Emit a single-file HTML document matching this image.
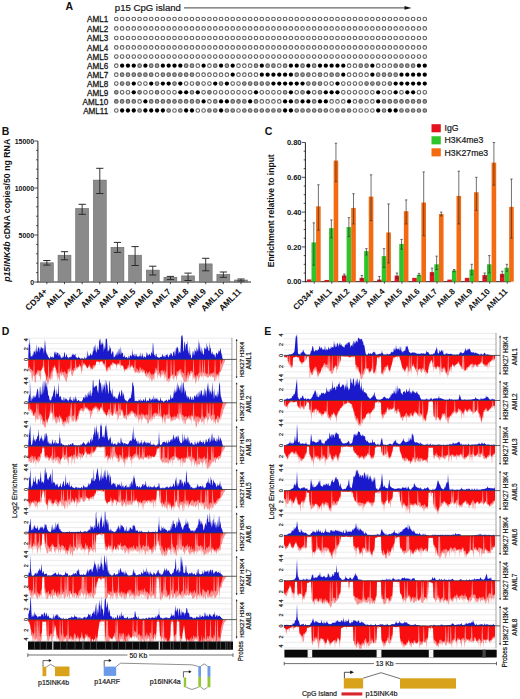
<!DOCTYPE html>
<html><head><meta charset="utf-8"><style>
html,body{margin:0;padding:0;background:#fff;}
svg{display:block;font-family:"Liberation Sans", sans-serif;}
text:not([font-weight=bold]){stroke:#1a1a1a;stroke-width:0.2px;}
</style></head><body>
<svg width="520" height="699" viewBox="0 0 520 699" font-family='"Liberation Sans", sans-serif' fill="#111">
<text x="65.5" y="9.6" font-size="10.5" font-weight="bold">A</text>
<text x="114.8" y="11.2" font-size="9.6">p15 CpG island</text>
<line x1="184" y1="7.9" x2="406" y2="7.9" stroke="#3a3a3a" stroke-width="0.95"/>
<path d="M404.5,6.1 L411.5,7.9 L404.5,9.7 Z" fill="#111"/>
<text transform="translate(108.2,22.20) scale(0.9,1)" font-size="9" text-anchor="end" style="stroke-width:0.3px">AML1</text>
<circle cx="116.30" cy="19.00" r="1.8" fill="#fff" stroke="#606060" stroke-width="1.1"/>
<circle cx="122.12" cy="19.00" r="1.8" fill="#fff" stroke="#606060" stroke-width="1.1"/>
<circle cx="127.94" cy="19.00" r="1.8" fill="#fff" stroke="#606060" stroke-width="1.1"/>
<circle cx="133.76" cy="19.00" r="1.8" fill="#fff" stroke="#606060" stroke-width="1.1"/>
<circle cx="139.58" cy="19.00" r="1.8" fill="#fff" stroke="#606060" stroke-width="1.1"/>
<circle cx="145.40" cy="19.00" r="1.8" fill="#fff" stroke="#606060" stroke-width="1.1"/>
<circle cx="151.22" cy="19.00" r="1.8" fill="#fff" stroke="#606060" stroke-width="1.1"/>
<circle cx="157.04" cy="19.00" r="1.8" fill="#fff" stroke="#606060" stroke-width="1.1"/>
<circle cx="162.86" cy="19.00" r="1.8" fill="#fff" stroke="#606060" stroke-width="1.1"/>
<circle cx="168.68" cy="19.00" r="1.8" fill="#fff" stroke="#606060" stroke-width="1.1"/>
<circle cx="174.50" cy="19.00" r="1.8" fill="#fff" stroke="#606060" stroke-width="1.1"/>
<circle cx="180.32" cy="19.00" r="1.8" fill="#fff" stroke="#606060" stroke-width="1.1"/>
<circle cx="186.14" cy="19.00" r="1.8" fill="#fff" stroke="#606060" stroke-width="1.1"/>
<circle cx="191.96" cy="19.00" r="1.8" fill="#fff" stroke="#606060" stroke-width="1.1"/>
<circle cx="197.78" cy="19.00" r="1.8" fill="#fff" stroke="#606060" stroke-width="1.1"/>
<circle cx="203.60" cy="19.00" r="1.8" fill="#fff" stroke="#606060" stroke-width="1.1"/>
<circle cx="209.42" cy="19.00" r="1.8" fill="#fff" stroke="#606060" stroke-width="1.1"/>
<circle cx="215.24" cy="19.00" r="1.8" fill="#fff" stroke="#606060" stroke-width="1.1"/>
<circle cx="221.06" cy="19.00" r="1.8" fill="#fff" stroke="#606060" stroke-width="1.1"/>
<circle cx="226.88" cy="19.00" r="1.8" fill="#fff" stroke="#606060" stroke-width="1.1"/>
<circle cx="232.70" cy="19.00" r="1.8" fill="#fff" stroke="#606060" stroke-width="1.1"/>
<circle cx="238.52" cy="19.00" r="1.8" fill="#fff" stroke="#606060" stroke-width="1.1"/>
<circle cx="244.34" cy="19.00" r="1.8" fill="#fff" stroke="#606060" stroke-width="1.1"/>
<circle cx="250.16" cy="19.00" r="1.8" fill="#fff" stroke="#606060" stroke-width="1.1"/>
<circle cx="255.98" cy="19.00" r="1.8" fill="#fff" stroke="#606060" stroke-width="1.1"/>
<circle cx="261.80" cy="19.00" r="1.8" fill="#fff" stroke="#606060" stroke-width="1.1"/>
<circle cx="267.62" cy="19.00" r="1.8" fill="#fff" stroke="#606060" stroke-width="1.1"/>
<circle cx="273.44" cy="19.00" r="1.8" fill="#fff" stroke="#606060" stroke-width="1.1"/>
<circle cx="279.26" cy="19.00" r="1.8" fill="#fff" stroke="#606060" stroke-width="1.1"/>
<circle cx="285.08" cy="19.00" r="1.8" fill="#fff" stroke="#606060" stroke-width="1.1"/>
<circle cx="290.90" cy="19.00" r="1.8" fill="#fff" stroke="#606060" stroke-width="1.1"/>
<circle cx="296.72" cy="19.00" r="1.8" fill="#fff" stroke="#606060" stroke-width="1.1"/>
<circle cx="302.54" cy="19.00" r="1.8" fill="#fff" stroke="#606060" stroke-width="1.1"/>
<circle cx="308.36" cy="19.00" r="1.8" fill="#fff" stroke="#606060" stroke-width="1.1"/>
<circle cx="314.18" cy="19.00" r="1.8" fill="#fff" stroke="#606060" stroke-width="1.1"/>
<circle cx="320.00" cy="19.00" r="1.8" fill="#fff" stroke="#606060" stroke-width="1.1"/>
<circle cx="325.82" cy="19.00" r="1.8" fill="#fff" stroke="#606060" stroke-width="1.1"/>
<circle cx="331.64" cy="19.00" r="1.8" fill="#fff" stroke="#606060" stroke-width="1.1"/>
<circle cx="337.46" cy="19.00" r="1.8" fill="#fff" stroke="#606060" stroke-width="1.1"/>
<circle cx="343.28" cy="19.00" r="1.8" fill="#fff" stroke="#606060" stroke-width="1.1"/>
<circle cx="349.10" cy="19.00" r="1.8" fill="#fff" stroke="#606060" stroke-width="1.1"/>
<circle cx="354.92" cy="19.00" r="1.8" fill="#fff" stroke="#606060" stroke-width="1.1"/>
<circle cx="360.74" cy="19.00" r="1.8" fill="#fff" stroke="#606060" stroke-width="1.1"/>
<circle cx="366.56" cy="19.00" r="1.8" fill="#fff" stroke="#606060" stroke-width="1.1"/>
<circle cx="372.38" cy="19.00" r="1.8" fill="#fff" stroke="#606060" stroke-width="1.1"/>
<circle cx="378.20" cy="19.00" r="1.8" fill="#fff" stroke="#606060" stroke-width="1.1"/>
<circle cx="384.02" cy="19.00" r="1.8" fill="#fff" stroke="#606060" stroke-width="1.1"/>
<circle cx="389.84" cy="19.00" r="1.8" fill="#fff" stroke="#606060" stroke-width="1.1"/>
<circle cx="395.66" cy="19.00" r="1.8" fill="#fff" stroke="#606060" stroke-width="1.1"/>
<circle cx="401.48" cy="19.00" r="1.8" fill="#fff" stroke="#606060" stroke-width="1.1"/>
<circle cx="407.30" cy="19.00" r="1.8" fill="#fff" stroke="#606060" stroke-width="1.1"/>
<circle cx="413.12" cy="19.00" r="1.8" fill="#fff" stroke="#606060" stroke-width="1.1"/>
<circle cx="418.94" cy="19.00" r="1.8" fill="#fff" stroke="#606060" stroke-width="1.1"/>
<circle cx="424.76" cy="19.00" r="1.8" fill="#fff" stroke="#606060" stroke-width="1.1"/>
<text transform="translate(108.2,31.60) scale(0.9,1)" font-size="9" text-anchor="end" style="stroke-width:0.3px">AML2</text>
<circle cx="116.30" cy="28.40" r="1.8" fill="#fff" stroke="#606060" stroke-width="1.1"/>
<circle cx="122.12" cy="28.40" r="1.8" fill="#fff" stroke="#606060" stroke-width="1.1"/>
<circle cx="127.94" cy="28.40" r="1.8" fill="#fff" stroke="#606060" stroke-width="1.1"/>
<circle cx="133.76" cy="28.40" r="1.8" fill="#fff" stroke="#606060" stroke-width="1.1"/>
<circle cx="139.58" cy="28.40" r="1.8" fill="#fff" stroke="#606060" stroke-width="1.1"/>
<circle cx="145.40" cy="28.40" r="1.8" fill="#fff" stroke="#606060" stroke-width="1.1"/>
<circle cx="151.22" cy="28.40" r="1.8" fill="#fff" stroke="#606060" stroke-width="1.1"/>
<circle cx="157.04" cy="28.40" r="1.8" fill="#fff" stroke="#606060" stroke-width="1.1"/>
<circle cx="162.86" cy="28.40" r="1.8" fill="#fff" stroke="#606060" stroke-width="1.1"/>
<circle cx="168.68" cy="28.40" r="1.8" fill="#fff" stroke="#606060" stroke-width="1.1"/>
<circle cx="174.50" cy="28.40" r="1.8" fill="#fff" stroke="#606060" stroke-width="1.1"/>
<circle cx="180.32" cy="28.40" r="1.8" fill="#fff" stroke="#606060" stroke-width="1.1"/>
<circle cx="186.14" cy="28.40" r="1.8" fill="#fff" stroke="#606060" stroke-width="1.1"/>
<circle cx="191.96" cy="28.40" r="1.8" fill="#fff" stroke="#606060" stroke-width="1.1"/>
<circle cx="197.78" cy="28.40" r="1.8" fill="#fff" stroke="#606060" stroke-width="1.1"/>
<circle cx="203.60" cy="28.40" r="1.8" fill="#fff" stroke="#606060" stroke-width="1.1"/>
<circle cx="209.42" cy="28.40" r="1.8" fill="#fff" stroke="#606060" stroke-width="1.1"/>
<circle cx="215.24" cy="28.40" r="1.8" fill="#fff" stroke="#606060" stroke-width="1.1"/>
<circle cx="221.06" cy="28.40" r="1.8" fill="#fff" stroke="#606060" stroke-width="1.1"/>
<circle cx="226.88" cy="28.40" r="1.8" fill="#fff" stroke="#606060" stroke-width="1.1"/>
<circle cx="232.70" cy="28.40" r="1.8" fill="#fff" stroke="#606060" stroke-width="1.1"/>
<circle cx="238.52" cy="28.40" r="1.8" fill="#fff" stroke="#606060" stroke-width="1.1"/>
<circle cx="244.34" cy="28.40" r="1.8" fill="#fff" stroke="#606060" stroke-width="1.1"/>
<circle cx="250.16" cy="28.40" r="1.8" fill="#fff" stroke="#606060" stroke-width="1.1"/>
<circle cx="255.98" cy="28.40" r="1.8" fill="#fff" stroke="#606060" stroke-width="1.1"/>
<circle cx="261.80" cy="28.40" r="1.8" fill="#fff" stroke="#606060" stroke-width="1.1"/>
<circle cx="267.62" cy="28.40" r="1.8" fill="#fff" stroke="#606060" stroke-width="1.1"/>
<circle cx="273.44" cy="28.40" r="1.8" fill="#fff" stroke="#606060" stroke-width="1.1"/>
<circle cx="279.26" cy="28.40" r="1.8" fill="#fff" stroke="#606060" stroke-width="1.1"/>
<circle cx="285.08" cy="28.40" r="1.8" fill="#fff" stroke="#606060" stroke-width="1.1"/>
<circle cx="290.90" cy="28.40" r="1.8" fill="#fff" stroke="#606060" stroke-width="1.1"/>
<circle cx="296.72" cy="28.40" r="1.8" fill="#fff" stroke="#606060" stroke-width="1.1"/>
<circle cx="302.54" cy="28.40" r="1.8" fill="#fff" stroke="#606060" stroke-width="1.1"/>
<circle cx="308.36" cy="28.40" r="1.8" fill="#fff" stroke="#606060" stroke-width="1.1"/>
<circle cx="314.18" cy="28.40" r="1.8" fill="#fff" stroke="#606060" stroke-width="1.1"/>
<circle cx="320.00" cy="28.40" r="1.8" fill="#fff" stroke="#606060" stroke-width="1.1"/>
<circle cx="325.82" cy="28.40" r="1.8" fill="#fff" stroke="#606060" stroke-width="1.1"/>
<circle cx="331.64" cy="28.40" r="1.8" fill="#fff" stroke="#606060" stroke-width="1.1"/>
<circle cx="337.46" cy="28.40" r="1.8" fill="#fff" stroke="#606060" stroke-width="1.1"/>
<circle cx="343.28" cy="28.40" r="1.8" fill="#fff" stroke="#606060" stroke-width="1.1"/>
<circle cx="349.10" cy="28.40" r="1.8" fill="#fff" stroke="#606060" stroke-width="1.1"/>
<circle cx="354.92" cy="28.40" r="1.8" fill="#fff" stroke="#606060" stroke-width="1.1"/>
<circle cx="360.74" cy="28.40" r="1.8" fill="#fff" stroke="#606060" stroke-width="1.1"/>
<circle cx="366.56" cy="28.40" r="1.8" fill="#fff" stroke="#606060" stroke-width="1.1"/>
<circle cx="372.38" cy="28.40" r="1.8" fill="#fff" stroke="#606060" stroke-width="1.1"/>
<circle cx="378.20" cy="28.40" r="1.8" fill="#fff" stroke="#606060" stroke-width="1.1"/>
<circle cx="384.02" cy="28.40" r="1.8" fill="#fff" stroke="#606060" stroke-width="1.1"/>
<circle cx="389.84" cy="28.40" r="1.8" fill="#fff" stroke="#606060" stroke-width="1.1"/>
<circle cx="395.66" cy="28.40" r="1.8" fill="#fff" stroke="#606060" stroke-width="1.1"/>
<circle cx="401.48" cy="28.40" r="1.8" fill="#fff" stroke="#606060" stroke-width="1.1"/>
<circle cx="407.30" cy="28.40" r="1.8" fill="#fff" stroke="#606060" stroke-width="1.1"/>
<circle cx="413.12" cy="28.40" r="1.8" fill="#fff" stroke="#606060" stroke-width="1.1"/>
<circle cx="418.94" cy="28.40" r="1.8" fill="#fff" stroke="#606060" stroke-width="1.1"/>
<circle cx="424.76" cy="28.40" r="1.8" fill="#fff" stroke="#606060" stroke-width="1.1"/>
<text transform="translate(108.2,41.20) scale(0.9,1)" font-size="9" text-anchor="end" style="stroke-width:0.3px">AML3</text>
<circle cx="116.30" cy="38.00" r="1.8" fill="#fff" stroke="#606060" stroke-width="1.1"/>
<circle cx="122.12" cy="38.00" r="1.8" fill="#fff" stroke="#606060" stroke-width="1.1"/>
<circle cx="127.94" cy="38.00" r="1.8" fill="#fff" stroke="#606060" stroke-width="1.1"/>
<circle cx="133.76" cy="38.00" r="1.8" fill="#fff" stroke="#606060" stroke-width="1.1"/>
<circle cx="139.58" cy="38.00" r="1.8" fill="#fff" stroke="#606060" stroke-width="1.1"/>
<circle cx="145.40" cy="38.00" r="1.8" fill="#fff" stroke="#606060" stroke-width="1.1"/>
<circle cx="151.22" cy="38.00" r="1.8" fill="#fff" stroke="#606060" stroke-width="1.1"/>
<circle cx="157.04" cy="38.00" r="1.8" fill="#fff" stroke="#606060" stroke-width="1.1"/>
<circle cx="162.86" cy="38.00" r="1.8" fill="#fff" stroke="#606060" stroke-width="1.1"/>
<circle cx="168.68" cy="38.00" r="1.8" fill="#fff" stroke="#606060" stroke-width="1.1"/>
<circle cx="174.50" cy="38.00" r="1.8" fill="#fff" stroke="#606060" stroke-width="1.1"/>
<circle cx="180.32" cy="38.00" r="1.8" fill="#fff" stroke="#606060" stroke-width="1.1"/>
<circle cx="186.14" cy="38.00" r="1.8" fill="#fff" stroke="#606060" stroke-width="1.1"/>
<circle cx="191.96" cy="38.00" r="1.8" fill="#fff" stroke="#606060" stroke-width="1.1"/>
<circle cx="197.78" cy="38.00" r="1.8" fill="#fff" stroke="#606060" stroke-width="1.1"/>
<circle cx="203.60" cy="38.00" r="1.8" fill="#fff" stroke="#606060" stroke-width="1.1"/>
<circle cx="209.42" cy="38.00" r="1.8" fill="#fff" stroke="#606060" stroke-width="1.1"/>
<circle cx="215.24" cy="38.00" r="1.8" fill="#fff" stroke="#606060" stroke-width="1.1"/>
<circle cx="221.06" cy="38.00" r="1.8" fill="#fff" stroke="#606060" stroke-width="1.1"/>
<circle cx="226.88" cy="38.00" r="1.8" fill="#fff" stroke="#606060" stroke-width="1.1"/>
<circle cx="232.70" cy="38.00" r="1.8" fill="#fff" stroke="#606060" stroke-width="1.1"/>
<circle cx="238.52" cy="38.00" r="1.8" fill="#fff" stroke="#606060" stroke-width="1.1"/>
<circle cx="244.34" cy="38.00" r="1.8" fill="#fff" stroke="#606060" stroke-width="1.1"/>
<circle cx="250.16" cy="38.00" r="1.8" fill="#fff" stroke="#606060" stroke-width="1.1"/>
<circle cx="255.98" cy="38.00" r="1.8" fill="#fff" stroke="#606060" stroke-width="1.1"/>
<circle cx="261.80" cy="38.00" r="1.8" fill="#fff" stroke="#606060" stroke-width="1.1"/>
<circle cx="267.62" cy="38.00" r="1.8" fill="#fff" stroke="#606060" stroke-width="1.1"/>
<circle cx="273.44" cy="38.00" r="1.8" fill="#fff" stroke="#606060" stroke-width="1.1"/>
<circle cx="279.26" cy="38.00" r="1.8" fill="#fff" stroke="#606060" stroke-width="1.1"/>
<circle cx="285.08" cy="38.00" r="1.8" fill="#fff" stroke="#606060" stroke-width="1.1"/>
<circle cx="290.90" cy="38.00" r="1.8" fill="#fff" stroke="#606060" stroke-width="1.1"/>
<circle cx="296.72" cy="38.00" r="1.8" fill="#fff" stroke="#606060" stroke-width="1.1"/>
<circle cx="302.54" cy="38.00" r="1.8" fill="#fff" stroke="#606060" stroke-width="1.1"/>
<circle cx="308.36" cy="38.00" r="1.8" fill="#fff" stroke="#606060" stroke-width="1.1"/>
<circle cx="314.18" cy="38.00" r="1.8" fill="#fff" stroke="#606060" stroke-width="1.1"/>
<circle cx="320.00" cy="38.00" r="1.8" fill="#fff" stroke="#606060" stroke-width="1.1"/>
<circle cx="325.82" cy="38.00" r="1.8" fill="#fff" stroke="#606060" stroke-width="1.1"/>
<circle cx="331.64" cy="38.00" r="1.8" fill="#fff" stroke="#606060" stroke-width="1.1"/>
<circle cx="337.46" cy="38.00" r="1.8" fill="#fff" stroke="#606060" stroke-width="1.1"/>
<circle cx="343.28" cy="38.00" r="1.8" fill="#fff" stroke="#606060" stroke-width="1.1"/>
<circle cx="349.10" cy="38.00" r="1.8" fill="#fff" stroke="#606060" stroke-width="1.1"/>
<circle cx="354.92" cy="38.00" r="1.8" fill="#fff" stroke="#606060" stroke-width="1.1"/>
<circle cx="360.74" cy="38.00" r="1.8" fill="#fff" stroke="#606060" stroke-width="1.1"/>
<circle cx="366.56" cy="38.00" r="1.8" fill="#fff" stroke="#606060" stroke-width="1.1"/>
<circle cx="372.38" cy="38.00" r="1.8" fill="#fff" stroke="#606060" stroke-width="1.1"/>
<circle cx="378.20" cy="38.00" r="1.8" fill="#fff" stroke="#606060" stroke-width="1.1"/>
<circle cx="384.02" cy="38.00" r="1.8" fill="#fff" stroke="#606060" stroke-width="1.1"/>
<circle cx="389.84" cy="38.00" r="1.8" fill="#fff" stroke="#606060" stroke-width="1.1"/>
<circle cx="395.66" cy="38.00" r="1.8" fill="#fff" stroke="#606060" stroke-width="1.1"/>
<circle cx="401.48" cy="38.00" r="1.8" fill="#fff" stroke="#606060" stroke-width="1.1"/>
<circle cx="407.30" cy="38.00" r="1.8" fill="#fff" stroke="#606060" stroke-width="1.1"/>
<circle cx="413.12" cy="38.00" r="1.8" fill="#fff" stroke="#606060" stroke-width="1.1"/>
<circle cx="418.94" cy="38.00" r="1.8" fill="#fff" stroke="#606060" stroke-width="1.1"/>
<circle cx="424.76" cy="38.00" r="1.8" fill="#fff" stroke="#606060" stroke-width="1.1"/>
<text transform="translate(108.2,50.60) scale(0.9,1)" font-size="9" text-anchor="end" style="stroke-width:0.3px">AML4</text>
<circle cx="116.30" cy="47.40" r="1.8" fill="#fff" stroke="#606060" stroke-width="1.1"/>
<circle cx="122.12" cy="47.40" r="1.8" fill="#fff" stroke="#606060" stroke-width="1.1"/>
<circle cx="127.94" cy="47.40" r="1.8" fill="#fff" stroke="#606060" stroke-width="1.1"/>
<circle cx="133.76" cy="47.40" r="1.8" fill="#fff" stroke="#606060" stroke-width="1.1"/>
<circle cx="139.58" cy="47.40" r="1.8" fill="#fff" stroke="#606060" stroke-width="1.1"/>
<circle cx="145.40" cy="47.40" r="1.8" fill="#fff" stroke="#606060" stroke-width="1.1"/>
<circle cx="151.22" cy="47.40" r="1.8" fill="#fff" stroke="#606060" stroke-width="1.1"/>
<circle cx="157.04" cy="47.40" r="1.8" fill="#fff" stroke="#606060" stroke-width="1.1"/>
<circle cx="162.86" cy="47.40" r="1.8" fill="#fff" stroke="#606060" stroke-width="1.1"/>
<circle cx="168.68" cy="47.40" r="1.8" fill="#fff" stroke="#606060" stroke-width="1.1"/>
<circle cx="174.50" cy="47.40" r="1.8" fill="#fff" stroke="#606060" stroke-width="1.1"/>
<circle cx="180.32" cy="47.40" r="1.8" fill="#fff" stroke="#606060" stroke-width="1.1"/>
<circle cx="186.14" cy="47.40" r="1.8" fill="#fff" stroke="#606060" stroke-width="1.1"/>
<circle cx="191.96" cy="47.40" r="1.8" fill="#fff" stroke="#606060" stroke-width="1.1"/>
<circle cx="197.78" cy="47.40" r="1.8" fill="#fff" stroke="#606060" stroke-width="1.1"/>
<circle cx="203.60" cy="47.40" r="1.8" fill="#fff" stroke="#606060" stroke-width="1.1"/>
<circle cx="209.42" cy="47.40" r="1.8" fill="#fff" stroke="#606060" stroke-width="1.1"/>
<circle cx="215.24" cy="47.40" r="1.8" fill="#fff" stroke="#606060" stroke-width="1.1"/>
<circle cx="221.06" cy="47.40" r="1.8" fill="#fff" stroke="#606060" stroke-width="1.1"/>
<circle cx="226.88" cy="47.40" r="1.8" fill="#fff" stroke="#606060" stroke-width="1.1"/>
<circle cx="232.70" cy="47.40" r="1.8" fill="#fff" stroke="#606060" stroke-width="1.1"/>
<circle cx="238.52" cy="47.40" r="1.8" fill="#fff" stroke="#606060" stroke-width="1.1"/>
<circle cx="244.34" cy="47.40" r="1.8" fill="#fff" stroke="#606060" stroke-width="1.1"/>
<circle cx="250.16" cy="47.40" r="1.8" fill="#fff" stroke="#606060" stroke-width="1.1"/>
<circle cx="255.98" cy="47.40" r="1.8" fill="#fff" stroke="#606060" stroke-width="1.1"/>
<circle cx="261.80" cy="47.40" r="1.8" fill="#fff" stroke="#606060" stroke-width="1.1"/>
<circle cx="267.62" cy="47.40" r="1.8" fill="#fff" stroke="#606060" stroke-width="1.1"/>
<circle cx="273.44" cy="47.40" r="1.8" fill="#fff" stroke="#606060" stroke-width="1.1"/>
<circle cx="279.26" cy="47.40" r="1.8" fill="#fff" stroke="#606060" stroke-width="1.1"/>
<circle cx="285.08" cy="47.40" r="1.8" fill="#fff" stroke="#606060" stroke-width="1.1"/>
<circle cx="290.90" cy="47.40" r="1.8" fill="#fff" stroke="#606060" stroke-width="1.1"/>
<circle cx="296.72" cy="47.40" r="1.8" fill="#fff" stroke="#606060" stroke-width="1.1"/>
<circle cx="302.54" cy="47.40" r="1.8" fill="#fff" stroke="#606060" stroke-width="1.1"/>
<circle cx="308.36" cy="47.40" r="1.8" fill="#fff" stroke="#606060" stroke-width="1.1"/>
<circle cx="314.18" cy="47.40" r="1.8" fill="#fff" stroke="#606060" stroke-width="1.1"/>
<circle cx="320.00" cy="47.40" r="1.8" fill="#fff" stroke="#606060" stroke-width="1.1"/>
<circle cx="325.82" cy="47.40" r="1.8" fill="#fff" stroke="#606060" stroke-width="1.1"/>
<circle cx="331.64" cy="47.40" r="1.8" fill="#fff" stroke="#606060" stroke-width="1.1"/>
<circle cx="337.46" cy="47.40" r="1.8" fill="#fff" stroke="#606060" stroke-width="1.1"/>
<circle cx="343.28" cy="47.40" r="1.8" fill="#fff" stroke="#606060" stroke-width="1.1"/>
<circle cx="349.10" cy="47.40" r="1.8" fill="#fff" stroke="#606060" stroke-width="1.1"/>
<circle cx="354.92" cy="47.40" r="1.8" fill="#fff" stroke="#606060" stroke-width="1.1"/>
<circle cx="360.74" cy="47.40" r="1.8" fill="#fff" stroke="#606060" stroke-width="1.1"/>
<circle cx="366.56" cy="47.40" r="1.8" fill="#fff" stroke="#606060" stroke-width="1.1"/>
<circle cx="372.38" cy="47.40" r="1.8" fill="#fff" stroke="#606060" stroke-width="1.1"/>
<circle cx="378.20" cy="47.40" r="1.8" fill="#fff" stroke="#606060" stroke-width="1.1"/>
<circle cx="384.02" cy="47.40" r="1.8" fill="#fff" stroke="#606060" stroke-width="1.1"/>
<circle cx="389.84" cy="47.40" r="1.8" fill="#fff" stroke="#606060" stroke-width="1.1"/>
<circle cx="395.66" cy="47.40" r="1.8" fill="#fff" stroke="#606060" stroke-width="1.1"/>
<circle cx="401.48" cy="47.40" r="1.8" fill="#fff" stroke="#606060" stroke-width="1.1"/>
<circle cx="407.30" cy="47.40" r="1.8" fill="#fff" stroke="#606060" stroke-width="1.1"/>
<circle cx="413.12" cy="47.40" r="1.8" fill="#fff" stroke="#606060" stroke-width="1.1"/>
<circle cx="418.94" cy="47.40" r="1.8" fill="#fff" stroke="#606060" stroke-width="1.1"/>
<circle cx="424.76" cy="47.40" r="1.8" fill="#fff" stroke="#606060" stroke-width="1.1"/>
<text transform="translate(108.2,59.80) scale(0.9,1)" font-size="9" text-anchor="end" style="stroke-width:0.3px">AML5</text>
<circle cx="116.30" cy="56.60" r="1.8" fill="#fff" stroke="#606060" stroke-width="1.1"/>
<circle cx="122.12" cy="56.60" r="1.8" fill="#fff" stroke="#606060" stroke-width="1.1"/>
<circle cx="127.94" cy="56.60" r="1.8" fill="#fff" stroke="#606060" stroke-width="1.1"/>
<circle cx="133.76" cy="56.60" r="1.8" fill="#fff" stroke="#606060" stroke-width="1.1"/>
<circle cx="139.58" cy="56.60" r="1.8" fill="#fff" stroke="#606060" stroke-width="1.1"/>
<circle cx="145.40" cy="56.60" r="1.8" fill="#fff" stroke="#606060" stroke-width="1.1"/>
<circle cx="151.22" cy="56.60" r="1.8" fill="#fff" stroke="#606060" stroke-width="1.1"/>
<circle cx="157.04" cy="56.60" r="1.8" fill="#fff" stroke="#606060" stroke-width="1.1"/>
<circle cx="162.86" cy="56.60" r="1.8" fill="#fff" stroke="#606060" stroke-width="1.1"/>
<circle cx="168.68" cy="56.60" r="1.8" fill="#fff" stroke="#606060" stroke-width="1.1"/>
<circle cx="174.50" cy="56.60" r="1.8" fill="#fff" stroke="#606060" stroke-width="1.1"/>
<circle cx="180.32" cy="56.60" r="1.8" fill="#fff" stroke="#606060" stroke-width="1.1"/>
<circle cx="186.14" cy="56.60" r="1.8" fill="#fff" stroke="#606060" stroke-width="1.1"/>
<circle cx="191.96" cy="56.60" r="1.8" fill="#fff" stroke="#606060" stroke-width="1.1"/>
<circle cx="197.78" cy="56.60" r="1.8" fill="#fff" stroke="#606060" stroke-width="1.1"/>
<circle cx="203.60" cy="56.60" r="1.8" fill="#fff" stroke="#606060" stroke-width="1.1"/>
<circle cx="209.42" cy="56.60" r="1.8" fill="#fff" stroke="#606060" stroke-width="1.1"/>
<circle cx="215.24" cy="56.60" r="1.8" fill="#fff" stroke="#606060" stroke-width="1.1"/>
<circle cx="221.06" cy="56.60" r="1.8" fill="#fff" stroke="#606060" stroke-width="1.1"/>
<circle cx="226.88" cy="56.60" r="1.8" fill="#fff" stroke="#606060" stroke-width="1.1"/>
<circle cx="232.70" cy="56.60" r="1.8" fill="#fff" stroke="#606060" stroke-width="1.1"/>
<circle cx="238.52" cy="56.60" r="1.8" fill="#fff" stroke="#606060" stroke-width="1.1"/>
<circle cx="244.34" cy="56.60" r="1.8" fill="#fff" stroke="#606060" stroke-width="1.1"/>
<circle cx="250.16" cy="56.60" r="1.8" fill="#fff" stroke="#606060" stroke-width="1.1"/>
<circle cx="255.98" cy="56.60" r="1.8" fill="#fff" stroke="#606060" stroke-width="1.1"/>
<circle cx="261.80" cy="56.60" r="1.8" fill="#fff" stroke="#606060" stroke-width="1.1"/>
<circle cx="267.62" cy="56.60" r="1.8" fill="#fff" stroke="#606060" stroke-width="1.1"/>
<circle cx="273.44" cy="56.60" r="1.8" fill="#fff" stroke="#606060" stroke-width="1.1"/>
<circle cx="279.26" cy="56.60" r="1.8" fill="#fff" stroke="#606060" stroke-width="1.1"/>
<circle cx="285.08" cy="56.60" r="1.8" fill="#fff" stroke="#606060" stroke-width="1.1"/>
<circle cx="290.90" cy="56.60" r="1.8" fill="#fff" stroke="#606060" stroke-width="1.1"/>
<circle cx="296.72" cy="56.60" r="1.8" fill="#fff" stroke="#606060" stroke-width="1.1"/>
<circle cx="302.54" cy="56.60" r="1.8" fill="#fff" stroke="#606060" stroke-width="1.1"/>
<circle cx="308.36" cy="56.60" r="1.8" fill="#fff" stroke="#606060" stroke-width="1.1"/>
<circle cx="314.18" cy="56.60" r="1.8" fill="#fff" stroke="#606060" stroke-width="1.1"/>
<circle cx="320.00" cy="56.60" r="1.8" fill="#fff" stroke="#606060" stroke-width="1.1"/>
<circle cx="325.82" cy="56.60" r="1.8" fill="#fff" stroke="#606060" stroke-width="1.1"/>
<circle cx="331.64" cy="56.60" r="1.8" fill="#fff" stroke="#606060" stroke-width="1.1"/>
<circle cx="337.46" cy="56.60" r="1.8" fill="#fff" stroke="#606060" stroke-width="1.1"/>
<circle cx="343.28" cy="56.60" r="1.8" fill="#fff" stroke="#606060" stroke-width="1.1"/>
<circle cx="349.10" cy="56.60" r="1.8" fill="#fff" stroke="#606060" stroke-width="1.1"/>
<circle cx="354.92" cy="56.60" r="1.8" fill="#fff" stroke="#606060" stroke-width="1.1"/>
<circle cx="360.74" cy="56.60" r="1.8" fill="#fff" stroke="#606060" stroke-width="1.1"/>
<circle cx="366.56" cy="56.60" r="1.8" fill="#fff" stroke="#606060" stroke-width="1.1"/>
<circle cx="372.38" cy="56.60" r="1.8" fill="#fff" stroke="#606060" stroke-width="1.1"/>
<circle cx="378.20" cy="56.60" r="1.8" fill="#fff" stroke="#606060" stroke-width="1.1"/>
<circle cx="384.02" cy="56.60" r="1.8" fill="#fff" stroke="#606060" stroke-width="1.1"/>
<circle cx="389.84" cy="56.60" r="1.8" fill="#fff" stroke="#606060" stroke-width="1.1"/>
<circle cx="395.66" cy="56.60" r="1.8" fill="#fff" stroke="#606060" stroke-width="1.1"/>
<circle cx="401.48" cy="56.60" r="1.8" fill="#fff" stroke="#606060" stroke-width="1.1"/>
<circle cx="407.30" cy="56.60" r="1.8" fill="#fff" stroke="#606060" stroke-width="1.1"/>
<circle cx="413.12" cy="56.60" r="1.8" fill="#fff" stroke="#606060" stroke-width="1.1"/>
<circle cx="418.94" cy="56.60" r="1.8" fill="#fff" stroke="#606060" stroke-width="1.1"/>
<circle cx="424.76" cy="56.60" r="1.8" fill="#fff" stroke="#606060" stroke-width="1.1"/>
<text transform="translate(108.2,68.90) scale(0.9,1)" font-size="9" text-anchor="end" style="stroke-width:0.3px">AML6</text>
<circle cx="116.30" cy="65.70" r="1.8" fill="#fff" stroke="#606060" stroke-width="1.1"/>
<circle cx="122.12" cy="65.70" r="2.15" fill="#000"/>
<circle cx="127.94" cy="65.70" r="2.15" fill="#000"/>
<circle cx="133.76" cy="65.70" r="2.15" fill="#000"/>
<circle cx="139.58" cy="65.70" r="1.8" fill="#a0a0a0" stroke="#5a5a5a" stroke-width="1.1"/>
<circle cx="145.40" cy="65.70" r="2.15" fill="#000"/>
<circle cx="151.22" cy="65.70" r="1.8" fill="#a0a0a0" stroke="#5a5a5a" stroke-width="1.1"/>
<circle cx="157.04" cy="65.70" r="1.8" fill="#a0a0a0" stroke="#5a5a5a" stroke-width="1.1"/>
<circle cx="162.86" cy="65.70" r="2.15" fill="#000"/>
<circle cx="168.68" cy="65.70" r="2.15" fill="#000"/>
<circle cx="174.50" cy="65.70" r="2.15" fill="#000"/>
<circle cx="180.32" cy="65.70" r="2.15" fill="#000"/>
<circle cx="186.14" cy="65.70" r="1.8" fill="#a0a0a0" stroke="#5a5a5a" stroke-width="1.1"/>
<circle cx="191.96" cy="65.70" r="1.8" fill="#a0a0a0" stroke="#5a5a5a" stroke-width="1.1"/>
<circle cx="197.78" cy="65.70" r="1.8" fill="#fff" stroke="#606060" stroke-width="1.1"/>
<circle cx="203.60" cy="65.70" r="2.15" fill="#000"/>
<circle cx="209.42" cy="65.70" r="1.8" fill="#fff" stroke="#606060" stroke-width="1.1"/>
<circle cx="215.24" cy="65.70" r="1.8" fill="#a0a0a0" stroke="#5a5a5a" stroke-width="1.1"/>
<circle cx="221.06" cy="65.70" r="2.15" fill="#000"/>
<circle cx="226.88" cy="65.70" r="1.8" fill="#a0a0a0" stroke="#5a5a5a" stroke-width="1.1"/>
<circle cx="232.70" cy="65.70" r="2.15" fill="#000"/>
<circle cx="238.52" cy="65.70" r="1.8" fill="#fff" stroke="#606060" stroke-width="1.1"/>
<circle cx="244.34" cy="65.70" r="1.8" fill="#fff" stroke="#606060" stroke-width="1.1"/>
<circle cx="250.16" cy="65.70" r="1.8" fill="#fff" stroke="#606060" stroke-width="1.1"/>
<circle cx="255.98" cy="65.70" r="1.8" fill="#a0a0a0" stroke="#5a5a5a" stroke-width="1.1"/>
<circle cx="261.80" cy="65.70" r="2.15" fill="#000"/>
<circle cx="267.62" cy="65.70" r="1.8" fill="#a0a0a0" stroke="#5a5a5a" stroke-width="1.1"/>
<circle cx="273.44" cy="65.70" r="1.8" fill="#a0a0a0" stroke="#5a5a5a" stroke-width="1.1"/>
<circle cx="279.26" cy="65.70" r="1.8" fill="#fff" stroke="#606060" stroke-width="1.1"/>
<circle cx="285.08" cy="65.70" r="1.8" fill="#a0a0a0" stroke="#5a5a5a" stroke-width="1.1"/>
<circle cx="290.90" cy="65.70" r="2.15" fill="#000"/>
<circle cx="296.72" cy="65.70" r="2.15" fill="#000"/>
<circle cx="302.54" cy="65.70" r="1.8" fill="#a0a0a0" stroke="#5a5a5a" stroke-width="1.1"/>
<circle cx="308.36" cy="65.70" r="2.15" fill="#000"/>
<circle cx="314.18" cy="65.70" r="1.8" fill="#a0a0a0" stroke="#5a5a5a" stroke-width="1.1"/>
<circle cx="320.00" cy="65.70" r="2.15" fill="#000"/>
<circle cx="325.82" cy="65.70" r="2.15" fill="#000"/>
<circle cx="331.64" cy="65.70" r="2.15" fill="#000"/>
<circle cx="337.46" cy="65.70" r="2.15" fill="#000"/>
<circle cx="343.28" cy="65.70" r="2.15" fill="#000"/>
<circle cx="349.10" cy="65.70" r="1.8" fill="#fff" stroke="#606060" stroke-width="1.1"/>
<circle cx="354.92" cy="65.70" r="1.8" fill="#fff" stroke="#606060" stroke-width="1.1"/>
<circle cx="360.74" cy="65.70" r="1.8" fill="#a0a0a0" stroke="#5a5a5a" stroke-width="1.1"/>
<circle cx="366.56" cy="65.70" r="1.8" fill="#a0a0a0" stroke="#5a5a5a" stroke-width="1.1"/>
<circle cx="372.38" cy="65.70" r="2.15" fill="#000"/>
<circle cx="378.20" cy="65.70" r="1.8" fill="#fff" stroke="#606060" stroke-width="1.1"/>
<circle cx="384.02" cy="65.70" r="1.8" fill="#fff" stroke="#606060" stroke-width="1.1"/>
<circle cx="389.84" cy="65.70" r="1.8" fill="#fff" stroke="#606060" stroke-width="1.1"/>
<circle cx="395.66" cy="65.70" r="1.8" fill="#a0a0a0" stroke="#5a5a5a" stroke-width="1.1"/>
<circle cx="401.48" cy="65.70" r="1.8" fill="#a0a0a0" stroke="#5a5a5a" stroke-width="1.1"/>
<circle cx="407.30" cy="65.70" r="1.8" fill="#a0a0a0" stroke="#5a5a5a" stroke-width="1.1"/>
<circle cx="413.12" cy="65.70" r="1.8" fill="#a0a0a0" stroke="#5a5a5a" stroke-width="1.1"/>
<circle cx="418.94" cy="65.70" r="2.15" fill="#000"/>
<circle cx="424.76" cy="65.70" r="2.15" fill="#000"/>
<text transform="translate(108.2,77.90) scale(0.9,1)" font-size="9" text-anchor="end" style="stroke-width:0.3px">AML7</text>
<circle cx="116.30" cy="74.70" r="1.8" fill="#fff" stroke="#606060" stroke-width="1.1"/>
<circle cx="122.12" cy="74.70" r="1.8" fill="#a0a0a0" stroke="#5a5a5a" stroke-width="1.1"/>
<circle cx="127.94" cy="74.70" r="1.8" fill="#a0a0a0" stroke="#5a5a5a" stroke-width="1.1"/>
<circle cx="133.76" cy="74.70" r="1.8" fill="#a0a0a0" stroke="#5a5a5a" stroke-width="1.1"/>
<circle cx="139.58" cy="74.70" r="1.8" fill="#a0a0a0" stroke="#5a5a5a" stroke-width="1.1"/>
<circle cx="145.40" cy="74.70" r="1.8" fill="#a0a0a0" stroke="#5a5a5a" stroke-width="1.1"/>
<circle cx="151.22" cy="74.70" r="1.8" fill="#a0a0a0" stroke="#5a5a5a" stroke-width="1.1"/>
<circle cx="157.04" cy="74.70" r="1.8" fill="#fff" stroke="#606060" stroke-width="1.1"/>
<circle cx="162.86" cy="74.70" r="1.8" fill="#a0a0a0" stroke="#5a5a5a" stroke-width="1.1"/>
<circle cx="168.68" cy="74.70" r="1.8" fill="#a0a0a0" stroke="#5a5a5a" stroke-width="1.1"/>
<circle cx="174.50" cy="74.70" r="1.8" fill="#a0a0a0" stroke="#5a5a5a" stroke-width="1.1"/>
<circle cx="180.32" cy="74.70" r="1.8" fill="#a0a0a0" stroke="#5a5a5a" stroke-width="1.1"/>
<circle cx="186.14" cy="74.70" r="1.8" fill="#a0a0a0" stroke="#5a5a5a" stroke-width="1.1"/>
<circle cx="191.96" cy="74.70" r="1.8" fill="#a0a0a0" stroke="#5a5a5a" stroke-width="1.1"/>
<circle cx="197.78" cy="74.70" r="1.8" fill="#fff" stroke="#606060" stroke-width="1.1"/>
<circle cx="203.60" cy="74.70" r="1.8" fill="#fff" stroke="#606060" stroke-width="1.1"/>
<circle cx="209.42" cy="74.70" r="1.8" fill="#fff" stroke="#606060" stroke-width="1.1"/>
<circle cx="215.24" cy="74.70" r="1.8" fill="#fff" stroke="#606060" stroke-width="1.1"/>
<circle cx="221.06" cy="74.70" r="1.8" fill="#fff" stroke="#606060" stroke-width="1.1"/>
<circle cx="226.88" cy="74.70" r="1.8" fill="#fff" stroke="#606060" stroke-width="1.1"/>
<circle cx="232.70" cy="74.70" r="2.15" fill="#000"/>
<circle cx="238.52" cy="74.70" r="1.8" fill="#fff" stroke="#606060" stroke-width="1.1"/>
<circle cx="244.34" cy="74.70" r="1.8" fill="#fff" stroke="#606060" stroke-width="1.1"/>
<circle cx="250.16" cy="74.70" r="1.8" fill="#fff" stroke="#606060" stroke-width="1.1"/>
<circle cx="255.98" cy="74.70" r="1.8" fill="#fff" stroke="#606060" stroke-width="1.1"/>
<circle cx="261.80" cy="74.70" r="2.15" fill="#000"/>
<circle cx="267.62" cy="74.70" r="2.15" fill="#000"/>
<circle cx="273.44" cy="74.70" r="2.15" fill="#000"/>
<circle cx="279.26" cy="74.70" r="2.15" fill="#000"/>
<circle cx="285.08" cy="74.70" r="2.15" fill="#000"/>
<circle cx="290.90" cy="74.70" r="2.15" fill="#000"/>
<circle cx="296.72" cy="74.70" r="1.8" fill="#a0a0a0" stroke="#5a5a5a" stroke-width="1.1"/>
<circle cx="302.54" cy="74.70" r="1.8" fill="#a0a0a0" stroke="#5a5a5a" stroke-width="1.1"/>
<circle cx="308.36" cy="74.70" r="1.8" fill="#a0a0a0" stroke="#5a5a5a" stroke-width="1.1"/>
<circle cx="314.18" cy="74.70" r="1.8" fill="#fff" stroke="#606060" stroke-width="1.1"/>
<circle cx="320.00" cy="74.70" r="1.8" fill="#a0a0a0" stroke="#5a5a5a" stroke-width="1.1"/>
<circle cx="325.82" cy="74.70" r="1.8" fill="#fff" stroke="#606060" stroke-width="1.1"/>
<circle cx="331.64" cy="74.70" r="1.8" fill="#a0a0a0" stroke="#5a5a5a" stroke-width="1.1"/>
<circle cx="337.46" cy="74.70" r="1.8" fill="#a0a0a0" stroke="#5a5a5a" stroke-width="1.1"/>
<circle cx="343.28" cy="74.70" r="2.15" fill="#000"/>
<circle cx="349.10" cy="74.70" r="1.8" fill="#fff" stroke="#606060" stroke-width="1.1"/>
<circle cx="354.92" cy="74.70" r="1.8" fill="#fff" stroke="#606060" stroke-width="1.1"/>
<circle cx="360.74" cy="74.70" r="1.8" fill="#fff" stroke="#606060" stroke-width="1.1"/>
<circle cx="366.56" cy="74.70" r="1.8" fill="#fff" stroke="#606060" stroke-width="1.1"/>
<circle cx="372.38" cy="74.70" r="2.15" fill="#000"/>
<circle cx="378.20" cy="74.70" r="1.8" fill="#a0a0a0" stroke="#5a5a5a" stroke-width="1.1"/>
<circle cx="384.02" cy="74.70" r="1.8" fill="#a0a0a0" stroke="#5a5a5a" stroke-width="1.1"/>
<circle cx="389.84" cy="74.70" r="1.8" fill="#a0a0a0" stroke="#5a5a5a" stroke-width="1.1"/>
<circle cx="395.66" cy="74.70" r="1.8" fill="#a0a0a0" stroke="#5a5a5a" stroke-width="1.1"/>
<circle cx="401.48" cy="74.70" r="2.15" fill="#000"/>
<circle cx="407.30" cy="74.70" r="2.15" fill="#000"/>
<circle cx="413.12" cy="74.70" r="2.15" fill="#000"/>
<circle cx="418.94" cy="74.70" r="2.15" fill="#000"/>
<circle cx="424.76" cy="74.70" r="2.15" fill="#000"/>
<text transform="translate(108.2,86.80) scale(0.9,1)" font-size="9" text-anchor="end" style="stroke-width:0.3px">AML8</text>
<circle cx="116.30" cy="83.60" r="1.8" fill="#fff" stroke="#606060" stroke-width="1.1"/>
<circle cx="122.12" cy="83.60" r="1.8" fill="#a0a0a0" stroke="#5a5a5a" stroke-width="1.1"/>
<circle cx="127.94" cy="83.60" r="1.8" fill="#a0a0a0" stroke="#5a5a5a" stroke-width="1.1"/>
<circle cx="133.76" cy="83.60" r="2.15" fill="#000"/>
<circle cx="139.58" cy="83.60" r="1.8" fill="#fff" stroke="#606060" stroke-width="1.1"/>
<circle cx="145.40" cy="83.60" r="1.8" fill="#fff" stroke="#606060" stroke-width="1.1"/>
<circle cx="151.22" cy="83.60" r="2.15" fill="#000"/>
<circle cx="157.04" cy="83.60" r="1.8" fill="#a0a0a0" stroke="#5a5a5a" stroke-width="1.1"/>
<circle cx="162.86" cy="83.60" r="2.15" fill="#000"/>
<circle cx="168.68" cy="83.60" r="2.15" fill="#000"/>
<circle cx="174.50" cy="83.60" r="1.8" fill="#a0a0a0" stroke="#5a5a5a" stroke-width="1.1"/>
<circle cx="180.32" cy="83.60" r="2.15" fill="#000"/>
<circle cx="186.14" cy="83.60" r="1.8" fill="#fff" stroke="#606060" stroke-width="1.1"/>
<circle cx="191.96" cy="83.60" r="1.8" fill="#fff" stroke="#606060" stroke-width="1.1"/>
<circle cx="197.78" cy="83.60" r="1.8" fill="#a0a0a0" stroke="#5a5a5a" stroke-width="1.1"/>
<circle cx="203.60" cy="83.60" r="1.8" fill="#fff" stroke="#606060" stroke-width="1.1"/>
<circle cx="209.42" cy="83.60" r="1.8" fill="#fff" stroke="#606060" stroke-width="1.1"/>
<circle cx="215.24" cy="83.60" r="2.15" fill="#000"/>
<circle cx="221.06" cy="83.60" r="1.8" fill="#a0a0a0" stroke="#5a5a5a" stroke-width="1.1"/>
<circle cx="226.88" cy="83.60" r="2.15" fill="#000"/>
<circle cx="232.70" cy="83.60" r="1.8" fill="#fff" stroke="#606060" stroke-width="1.1"/>
<circle cx="238.52" cy="83.60" r="1.8" fill="#fff" stroke="#606060" stroke-width="1.1"/>
<circle cx="244.34" cy="83.60" r="1.8" fill="#a0a0a0" stroke="#5a5a5a" stroke-width="1.1"/>
<circle cx="250.16" cy="83.60" r="1.8" fill="#a0a0a0" stroke="#5a5a5a" stroke-width="1.1"/>
<circle cx="255.98" cy="83.60" r="1.8" fill="#a0a0a0" stroke="#5a5a5a" stroke-width="1.1"/>
<circle cx="261.80" cy="83.60" r="1.8" fill="#a0a0a0" stroke="#5a5a5a" stroke-width="1.1"/>
<circle cx="267.62" cy="83.60" r="1.8" fill="#a0a0a0" stroke="#5a5a5a" stroke-width="1.1"/>
<circle cx="273.44" cy="83.60" r="2.15" fill="#000"/>
<circle cx="279.26" cy="83.60" r="2.15" fill="#000"/>
<circle cx="285.08" cy="83.60" r="2.15" fill="#000"/>
<circle cx="290.90" cy="83.60" r="2.15" fill="#000"/>
<circle cx="296.72" cy="83.60" r="2.15" fill="#000"/>
<circle cx="302.54" cy="83.60" r="2.15" fill="#000"/>
<circle cx="308.36" cy="83.60" r="1.8" fill="#a0a0a0" stroke="#5a5a5a" stroke-width="1.1"/>
<circle cx="314.18" cy="83.60" r="1.8" fill="#a0a0a0" stroke="#5a5a5a" stroke-width="1.1"/>
<circle cx="320.00" cy="83.60" r="1.8" fill="#a0a0a0" stroke="#5a5a5a" stroke-width="1.1"/>
<circle cx="325.82" cy="83.60" r="1.8" fill="#fff" stroke="#606060" stroke-width="1.1"/>
<circle cx="331.64" cy="83.60" r="1.8" fill="#fff" stroke="#606060" stroke-width="1.1"/>
<circle cx="337.46" cy="83.60" r="2.15" fill="#000"/>
<circle cx="343.28" cy="83.60" r="1.8" fill="#fff" stroke="#606060" stroke-width="1.1"/>
<circle cx="349.10" cy="83.60" r="1.8" fill="#fff" stroke="#606060" stroke-width="1.1"/>
<circle cx="354.92" cy="83.60" r="1.8" fill="#fff" stroke="#606060" stroke-width="1.1"/>
<circle cx="360.74" cy="83.60" r="1.8" fill="#fff" stroke="#606060" stroke-width="1.1"/>
<circle cx="366.56" cy="83.60" r="1.8" fill="#a0a0a0" stroke="#5a5a5a" stroke-width="1.1"/>
<circle cx="372.38" cy="83.60" r="1.8" fill="#a0a0a0" stroke="#5a5a5a" stroke-width="1.1"/>
<circle cx="378.20" cy="83.60" r="1.8" fill="#a0a0a0" stroke="#5a5a5a" stroke-width="1.1"/>
<circle cx="384.02" cy="83.60" r="1.8" fill="#fff" stroke="#606060" stroke-width="1.1"/>
<circle cx="389.84" cy="83.60" r="1.8" fill="#a0a0a0" stroke="#5a5a5a" stroke-width="1.1"/>
<circle cx="395.66" cy="83.60" r="2.15" fill="#000"/>
<circle cx="401.48" cy="83.60" r="2.15" fill="#000"/>
<circle cx="407.30" cy="83.60" r="2.15" fill="#000"/>
<circle cx="413.12" cy="83.60" r="2.15" fill="#000"/>
<circle cx="418.94" cy="83.60" r="2.15" fill="#000"/>
<circle cx="424.76" cy="83.60" r="2.15" fill="#000"/>
<text transform="translate(108.2,95.50) scale(0.9,1)" font-size="9" text-anchor="end" style="stroke-width:0.3px">AML9</text>
<circle cx="116.30" cy="92.30" r="1.8" fill="#a0a0a0" stroke="#5a5a5a" stroke-width="1.1"/>
<circle cx="122.12" cy="92.30" r="1.8" fill="#fff" stroke="#606060" stroke-width="1.1"/>
<circle cx="127.94" cy="92.30" r="1.8" fill="#fff" stroke="#606060" stroke-width="1.1"/>
<circle cx="133.76" cy="92.30" r="2.15" fill="#000"/>
<circle cx="139.58" cy="92.30" r="1.8" fill="#a0a0a0" stroke="#5a5a5a" stroke-width="1.1"/>
<circle cx="145.40" cy="92.30" r="1.8" fill="#fff" stroke="#606060" stroke-width="1.1"/>
<circle cx="151.22" cy="92.30" r="1.8" fill="#fff" stroke="#606060" stroke-width="1.1"/>
<circle cx="157.04" cy="92.30" r="1.8" fill="#a0a0a0" stroke="#5a5a5a" stroke-width="1.1"/>
<circle cx="162.86" cy="92.30" r="1.8" fill="#fff" stroke="#606060" stroke-width="1.1"/>
<circle cx="168.68" cy="92.30" r="1.8" fill="#fff" stroke="#606060" stroke-width="1.1"/>
<circle cx="174.50" cy="92.30" r="1.8" fill="#fff" stroke="#606060" stroke-width="1.1"/>
<circle cx="180.32" cy="92.30" r="2.15" fill="#000"/>
<circle cx="186.14" cy="92.30" r="2.15" fill="#000"/>
<circle cx="191.96" cy="92.30" r="1.8" fill="#a0a0a0" stroke="#5a5a5a" stroke-width="1.1"/>
<circle cx="197.78" cy="92.30" r="2.15" fill="#000"/>
<circle cx="203.60" cy="92.30" r="1.8" fill="#fff" stroke="#606060" stroke-width="1.1"/>
<circle cx="209.42" cy="92.30" r="1.8" fill="#a0a0a0" stroke="#5a5a5a" stroke-width="1.1"/>
<circle cx="215.24" cy="92.30" r="1.8" fill="#fff" stroke="#606060" stroke-width="1.1"/>
<circle cx="221.06" cy="92.30" r="1.8" fill="#fff" stroke="#606060" stroke-width="1.1"/>
<circle cx="226.88" cy="92.30" r="1.8" fill="#fff" stroke="#606060" stroke-width="1.1"/>
<circle cx="232.70" cy="92.30" r="1.8" fill="#fff" stroke="#606060" stroke-width="1.1"/>
<circle cx="238.52" cy="92.30" r="1.8" fill="#fff" stroke="#606060" stroke-width="1.1"/>
<circle cx="244.34" cy="92.30" r="1.8" fill="#fff" stroke="#606060" stroke-width="1.1"/>
<circle cx="250.16" cy="92.30" r="1.8" fill="#fff" stroke="#606060" stroke-width="1.1"/>
<circle cx="255.98" cy="92.30" r="2.15" fill="#000"/>
<circle cx="261.80" cy="92.30" r="1.8" fill="#fff" stroke="#606060" stroke-width="1.1"/>
<circle cx="267.62" cy="92.30" r="1.8" fill="#fff" stroke="#606060" stroke-width="1.1"/>
<circle cx="273.44" cy="92.30" r="1.8" fill="#fff" stroke="#606060" stroke-width="1.1"/>
<circle cx="279.26" cy="92.30" r="1.8" fill="#fff" stroke="#606060" stroke-width="1.1"/>
<circle cx="285.08" cy="92.30" r="1.8" fill="#a0a0a0" stroke="#5a5a5a" stroke-width="1.1"/>
<circle cx="290.90" cy="92.30" r="2.15" fill="#000"/>
<circle cx="296.72" cy="92.30" r="1.8" fill="#fff" stroke="#606060" stroke-width="1.1"/>
<circle cx="302.54" cy="92.30" r="1.8" fill="#a0a0a0" stroke="#5a5a5a" stroke-width="1.1"/>
<circle cx="308.36" cy="92.30" r="2.15" fill="#000"/>
<circle cx="314.18" cy="92.30" r="1.8" fill="#fff" stroke="#606060" stroke-width="1.1"/>
<circle cx="320.00" cy="92.30" r="1.8" fill="#a0a0a0" stroke="#5a5a5a" stroke-width="1.1"/>
<circle cx="325.82" cy="92.30" r="2.15" fill="#000"/>
<circle cx="331.64" cy="92.30" r="2.15" fill="#000"/>
<circle cx="337.46" cy="92.30" r="2.15" fill="#000"/>
<circle cx="343.28" cy="92.30" r="1.8" fill="#fff" stroke="#606060" stroke-width="1.1"/>
<circle cx="349.10" cy="92.30" r="1.8" fill="#fff" stroke="#606060" stroke-width="1.1"/>
<circle cx="354.92" cy="92.30" r="1.8" fill="#fff" stroke="#606060" stroke-width="1.1"/>
<circle cx="360.74" cy="92.30" r="1.8" fill="#fff" stroke="#606060" stroke-width="1.1"/>
<circle cx="366.56" cy="92.30" r="1.8" fill="#fff" stroke="#606060" stroke-width="1.1"/>
<circle cx="372.38" cy="92.30" r="1.8" fill="#fff" stroke="#606060" stroke-width="1.1"/>
<circle cx="378.20" cy="92.30" r="2.15" fill="#000"/>
<circle cx="384.02" cy="92.30" r="1.8" fill="#fff" stroke="#606060" stroke-width="1.1"/>
<circle cx="389.84" cy="92.30" r="1.8" fill="#fff" stroke="#606060" stroke-width="1.1"/>
<circle cx="395.66" cy="92.30" r="2.15" fill="#000"/>
<circle cx="401.48" cy="92.30" r="1.8" fill="#fff" stroke="#606060" stroke-width="1.1"/>
<circle cx="407.30" cy="92.30" r="2.15" fill="#000"/>
<circle cx="413.12" cy="92.30" r="2.15" fill="#000"/>
<circle cx="418.94" cy="92.30" r="1.8" fill="#fff" stroke="#606060" stroke-width="1.1"/>
<circle cx="424.76" cy="92.30" r="1.8" fill="#fff" stroke="#606060" stroke-width="1.1"/>
<text transform="translate(108.2,104.60) scale(0.9,1)" font-size="9" text-anchor="end" style="stroke-width:0.3px">AML10</text>
<circle cx="116.30" cy="101.40" r="1.8" fill="#a0a0a0" stroke="#5a5a5a" stroke-width="1.1"/>
<circle cx="122.12" cy="101.40" r="1.8" fill="#a0a0a0" stroke="#5a5a5a" stroke-width="1.1"/>
<circle cx="127.94" cy="101.40" r="1.8" fill="#a0a0a0" stroke="#5a5a5a" stroke-width="1.1"/>
<circle cx="133.76" cy="101.40" r="1.8" fill="#a0a0a0" stroke="#5a5a5a" stroke-width="1.1"/>
<circle cx="139.58" cy="101.40" r="1.8" fill="#fff" stroke="#606060" stroke-width="1.1"/>
<circle cx="145.40" cy="101.40" r="2.15" fill="#000"/>
<circle cx="151.22" cy="101.40" r="1.8" fill="#a0a0a0" stroke="#5a5a5a" stroke-width="1.1"/>
<circle cx="157.04" cy="101.40" r="1.8" fill="#a0a0a0" stroke="#5a5a5a" stroke-width="1.1"/>
<circle cx="162.86" cy="101.40" r="1.8" fill="#a0a0a0" stroke="#5a5a5a" stroke-width="1.1"/>
<circle cx="168.68" cy="101.40" r="1.8" fill="#a0a0a0" stroke="#5a5a5a" stroke-width="1.1"/>
<circle cx="174.50" cy="101.40" r="1.8" fill="#a0a0a0" stroke="#5a5a5a" stroke-width="1.1"/>
<circle cx="180.32" cy="101.40" r="1.8" fill="#a0a0a0" stroke="#5a5a5a" stroke-width="1.1"/>
<circle cx="186.14" cy="101.40" r="1.8" fill="#a0a0a0" stroke="#5a5a5a" stroke-width="1.1"/>
<circle cx="191.96" cy="101.40" r="1.8" fill="#a0a0a0" stroke="#5a5a5a" stroke-width="1.1"/>
<circle cx="197.78" cy="101.40" r="1.8" fill="#a0a0a0" stroke="#5a5a5a" stroke-width="1.1"/>
<circle cx="203.60" cy="101.40" r="2.15" fill="#000"/>
<circle cx="209.42" cy="101.40" r="1.8" fill="#fff" stroke="#606060" stroke-width="1.1"/>
<circle cx="215.24" cy="101.40" r="1.8" fill="#a0a0a0" stroke="#5a5a5a" stroke-width="1.1"/>
<circle cx="221.06" cy="101.40" r="2.15" fill="#000"/>
<circle cx="226.88" cy="101.40" r="2.15" fill="#000"/>
<circle cx="232.70" cy="101.40" r="1.8" fill="#a0a0a0" stroke="#5a5a5a" stroke-width="1.1"/>
<circle cx="238.52" cy="101.40" r="1.8" fill="#a0a0a0" stroke="#5a5a5a" stroke-width="1.1"/>
<circle cx="244.34" cy="101.40" r="1.8" fill="#a0a0a0" stroke="#5a5a5a" stroke-width="1.1"/>
<circle cx="250.16" cy="101.40" r="2.15" fill="#000"/>
<circle cx="255.98" cy="101.40" r="1.8" fill="#a0a0a0" stroke="#5a5a5a" stroke-width="1.1"/>
<circle cx="261.80" cy="101.40" r="1.8" fill="#fff" stroke="#606060" stroke-width="1.1"/>
<circle cx="267.62" cy="101.40" r="1.8" fill="#fff" stroke="#606060" stroke-width="1.1"/>
<circle cx="273.44" cy="101.40" r="1.8" fill="#fff" stroke="#606060" stroke-width="1.1"/>
<circle cx="279.26" cy="101.40" r="1.8" fill="#fff" stroke="#606060" stroke-width="1.1"/>
<circle cx="285.08" cy="101.40" r="2.15" fill="#000"/>
<circle cx="290.90" cy="101.40" r="2.15" fill="#000"/>
<circle cx="296.72" cy="101.40" r="1.8" fill="#a0a0a0" stroke="#5a5a5a" stroke-width="1.1"/>
<circle cx="302.54" cy="101.40" r="2.15" fill="#000"/>
<circle cx="308.36" cy="101.40" r="2.15" fill="#000"/>
<circle cx="314.18" cy="101.40" r="1.8" fill="#a0a0a0" stroke="#5a5a5a" stroke-width="1.1"/>
<circle cx="320.00" cy="101.40" r="2.15" fill="#000"/>
<circle cx="325.82" cy="101.40" r="2.15" fill="#000"/>
<circle cx="331.64" cy="101.40" r="1.8" fill="#fff" stroke="#606060" stroke-width="1.1"/>
<circle cx="337.46" cy="101.40" r="1.8" fill="#fff" stroke="#606060" stroke-width="1.1"/>
<circle cx="343.28" cy="101.40" r="1.8" fill="#fff" stroke="#606060" stroke-width="1.1"/>
<circle cx="349.10" cy="101.40" r="2.15" fill="#000"/>
<circle cx="354.92" cy="101.40" r="1.8" fill="#fff" stroke="#606060" stroke-width="1.1"/>
<circle cx="360.74" cy="101.40" r="1.8" fill="#a0a0a0" stroke="#5a5a5a" stroke-width="1.1"/>
<circle cx="366.56" cy="101.40" r="1.8" fill="#fff" stroke="#606060" stroke-width="1.1"/>
<circle cx="372.38" cy="101.40" r="1.8" fill="#fff" stroke="#606060" stroke-width="1.1"/>
<circle cx="378.20" cy="101.40" r="2.15" fill="#000"/>
<circle cx="384.02" cy="101.40" r="1.8" fill="#a0a0a0" stroke="#5a5a5a" stroke-width="1.1"/>
<circle cx="389.84" cy="101.40" r="1.8" fill="#a0a0a0" stroke="#5a5a5a" stroke-width="1.1"/>
<circle cx="395.66" cy="101.40" r="1.8" fill="#a0a0a0" stroke="#5a5a5a" stroke-width="1.1"/>
<circle cx="401.48" cy="101.40" r="1.8" fill="#a0a0a0" stroke="#5a5a5a" stroke-width="1.1"/>
<circle cx="407.30" cy="101.40" r="1.8" fill="#a0a0a0" stroke="#5a5a5a" stroke-width="1.1"/>
<circle cx="413.12" cy="101.40" r="1.8" fill="#a0a0a0" stroke="#5a5a5a" stroke-width="1.1"/>
<circle cx="418.94" cy="101.40" r="1.8" fill="#a0a0a0" stroke="#5a5a5a" stroke-width="1.1"/>
<circle cx="424.76" cy="101.40" r="1.8" fill="#a0a0a0" stroke="#5a5a5a" stroke-width="1.1"/>
<text transform="translate(108.2,113.70) scale(0.9,1)" font-size="9" text-anchor="end" style="stroke-width:0.3px">AML11</text>
<circle cx="116.30" cy="110.50" r="1.8" fill="#fff" stroke="#606060" stroke-width="1.1"/>
<circle cx="122.12" cy="110.50" r="2.15" fill="#000"/>
<circle cx="127.94" cy="110.50" r="2.15" fill="#000"/>
<circle cx="133.76" cy="110.50" r="2.15" fill="#000"/>
<circle cx="139.58" cy="110.50" r="1.8" fill="#a0a0a0" stroke="#5a5a5a" stroke-width="1.1"/>
<circle cx="145.40" cy="110.50" r="2.15" fill="#000"/>
<circle cx="151.22" cy="110.50" r="2.15" fill="#000"/>
<circle cx="157.04" cy="110.50" r="2.15" fill="#000"/>
<circle cx="162.86" cy="110.50" r="2.15" fill="#000"/>
<circle cx="168.68" cy="110.50" r="1.8" fill="#a0a0a0" stroke="#5a5a5a" stroke-width="1.1"/>
<circle cx="174.50" cy="110.50" r="1.8" fill="#fff" stroke="#606060" stroke-width="1.1"/>
<circle cx="180.32" cy="110.50" r="1.8" fill="#a0a0a0" stroke="#5a5a5a" stroke-width="1.1"/>
<circle cx="186.14" cy="110.50" r="2.15" fill="#000"/>
<circle cx="191.96" cy="110.50" r="2.15" fill="#000"/>
<circle cx="197.78" cy="110.50" r="1.8" fill="#fff" stroke="#606060" stroke-width="1.1"/>
<circle cx="203.60" cy="110.50" r="1.8" fill="#fff" stroke="#606060" stroke-width="1.1"/>
<circle cx="209.42" cy="110.50" r="1.8" fill="#a0a0a0" stroke="#5a5a5a" stroke-width="1.1"/>
<circle cx="215.24" cy="110.50" r="1.8" fill="#a0a0a0" stroke="#5a5a5a" stroke-width="1.1"/>
<circle cx="221.06" cy="110.50" r="2.15" fill="#000"/>
<circle cx="226.88" cy="110.50" r="1.8" fill="#a0a0a0" stroke="#5a5a5a" stroke-width="1.1"/>
<circle cx="232.70" cy="110.50" r="1.8" fill="#a0a0a0" stroke="#5a5a5a" stroke-width="1.1"/>
<circle cx="238.52" cy="110.50" r="1.8" fill="#fff" stroke="#606060" stroke-width="1.1"/>
<circle cx="244.34" cy="110.50" r="1.8" fill="#a0a0a0" stroke="#5a5a5a" stroke-width="1.1"/>
<circle cx="250.16" cy="110.50" r="1.8" fill="#a0a0a0" stroke="#5a5a5a" stroke-width="1.1"/>
<circle cx="255.98" cy="110.50" r="1.8" fill="#a0a0a0" stroke="#5a5a5a" stroke-width="1.1"/>
<circle cx="261.80" cy="110.50" r="1.8" fill="#a0a0a0" stroke="#5a5a5a" stroke-width="1.1"/>
<circle cx="267.62" cy="110.50" r="1.8" fill="#a0a0a0" stroke="#5a5a5a" stroke-width="1.1"/>
<circle cx="273.44" cy="110.50" r="1.8" fill="#a0a0a0" stroke="#5a5a5a" stroke-width="1.1"/>
<circle cx="279.26" cy="110.50" r="1.8" fill="#a0a0a0" stroke="#5a5a5a" stroke-width="1.1"/>
<circle cx="285.08" cy="110.50" r="2.15" fill="#000"/>
<circle cx="290.90" cy="110.50" r="2.15" fill="#000"/>
<circle cx="296.72" cy="110.50" r="1.8" fill="#a0a0a0" stroke="#5a5a5a" stroke-width="1.1"/>
<circle cx="302.54" cy="110.50" r="1.8" fill="#a0a0a0" stroke="#5a5a5a" stroke-width="1.1"/>
<circle cx="308.36" cy="110.50" r="1.8" fill="#a0a0a0" stroke="#5a5a5a" stroke-width="1.1"/>
<circle cx="314.18" cy="110.50" r="1.8" fill="#a0a0a0" stroke="#5a5a5a" stroke-width="1.1"/>
<circle cx="320.00" cy="110.50" r="1.8" fill="#a0a0a0" stroke="#5a5a5a" stroke-width="1.1"/>
<circle cx="325.82" cy="110.50" r="1.8" fill="#a0a0a0" stroke="#5a5a5a" stroke-width="1.1"/>
<circle cx="331.64" cy="110.50" r="1.8" fill="#fff" stroke="#606060" stroke-width="1.1"/>
<circle cx="337.46" cy="110.50" r="1.8" fill="#a0a0a0" stroke="#5a5a5a" stroke-width="1.1"/>
<circle cx="343.28" cy="110.50" r="1.8" fill="#a0a0a0" stroke="#5a5a5a" stroke-width="1.1"/>
<circle cx="349.10" cy="110.50" r="1.8" fill="#a0a0a0" stroke="#5a5a5a" stroke-width="1.1"/>
<circle cx="354.92" cy="110.50" r="1.8" fill="#fff" stroke="#606060" stroke-width="1.1"/>
<circle cx="360.74" cy="110.50" r="1.8" fill="#fff" stroke="#606060" stroke-width="1.1"/>
<circle cx="366.56" cy="110.50" r="1.8" fill="#fff" stroke="#606060" stroke-width="1.1"/>
<circle cx="372.38" cy="110.50" r="1.8" fill="#fff" stroke="#606060" stroke-width="1.1"/>
<circle cx="378.20" cy="110.50" r="2.15" fill="#000"/>
<circle cx="384.02" cy="110.50" r="1.8" fill="#a0a0a0" stroke="#5a5a5a" stroke-width="1.1"/>
<circle cx="389.84" cy="110.50" r="2.15" fill="#000"/>
<circle cx="395.66" cy="110.50" r="2.15" fill="#000"/>
<circle cx="401.48" cy="110.50" r="1.8" fill="#a0a0a0" stroke="#5a5a5a" stroke-width="1.1"/>
<circle cx="407.30" cy="110.50" r="1.8" fill="#a0a0a0" stroke="#5a5a5a" stroke-width="1.1"/>
<circle cx="413.12" cy="110.50" r="1.8" fill="#a0a0a0" stroke="#5a5a5a" stroke-width="1.1"/>
<circle cx="418.94" cy="110.50" r="1.8" fill="#a0a0a0" stroke="#5a5a5a" stroke-width="1.1"/>
<circle cx="424.76" cy="110.50" r="1.8" fill="#a0a0a0" stroke="#5a5a5a" stroke-width="1.1"/>
<text x="1.8" y="135.2" font-size="10.5" font-weight="bold">B</text>
<line x1="37.9" y1="141" x2="37.9" y2="282.5" stroke="#222" stroke-width="1"/>
<line x1="37.4" y1="282.0" x2="251" y2="282.0" stroke="#222" stroke-width="1"/>
<line x1="34.30" y1="282.00" x2="37.9" y2="282.00" stroke="#222" stroke-width="0.8"/>
<text x="34.10" y="284.50" font-size="7" font-weight="bold" text-anchor="end">0</text>
<line x1="36.10" y1="272.60" x2="37.9" y2="272.60" stroke="#222" stroke-width="0.8"/>
<line x1="36.10" y1="263.20" x2="37.9" y2="263.20" stroke="#222" stroke-width="0.8"/>
<line x1="36.10" y1="253.80" x2="37.9" y2="253.80" stroke="#222" stroke-width="0.8"/>
<line x1="36.10" y1="244.40" x2="37.9" y2="244.40" stroke="#222" stroke-width="0.8"/>
<line x1="34.30" y1="235.00" x2="37.9" y2="235.00" stroke="#222" stroke-width="0.8"/>
<text x="34.10" y="237.50" font-size="7" font-weight="bold" text-anchor="end">5000</text>
<line x1="36.10" y1="225.60" x2="37.9" y2="225.60" stroke="#222" stroke-width="0.8"/>
<line x1="36.10" y1="216.20" x2="37.9" y2="216.20" stroke="#222" stroke-width="0.8"/>
<line x1="36.10" y1="206.80" x2="37.9" y2="206.80" stroke="#222" stroke-width="0.8"/>
<line x1="36.10" y1="197.40" x2="37.9" y2="197.40" stroke="#222" stroke-width="0.8"/>
<line x1="34.30" y1="188.00" x2="37.9" y2="188.00" stroke="#222" stroke-width="0.8"/>
<text x="34.10" y="190.50" font-size="7" font-weight="bold" text-anchor="end">10000</text>
<line x1="36.10" y1="178.60" x2="37.9" y2="178.60" stroke="#222" stroke-width="0.8"/>
<line x1="36.10" y1="169.20" x2="37.9" y2="169.20" stroke="#222" stroke-width="0.8"/>
<line x1="36.10" y1="159.80" x2="37.9" y2="159.80" stroke="#222" stroke-width="0.8"/>
<line x1="36.10" y1="150.40" x2="37.9" y2="150.40" stroke="#222" stroke-width="0.8"/>
<line x1="34.30" y1="141.00" x2="37.9" y2="141.00" stroke="#222" stroke-width="0.8"/>
<text x="34.10" y="143.50" font-size="7" font-weight="bold" text-anchor="end">15000</text>
<rect x="40.40" y="262.80" width="12.9" height="19.20" fill="#8a8a8a" stroke="#6a6a6a" stroke-width="0.6"/>
<line x1="46.85" y1="260.50" x2="46.85" y2="265.10" stroke="#222" stroke-width="0.9"/>
<line x1="43.25" y1="260.50" x2="50.45" y2="260.50" stroke="#2a2a2a" stroke-width="1.0"/>
<line x1="43.25" y1="265.10" x2="50.45" y2="265.10" stroke="#2a2a2a" stroke-width="1.0"/>
<line x1="46.85" y1="282.0" x2="46.85" y2="284.2" stroke="#222" stroke-width="0.8"/>
<text transform="translate(47.85,292.0) rotate(-45)" font-size="8.6" font-weight="bold" text-anchor="end">CD34+</text>
<rect x="58.05" y="255.20" width="12.9" height="26.80" fill="#8a8a8a" stroke="#6a6a6a" stroke-width="0.6"/>
<line x1="64.50" y1="251.70" x2="64.50" y2="259.80" stroke="#222" stroke-width="0.9"/>
<line x1="60.90" y1="251.70" x2="68.10" y2="251.70" stroke="#2a2a2a" stroke-width="1.0"/>
<line x1="60.90" y1="259.80" x2="68.10" y2="259.80" stroke="#2a2a2a" stroke-width="1.0"/>
<line x1="64.50" y1="282.0" x2="64.50" y2="284.2" stroke="#222" stroke-width="0.8"/>
<text transform="translate(65.50,292.0) rotate(-45)" font-size="8.6" font-weight="bold" text-anchor="end">AML1</text>
<rect x="75.70" y="208.50" width="12.9" height="73.50" fill="#8a8a8a" stroke="#6a6a6a" stroke-width="0.6"/>
<line x1="82.15" y1="204.30" x2="82.15" y2="214.30" stroke="#222" stroke-width="0.9"/>
<line x1="78.55" y1="204.30" x2="85.75" y2="204.30" stroke="#2a2a2a" stroke-width="1.0"/>
<line x1="78.55" y1="214.30" x2="85.75" y2="214.30" stroke="#2a2a2a" stroke-width="1.0"/>
<line x1="82.15" y1="282.0" x2="82.15" y2="284.2" stroke="#222" stroke-width="0.8"/>
<text transform="translate(83.15,292.0) rotate(-45)" font-size="8.6" font-weight="bold" text-anchor="end">AML2</text>
<rect x="93.35" y="180.10" width="12.9" height="101.90" fill="#8a8a8a" stroke="#6a6a6a" stroke-width="0.6"/>
<line x1="99.80" y1="168.30" x2="99.80" y2="193.50" stroke="#222" stroke-width="0.9"/>
<line x1="96.20" y1="168.30" x2="103.40" y2="168.30" stroke="#2a2a2a" stroke-width="1.0"/>
<line x1="96.20" y1="193.50" x2="103.40" y2="193.50" stroke="#2a2a2a" stroke-width="1.0"/>
<line x1="99.80" y1="282.0" x2="99.80" y2="284.2" stroke="#222" stroke-width="0.8"/>
<text transform="translate(100.80,292.0) rotate(-45)" font-size="8.6" font-weight="bold" text-anchor="end">AML3</text>
<rect x="111.00" y="247.30" width="12.9" height="34.70" fill="#8a8a8a" stroke="#6a6a6a" stroke-width="0.6"/>
<line x1="117.45" y1="242.40" x2="117.45" y2="252.40" stroke="#222" stroke-width="0.9"/>
<line x1="113.85" y1="242.40" x2="121.05" y2="242.40" stroke="#2a2a2a" stroke-width="1.0"/>
<line x1="113.85" y1="252.40" x2="121.05" y2="252.40" stroke="#2a2a2a" stroke-width="1.0"/>
<line x1="117.45" y1="282.0" x2="117.45" y2="284.2" stroke="#222" stroke-width="0.8"/>
<text transform="translate(118.45,292.0) rotate(-45)" font-size="8.6" font-weight="bold" text-anchor="end">AML4</text>
<rect x="128.65" y="255.20" width="12.9" height="26.80" fill="#8a8a8a" stroke="#6a6a6a" stroke-width="0.6"/>
<line x1="135.10" y1="246.60" x2="135.10" y2="265.50" stroke="#222" stroke-width="0.9"/>
<line x1="131.50" y1="246.60" x2="138.70" y2="246.60" stroke="#2a2a2a" stroke-width="1.0"/>
<line x1="131.50" y1="265.50" x2="138.70" y2="265.50" stroke="#2a2a2a" stroke-width="1.0"/>
<line x1="135.10" y1="282.0" x2="135.10" y2="284.2" stroke="#222" stroke-width="0.8"/>
<text transform="translate(136.10,292.0) rotate(-45)" font-size="8.6" font-weight="bold" text-anchor="end">AML5</text>
<rect x="146.30" y="270.10" width="12.9" height="11.90" fill="#8a8a8a" stroke="#6a6a6a" stroke-width="0.6"/>
<line x1="152.75" y1="266.20" x2="152.75" y2="275.00" stroke="#222" stroke-width="0.9"/>
<line x1="149.15" y1="266.20" x2="156.35" y2="266.20" stroke="#2a2a2a" stroke-width="1.0"/>
<line x1="149.15" y1="275.00" x2="156.35" y2="275.00" stroke="#2a2a2a" stroke-width="1.0"/>
<line x1="152.75" y1="282.0" x2="152.75" y2="284.2" stroke="#222" stroke-width="0.8"/>
<text transform="translate(153.75,292.0) rotate(-45)" font-size="8.6" font-weight="bold" text-anchor="end">AML6</text>
<rect x="163.95" y="277.30" width="12.9" height="4.70" fill="#8a8a8a" stroke="#6a6a6a" stroke-width="0.6"/>
<line x1="170.40" y1="276.40" x2="170.40" y2="279.60" stroke="#222" stroke-width="0.9"/>
<line x1="166.80" y1="276.40" x2="174.00" y2="276.40" stroke="#2a2a2a" stroke-width="1.0"/>
<line x1="166.80" y1="279.60" x2="174.00" y2="279.60" stroke="#2a2a2a" stroke-width="1.0"/>
<line x1="170.40" y1="282.0" x2="170.40" y2="284.2" stroke="#222" stroke-width="0.8"/>
<text transform="translate(171.40,292.0) rotate(-45)" font-size="8.6" font-weight="bold" text-anchor="end">AML7</text>
<rect x="181.60" y="275.90" width="12.9" height="6.10" fill="#8a8a8a" stroke="#6a6a6a" stroke-width="0.6"/>
<line x1="188.05" y1="273.10" x2="188.05" y2="280.50" stroke="#222" stroke-width="0.9"/>
<line x1="184.45" y1="273.10" x2="191.65" y2="273.10" stroke="#2a2a2a" stroke-width="1.0"/>
<line x1="184.45" y1="280.50" x2="191.65" y2="280.50" stroke="#2a2a2a" stroke-width="1.0"/>
<line x1="188.05" y1="282.0" x2="188.05" y2="284.2" stroke="#222" stroke-width="0.8"/>
<text transform="translate(189.05,292.0) rotate(-45)" font-size="8.6" font-weight="bold" text-anchor="end">AML8</text>
<rect x="199.25" y="263.90" width="12.9" height="18.10" fill="#8a8a8a" stroke="#6a6a6a" stroke-width="0.6"/>
<line x1="205.70" y1="258.30" x2="205.70" y2="270.80" stroke="#222" stroke-width="0.9"/>
<line x1="202.10" y1="258.30" x2="209.30" y2="258.30" stroke="#2a2a2a" stroke-width="1.0"/>
<line x1="202.10" y1="270.80" x2="209.30" y2="270.80" stroke="#2a2a2a" stroke-width="1.0"/>
<line x1="205.70" y1="282.0" x2="205.70" y2="284.2" stroke="#222" stroke-width="0.8"/>
<text transform="translate(206.70,292.0) rotate(-45)" font-size="8.6" font-weight="bold" text-anchor="end">AML9</text>
<rect x="216.90" y="274.30" width="12.9" height="7.70" fill="#8a8a8a" stroke="#6a6a6a" stroke-width="0.6"/>
<line x1="223.35" y1="272.00" x2="223.35" y2="277.30" stroke="#222" stroke-width="0.9"/>
<line x1="219.75" y1="272.00" x2="226.95" y2="272.00" stroke="#2a2a2a" stroke-width="1.0"/>
<line x1="219.75" y1="277.30" x2="226.95" y2="277.30" stroke="#2a2a2a" stroke-width="1.0"/>
<line x1="223.35" y1="282.0" x2="223.35" y2="284.2" stroke="#222" stroke-width="0.8"/>
<text transform="translate(224.35,292.0) rotate(-45)" font-size="8.6" font-weight="bold" text-anchor="end">AML10</text>
<rect x="234.55" y="280.00" width="12.9" height="2.00" fill="#8a8a8a" stroke="#6a6a6a" stroke-width="0.6"/>
<line x1="241.00" y1="279.00" x2="241.00" y2="281.00" stroke="#222" stroke-width="0.9"/>
<line x1="237.40" y1="279.00" x2="244.60" y2="279.00" stroke="#2a2a2a" stroke-width="1.0"/>
<line x1="237.40" y1="281.00" x2="244.60" y2="281.00" stroke="#2a2a2a" stroke-width="1.0"/>
<line x1="241.00" y1="282.0" x2="241.00" y2="284.2" stroke="#222" stroke-width="0.8"/>
<text transform="translate(242.00,292.0) rotate(-45)" font-size="8.6" font-weight="bold" text-anchor="end">AML11</text>
<text transform="translate(10.2,210.3) rotate(-90)" font-size="8.75" font-weight="bold" text-anchor="middle"><tspan font-style="italic">p15INK4b</tspan> cDNA copies/50 ng RNA</text>
<text x="264.8" y="134.6" font-size="10.5" font-weight="bold">C</text>
<line x1="305.4" y1="142.5" x2="305.4" y2="282.2" stroke="#222" stroke-width="1"/>
<line x1="304.9" y1="281.7" x2="511" y2="281.7" stroke="#222" stroke-width="1"/>
<line x1="302.00" y1="281.70" x2="305.4" y2="281.70" stroke="#222" stroke-width="0.8"/>
<text x="301.50" y="284.30" font-size="7.5" font-weight="bold" text-anchor="end">0.00</text>
<line x1="303.70" y1="273.00" x2="305.4" y2="273.00" stroke="#222" stroke-width="0.8"/>
<line x1="303.70" y1="264.30" x2="305.4" y2="264.30" stroke="#222" stroke-width="0.8"/>
<line x1="303.70" y1="255.60" x2="305.4" y2="255.60" stroke="#222" stroke-width="0.8"/>
<line x1="302.00" y1="246.90" x2="305.4" y2="246.90" stroke="#222" stroke-width="0.8"/>
<text x="301.50" y="249.50" font-size="7.5" font-weight="bold" text-anchor="end">0.20</text>
<line x1="303.70" y1="238.20" x2="305.4" y2="238.20" stroke="#222" stroke-width="0.8"/>
<line x1="303.70" y1="229.50" x2="305.4" y2="229.50" stroke="#222" stroke-width="0.8"/>
<line x1="303.70" y1="220.80" x2="305.4" y2="220.80" stroke="#222" stroke-width="0.8"/>
<line x1="302.00" y1="212.10" x2="305.4" y2="212.10" stroke="#222" stroke-width="0.8"/>
<text x="301.50" y="214.70" font-size="7.5" font-weight="bold" text-anchor="end">0.40</text>
<line x1="303.70" y1="203.40" x2="305.4" y2="203.40" stroke="#222" stroke-width="0.8"/>
<line x1="303.70" y1="194.70" x2="305.4" y2="194.70" stroke="#222" stroke-width="0.8"/>
<line x1="303.70" y1="186.00" x2="305.4" y2="186.00" stroke="#222" stroke-width="0.8"/>
<line x1="302.00" y1="177.30" x2="305.4" y2="177.30" stroke="#222" stroke-width="0.8"/>
<text x="301.50" y="179.90" font-size="7.5" font-weight="bold" text-anchor="end">0.60</text>
<line x1="303.70" y1="168.60" x2="305.4" y2="168.60" stroke="#222" stroke-width="0.8"/>
<line x1="303.70" y1="159.90" x2="305.4" y2="159.90" stroke="#222" stroke-width="0.8"/>
<line x1="303.70" y1="151.20" x2="305.4" y2="151.20" stroke="#222" stroke-width="0.8"/>
<line x1="302.00" y1="142.50" x2="305.4" y2="142.50" stroke="#222" stroke-width="0.8"/>
<text x="301.50" y="145.10" font-size="7.5" font-weight="bold" text-anchor="end">0.80</text>
<rect x="306.90" y="279.44" width="4.6" height="2.26" fill="#e4141e"/>
<rect x="311.50" y="242.38" width="4.6" height="39.32" fill="#2ec42a"/>
<line x1="313.80" y1="222.89" x2="313.80" y2="265.17" stroke="#333" stroke-width="0.7"/>
<line x1="312.60" y1="265.17" x2="315.00" y2="265.17" stroke="#333" stroke-width="0.7"/>
<line x1="312.60" y1="222.89" x2="315.00" y2="222.89" stroke="#333" stroke-width="0.7"/>
<rect x="316.10" y="206.36" width="4.6" height="75.34" fill="#f46a10"/>
<line x1="318.40" y1="184.78" x2="318.40" y2="230.20" stroke="#333" stroke-width="0.7"/>
<line x1="317.20" y1="230.20" x2="319.60" y2="230.20" stroke="#333" stroke-width="0.7"/>
<line x1="317.20" y1="184.78" x2="319.60" y2="184.78" stroke="#333" stroke-width="0.7"/>
<line x1="314.20" y1="281.7" x2="314.20" y2="283.7" stroke="#222" stroke-width="0.8"/>
<text transform="translate(315.00,292.0) rotate(-45)" font-size="8.3" font-weight="bold" text-anchor="end">CD34+</text>
<rect x="324.45" y="279.96" width="4.6" height="1.74" fill="#e4141e"/>
<rect x="329.05" y="228.11" width="4.6" height="53.59" fill="#2ec42a"/>
<line x1="331.35" y1="219.93" x2="331.35" y2="237.85" stroke="#333" stroke-width="0.7"/>
<line x1="330.15" y1="237.85" x2="332.55" y2="237.85" stroke="#333" stroke-width="0.7"/>
<line x1="330.15" y1="219.93" x2="332.55" y2="219.93" stroke="#333" stroke-width="0.7"/>
<rect x="333.65" y="160.60" width="4.6" height="121.10" fill="#f46a10"/>
<line x1="335.95" y1="143.20" x2="335.95" y2="181.65" stroke="#333" stroke-width="0.7"/>
<line x1="334.75" y1="181.65" x2="337.15" y2="181.65" stroke="#333" stroke-width="0.7"/>
<line x1="334.75" y1="143.20" x2="337.15" y2="143.20" stroke="#333" stroke-width="0.7"/>
<line x1="331.75" y1="281.7" x2="331.75" y2="283.7" stroke="#222" stroke-width="0.8"/>
<text transform="translate(332.55,292.0) rotate(-45)" font-size="8.3" font-weight="bold" text-anchor="end">AML1</text>
<rect x="342.00" y="275.44" width="4.6" height="6.26" fill="#e4141e"/>
<line x1="344.30" y1="274.04" x2="344.30" y2="276.83" stroke="#333" stroke-width="0.7"/>
<line x1="343.10" y1="276.83" x2="345.50" y2="276.83" stroke="#333" stroke-width="0.7"/>
<line x1="343.10" y1="274.04" x2="345.50" y2="274.04" stroke="#333" stroke-width="0.7"/>
<rect x="346.60" y="227.06" width="4.6" height="54.64" fill="#2ec42a"/>
<line x1="348.90" y1="217.67" x2="348.90" y2="236.63" stroke="#333" stroke-width="0.7"/>
<line x1="347.70" y1="236.63" x2="350.10" y2="236.63" stroke="#333" stroke-width="0.7"/>
<line x1="347.70" y1="217.67" x2="350.10" y2="217.67" stroke="#333" stroke-width="0.7"/>
<rect x="351.20" y="207.92" width="4.6" height="73.78" fill="#f46a10"/>
<line x1="353.50" y1="193.66" x2="353.50" y2="223.93" stroke="#333" stroke-width="0.7"/>
<line x1="352.30" y1="223.93" x2="354.70" y2="223.93" stroke="#333" stroke-width="0.7"/>
<line x1="352.30" y1="193.66" x2="354.70" y2="193.66" stroke="#333" stroke-width="0.7"/>
<line x1="349.30" y1="281.7" x2="349.30" y2="283.7" stroke="#222" stroke-width="0.8"/>
<text transform="translate(350.10,292.0) rotate(-45)" font-size="8.3" font-weight="bold" text-anchor="end">AML2</text>
<rect x="359.55" y="277.87" width="4.6" height="3.83" fill="#e4141e"/>
<line x1="361.85" y1="275.44" x2="361.85" y2="279.61" stroke="#333" stroke-width="0.7"/>
<line x1="360.65" y1="279.61" x2="363.05" y2="279.61" stroke="#333" stroke-width="0.7"/>
<line x1="360.65" y1="275.44" x2="363.05" y2="275.44" stroke="#333" stroke-width="0.7"/>
<rect x="364.15" y="251.08" width="4.6" height="30.62" fill="#2ec42a"/>
<line x1="366.45" y1="248.64" x2="366.45" y2="254.90" stroke="#333" stroke-width="0.7"/>
<line x1="365.25" y1="254.90" x2="367.65" y2="254.90" stroke="#333" stroke-width="0.7"/>
<line x1="365.25" y1="248.64" x2="367.65" y2="248.64" stroke="#333" stroke-width="0.7"/>
<rect x="368.75" y="196.61" width="4.6" height="85.09" fill="#f46a10"/>
<line x1="371.05" y1="174.86" x2="371.05" y2="220.63" stroke="#333" stroke-width="0.7"/>
<line x1="369.85" y1="220.63" x2="372.25" y2="220.63" stroke="#333" stroke-width="0.7"/>
<line x1="369.85" y1="174.86" x2="372.25" y2="174.86" stroke="#333" stroke-width="0.7"/>
<line x1="366.85" y1="281.7" x2="366.85" y2="283.7" stroke="#222" stroke-width="0.8"/>
<text transform="translate(367.65,292.0) rotate(-45)" font-size="8.3" font-weight="bold" text-anchor="end">AML3</text>
<rect x="377.10" y="279.61" width="4.6" height="2.09" fill="#e4141e"/>
<line x1="379.40" y1="276.48" x2="379.40" y2="281.00" stroke="#333" stroke-width="0.7"/>
<line x1="378.20" y1="281.00" x2="380.60" y2="281.00" stroke="#333" stroke-width="0.7"/>
<line x1="378.20" y1="276.48" x2="380.60" y2="276.48" stroke="#333" stroke-width="0.7"/>
<rect x="381.70" y="256.12" width="4.6" height="25.58" fill="#2ec42a"/>
<line x1="384.00" y1="248.64" x2="384.00" y2="267.43" stroke="#333" stroke-width="0.7"/>
<line x1="382.80" y1="267.43" x2="385.20" y2="267.43" stroke="#333" stroke-width="0.7"/>
<line x1="382.80" y1="248.64" x2="385.20" y2="248.64" stroke="#333" stroke-width="0.7"/>
<rect x="386.30" y="232.46" width="4.6" height="49.24" fill="#f46a10"/>
<line x1="388.60" y1="203.92" x2="388.60" y2="262.91" stroke="#333" stroke-width="0.7"/>
<line x1="387.40" y1="262.91" x2="389.80" y2="262.91" stroke="#333" stroke-width="0.7"/>
<line x1="387.40" y1="203.92" x2="389.80" y2="203.92" stroke="#333" stroke-width="0.7"/>
<line x1="384.40" y1="281.7" x2="384.40" y2="283.7" stroke="#222" stroke-width="0.8"/>
<text transform="translate(385.20,292.0) rotate(-45)" font-size="8.3" font-weight="bold" text-anchor="end">AML4</text>
<rect x="394.65" y="275.61" width="4.6" height="6.09" fill="#e4141e"/>
<line x1="396.95" y1="273.00" x2="396.95" y2="278.22" stroke="#333" stroke-width="0.7"/>
<line x1="395.75" y1="278.22" x2="398.15" y2="278.22" stroke="#333" stroke-width="0.7"/>
<line x1="395.75" y1="273.00" x2="398.15" y2="273.00" stroke="#333" stroke-width="0.7"/>
<rect x="399.25" y="243.94" width="4.6" height="37.76" fill="#2ec42a"/>
<line x1="401.55" y1="239.42" x2="401.55" y2="249.16" stroke="#333" stroke-width="0.7"/>
<line x1="400.35" y1="249.16" x2="402.75" y2="249.16" stroke="#333" stroke-width="0.7"/>
<line x1="400.35" y1="239.42" x2="402.75" y2="239.42" stroke="#333" stroke-width="0.7"/>
<rect x="403.85" y="211.23" width="4.6" height="70.47" fill="#f46a10"/>
<line x1="406.15" y1="199.92" x2="406.15" y2="223.93" stroke="#333" stroke-width="0.7"/>
<line x1="404.95" y1="223.93" x2="407.35" y2="223.93" stroke="#333" stroke-width="0.7"/>
<line x1="404.95" y1="199.92" x2="407.35" y2="199.92" stroke="#333" stroke-width="0.7"/>
<line x1="401.95" y1="281.7" x2="401.95" y2="283.7" stroke="#222" stroke-width="0.8"/>
<text transform="translate(402.75,292.0) rotate(-45)" font-size="8.3" font-weight="bold" text-anchor="end">AML5</text>
<rect x="412.20" y="277.87" width="4.6" height="3.83" fill="#e4141e"/>
<rect x="416.80" y="274.74" width="4.6" height="6.96" fill="#2ec42a"/>
<line x1="419.10" y1="273.35" x2="419.10" y2="275.61" stroke="#333" stroke-width="0.7"/>
<line x1="417.90" y1="275.61" x2="420.30" y2="275.61" stroke="#333" stroke-width="0.7"/>
<line x1="417.90" y1="273.35" x2="420.30" y2="273.35" stroke="#333" stroke-width="0.7"/>
<rect x="421.40" y="202.53" width="4.6" height="79.17" fill="#f46a10"/>
<line x1="423.70" y1="171.91" x2="423.70" y2="235.76" stroke="#333" stroke-width="0.7"/>
<line x1="422.50" y1="235.76" x2="424.90" y2="235.76" stroke="#333" stroke-width="0.7"/>
<line x1="422.50" y1="171.91" x2="424.90" y2="171.91" stroke="#333" stroke-width="0.7"/>
<line x1="419.50" y1="281.7" x2="419.50" y2="283.7" stroke="#222" stroke-width="0.8"/>
<text transform="translate(420.30,292.0) rotate(-45)" font-size="8.3" font-weight="bold" text-anchor="end">AML6</text>
<rect x="429.75" y="272.13" width="4.6" height="9.57" fill="#e4141e"/>
<line x1="432.05" y1="268.13" x2="432.05" y2="274.74" stroke="#333" stroke-width="0.7"/>
<line x1="430.85" y1="274.74" x2="433.25" y2="274.74" stroke="#333" stroke-width="0.7"/>
<line x1="430.85" y1="268.13" x2="433.25" y2="268.13" stroke="#333" stroke-width="0.7"/>
<rect x="434.35" y="264.30" width="4.6" height="17.40" fill="#2ec42a"/>
<line x1="436.65" y1="256.12" x2="436.65" y2="269.52" stroke="#333" stroke-width="0.7"/>
<line x1="435.45" y1="269.52" x2="437.85" y2="269.52" stroke="#333" stroke-width="0.7"/>
<line x1="435.45" y1="256.12" x2="437.85" y2="256.12" stroke="#333" stroke-width="0.7"/>
<rect x="438.95" y="214.01" width="4.6" height="67.69" fill="#f46a10"/>
<line x1="441.25" y1="212.10" x2="441.25" y2="215.93" stroke="#333" stroke-width="0.7"/>
<line x1="440.05" y1="215.93" x2="442.45" y2="215.93" stroke="#333" stroke-width="0.7"/>
<line x1="440.05" y1="212.10" x2="442.45" y2="212.10" stroke="#333" stroke-width="0.7"/>
<line x1="437.05" y1="281.7" x2="437.05" y2="283.7" stroke="#222" stroke-width="0.8"/>
<text transform="translate(437.85,292.0) rotate(-45)" font-size="8.3" font-weight="bold" text-anchor="end">AML7</text>
<rect x="447.30" y="279.61" width="4.6" height="2.09" fill="#e4141e"/>
<rect x="451.90" y="270.39" width="4.6" height="11.31" fill="#2ec42a"/>
<line x1="454.20" y1="269.52" x2="454.20" y2="271.61" stroke="#333" stroke-width="0.7"/>
<line x1="453.00" y1="271.61" x2="455.40" y2="271.61" stroke="#333" stroke-width="0.7"/>
<line x1="453.00" y1="269.52" x2="455.40" y2="269.52" stroke="#333" stroke-width="0.7"/>
<rect x="456.50" y="195.92" width="4.6" height="85.78" fill="#f46a10"/>
<line x1="458.80" y1="171.21" x2="458.80" y2="223.93" stroke="#333" stroke-width="0.7"/>
<line x1="457.60" y1="223.93" x2="460.00" y2="223.93" stroke="#333" stroke-width="0.7"/>
<line x1="457.60" y1="171.21" x2="460.00" y2="171.21" stroke="#333" stroke-width="0.7"/>
<line x1="454.60" y1="281.7" x2="454.60" y2="283.7" stroke="#222" stroke-width="0.8"/>
<text transform="translate(455.40,292.0) rotate(-45)" font-size="8.3" font-weight="bold" text-anchor="end">AML8</text>
<rect x="464.85" y="277.87" width="4.6" height="3.83" fill="#e4141e"/>
<rect x="469.45" y="269.52" width="4.6" height="12.18" fill="#2ec42a"/>
<line x1="471.75" y1="264.30" x2="471.75" y2="274.74" stroke="#333" stroke-width="0.7"/>
<line x1="470.55" y1="274.74" x2="472.95" y2="274.74" stroke="#333" stroke-width="0.7"/>
<line x1="470.55" y1="264.30" x2="472.95" y2="264.30" stroke="#333" stroke-width="0.7"/>
<rect x="474.05" y="192.26" width="4.6" height="89.44" fill="#f46a10"/>
<line x1="476.35" y1="177.30" x2="476.35" y2="210.36" stroke="#333" stroke-width="0.7"/>
<line x1="475.15" y1="210.36" x2="477.55" y2="210.36" stroke="#333" stroke-width="0.7"/>
<line x1="475.15" y1="177.30" x2="477.55" y2="177.30" stroke="#333" stroke-width="0.7"/>
<line x1="472.15" y1="281.7" x2="472.15" y2="283.7" stroke="#222" stroke-width="0.8"/>
<text transform="translate(472.95,292.0) rotate(-45)" font-size="8.3" font-weight="bold" text-anchor="end">AML9</text>
<rect x="482.40" y="275.09" width="4.6" height="6.61" fill="#e4141e"/>
<line x1="484.70" y1="273.00" x2="484.70" y2="278.22" stroke="#333" stroke-width="0.7"/>
<line x1="483.50" y1="278.22" x2="485.90" y2="278.22" stroke="#333" stroke-width="0.7"/>
<line x1="483.50" y1="273.00" x2="485.90" y2="273.00" stroke="#333" stroke-width="0.7"/>
<rect x="487.00" y="264.30" width="4.6" height="17.40" fill="#2ec42a"/>
<line x1="489.30" y1="255.60" x2="489.30" y2="273.00" stroke="#333" stroke-width="0.7"/>
<line x1="488.10" y1="273.00" x2="490.50" y2="273.00" stroke="#333" stroke-width="0.7"/>
<line x1="488.10" y1="255.60" x2="490.50" y2="255.60" stroke="#333" stroke-width="0.7"/>
<rect x="491.60" y="162.68" width="4.6" height="119.02" fill="#f46a10"/>
<line x1="493.90" y1="142.50" x2="493.90" y2="185.13" stroke="#333" stroke-width="0.7"/>
<line x1="492.70" y1="185.13" x2="495.10" y2="185.13" stroke="#333" stroke-width="0.7"/>
<line x1="492.70" y1="142.50" x2="495.10" y2="142.50" stroke="#333" stroke-width="0.7"/>
<line x1="489.70" y1="281.7" x2="489.70" y2="283.7" stroke="#222" stroke-width="0.8"/>
<text transform="translate(490.50,292.0) rotate(-45)" font-size="8.3" font-weight="bold" text-anchor="end">AML10</text>
<rect x="499.95" y="273.87" width="4.6" height="7.83" fill="#e4141e"/>
<line x1="502.25" y1="271.26" x2="502.25" y2="276.48" stroke="#333" stroke-width="0.7"/>
<line x1="501.05" y1="276.48" x2="503.45" y2="276.48" stroke="#333" stroke-width="0.7"/>
<line x1="501.05" y1="271.26" x2="503.45" y2="271.26" stroke="#333" stroke-width="0.7"/>
<rect x="504.55" y="267.78" width="4.6" height="13.92" fill="#2ec42a"/>
<line x1="506.85" y1="264.30" x2="506.85" y2="271.26" stroke="#333" stroke-width="0.7"/>
<line x1="505.65" y1="271.26" x2="508.05" y2="271.26" stroke="#333" stroke-width="0.7"/>
<line x1="505.65" y1="264.30" x2="508.05" y2="264.30" stroke="#333" stroke-width="0.7"/>
<rect x="509.15" y="206.88" width="4.6" height="74.82" fill="#f46a10"/>
<line x1="511.45" y1="179.04" x2="511.45" y2="238.20" stroke="#333" stroke-width="0.7"/>
<line x1="510.25" y1="238.20" x2="512.65" y2="238.20" stroke="#333" stroke-width="0.7"/>
<line x1="510.25" y1="179.04" x2="512.65" y2="179.04" stroke="#333" stroke-width="0.7"/>
<line x1="507.25" y1="281.7" x2="507.25" y2="283.7" stroke="#222" stroke-width="0.8"/>
<text transform="translate(508.05,292.0) rotate(-45)" font-size="8.3" font-weight="bold" text-anchor="end">AML11</text>
<text transform="translate(273.9,210.8) rotate(-90)" font-size="8.55" font-weight="bold" text-anchor="middle">Enrichment relative to input</text>
<rect x="431.5" y="124.20" width="9.3" height="8.1" fill="#e4141e"/>
<text x="444.6" y="131.40" font-size="8.7">IgG</text>
<rect x="431.5" y="136.25" width="9.3" height="8.1" fill="#2ec42a"/>
<text x="444.6" y="143.45" font-size="8.7">H3K4me3</text>
<rect x="431.5" y="148.30" width="9.3" height="8.1" fill="#f46a10"/>
<text x="444.6" y="155.50" font-size="8.7">H3K27me3</text>
<text x="1.8" y="335.2" font-size="10.5" font-weight="bold">D</text>
<line x1="28.30" y1="380.60" x2="231.90" y2="380.60" stroke="#dedede" stroke-width="0.6"/>
<line x1="28.30" y1="375.30" x2="231.90" y2="375.30" stroke="#dedede" stroke-width="0.6"/>
<line x1="28.30" y1="370.00" x2="231.90" y2="370.00" stroke="#dedede" stroke-width="0.6"/>
<line x1="28.30" y1="364.70" x2="231.90" y2="364.70" stroke="#dedede" stroke-width="0.6"/>
<line x1="28.30" y1="354.10" x2="231.90" y2="354.10" stroke="#dedede" stroke-width="0.6"/>
<line x1="28.30" y1="348.80" x2="231.90" y2="348.80" stroke="#dedede" stroke-width="0.6"/>
<line x1="28.30" y1="343.50" x2="231.90" y2="343.50" stroke="#dedede" stroke-width="0.6"/>
<line x1="28.30" y1="338.20" x2="231.90" y2="338.20" stroke="#dedede" stroke-width="0.6"/>
<line x1="28.30" y1="423.97" x2="231.90" y2="423.97" stroke="#dedede" stroke-width="0.6"/>
<line x1="28.30" y1="418.67" x2="231.90" y2="418.67" stroke="#dedede" stroke-width="0.6"/>
<line x1="28.30" y1="413.37" x2="231.90" y2="413.37" stroke="#dedede" stroke-width="0.6"/>
<line x1="28.30" y1="408.07" x2="231.90" y2="408.07" stroke="#dedede" stroke-width="0.6"/>
<line x1="28.30" y1="397.47" x2="231.90" y2="397.47" stroke="#dedede" stroke-width="0.6"/>
<line x1="28.30" y1="392.17" x2="231.90" y2="392.17" stroke="#dedede" stroke-width="0.6"/>
<line x1="28.30" y1="386.87" x2="231.90" y2="386.87" stroke="#dedede" stroke-width="0.6"/>
<line x1="28.30" y1="381.57" x2="231.90" y2="381.57" stroke="#dedede" stroke-width="0.6"/>
<line x1="28.30" y1="467.34" x2="231.90" y2="467.34" stroke="#dedede" stroke-width="0.6"/>
<line x1="28.30" y1="462.04" x2="231.90" y2="462.04" stroke="#dedede" stroke-width="0.6"/>
<line x1="28.30" y1="456.74" x2="231.90" y2="456.74" stroke="#dedede" stroke-width="0.6"/>
<line x1="28.30" y1="451.44" x2="231.90" y2="451.44" stroke="#dedede" stroke-width="0.6"/>
<line x1="28.30" y1="440.84" x2="231.90" y2="440.84" stroke="#dedede" stroke-width="0.6"/>
<line x1="28.30" y1="435.54" x2="231.90" y2="435.54" stroke="#dedede" stroke-width="0.6"/>
<line x1="28.30" y1="430.24" x2="231.90" y2="430.24" stroke="#dedede" stroke-width="0.6"/>
<line x1="28.30" y1="424.94" x2="231.90" y2="424.94" stroke="#dedede" stroke-width="0.6"/>
<line x1="28.30" y1="510.71" x2="231.90" y2="510.71" stroke="#dedede" stroke-width="0.6"/>
<line x1="28.30" y1="505.41" x2="231.90" y2="505.41" stroke="#dedede" stroke-width="0.6"/>
<line x1="28.30" y1="500.11" x2="231.90" y2="500.11" stroke="#dedede" stroke-width="0.6"/>
<line x1="28.30" y1="494.81" x2="231.90" y2="494.81" stroke="#dedede" stroke-width="0.6"/>
<line x1="28.30" y1="484.21" x2="231.90" y2="484.21" stroke="#dedede" stroke-width="0.6"/>
<line x1="28.30" y1="478.91" x2="231.90" y2="478.91" stroke="#dedede" stroke-width="0.6"/>
<line x1="28.30" y1="473.61" x2="231.90" y2="473.61" stroke="#dedede" stroke-width="0.6"/>
<line x1="28.30" y1="468.31" x2="231.90" y2="468.31" stroke="#dedede" stroke-width="0.6"/>
<line x1="28.30" y1="554.08" x2="231.90" y2="554.08" stroke="#dedede" stroke-width="0.6"/>
<line x1="28.30" y1="548.78" x2="231.90" y2="548.78" stroke="#dedede" stroke-width="0.6"/>
<line x1="28.30" y1="543.48" x2="231.90" y2="543.48" stroke="#dedede" stroke-width="0.6"/>
<line x1="28.30" y1="538.18" x2="231.90" y2="538.18" stroke="#dedede" stroke-width="0.6"/>
<line x1="28.30" y1="527.58" x2="231.90" y2="527.58" stroke="#dedede" stroke-width="0.6"/>
<line x1="28.30" y1="522.28" x2="231.90" y2="522.28" stroke="#dedede" stroke-width="0.6"/>
<line x1="28.30" y1="516.98" x2="231.90" y2="516.98" stroke="#dedede" stroke-width="0.6"/>
<line x1="28.30" y1="511.68" x2="231.90" y2="511.68" stroke="#dedede" stroke-width="0.6"/>
<line x1="28.30" y1="597.45" x2="231.90" y2="597.45" stroke="#dedede" stroke-width="0.6"/>
<line x1="28.30" y1="592.15" x2="231.90" y2="592.15" stroke="#dedede" stroke-width="0.6"/>
<line x1="28.30" y1="586.85" x2="231.90" y2="586.85" stroke="#dedede" stroke-width="0.6"/>
<line x1="28.30" y1="581.55" x2="231.90" y2="581.55" stroke="#dedede" stroke-width="0.6"/>
<line x1="28.30" y1="570.95" x2="231.90" y2="570.95" stroke="#dedede" stroke-width="0.6"/>
<line x1="28.30" y1="565.65" x2="231.90" y2="565.65" stroke="#dedede" stroke-width="0.6"/>
<line x1="28.30" y1="560.35" x2="231.90" y2="560.35" stroke="#dedede" stroke-width="0.6"/>
<line x1="28.30" y1="555.05" x2="231.90" y2="555.05" stroke="#dedede" stroke-width="0.6"/>
<line x1="28.30" y1="640.82" x2="231.90" y2="640.82" stroke="#dedede" stroke-width="0.6"/>
<line x1="28.30" y1="635.52" x2="231.90" y2="635.52" stroke="#dedede" stroke-width="0.6"/>
<line x1="28.30" y1="630.22" x2="231.90" y2="630.22" stroke="#dedede" stroke-width="0.6"/>
<line x1="28.30" y1="624.92" x2="231.90" y2="624.92" stroke="#dedede" stroke-width="0.6"/>
<line x1="28.30" y1="614.32" x2="231.90" y2="614.32" stroke="#dedede" stroke-width="0.6"/>
<line x1="28.30" y1="609.02" x2="231.90" y2="609.02" stroke="#dedede" stroke-width="0.6"/>
<line x1="28.30" y1="603.72" x2="231.90" y2="603.72" stroke="#dedede" stroke-width="0.6"/>
<line x1="28.30" y1="598.42" x2="231.90" y2="598.42" stroke="#dedede" stroke-width="0.6"/>
<line x1="231.90" y1="337.70" x2="231.90" y2="641.32" stroke="#9a9a9a" stroke-width="0.9"/>
<path d="M28.30,359.40L28.30,368.78L28.80,370.50L29.30,370.39L29.80,371.83L29.92,371.47L30.30,371.42L30.80,373.31L31.30,372.65L31.80,379.79L32.30,381.13L32.80,377.88L33.30,374.78L33.80,375.57L34.30,376.55L34.80,382.26L35.30,382.65L35.80,382.18L36.30,375.03L36.80,374.36L37.30,375.05L37.80,373.27L38.30,372.09L38.80,375.87L39.30,376.77L39.80,375.17L40.30,380.50L40.80,378.90L41.30,372.11L41.80,368.63L42.30,367.85L42.80,367.52L43.30,365.96L43.80,367.93L44.30,372.56L44.80,372.31L45.30,373.36L45.31,374.04L45.80,378.50L46.30,382.04L46.80,379.33L47.30,383.57L47.80,385.29L48.30,384.58L48.80,381.56L49.30,376.73L49.80,381.15L50.30,379.94L50.80,379.26L51.30,379.75L51.80,375.98L52.30,380.14L52.80,372.50L53.30,371.37L53.80,369.26L54.30,367.66L54.80,366.91L55.30,368.36L55.80,371.40L56.30,372.60L56.80,375.60L57.30,377.09L57.80,381.13L58.30,376.41L58.80,377.90L59.30,380.59L59.80,381.13L60.30,373.65L60.80,373.07L61.30,376.76L61.80,375.10L62.30,373.86L62.80,374.98L63.30,375.26L63.80,377.30L64.30,376.96L64.80,378.43L65.30,381.29L65.80,379.25L66.30,382.79L66.80,381.02L67.30,377.78L67.80,376.98L68.30,373.60L68.80,370.97L69.30,372.21L69.80,372.06L70.30,369.75L70.80,370.82L71.30,375.30L71.80,374.59L72.23,376.48L72.30,375.91L72.80,375.72L73.30,373.46L73.80,371.62L74.30,370.11L74.80,371.13L75.30,370.74L75.80,369.30L76.30,367.71L76.80,369.44L77.30,368.40L77.80,369.13L78.30,367.40L78.80,366.42L79.30,367.44L79.80,365.63L80.30,366.98L80.80,368.43L81.30,375.04L81.80,371.21L82.30,370.84L82.80,366.99L83.30,365.98L83.80,363.37L84.30,364.41L84.80,365.46L85.30,365.38L85.80,366.33L86.30,367.24L86.80,368.46L87.30,367.90L87.62,367.61L87.80,368.94L88.30,367.22L88.80,366.34L89.30,367.78L89.80,365.83L90.30,368.52L90.80,370.69L91.30,368.72L91.80,369.42L92.30,368.21L92.80,370.50L93.30,367.30L93.80,368.99L94.30,368.00L94.80,367.02L95.30,366.78L95.80,365.32L96.30,361.49L96.80,361.62L97.30,361.42L97.80,361.68L98.30,361.50L98.80,362.45L99.30,362.95L99.80,364.48L100.30,361.93L100.80,361.87L101.30,361.70L101.80,361.91L102.30,361.42L102.80,363.97L103.30,364.11L103.80,365.70L104.30,365.33L104.80,366.94L105.30,367.17L105.80,368.93L106.30,371.88L106.80,371.64L107.30,371.32L107.80,370.54L108.30,370.56L108.80,367.32L109.30,368.93L109.80,368.17L110.30,371.26L110.80,366.77L111.30,365.78L111.80,364.85L112.30,366.77L112.80,363.21L113.30,363.86L113.80,363.98L114.30,363.36L114.80,363.54L115.30,364.17L115.80,364.62L116.30,366.47L116.46,367.36L116.80,370.09L117.30,365.01L117.80,364.27L118.30,364.26L118.80,364.91L119.30,364.31L119.80,365.21L120.30,369.09L120.80,364.66L121.30,366.01L121.80,365.50L122.30,366.36L122.80,366.33L123.30,369.15L123.80,368.73L124.30,372.55L124.80,371.46L125.30,369.67L125.80,370.31L126.30,370.60L126.80,368.31L127.30,370.23L127.80,367.52L128.30,369.37L128.80,367.16L129.30,367.56L129.80,369.10L130.30,368.99L130.80,367.23L131.30,366.93L131.80,366.20L132.30,367.79L132.80,366.61L133.30,368.64L133.80,370.75L134.30,370.99L134.80,372.64L135.30,373.31L135.80,371.63L136.30,371.98L136.80,372.67L137.30,372.76L137.80,372.80L138.30,371.67L138.80,374.20L139.30,372.64L139.80,372.90L140.30,372.45L140.80,370.26L141.30,372.68L141.80,370.79L142.30,373.69L142.80,372.06L143.30,372.23L143.80,371.56L144.30,372.81L144.80,372.97L145.30,376.60L145.80,375.14L146.30,377.27L146.80,376.57L147.30,373.79L147.80,378.52L148.30,378.13L148.80,374.29L149.30,375.60L149.80,381.14L150.30,377.50L150.80,378.85L151.30,379.71L151.80,381.90L152.30,378.97L152.80,381.69L153.00,376.78L153.30,380.43L153.80,378.00L154.30,381.13L154.80,372.84L155.30,373.09L155.80,373.51L156.30,370.08L156.80,373.82L157.30,374.72L157.80,380.28L158.30,374.13L158.80,374.46L159.30,376.80L159.80,373.50L160.30,378.74L160.80,377.28L161.30,376.44L161.80,373.84L162.30,375.34L162.80,374.14L163.30,372.79L163.80,375.65L164.30,381.13L164.80,373.68L165.30,376.08L165.80,377.45L166.30,378.13L166.80,381.94L167.30,379.91L167.80,381.24L168.30,383.16L168.80,377.94L169.30,381.52L169.80,381.26L170.30,378.69L170.80,377.54L171.30,375.46L171.80,376.61L172.30,374.28L172.80,379.26L173.30,377.88L173.80,381.13L174.30,378.87L174.80,376.14L175.30,375.95L175.80,376.33L176.30,381.03L176.80,378.75L177.30,375.40L177.80,376.05L178.30,372.25L178.80,375.43L179.30,373.78L179.80,371.09L180.30,373.49L180.80,374.60L181.30,374.99L181.80,377.25L182.30,377.81L182.80,377.54L183.30,380.34L183.80,380.85L184.30,382.91L184.80,381.13L185.30,380.93L185.80,382.66L186.30,380.18L186.80,382.38L187.30,382.04L187.80,375.70L188.30,378.31L188.80,381.13L189.30,376.55L189.80,374.15L190.30,376.79L190.80,373.04L191.30,374.30L191.80,372.89L192.30,372.80L192.80,381.13L193.30,378.41L193.80,377.03L194.30,379.43L194.80,377.29L195.30,382.78L195.80,383.93L196.30,378.21L196.80,382.73L197.30,376.61L197.80,376.05L198.30,381.13L198.80,380.36L199.30,376.47L199.80,379.01L200.30,373.96L200.80,375.92L201.30,376.27L201.80,377.19L202.30,376.40L202.80,374.32L203.30,371.90L203.80,380.76L204.30,373.97L204.80,376.59L205.30,376.71L205.80,375.20L206.30,378.28L206.80,375.35L207.30,378.80L207.80,376.86L208.30,377.49L208.80,377.43L209.30,375.01L209.80,376.10L210.30,376.97L210.80,376.93L211.30,376.37L211.80,374.63L212.30,377.37L212.80,376.71L213.30,377.48L213.80,376.87L214.30,381.13L214.80,381.13L215.30,380.96L215.80,376.22L216.30,380.79L216.80,375.96L217.30,374.89L217.80,377.82L218.30,374.85L218.80,381.13L219.30,375.90L219.80,372.34L220.30,372.32L220.80,372.33L221.30,370.18L221.80,369.49L222.30,367.69L222.80,366.80L223.30,364.33L223.80,363.88L224.30,362.43L224.80,361.94L225.30,359.40L225.80,359.40L226.30,359.40L226.80,359.40L227.30,359.40L227.80,359.40L228.30,359.40L228.80,359.40L229.30,359.40L229.80,359.40L230.30,359.40L230.80,359.40L230.80,359.40Z" fill="#f80e0e" fill-opacity="0.45"/>
<path d="M28.30,359.40L28.30,367.53L28.80,368.26L29.30,366.78L29.80,366.60L29.92,367.36L30.30,369.13L30.80,368.87L31.30,370.09L31.80,368.67L32.30,371.27L32.80,370.42L33.30,372.71L33.80,360.17L34.30,360.20L34.80,376.44L35.30,373.57L35.80,375.53L36.30,371.96L36.80,372.94L37.30,369.85L37.80,370.57L38.30,370.00L38.80,370.68L39.30,370.90L39.80,369.96L40.30,370.92L40.80,370.68L41.30,369.23L41.80,369.96L42.30,368.40L42.80,365.69L43.30,359.70L43.80,359.77L44.30,367.36L44.80,370.79L45.30,372.70L45.31,373.60L45.80,374.52L46.30,376.50L46.80,381.11L47.30,375.81L47.80,377.21L48.30,360.31L48.80,360.28L49.30,376.49L49.80,379.00L50.30,375.63L50.80,372.15L51.30,373.03L51.80,369.79L52.30,371.06L52.80,367.12L53.30,368.10L53.80,367.01L54.30,365.27L54.80,365.07L55.30,366.72L55.80,367.96L56.30,369.78L56.80,370.76L57.30,374.22L57.80,372.58L58.30,373.62L58.80,360.26L59.30,360.21L59.80,374.80L60.30,372.53L60.80,371.25L61.30,372.93L61.80,368.11L62.30,372.00L62.80,371.95L63.30,371.84L63.80,372.98L64.30,370.87L64.80,371.59L65.30,371.98L65.80,373.85L66.30,374.59L66.80,372.95L67.30,373.70L67.80,368.80L68.30,369.03L68.80,369.31L69.30,369.68L69.80,367.61L70.30,368.08L70.80,359.93L71.30,359.98L71.80,370.66L72.23,369.25L72.30,370.03L72.80,369.73L73.30,371.56L73.80,368.14L74.30,368.13L74.80,368.11L75.30,359.82L75.80,359.80L76.30,366.77L76.80,367.44L77.30,367.38L77.80,366.27L78.30,367.33L78.80,365.93L79.30,364.28L79.80,364.09L80.30,365.88L80.80,366.05L81.30,369.53L81.80,359.88L82.30,359.81L82.80,366.07L83.30,363.50L83.80,363.12L84.30,363.68L84.80,363.18L85.30,364.77L85.80,365.10L86.30,366.07L86.80,367.06L87.30,367.75L87.62,367.80L87.80,368.44L88.30,366.50L88.80,365.51L89.30,363.84L89.80,365.38L90.30,366.32L90.80,368.08L91.30,367.13L91.80,368.39L92.30,369.47L92.80,365.62L93.30,365.87L93.80,364.64L94.30,365.72L94.80,364.69L95.30,364.63L95.80,364.29L96.30,360.95L96.80,361.66L97.30,361.40L97.80,360.99L98.30,361.21L98.80,361.95L99.30,361.83L99.80,361.51L100.30,361.26L100.80,361.15L101.30,361.23L101.80,360.94L102.30,361.02L102.80,362.61L103.30,363.31L103.80,363.77L104.30,364.01L104.80,363.74L105.30,359.75L105.80,359.82L106.30,369.75L106.80,369.71L107.30,368.32L107.80,367.19L108.30,366.40L108.80,367.72L109.30,366.52L109.80,366.59L110.30,364.87L110.80,364.86L111.30,364.73L111.80,363.42L112.30,362.54L112.80,362.11L113.30,362.87L113.80,362.92L114.30,363.30L114.80,363.87L115.30,363.43L115.80,364.21L116.30,365.23L116.46,363.99L116.80,364.44L117.30,363.70L117.80,362.99L118.30,363.14L118.80,363.72L119.30,363.05L119.80,359.63L120.30,359.64L120.80,364.12L121.30,364.95L121.80,365.54L122.30,365.09L122.80,365.60L123.30,365.97L123.80,367.32L124.30,369.22L124.80,369.58L125.30,368.39L125.80,369.29L126.30,369.32L126.80,368.32L127.30,368.13L127.80,365.59L128.30,364.85L128.80,366.40L129.30,359.77L129.80,359.75L130.30,366.67L130.80,366.45L131.30,365.94L131.80,364.51L132.30,364.86L132.80,365.82L133.30,368.30L133.80,367.33L134.30,367.42L134.80,359.91L135.30,359.95L135.80,372.66L136.30,369.38L136.80,367.79L137.30,368.86L137.80,369.72L138.30,371.67L138.80,369.43L139.30,369.95L139.80,366.94L140.30,367.79L140.80,367.27L141.30,370.14L141.80,368.45L142.30,370.44L142.80,367.98L143.30,369.73L143.80,370.30L144.30,370.15L144.80,370.43L145.30,373.60L145.80,374.22L146.30,371.26L146.80,371.35L147.30,373.76L147.80,373.50L148.30,372.57L148.80,372.53L149.30,370.91L149.80,371.67L150.30,372.68L150.80,373.51L151.30,375.53L151.80,373.81L152.30,375.70L152.80,372.91L153.00,374.07L153.30,375.21L153.80,373.34L154.30,373.99L154.80,371.05L155.30,368.88L155.80,367.50L156.30,368.31L156.80,370.57L157.30,370.53L157.80,359.99L158.30,360.01L158.80,369.07L159.30,372.69L159.80,372.75L160.30,375.63L160.80,370.90L161.30,369.63L161.80,371.03L162.30,369.48L162.80,371.41L163.30,371.57L163.80,371.03L164.30,368.42L164.80,374.48L165.30,373.65L165.80,370.50L166.30,371.86L166.80,360.21L167.30,360.25L167.80,376.16L168.30,379.27L168.80,378.47L169.30,378.31L169.80,376.55L170.30,375.76L170.80,360.16L171.30,360.13L171.80,371.85L172.30,374.59L172.80,375.00L173.30,373.92L173.80,360.14L174.30,360.16L174.80,373.60L175.30,376.52L175.80,375.04L176.30,375.62L176.80,370.48L177.30,371.05L177.80,372.42L178.30,370.84L178.80,370.79L179.30,369.99L179.80,369.32L180.30,368.84L180.80,369.88L181.30,369.51L181.80,373.37L182.30,371.74L182.80,372.27L183.30,373.98L183.80,372.41L184.30,376.53L184.80,360.28L185.30,360.27L185.80,378.16L186.30,378.15L186.80,374.86L187.30,375.23L187.80,371.67L188.30,371.20L188.80,372.77L189.30,373.26L189.80,376.13L190.30,370.94L190.80,370.80L191.30,371.22L191.80,370.78L192.30,371.91L192.80,372.42L193.30,360.10L193.80,360.13L194.30,375.98L194.80,374.86L195.30,376.10L195.80,377.80L196.30,375.13L196.80,374.35L197.30,374.86L197.80,377.05L198.30,373.23L198.80,373.08L199.30,373.12L199.80,360.11L200.30,360.09L200.80,372.33L201.30,373.18L201.80,370.78L202.30,360.04L202.80,360.03L203.30,372.88L203.80,372.47L204.30,360.01L204.80,360.04L205.30,373.53L205.80,372.68L206.30,374.78L206.80,372.42L207.30,374.60L207.80,373.24L208.30,360.19L208.80,360.18L209.30,374.10L209.80,375.53L210.30,373.64L210.80,373.01L211.30,374.06L211.80,372.49L212.30,373.89L212.80,372.72L213.30,371.48L213.80,373.13L214.30,373.76L214.80,360.17L215.30,360.18L215.80,374.41L216.30,372.84L216.80,375.71L217.30,374.20L217.80,373.86L218.30,375.13L218.80,372.16L219.30,372.19L219.80,370.66L220.30,359.93L220.80,359.81L221.30,364.18L221.80,363.41L222.30,361.37L222.80,359.94L223.30,359.40L223.80,359.40L224.30,359.40L224.80,359.40L225.30,359.40L225.80,359.40L226.30,359.40L226.80,359.40L227.30,359.40L227.80,359.40L228.30,359.40L228.80,359.40L229.30,359.40L229.80,359.40L230.30,359.40L230.80,359.40L230.80,359.40Z" fill="#f80e0e"/>
<path d="M28.30,359.40L28.30,355.14L28.80,343.79L29.30,345.28L29.80,339.84L29.92,337.86L30.30,350.66L30.80,356.70L31.30,356.19L31.80,356.34L32.30,356.43L32.80,353.95L33.30,355.28L33.80,351.06L34.30,352.15L34.80,350.35L35.30,354.77L35.80,348.57L36.30,352.30L36.80,343.74L37.30,350.61L37.80,352.38L38.30,345.73L38.80,348.25L39.30,347.41L39.80,352.77L40.30,346.29L40.80,350.26L41.30,347.14L41.80,346.95L42.30,349.04L42.80,347.71L43.30,348.29L43.80,354.30L44.30,338.20L44.80,353.29L45.30,340.05L45.31,340.02L45.80,350.04L46.30,352.25L46.80,353.73L47.30,356.17L47.80,353.86L48.30,357.32L48.80,356.93L49.30,358.58L49.80,358.14L50.30,357.30L50.80,355.55L51.30,357.13L51.80,357.18L52.30,357.48L52.80,356.24L53.30,357.51L53.80,357.81L54.30,353.24L54.80,351.59L55.30,351.78L55.80,354.17L56.30,355.04L56.80,351.70L57.30,353.13L57.80,352.49L58.30,353.05L58.80,356.38L59.30,353.39L59.80,355.59L60.30,354.89L60.80,357.59L61.30,357.46L61.80,358.36L62.30,358.00L62.80,356.10L63.30,357.56L63.80,356.06L64.30,352.22L64.80,352.62L65.30,356.79L65.80,357.43L66.30,354.46L66.80,354.35L67.30,357.61L67.80,356.68L68.30,358.38L68.80,357.58L69.30,357.20L69.80,357.35L70.30,357.19L70.80,356.48L71.30,357.35L71.80,355.48L72.23,352.94L72.30,355.12L72.80,354.79L73.30,353.52L73.80,355.78L74.30,354.76L74.80,355.24L75.30,353.27L75.80,357.33L76.30,357.60L76.80,357.10L77.30,358.13L77.80,358.02L78.30,357.37L78.80,356.23L79.30,358.09L79.80,358.11L80.30,358.33L80.80,358.90L81.30,358.91L81.80,357.47L82.30,358.66L82.80,358.01L83.30,358.73L83.80,358.99L84.30,356.33L84.80,358.87L85.30,358.34L85.80,358.40L86.30,358.28L86.80,356.52L87.30,349.92L87.62,352.94L87.80,357.38L88.30,354.21L88.80,356.53L89.30,355.83L89.80,355.42L90.30,353.04L90.80,354.36L91.30,355.70L91.80,354.61L92.30,355.12L92.80,351.27L93.30,351.42L93.80,346.94L94.30,345.50L94.80,349.18L95.30,351.23L95.80,343.16L96.30,352.30L96.80,352.60L97.30,345.23L97.80,350.25L98.30,349.96L98.80,348.21L99.30,338.20L99.80,341.47L100.30,338.20L100.80,345.14L101.30,344.71L101.80,342.28L102.30,344.54L102.80,340.85L103.30,352.33L103.80,342.60L104.30,347.10L104.80,349.83L105.30,347.05L105.80,338.43L106.30,339.10L106.80,338.20L107.30,343.97L107.80,351.45L108.30,351.14L108.80,349.65L109.30,349.89L109.80,344.41L110.30,349.09L110.80,347.27L111.30,354.77L111.80,353.43L112.30,352.25L112.80,350.72L113.30,352.11L113.80,357.39L114.30,356.25L114.80,357.58L115.30,355.78L115.80,354.25L116.30,356.33L116.46,351.86L116.80,354.42L117.30,350.48L117.80,355.46L118.30,354.37L118.80,349.10L119.30,348.69L119.80,354.03L120.30,354.75L120.80,346.01L121.30,352.34L121.80,353.72L122.30,352.72L122.80,352.67L123.30,356.92L123.80,356.88L124.30,354.60L124.80,356.97L125.30,357.92L125.80,356.73L126.30,357.22L126.80,356.72L127.30,358.75L127.80,357.77L128.30,355.20L128.80,358.16L129.30,358.16L129.80,355.76L130.30,355.35L130.80,355.24L131.30,356.86L131.80,355.83L132.30,348.87L132.80,355.17L133.30,354.45L133.80,355.25L134.30,356.75L134.80,353.61L135.30,354.41L135.80,356.91L136.30,353.41L136.80,356.13L137.30,356.14L137.80,356.65L138.30,357.16L138.80,355.87L139.30,356.79L139.80,354.85L140.30,357.33L140.80,352.14L141.30,355.96L141.80,357.44L142.30,352.72L142.80,355.88L143.30,356.54L143.80,358.30L144.30,355.69L144.80,357.05L145.30,357.37L145.80,357.39L146.30,355.19L146.80,351.69L147.30,353.82L147.80,355.58L148.30,355.50L148.80,354.89L149.30,353.50L149.80,354.53L150.30,356.37L150.80,355.28L151.30,351.17L151.80,353.35L152.30,354.61L152.80,343.44L153.00,342.60L153.30,344.77L153.80,352.79L154.30,354.98L154.80,355.14L155.30,357.08L155.80,354.37L156.30,353.47L156.80,356.40L157.30,357.07L157.80,356.99L158.30,358.20L158.80,356.79L159.30,357.96L159.80,357.42L160.30,356.87L160.80,357.07L161.30,356.78L161.80,356.92L162.30,353.58L162.80,355.51L163.30,355.72L163.80,356.92L164.30,355.17L164.80,357.48L165.30,356.97L165.80,354.97L166.30,354.81L166.80,355.22L167.30,353.46L167.80,356.00L168.30,356.71L168.80,357.52L169.30,354.31L169.80,355.50L170.30,355.09L170.80,352.57L171.30,353.51L171.80,353.91L172.30,355.91L172.80,356.60L173.30,351.23L173.80,352.37L174.30,350.54L174.80,356.48L175.30,347.53L175.80,356.52L176.30,346.52L176.80,349.09L177.30,346.57L177.80,347.85L178.30,349.13L178.80,353.91L179.30,352.14L179.80,351.37L180.30,353.42L180.80,345.13L181.30,335.89L181.80,335.42L182.30,334.91L182.80,338.20L183.30,351.07L183.80,351.40L184.30,342.19L184.80,341.52L185.30,350.54L185.80,344.82L186.30,343.81L186.80,344.59L187.30,340.23L187.80,349.53L188.30,354.61L188.80,349.18L189.30,356.23L189.80,346.10L190.30,354.30L190.80,354.90L191.30,357.89L191.80,358.32L192.30,354.89L192.80,350.64L193.30,351.47L193.80,354.67L194.30,355.33L194.80,348.56L195.30,351.52L195.80,350.96L196.30,346.38L196.80,353.35L197.30,348.13L197.80,352.09L198.30,338.20L198.80,351.75L199.30,347.06L199.80,341.34L200.30,349.61L200.80,352.18L201.30,346.28L201.80,354.03L202.30,349.03L202.80,353.86L203.30,353.97L203.80,355.23L204.30,348.01L204.80,347.58L205.30,349.63L205.80,347.95L206.30,349.40L206.80,342.28L207.30,348.59L207.80,345.51L208.30,350.33L208.80,350.76L209.30,350.92L209.80,341.82L210.30,348.47L210.80,348.04L211.30,353.96L211.80,353.20L212.30,351.06L212.80,354.52L213.30,353.95L213.80,354.77L214.30,354.25L214.80,356.02L215.30,357.67L215.80,354.70L216.30,352.71L216.80,352.87L217.30,354.63L217.80,353.71L218.30,352.68L218.80,349.89L219.30,351.39L219.80,351.29L220.30,349.18L220.80,347.96L221.30,355.98L221.80,352.32L222.30,357.49L222.80,359.14L223.30,359.40L223.80,359.40L224.30,359.40L224.80,359.40L225.30,359.40L225.80,359.40L226.30,359.40L226.80,359.40L227.30,359.40L227.80,359.40L228.30,359.40L228.80,359.40L229.30,359.40L229.80,359.40L230.30,359.40L230.80,359.40L230.80,359.40Z" fill="#1a1acc"/>
<line x1="28.30" y1="359.40" x2="236.60" y2="359.40" stroke="#333" stroke-width="0.8"/>
<line x1="236.60" y1="339.40" x2="236.60" y2="378.00" stroke="#333" stroke-width="0.6"/>
<path d="M235.70,341.00 L236.60,339.10 L237.50,341.00 Z" fill="#222"/>
<path d="M235.70,376.40 L236.60,378.30 L237.50,376.40 Z" fill="#222"/>
<text transform="translate(241.00,359.70) rotate(-90)" font-size="6.15" font-weight="normal" text-anchor="middle" dominant-baseline="central" fill="#111" >H3K27 H3K4</text>
<text transform="translate(248.40,360.70) rotate(-90)" font-size="6.5" font-weight="normal" text-anchor="middle" dominant-baseline="central" fill="#111" >AML1</text>
<text transform="translate(26.20,339.70) rotate(-90)" font-size="5.4" text-anchor="middle" dominant-baseline="central" fill="#222">4</text>
<text transform="translate(26.20,348.80) rotate(-90)" font-size="5.4" text-anchor="middle" dominant-baseline="central" fill="#222">2</text>
<text transform="translate(26.20,359.40) rotate(-90)" font-size="5.4" text-anchor="middle" dominant-baseline="central" fill="#222">0</text>
<text transform="translate(26.20,370.00) rotate(-90)" font-size="5.4" text-anchor="middle" dominant-baseline="central" fill="#222">2</text>
<text transform="translate(26.20,378.80) rotate(-90)" font-size="5.4" text-anchor="middle" dominant-baseline="central" fill="#222">4</text>
<path d="M28.30,402.77L28.30,410.80L28.80,410.67L29.30,411.27L29.80,410.24L29.92,414.00L30.30,410.52L30.80,409.50L31.30,412.23L31.80,413.14L32.30,411.57L32.80,415.83L33.30,415.78L33.80,415.64L34.30,416.37L34.80,415.78L35.30,418.89L35.80,423.40L36.30,419.08L36.80,417.13L37.30,420.10L37.80,418.43L38.30,420.32L38.80,415.25L39.30,415.90L39.80,419.27L40.30,416.69L40.80,424.50L41.30,420.06L41.80,419.07L42.30,424.41L42.80,424.36L43.30,424.50L43.80,424.91L44.30,427.45L44.80,426.84L45.30,426.49L45.31,428.76L45.80,427.70L46.30,422.26L46.80,421.64L47.30,422.27L47.80,424.46L48.30,418.28L48.80,415.43L49.30,417.11L49.80,415.95L50.30,412.65L50.80,413.33L51.30,411.10L51.80,413.80L52.30,414.59L52.80,422.59L53.30,419.16L53.80,416.34L54.30,420.16L54.80,418.88L55.30,423.96L55.80,420.84L56.30,423.97L56.80,422.66L57.30,423.24L57.80,419.93L58.30,418.66L58.80,421.55L59.30,422.29L59.80,422.70L60.30,416.96L60.80,418.25L61.30,419.94L61.80,421.93L62.30,425.66L62.80,423.71L63.30,423.81L63.80,427.23L64.30,427.23L64.80,421.98L65.30,424.46L65.80,421.11L66.30,424.41L66.80,422.22L67.30,421.71L67.80,423.62L68.30,424.50L68.80,422.13L69.30,422.73L69.80,416.13L70.30,418.58L70.31,418.18L70.80,415.87L71.30,417.56L71.80,422.40L72.30,419.68L72.80,422.31L73.30,421.69L73.80,421.57L74.30,416.77L74.80,419.96L75.30,421.81L75.80,422.51L76.30,420.34L76.80,423.35L77.30,418.33L77.80,421.34L78.30,418.51L78.80,416.87L79.30,412.39L79.80,413.84L80.30,410.27L80.80,410.54L81.30,410.67L81.80,410.78L82.30,411.20L82.80,411.83L83.30,412.51L83.80,410.60L84.30,411.28L84.80,408.67L85.30,408.38L85.80,407.98L86.30,408.80L86.80,409.11L87.30,408.38L87.80,410.42L88.30,411.52L88.80,410.30L89.30,411.76L89.80,413.27L90.30,418.30L90.80,419.10L91.30,415.86L91.80,413.75L92.30,413.42L92.80,409.97L93.30,410.92L93.80,409.12L94.30,409.46L94.80,408.43L95.30,408.16L95.80,407.66L96.30,408.77L96.80,408.75L97.30,414.11L97.80,409.58L98.30,410.10L98.80,412.28L99.30,412.29L99.80,410.28L100.30,408.58L100.80,407.61L101.30,407.81L101.80,409.03L102.30,409.50L102.80,410.45L103.30,412.06L103.80,413.03L104.30,414.08L104.80,413.61L105.30,414.51L105.80,413.86L106.30,415.72L106.80,417.57L107.30,414.07L107.80,415.24L108.30,412.52L108.80,417.13L109.30,417.93L109.80,412.02L110.30,413.47L110.80,415.15L111.30,414.75L111.80,415.64L112.30,416.48L112.80,415.65L113.30,415.37L113.80,412.86L114.30,411.00L114.80,412.48L115.30,414.12L115.80,414.81L116.30,412.72L116.80,415.76L117.30,415.00L117.80,422.30L118.30,418.54L118.80,417.47L119.30,413.88L119.80,416.03L120.30,415.91L120.80,415.23L121.30,412.31L121.80,411.03L122.30,410.86L122.80,415.42L123.30,416.74L123.80,418.32L124.30,418.10L124.80,418.29L125.30,418.27L125.80,417.75L126.30,419.99L126.80,420.06L127.30,415.59L127.80,415.64L128.30,417.70L128.80,414.85L129.30,416.07L129.80,415.01L130.30,415.88L130.80,412.81L131.30,414.73L131.80,411.82L132.30,412.56L132.80,414.69L133.00,412.58L133.30,414.83L133.80,412.63L134.30,416.36L134.80,416.26L135.30,417.18L135.80,417.67L136.30,415.01L136.80,419.61L137.30,416.73L137.80,417.98L138.30,419.56L138.80,424.50L139.30,416.97L139.80,421.00L140.30,418.85L140.80,417.91L141.30,424.50L141.80,417.71L142.30,420.40L142.80,417.68L143.30,415.55L143.80,418.05L144.30,418.10L144.80,417.49L145.30,419.53L145.80,419.28L146.30,418.78L146.80,420.74L147.30,421.92L147.80,424.35L148.30,423.40L148.80,422.87L149.30,419.67L149.80,419.96L150.30,421.89L150.80,418.18L151.30,418.10L151.80,421.85L152.30,417.55L152.80,421.16L153.30,416.33L153.80,417.92L154.30,418.98L154.80,416.61L155.30,416.90L155.80,414.30L156.30,416.61L156.80,415.54L157.30,416.81L157.80,413.86L158.30,418.27L158.80,414.81L159.30,417.33L159.80,415.33L160.30,417.70L160.80,415.99L161.30,416.25L161.80,417.37L162.30,424.50L162.80,420.77L163.30,417.08L163.80,418.70L164.30,424.50L164.80,420.52L165.30,424.50L165.80,418.56L166.30,419.52L166.80,415.47L167.30,419.58L167.80,417.22L168.30,419.19L168.80,418.56L169.30,417.09L169.80,418.75L170.30,417.94L170.80,421.98L171.30,422.24L171.80,419.97L172.30,420.88L172.80,420.72L173.30,419.28L173.80,420.49L174.30,420.38L174.80,417.74L175.30,420.95L175.80,418.44L176.30,418.86L176.80,418.03L177.30,417.17L177.80,418.67L178.30,419.08L178.80,418.09L179.30,421.89L179.80,413.78L180.30,413.58L180.80,417.46L181.30,416.64L181.80,419.32L182.30,419.80L182.80,422.37L183.30,419.21L183.80,424.50L184.30,423.88L184.80,419.92L185.30,424.50L185.80,423.84L186.30,419.58L186.80,420.14L187.30,419.32L187.80,418.74L188.30,418.20L188.80,418.74L189.30,417.62L189.80,420.41L190.30,419.55L190.80,419.78L191.30,424.50L191.80,415.83L192.30,416.87L192.80,417.88L193.30,422.21L193.80,418.37L194.30,420.58L194.80,421.86L195.30,420.84L195.80,427.50L196.30,427.23L196.80,426.09L197.30,422.72L197.80,420.58L198.30,424.89L198.80,422.03L199.30,422.07L199.80,420.71L200.30,419.80L200.80,419.19L201.30,421.60L201.80,423.72L202.30,421.13L202.80,421.90L203.30,420.01L203.80,424.50L204.30,424.50L204.80,417.41L205.30,419.10L205.80,418.49L206.30,417.40L206.80,417.47L207.30,419.95L207.80,424.13L208.30,418.90L208.80,419.87L209.30,416.17L209.80,416.81L210.30,419.27L210.80,417.74L211.30,421.37L211.80,420.89L212.30,419.38L212.80,418.09L213.30,424.50L213.80,418.63L214.30,422.80L214.80,421.27L215.30,423.45L215.80,424.15L216.30,420.00L216.80,418.73L217.30,422.71L217.80,422.75L218.30,420.76L218.80,424.50L219.30,419.42L219.80,418.59L220.00,419.55L220.30,421.06L220.80,414.47L221.30,415.93L221.80,418.76L222.30,411.99L222.80,414.72L223.30,409.91L223.80,409.03L224.30,407.68L224.80,406.22L225.30,405.68L225.80,404.59L226.30,403.60L226.80,402.98L227.30,402.77L227.80,402.77L228.30,402.77L228.80,402.77L229.30,402.77L229.80,402.77L230.30,402.77L230.80,402.77L230.80,402.77Z" fill="#f80e0e" fill-opacity="0.45"/>
<path d="M28.30,402.77L28.30,409.76L28.80,409.17L29.30,408.12L29.80,403.06L29.92,403.06L30.30,409.16L30.80,408.80L31.30,409.30L31.80,410.19L32.30,410.59L32.80,412.22L33.30,415.30L33.80,415.16L34.30,412.09L34.80,414.09L35.30,411.79L35.80,413.56L36.30,403.38L36.80,403.40L37.30,413.47L37.80,403.43L38.30,403.41L38.80,413.24L39.30,412.39L39.80,415.56L40.30,414.00L40.80,413.67L41.30,416.51L41.80,414.31L42.30,417.77L42.80,419.59L43.30,421.23L43.80,420.68L44.30,421.80L44.80,422.92L45.30,403.73L45.31,403.73L45.80,418.94L46.30,420.07L46.80,419.55L47.30,422.15L47.80,418.15L48.30,419.24L48.80,417.43L49.30,414.98L49.80,411.20L50.30,410.31L50.80,403.18L51.30,403.18L51.80,413.49L52.30,412.25L52.80,412.56L53.30,403.38L53.80,403.43L54.30,416.90L54.80,415.12L55.30,417.32L55.80,418.53L56.30,415.15L56.80,417.27L57.30,417.56L57.80,417.37L58.30,417.69L58.80,416.83L59.30,414.15L59.80,416.17L60.30,415.42L60.80,418.38L61.30,416.45L61.80,419.00L62.30,419.03L62.80,421.30L63.30,421.87L63.80,422.20L64.30,419.68L64.80,422.56L65.30,420.92L65.80,421.81L66.30,417.42L66.80,416.76L67.30,420.78L67.80,415.92L68.30,418.03L68.80,415.10L69.30,416.50L69.80,414.98L70.30,403.35L70.31,403.35L70.80,413.35L71.30,403.45L71.80,403.50L72.30,416.33L72.80,416.20L73.30,415.90L73.80,415.04L74.30,414.03L74.80,403.51L75.30,403.56L75.80,417.98L76.30,418.63L76.80,420.93L77.30,415.76L77.80,416.12L78.30,414.52L78.80,411.31L79.30,410.10L79.80,410.73L80.30,409.57L80.80,408.35L81.30,408.11L81.80,407.89L82.30,407.93L82.80,409.78L83.30,409.62L83.80,403.15L84.30,403.10L84.80,408.51L85.30,406.89L85.80,406.65L86.30,407.30L86.80,407.84L87.30,407.56L87.80,408.32L88.30,409.69L88.80,408.72L89.30,409.87L89.80,410.30L90.30,409.46L90.80,410.88L91.30,411.22L91.80,410.97L92.30,409.38L92.80,408.36L93.30,407.38L93.80,407.88L94.30,406.75L94.80,407.15L95.30,406.13L95.80,406.08L96.30,406.42L96.80,406.77L97.30,407.77L97.80,407.52L98.30,408.75L98.80,408.79L99.30,410.47L99.80,409.72L100.30,408.01L100.80,406.75L101.30,406.41L101.80,407.95L102.30,403.08L102.80,403.13L103.30,411.52L103.80,410.07L104.30,412.07L104.80,412.03L105.30,412.54L105.80,414.85L106.30,415.62L106.80,415.00L107.30,412.23L107.80,412.25L108.30,409.31L108.80,409.16L109.30,408.98L109.80,411.51L110.30,403.23L110.80,403.26L111.30,412.51L111.80,412.17L112.30,413.73L112.80,415.63L113.30,412.42L113.80,403.23L114.30,403.18L114.80,409.12L115.30,403.19L115.80,403.22L116.30,411.40L116.80,411.13L117.30,410.60L117.80,413.34L118.30,403.34L118.80,403.33L119.30,410.57L119.80,403.28L120.30,403.25L120.80,410.29L121.30,409.43L121.80,409.76L122.30,409.18L122.80,411.66L123.30,412.69L123.80,415.59L124.30,415.63L124.80,415.76L125.30,414.58L125.80,414.90L126.30,403.40L126.80,403.39L127.30,415.14L127.80,414.85L128.30,413.91L128.80,413.89L129.30,411.75L129.80,413.99L130.30,412.40L130.80,410.74L131.30,410.49L131.80,411.22L132.30,410.83L132.80,411.26L133.00,411.93L133.30,412.01L133.80,412.20L134.30,414.27L134.80,412.38L135.30,412.67L135.80,414.36L136.30,416.17L136.80,413.71L137.30,414.87L137.80,403.41L138.30,403.43L138.80,415.44L139.30,415.14L139.80,414.46L140.30,416.37L140.80,413.53L141.30,412.38L141.80,415.11L142.30,415.00L142.80,413.55L143.30,414.61L143.80,414.05L144.30,415.20L144.80,415.77L145.30,415.15L145.80,414.75L146.30,414.25L146.80,414.04L147.30,416.03L147.80,414.58L148.30,414.16L148.80,403.55L149.30,403.54L149.80,418.79L150.30,417.06L150.80,403.50L151.30,403.49L151.80,415.58L152.30,416.79L152.80,414.82L153.30,413.40L153.80,414.55L154.30,412.48L154.80,413.34L155.30,411.90L155.80,413.60L156.30,412.93L156.80,413.16L157.30,413.74L157.80,414.07L158.30,403.33L158.80,403.34L159.30,413.89L159.80,412.14L160.30,403.38L160.80,403.39L161.30,414.85L161.80,417.05L162.30,418.43L162.80,417.03L163.30,416.08L163.80,413.63L164.30,414.36L164.80,414.63L165.30,415.39L165.80,415.45L166.30,413.64L166.80,414.92L167.30,415.33L167.80,413.41L168.30,413.75L168.80,403.41L169.30,403.44L169.80,413.88L170.30,417.47L170.80,414.83L171.30,419.44L171.80,416.99L172.30,416.36L172.80,417.82L173.30,416.40L173.80,416.78L174.30,416.87L174.80,414.43L175.30,416.67L175.80,416.68L176.30,417.12L176.80,415.73L177.30,413.39L177.80,413.57L178.30,416.14L178.80,403.33L179.30,403.31L179.80,412.42L180.30,413.42L180.80,403.33L181.30,403.37L181.80,414.97L182.30,415.28L182.80,414.30L183.30,417.59L183.80,414.67L184.30,416.83L184.80,417.60L185.30,415.79L185.80,416.54L186.30,415.97L186.80,417.24L187.30,417.63L187.80,416.93L188.30,415.63L188.80,416.38L189.30,414.46L189.80,418.13L190.30,416.83L190.80,416.17L191.30,414.22L191.80,415.96L192.30,415.98L192.80,414.92L193.30,403.47L193.80,403.50L194.30,415.87L194.80,419.13L195.30,414.76L195.80,417.57L196.30,417.82L196.80,415.74L197.30,416.72L197.80,416.17L198.30,419.10L198.80,415.30L199.30,417.63L199.80,417.65L200.30,417.13L200.80,418.89L201.30,415.85L201.80,403.52L202.30,403.51L202.80,415.36L203.30,416.47L203.80,417.57L204.30,419.08L204.80,417.58L205.30,416.17L205.80,416.09L206.30,418.10L206.80,403.40L207.30,403.39L207.80,411.76L208.30,413.95L208.80,412.46L209.30,413.59L209.80,403.41L210.30,403.43L210.80,416.84L211.30,415.04L211.80,415.70L212.30,414.05L212.80,403.49L213.30,403.50L213.80,415.87L214.30,414.09L214.80,415.61L215.30,419.48L215.80,419.65L216.30,418.90L216.80,417.92L217.30,415.38L217.80,416.00L218.30,416.24L218.80,417.63L219.30,417.42L219.80,418.51L220.00,417.12L220.30,414.78L220.80,410.86L221.30,408.78L221.80,406.84L222.30,404.94L222.80,402.81L223.30,402.77L223.80,402.77L224.30,402.77L224.80,402.77L225.30,402.77L225.80,402.77L226.30,402.77L226.80,402.77L227.30,402.77L227.80,402.77L228.30,402.77L228.80,402.77L229.30,402.77L229.80,402.77L230.30,402.77L230.80,402.77L230.80,402.77Z" fill="#f80e0e"/>
<path d="M28.30,402.77L28.30,399.60L28.80,397.44L29.30,393.97L29.80,395.79L29.92,379.08L30.30,387.57L30.80,400.90L31.30,400.74L31.80,396.93L32.30,399.74L32.80,396.84L33.30,394.99L33.80,398.46L34.30,395.12L34.80,398.52L35.30,395.18L35.80,397.77L36.30,394.62L36.80,391.96L37.30,389.29L37.80,388.62L38.30,392.04L38.80,397.47L39.30,398.24L39.80,387.87L40.30,386.47L40.80,394.23L41.30,395.33L41.80,391.17L42.30,381.57L42.80,394.76L43.30,391.64L43.80,381.57L44.30,381.57L44.80,390.94L45.30,379.11L45.31,379.08L45.80,386.04L46.30,387.24L46.80,381.57L47.30,388.13L47.80,390.99L48.30,396.16L48.80,394.97L49.30,398.51L49.80,400.17L50.30,400.40L50.80,400.24L51.30,399.38L51.80,397.34L52.30,396.74L52.80,395.44L53.30,393.01L53.80,390.64L54.30,389.65L54.80,384.57L55.30,394.58L55.80,398.39L56.30,387.90L56.80,394.51L57.30,393.57L57.80,394.55L58.30,381.57L58.80,391.95L59.30,397.68L59.80,396.19L60.30,396.26L60.80,396.55L61.30,398.90L61.80,400.09L62.30,400.45L62.80,400.36L63.30,396.72L63.80,400.76L64.30,400.53L64.80,397.41L65.30,399.65L65.80,398.07L66.30,398.71L66.80,399.36L67.30,400.80L67.80,399.41L68.30,401.87L68.80,399.74L69.30,399.63L69.80,397.32L70.30,396.32L70.31,396.31L70.80,399.92L71.30,399.59L71.80,400.13L72.30,401.53L72.80,399.93L73.30,397.02L73.80,400.95L74.30,400.19L74.80,398.15L75.30,395.52L75.80,399.54L76.30,397.86L76.80,400.68L77.30,401.00L77.80,400.98L78.30,399.49L78.80,400.30L79.30,400.67L79.80,401.52L80.30,401.07L80.80,401.58L81.30,401.69L81.80,400.89L82.30,400.40L82.80,399.60L83.30,397.40L83.80,396.85L84.30,398.64L84.80,396.74L85.30,393.83L85.80,397.99L86.30,397.07L86.80,394.53L87.30,398.17L87.80,392.38L88.30,395.94L88.80,390.99L89.30,396.41L89.80,391.75L90.30,389.57L90.80,395.47L91.30,396.55L91.80,392.94L92.30,392.47L92.80,380.65L93.30,380.06L93.80,387.51L94.30,387.62L94.80,386.55L95.30,385.55L95.80,386.81L96.30,386.10L96.80,384.85L97.30,390.02L97.80,391.56L98.30,393.27L98.80,384.50L99.30,379.11L99.80,379.17L100.30,383.74L100.80,382.27L101.30,393.28L101.80,382.78L102.30,393.67L102.80,383.87L103.30,390.55L103.80,384.12L104.30,387.26L104.80,382.17L105.30,394.02L105.80,379.58L106.30,381.57L106.80,384.72L107.30,384.79L107.80,388.90L108.30,392.94L108.80,393.78L109.30,381.98L109.80,380.61L110.30,391.74L110.80,389.34L111.30,394.85L111.80,392.70L112.30,388.01L112.80,395.88L113.30,397.90L113.80,394.69L114.30,397.48L114.80,396.07L115.30,396.83L115.80,399.59L116.30,398.28L116.80,397.75L117.30,399.51L117.80,397.61L118.30,393.32L118.80,396.89L119.30,390.98L119.80,392.16L120.30,396.82L120.80,395.46L121.30,389.86L121.80,390.37L122.30,397.19L122.80,390.68L123.30,395.88L123.80,392.27L124.30,398.45L124.80,399.09L125.30,400.65L125.80,399.76L126.30,401.35L126.80,400.47L127.30,401.08L127.80,402.05L128.30,399.81L128.80,399.53L129.30,398.31L129.80,398.61L130.30,398.08L130.80,398.23L131.30,390.26L131.80,396.94L132.30,381.57L132.80,383.83L133.00,381.49L133.30,386.83L133.80,384.80L134.30,393.55L134.80,401.40L135.30,400.95L135.80,400.83L136.30,401.17L136.80,400.56L137.30,401.40L137.80,400.77L138.30,401.47L138.80,398.94L139.30,400.58L139.80,400.47L140.30,398.34L140.80,401.97L141.30,400.00L141.80,400.42L142.30,400.90L142.80,400.95L143.30,399.48L143.80,399.04L144.30,401.01L144.80,400.79L145.30,396.65L145.80,399.31L146.30,401.17L146.80,401.69L147.30,399.70L147.80,401.00L148.30,400.92L148.80,400.66L149.30,398.05L149.80,398.72L150.30,398.62L150.80,401.26L151.30,398.79L151.80,400.62L152.30,398.00L152.80,399.14L153.30,400.72L153.80,394.68L154.30,399.70L154.80,398.43L155.30,397.82L155.80,400.01L156.30,398.14L156.80,398.85L157.30,400.39L157.80,398.05L158.30,400.05L158.80,400.90L159.30,400.47L159.80,401.34L160.30,396.73L160.80,399.42L161.30,400.50L161.80,400.75L162.30,400.87L162.80,400.67L163.30,401.90L163.80,401.77L164.30,401.49L164.80,400.50L165.30,400.89L165.80,400.25L166.30,400.25L166.80,399.14L167.30,401.37L167.80,401.44L168.30,399.49L168.80,399.30L169.30,399.64L169.80,400.18L170.30,397.49L170.80,393.99L171.30,398.15L171.80,399.14L172.30,397.73L172.80,398.30L173.30,390.18L173.80,399.18L174.30,386.95L174.80,393.96L175.30,389.61L175.80,393.04L176.30,391.60L176.80,386.93L177.30,381.57L177.80,391.01L178.30,386.89L178.80,384.59L179.30,391.02L179.80,387.94L180.30,384.48L180.80,391.99L181.30,380.56L181.80,393.39L182.30,391.13L182.80,383.15L183.30,381.57L183.80,385.41L184.30,394.96L184.80,386.65L185.30,392.44L185.80,389.81L186.30,397.56L186.80,394.76L187.30,396.31L187.80,398.86L188.30,397.35L188.80,395.92L189.30,398.91L189.80,399.79L190.30,397.15L190.80,395.66L191.30,400.37L191.80,399.38L192.30,396.22L192.80,400.04L193.30,400.27L193.80,398.59L194.30,395.24L194.80,395.97L195.30,397.70L195.80,395.75L196.30,393.77L196.80,396.37L197.30,397.40L197.80,392.80L198.30,392.23L198.80,397.83L199.30,394.89L199.80,390.42L200.30,395.72L200.80,390.60L201.30,390.42L201.80,390.41L202.30,396.97L202.80,394.07L203.30,396.03L203.80,392.82L204.30,387.10L204.80,396.71L205.30,392.35L205.80,389.28L206.30,391.31L206.80,398.10L207.30,382.42L207.80,387.07L208.30,391.88L208.80,381.57L209.30,395.49L209.80,387.83L210.30,393.18L210.80,390.19L211.30,395.44L211.80,390.89L212.30,381.81L212.80,391.87L213.30,390.93L213.80,398.95L214.30,387.34L214.80,398.94L215.30,394.41L215.80,395.60L216.30,397.15L216.80,393.40L217.30,397.96L217.80,390.46L218.30,396.36L218.80,390.46L219.30,381.57L219.80,384.45L220.00,384.85L220.30,391.25L220.80,396.61L221.30,397.36L221.80,399.81L222.30,401.06L222.80,402.23L223.30,402.77L223.80,402.77L224.30,402.77L224.80,402.77L225.30,402.77L225.80,402.77L226.30,402.77L226.80,402.77L227.30,402.77L227.80,402.77L228.30,402.77L228.80,402.77L229.30,402.77L229.80,402.77L230.30,402.77L230.80,402.77L230.80,402.77Z" fill="#1a1acc"/>
<line x1="28.30" y1="402.77" x2="236.60" y2="402.77" stroke="#333" stroke-width="0.8"/>
<line x1="236.60" y1="382.77" x2="236.60" y2="421.37" stroke="#333" stroke-width="0.6"/>
<path d="M235.70,384.37 L236.60,382.47 L237.50,384.37 Z" fill="#222"/>
<path d="M235.70,419.77 L236.60,421.67 L237.50,419.77 Z" fill="#222"/>
<text transform="translate(241.00,403.07) rotate(-90)" font-size="6.15" font-weight="normal" text-anchor="middle" dominant-baseline="central" fill="#111" >H3K27 H3K4</text>
<text transform="translate(248.40,404.07) rotate(-90)" font-size="6.5" font-weight="normal" text-anchor="middle" dominant-baseline="central" fill="#111" >AML2</text>
<text transform="translate(26.20,383.07) rotate(-90)" font-size="5.4" text-anchor="middle" dominant-baseline="central" fill="#222">4</text>
<text transform="translate(26.20,392.17) rotate(-90)" font-size="5.4" text-anchor="middle" dominant-baseline="central" fill="#222">2</text>
<text transform="translate(26.20,402.77) rotate(-90)" font-size="5.4" text-anchor="middle" dominant-baseline="central" fill="#222">0</text>
<text transform="translate(26.20,413.37) rotate(-90)" font-size="5.4" text-anchor="middle" dominant-baseline="central" fill="#222">2</text>
<text transform="translate(26.20,422.17) rotate(-90)" font-size="5.4" text-anchor="middle" dominant-baseline="central" fill="#222">4</text>
<path d="M28.30,446.14L28.30,459.80L28.80,462.11L29.30,461.55L29.80,461.26L30.30,460.10L30.31,462.71L30.80,463.10L31.30,462.93L31.80,461.82L32.30,459.19L32.80,460.72L33.30,463.32L33.77,463.86L33.80,463.06L34.30,460.49L34.80,461.56L35.30,458.11L35.80,466.77L36.30,462.55L36.80,459.83L37.30,461.77L37.80,461.22L38.30,464.00L38.80,460.58L39.30,461.42L39.80,460.94L40.30,458.88L40.80,457.75L41.30,455.55L41.80,453.29L42.30,448.46L42.80,448.18L43.30,448.35L43.80,448.48L44.30,448.36L44.80,457.23L45.30,458.84L45.80,458.06L46.30,459.22L46.80,456.86L47.30,457.12L47.80,457.91L48.30,459.64L48.80,461.19L49.30,459.30L49.80,461.13L50.30,458.09L50.80,457.11L51.30,459.20L51.80,461.14L52.30,459.22L52.80,462.41L53.30,463.86L53.80,459.87L54.30,459.20L54.80,460.81L54.92,458.22L55.30,460.90L55.80,462.26L56.30,459.61L56.80,460.58L57.30,459.18L57.80,463.59L58.30,460.83L58.80,464.32L59.30,464.98L59.73,461.41L59.80,463.60L60.30,464.57L60.80,459.45L61.30,458.43L61.80,458.60L62.30,456.96L62.80,456.48L63.30,457.04L63.80,458.80L64.30,460.23L64.80,460.11L65.30,458.95L65.80,457.50L66.30,459.28L66.80,459.05L67.30,460.55L67.80,461.37L68.30,466.47L68.80,460.67L69.30,457.31L69.80,458.07L70.30,456.04L70.80,458.45L71.30,457.16L71.80,465.91L72.30,460.08L72.80,459.37L73.30,457.53L73.80,460.07L74.30,464.95L74.80,457.15L75.30,459.03L75.80,456.09L76.30,457.48L76.80,458.83L77.30,459.16L77.80,459.33L78.30,457.37L78.80,455.47L79.30,457.65L79.80,456.03L80.30,461.05L80.80,457.04L81.30,457.51L81.80,456.21L82.30,458.24L82.80,457.91L83.30,454.64L83.80,455.85L84.30,454.45L84.80,453.54L85.30,452.60L85.80,452.32L86.30,453.73L86.80,459.14L87.30,454.10L87.80,454.89L88.30,454.37L88.80,455.08L89.30,455.65L89.80,453.60L90.30,453.49L90.80,458.43L91.30,453.46L91.80,457.37L92.30,452.57L92.80,453.78L93.30,452.83L93.80,453.52L94.30,452.63L94.80,451.41L95.30,451.13L95.80,449.72L96.30,449.68L96.80,447.33L97.30,447.45L97.80,447.19L98.30,447.47L98.80,447.46L99.30,447.30L99.80,447.38L100.30,447.15L100.80,447.46L101.08,447.43L101.30,447.36L101.80,447.12L102.30,447.16L102.80,447.29L103.30,447.29L103.80,447.45L104.30,447.24L104.80,459.22L105.30,457.31L105.80,457.86L106.30,456.52L106.80,455.80L107.30,464.25L107.80,457.93L108.30,461.58L108.80,458.56L109.30,458.72L109.80,457.27L110.30,460.01L110.80,459.14L111.30,456.75L111.80,456.99L112.30,458.23L112.80,461.70L113.30,456.94L113.80,455.96L114.30,455.12L114.80,456.89L115.30,456.05L115.80,457.68L116.30,458.61L116.80,458.21L117.30,457.69L117.80,461.14L118.30,462.62L118.80,461.56L119.30,461.45L119.80,460.80L120.30,459.13L120.80,456.39L121.30,459.86L121.80,459.35L122.30,458.73L122.80,460.67L123.30,461.61L123.80,462.41L124.30,462.94L124.80,467.87L125.30,462.44L125.80,458.22L126.30,461.69L126.80,458.62L127.30,460.84L127.80,457.86L128.30,457.01L128.80,456.59L129.30,456.80L129.80,457.81L130.30,461.20L130.80,459.51L131.30,459.68L131.80,467.18L132.30,459.44L132.80,459.03L133.30,457.83L133.80,459.03L134.30,458.26L134.80,456.33L135.30,455.76L135.80,457.56L136.30,454.68L136.80,458.31L137.30,455.94L137.80,458.21L138.30,460.05L138.80,457.47L139.30,460.95L139.80,459.56L140.30,459.05L140.80,457.79L141.30,458.99L141.80,458.72L142.30,458.51L142.80,459.56L143.30,460.39L143.80,459.04L144.30,457.93L144.80,456.89L145.30,458.08L145.80,457.14L146.30,456.44L146.80,459.33L147.30,458.80L147.80,457.49L148.30,459.21L148.80,459.55L149.30,457.15L149.80,459.52L150.30,458.41L150.80,457.17L151.30,459.66L151.80,456.83L152.30,457.07L152.80,456.96L153.30,456.68L153.80,455.60L154.30,457.58L154.80,454.95L155.30,456.41L155.80,455.41L156.30,454.69L156.80,448.72L157.30,448.87L157.80,451.34L158.30,448.18L158.80,448.88L159.00,448.94L159.30,448.18L159.80,457.47L160.30,459.84L160.80,459.70L161.30,461.85L161.80,460.71L162.30,463.73L162.80,461.98L163.30,462.45L163.80,461.62L164.30,464.21L164.80,460.32L165.30,463.33L165.80,462.59L166.30,462.08L166.80,462.74L167.30,464.01L167.80,460.99L168.30,463.04L168.80,464.98L169.30,460.41L169.80,461.84L170.30,463.45L170.80,459.65L171.30,460.60L171.80,458.95L172.30,467.10L172.80,459.64L173.30,460.23L173.80,460.00L174.30,460.36L174.80,458.41L175.30,457.10L175.80,456.24L176.30,457.32L176.80,458.14L177.30,459.44L177.80,461.32L178.30,460.76L178.80,460.43L179.30,459.33L179.80,459.06L180.30,467.58L180.80,458.72L181.30,458.83L181.80,463.28L182.30,460.51L182.80,467.87L183.30,461.70L183.80,462.81L184.30,462.16L184.80,463.47L185.30,461.83L185.80,462.04L186.30,458.30L186.80,458.23L187.30,459.41L187.80,458.38L188.30,456.70L188.80,459.57L189.30,460.64L189.80,457.40L190.30,460.69L190.80,461.54L191.30,461.15L191.80,467.18L192.30,461.42L192.80,458.97L193.30,459.85L193.80,461.26L194.30,463.96L194.80,466.59L195.30,463.56L195.80,462.19L196.30,463.89L196.80,467.15L197.30,462.60L197.80,467.87L198.30,463.39L198.80,464.26L199.30,464.53L199.80,464.77L200.30,461.51L200.80,461.53L201.30,462.68L201.80,462.18L202.30,467.87L202.80,462.62L203.30,463.14L203.80,460.54L204.30,461.07L204.80,459.65L205.30,462.75L205.80,465.66L206.30,461.84L206.80,467.66L207.30,467.87L207.80,470.02L208.30,465.59L208.80,469.40L209.30,465.60L209.80,467.69L210.30,463.57L210.80,467.02L211.30,461.49L211.80,464.49L212.30,462.24L212.80,460.73L213.30,462.97L213.80,461.00L214.30,459.30L214.80,460.89L215.30,463.26L215.80,462.24L216.30,458.18L216.80,459.13L217.30,457.64L217.80,459.14L218.30,460.08L218.80,460.32L219.30,457.74L219.80,458.47L220.30,458.64L220.80,456.76L221.30,455.33L221.80,452.36L222.30,452.30L222.80,450.56L223.30,450.97L223.80,449.34L224.00,449.70L224.30,448.68L224.80,448.28L225.30,446.14L225.80,446.14L226.30,446.14L226.80,446.14L227.30,446.14L227.80,446.14L228.30,446.14L228.80,446.14L229.30,446.14L229.80,446.14L230.30,446.14L230.80,446.14L230.80,446.14Z" fill="#f80e0e" fill-opacity="0.45"/>
<path d="M28.30,446.14L28.30,458.21L28.80,458.00L29.30,458.83L29.80,458.22L30.30,456.91L30.31,457.54L30.80,456.69L31.30,456.91L31.80,454.54L32.30,456.19L32.80,455.67L33.30,459.39L33.77,456.78L33.80,456.03L34.30,457.49L34.80,455.80L35.30,456.30L35.80,459.60L36.30,458.84L36.80,460.44L37.30,459.70L37.80,456.72L38.30,455.97L38.80,458.67L39.30,456.28L39.80,456.92L40.30,453.56L40.80,453.96L41.30,452.05L41.80,453.62L42.30,448.01L42.80,446.24L43.30,446.24L43.80,448.04L44.30,447.83L44.80,456.45L45.30,455.16L45.80,457.17L46.30,456.57L46.80,454.98L47.30,455.29L47.80,457.81L48.30,457.10L48.80,457.20L49.30,457.66L49.80,458.39L50.30,457.89L50.80,456.30L51.30,455.32L51.80,456.31L52.30,446.74L52.80,446.79L53.30,459.85L53.80,458.18L54.30,457.67L54.80,446.72L54.92,446.72L55.30,457.12L55.80,457.79L56.30,456.91L56.80,457.64L57.30,457.00L57.80,456.08L58.30,456.40L58.80,458.72L59.30,457.28L59.73,458.06L59.80,459.16L60.30,459.34L60.80,460.93L61.30,457.17L61.80,459.39L62.30,456.18L62.80,446.63L63.30,446.65L63.80,454.06L64.30,456.11L64.80,454.63L65.30,455.54L65.80,453.55L66.30,446.63L66.80,446.64L67.30,457.86L67.80,457.28L68.30,456.69L68.80,457.19L69.30,456.79L69.80,456.31L70.30,456.00L70.80,456.99L71.30,455.36L71.80,455.33L72.30,456.00L72.80,457.51L73.30,454.72L73.80,454.54L74.30,454.64L74.80,454.96L75.30,446.64L75.80,446.63L76.30,456.26L76.80,456.40L77.30,455.71L77.80,453.97L78.30,446.61L78.80,446.58L79.30,452.90L79.80,453.28L80.30,454.12L80.80,453.47L81.30,453.50L81.80,455.15L82.30,453.43L82.80,452.87L83.30,456.08L83.80,455.04L84.30,453.49L84.80,446.47L85.30,446.45L85.80,451.13L86.30,451.66L86.80,452.10L87.30,453.99L87.80,453.65L88.30,452.99L88.80,453.83L89.30,453.81L89.80,454.25L90.30,453.38L90.80,451.83L91.30,452.61L91.80,446.43L92.30,446.43L92.80,452.47L93.30,451.21L93.80,451.60L94.30,451.03L94.80,450.41L95.30,449.61L95.80,448.77L96.30,447.00L96.80,446.92L97.30,447.28L97.80,446.19L98.30,446.19L98.80,446.19L99.30,446.19L99.80,447.22L100.30,447.23L100.80,447.26L101.08,447.05L101.30,447.13L101.80,447.02L102.30,446.19L102.80,446.19L103.30,446.19L103.80,446.19L104.30,446.96L104.80,446.49L105.30,446.54L105.80,455.39L106.30,456.85L106.80,455.72L107.30,454.77L107.80,455.53L108.30,456.03L108.80,458.56L109.30,457.69L109.80,455.45L110.30,455.66L110.80,446.63L111.30,446.65L111.80,455.08L112.30,446.70L112.80,446.70L113.30,446.65L113.80,446.60L114.30,446.55L114.80,446.54L115.30,452.79L115.80,452.94L116.30,454.23L116.80,455.69L117.30,455.01L117.80,457.87L118.30,458.82L118.80,457.34L119.30,454.96L119.80,454.25L120.30,455.51L120.80,455.10L121.30,457.44L121.80,456.08L122.30,446.72L122.80,446.75L123.30,456.92L123.80,458.84L124.30,459.75L124.80,457.93L125.30,459.39L125.80,456.13L126.30,456.84L126.80,457.53L127.30,458.58L127.80,455.97L128.30,455.00L128.80,446.66L129.30,446.67L129.80,457.69L130.30,455.64L130.80,455.90L131.30,457.86L131.80,457.54L132.30,455.71L132.80,456.76L133.30,454.34L133.80,455.90L134.30,454.25L134.80,454.05L135.30,453.73L135.80,453.70L136.30,446.56L136.80,446.58L137.30,455.44L137.80,454.61L138.30,454.56L138.80,458.06L139.30,446.70L139.80,446.73L140.30,456.54L140.80,458.11L141.30,457.12L141.80,454.79L142.30,446.68L142.80,446.67L143.30,455.53L143.80,446.64L144.30,446.64L144.80,456.79L145.30,457.90L145.80,455.90L146.30,456.61L146.80,457.59L147.30,454.85L147.80,455.18L148.30,456.50L148.80,456.69L149.30,454.91L149.80,454.99L150.30,456.34L150.80,456.04L151.30,456.14L151.80,457.07L152.30,455.81L152.80,455.55L153.30,457.42L153.80,456.94L154.30,456.86L154.80,456.29L155.30,453.67L155.80,454.90L156.30,452.46L156.80,448.26L157.30,448.39L157.80,448.22L158.30,448.34L158.80,447.93L159.00,448.08L159.30,446.24L159.80,446.68L160.30,446.75L160.80,446.76L161.30,460.37L161.80,458.07L162.30,458.00L162.80,446.81L163.30,446.82L163.80,446.83L164.30,446.84L164.80,458.90L165.30,456.48L165.80,458.72L166.30,458.24L166.80,457.46L167.30,458.44L167.80,446.84L168.30,446.83L168.80,459.51L169.30,459.66L169.80,459.45L170.30,457.16L170.80,458.55L171.30,458.76L171.80,456.56L172.30,456.38L172.80,456.99L173.30,456.04L173.80,456.34L174.30,455.86L174.80,446.67L175.30,446.66L175.80,455.59L176.30,456.28L176.80,458.11L177.30,457.51L177.80,457.48L178.30,457.22L178.80,458.95L179.30,459.77L179.80,458.08L180.30,460.54L180.80,458.23L181.30,457.42L181.80,457.86L182.30,458.30L182.80,459.27L183.30,456.98L183.80,461.30L184.30,457.92L184.80,457.82L185.30,457.04L185.80,459.22L186.30,456.78L186.80,457.84L187.30,446.68L187.80,446.65L188.30,456.04L188.80,457.03L189.30,455.59L189.80,457.48L190.30,456.34L190.80,456.73L191.30,446.72L191.80,446.74L192.30,459.16L192.80,456.29L193.30,459.62L193.80,456.87L194.30,458.50L194.80,458.80L195.30,460.45L195.80,461.33L196.30,460.94L196.80,459.43L197.30,446.91L197.80,446.89L198.30,459.19L198.80,458.42L199.30,458.82L199.80,456.41L200.30,458.70L200.80,458.80L201.30,460.08L201.80,457.62L202.30,458.62L202.80,458.90L203.30,457.57L203.80,457.25L204.30,455.45L204.80,457.45L205.30,459.03L205.80,459.02L206.30,457.48L206.80,459.38L207.30,446.99L207.80,447.02L208.30,460.74L208.80,463.97L209.30,460.01L209.80,459.50L210.30,459.33L210.80,460.66L211.30,446.88L211.80,446.85L212.30,457.16L212.80,446.82L213.30,446.81L213.80,457.65L214.30,457.99L214.80,457.77L215.30,456.66L215.80,457.11L216.30,459.38L216.80,456.69L217.30,457.33L217.80,457.35L218.30,456.23L218.80,455.62L219.30,456.23L219.80,455.93L220.30,455.44L220.80,454.04L221.30,452.08L221.80,446.30L222.30,446.23L222.80,446.60L223.30,446.14L223.80,446.14L224.00,446.14L224.30,446.14L224.80,446.14L225.30,446.14L225.80,446.14L226.30,446.14L226.80,446.14L227.30,446.14L227.80,446.14L228.30,446.14L228.80,446.14L229.30,446.14L229.80,446.14L230.30,446.14L230.80,446.14L230.80,446.14Z" fill="#f80e0e"/>
<path d="M28.30,446.14L28.30,442.41L28.80,437.44L29.30,433.41L29.80,429.12L30.30,424.67L30.31,424.60L30.80,440.44L31.30,444.98L31.80,445.35L32.30,443.39L32.80,439.89L33.30,437.26L33.77,433.22L33.80,440.86L34.30,438.71L34.80,440.86L35.30,442.03L35.80,439.46L36.30,438.68L36.80,439.69L37.30,436.31L37.80,436.28L38.30,434.54L38.80,428.95L39.30,440.62L39.80,441.35L40.30,438.39L40.80,438.29L41.30,435.06L41.80,438.16L42.30,441.47L42.80,438.10L43.30,439.67L43.80,441.68L44.30,438.77L44.80,434.22L45.30,432.94L45.80,438.70L46.30,432.29L46.80,435.31L47.30,436.32L47.80,442.68L48.30,440.93L48.80,443.62L49.30,444.29L49.80,442.15L50.30,442.97L50.80,444.55L51.30,444.57L51.80,442.94L52.30,438.81L52.80,441.69L53.30,443.56L53.80,443.74L54.30,442.69L54.80,442.33L54.92,439.68L55.30,439.92L55.80,444.39L56.30,442.91L56.80,442.26L57.30,443.80L57.80,443.66L58.30,442.81L58.80,444.36L59.30,438.48L59.73,431.06L59.80,437.46L60.30,438.10L60.80,444.74L61.30,443.23L61.80,442.90L62.30,445.12L62.80,444.32L63.30,444.75L63.80,445.02L64.30,445.58L64.80,445.48L65.30,445.25L65.80,445.40L66.30,445.01L66.80,445.44L67.30,445.58L67.80,445.66L68.30,445.07L68.80,443.85L69.30,445.05L69.80,445.17L70.30,443.61L70.80,444.44L71.30,444.96L71.80,443.87L72.30,443.18L72.80,443.14L73.30,443.58L73.80,445.32L74.30,445.09L74.80,445.21L75.30,445.17L75.80,445.47L76.30,445.45L76.80,445.06L77.30,445.79L77.80,445.46L78.30,445.45L78.80,444.80L79.30,445.53L79.80,445.59L80.30,445.40L80.80,444.11L81.30,445.06L81.80,444.46L82.30,443.36L82.80,443.73L83.30,442.23L83.80,441.91L84.30,444.14L84.80,442.69L85.30,445.08L85.80,444.76L86.30,444.36L86.80,443.54L87.30,443.41L87.80,441.67L88.30,442.65L88.80,440.56L89.30,443.48L89.80,443.17L90.30,438.70L90.80,439.70L91.30,442.47L91.80,436.85L92.30,439.84L92.80,440.66L93.30,435.27L93.80,434.14L94.30,431.96L94.80,426.39L95.30,428.89L95.80,436.69L96.30,424.16L96.80,429.36L97.30,435.74L97.80,431.50L98.30,432.03L98.80,440.79L99.30,437.26L99.80,439.31L100.30,426.18L100.80,424.94L101.08,422.45L101.30,425.24L101.80,426.61L102.30,437.05L102.80,436.98L103.30,434.47L103.80,437.43L104.30,438.03L104.80,432.63L105.30,427.12L105.80,424.94L106.30,433.82L106.80,422.68L107.30,434.47L107.80,437.48L108.30,440.44L108.80,440.25L109.30,437.34L109.80,440.51L110.30,436.07L110.80,438.66L111.30,443.59L111.80,443.84L112.30,441.26L112.80,444.16L113.30,444.34L113.80,444.51L114.30,442.89L114.80,443.90L115.30,443.10L115.80,444.89L116.30,444.21L116.80,444.88L117.30,444.20L117.80,442.12L118.30,441.51L118.80,443.46L119.30,442.81L119.80,443.61L120.30,444.12L120.80,437.27L121.30,438.64L121.80,442.35L122.30,442.92L122.80,441.64L123.30,444.77L123.80,442.39L124.30,443.15L124.80,443.28L125.30,442.83L125.80,444.72L126.30,443.83L126.80,444.01L127.30,444.08L127.80,444.84L128.30,443.66L128.80,443.14L129.30,440.44L129.80,442.20L130.30,439.80L130.80,440.94L131.30,440.40L131.80,441.22L132.30,430.43L132.80,439.50L133.30,438.27L133.80,425.13L134.30,440.10L134.80,439.67L135.30,437.27L135.80,439.29L136.30,441.70L136.80,440.73L137.30,441.27L137.80,444.54L138.30,440.13L138.80,444.07L139.30,442.59L139.80,444.25L140.30,443.27L140.80,441.76L141.30,443.31L141.80,439.32L142.30,443.42L142.80,444.82L143.30,442.48L143.80,442.39L144.30,440.50L144.80,442.37L145.30,442.99L145.80,442.34L146.30,441.96L146.80,444.43L147.30,442.23L147.80,442.70L148.30,443.40L148.80,442.00L149.30,443.53L149.80,443.20L150.30,440.50L150.80,444.99L151.30,444.27L151.80,445.03L152.30,444.21L152.80,445.08L153.30,444.93L153.80,442.88L154.30,444.56L154.80,445.33L155.30,445.70L155.80,445.57L156.30,445.23L156.80,445.52L157.30,445.04L157.80,443.62L158.30,444.67L158.80,435.45L159.00,430.46L159.30,437.31L159.80,443.81L160.30,445.20L160.80,444.89L161.30,443.74L161.80,444.95L162.30,442.68L162.80,442.26L163.30,442.17L163.80,441.79L164.30,441.39L164.80,442.05L165.30,442.33L165.80,443.35L166.30,442.52L166.80,440.13L167.30,443.07L167.80,443.89L168.30,439.36L168.80,442.69L169.30,442.02L169.80,442.05L170.30,440.63L170.80,439.54L171.30,438.69L171.80,440.91L172.30,437.40L172.80,441.39L173.30,434.52L173.80,435.45L174.30,440.24L174.80,436.93L175.30,439.45L175.80,436.58L176.30,436.31L176.80,437.41L177.30,435.14L177.80,439.75L178.30,437.46L178.80,435.05L179.30,440.85L179.80,441.14L180.30,442.42L180.80,442.91L181.30,443.10L181.80,443.21L182.30,441.77L182.80,432.12L183.30,440.62L183.80,441.74L184.30,433.45L184.80,440.74L185.30,439.26L185.80,438.29L186.30,438.17L186.80,441.87L187.30,435.22L187.80,440.95L188.30,436.46L188.80,442.83L189.30,439.68L189.80,442.97L190.30,443.12L190.80,444.21L191.30,442.37L191.80,442.48L192.30,443.08L192.80,444.79L193.30,444.43L193.80,444.61L194.30,445.14L194.80,441.22L195.30,441.93L195.80,444.23L196.30,444.42L196.80,443.19L197.30,442.63L197.80,440.88L198.30,443.99L198.80,442.41L199.30,440.40L199.80,442.72L200.30,439.78L200.80,442.24L201.30,442.07L201.80,441.89L202.30,443.75L202.80,441.52L203.30,442.24L203.80,440.55L204.30,444.20L204.80,443.92L205.30,442.59L205.80,439.82L206.30,439.03L206.80,441.78L207.30,442.23L207.80,441.57L208.30,438.73L208.80,438.72L209.30,436.73L209.80,442.71L210.30,441.67L210.80,440.12L211.30,433.13L211.80,439.88L212.30,441.15L212.80,432.33L213.30,440.89L213.80,437.26L214.30,437.49L214.80,439.66L215.30,441.15L215.80,440.78L216.30,442.18L216.80,437.41L217.30,442.06L217.80,438.28L218.30,439.96L218.80,434.47L219.30,439.23L219.80,441.43L220.30,437.03L220.80,438.63L221.30,440.40L221.80,441.19L222.30,444.33L222.80,445.21L223.30,446.14L223.80,446.14L224.00,446.14L224.30,446.14L224.80,446.14L225.30,446.14L225.80,446.14L226.30,446.14L226.80,446.14L227.30,446.14L227.80,446.14L228.30,446.14L228.80,446.14L229.30,446.14L229.80,446.14L230.30,446.14L230.80,446.14L230.80,446.14Z" fill="#1a1acc"/>
<line x1="28.30" y1="446.14" x2="236.60" y2="446.14" stroke="#333" stroke-width="0.8"/>
<line x1="236.60" y1="426.14" x2="236.60" y2="464.74" stroke="#333" stroke-width="0.6"/>
<path d="M235.70,427.74 L236.60,425.84 L237.50,427.74 Z" fill="#222"/>
<path d="M235.70,463.14 L236.60,465.04 L237.50,463.14 Z" fill="#222"/>
<text transform="translate(241.00,446.44) rotate(-90)" font-size="6.15" font-weight="normal" text-anchor="middle" dominant-baseline="central" fill="#111" >H3K27 H3K4</text>
<text transform="translate(248.40,447.44) rotate(-90)" font-size="6.5" font-weight="normal" text-anchor="middle" dominant-baseline="central" fill="#111" >AML3</text>
<text transform="translate(26.20,426.44) rotate(-90)" font-size="5.4" text-anchor="middle" dominant-baseline="central" fill="#222">4</text>
<text transform="translate(26.20,435.54) rotate(-90)" font-size="5.4" text-anchor="middle" dominant-baseline="central" fill="#222">2</text>
<text transform="translate(26.20,446.14) rotate(-90)" font-size="5.4" text-anchor="middle" dominant-baseline="central" fill="#222">0</text>
<text transform="translate(26.20,456.74) rotate(-90)" font-size="5.4" text-anchor="middle" dominant-baseline="central" fill="#222">2</text>
<text transform="translate(26.20,465.54) rotate(-90)" font-size="5.4" text-anchor="middle" dominant-baseline="central" fill="#222">4</text>
<path d="M28.30,489.51L28.30,506.22L28.80,503.10L29.30,506.86L29.80,508.06L30.30,507.28L30.31,503.91L30.80,507.11L31.30,503.50L31.80,503.71L32.30,502.58L32.80,502.48L33.30,504.20L33.80,502.42L34.30,503.51L34.80,505.50L35.30,506.12L35.80,507.85L36.30,506.31L36.80,504.41L37.30,510.48L37.80,502.55L38.30,502.31L38.80,502.42L39.30,501.20L39.80,505.13L40.30,500.47L40.80,503.15L41.30,502.68L41.80,500.02L42.30,492.19L42.80,494.59L43.30,492.15L43.80,491.59L44.30,492.15L44.80,503.22L45.30,502.35L45.80,503.35L46.30,505.62L46.80,502.74L47.30,507.81L47.80,511.23L48.30,503.73L48.80,500.10L49.30,501.25L49.80,502.94L50.30,500.52L50.80,504.28L51.30,504.47L51.80,502.21L52.04,506.84L52.30,506.43L52.80,503.53L53.30,505.70L53.80,503.72L54.30,501.83L54.80,501.22L55.30,502.89L55.80,503.69L56.30,504.08L56.80,504.55L57.30,506.17L57.80,506.57L58.30,506.80L58.80,503.79L59.30,502.84L59.80,505.30L60.30,501.54L60.80,501.46L61.30,504.09L61.80,506.16L62.30,506.78L62.80,503.19L63.30,506.54L63.80,505.01L64.30,507.92L64.80,509.46L65.30,508.47L65.80,502.72L66.30,501.45L66.80,504.94L67.30,509.97L67.80,501.94L68.30,501.51L68.80,505.44L69.30,503.71L69.80,505.48L70.30,504.19L70.80,501.12L71.30,503.57L71.80,502.64L72.30,499.66L72.80,503.37L73.30,501.48L73.80,501.15L74.30,505.01L74.80,501.90L75.30,500.59L75.80,501.06L76.30,501.64L76.80,508.05L77.30,503.69L77.80,502.59L78.30,504.14L78.80,500.90L79.30,503.00L79.80,501.75L80.30,502.00L80.80,499.27L81.30,498.72L81.80,499.21L82.30,500.03L82.80,501.34L83.30,501.80L83.80,502.13L84.30,502.07L84.80,500.80L85.30,500.25L85.80,499.65L86.30,497.90L86.80,498.74L87.30,497.64L87.80,498.48L88.30,500.17L88.80,500.29L89.30,501.50L89.80,499.01L90.30,498.85L90.80,498.55L91.30,498.57L91.80,499.41L92.30,499.36L92.80,497.22L93.30,500.12L93.80,498.17L94.30,495.88L94.80,495.48L95.30,494.02L95.80,493.12L96.30,490.71L96.80,490.55L97.30,493.05L97.80,490.79L98.30,490.65L98.80,490.61L99.30,490.69L99.80,490.66L100.30,490.67L100.80,490.78L101.08,490.64L101.30,493.23L101.80,490.90L102.30,491.44L102.80,492.05L103.30,491.85L103.80,491.52L104.30,491.80L104.80,500.94L105.30,501.52L105.80,501.03L106.30,503.23L106.80,502.57L107.30,505.42L107.80,502.28L108.30,501.30L108.80,502.50L109.30,500.88L109.80,501.23L110.30,499.85L110.80,502.51L111.30,500.48L111.80,505.78L112.30,506.83L112.80,502.56L113.30,503.48L113.80,502.98L114.30,500.57L114.80,499.40L115.30,498.89L115.80,502.14L116.30,505.16L116.80,505.63L117.30,502.92L117.80,501.08L118.30,501.46L118.80,502.82L119.30,502.32L119.80,503.18L120.30,502.29L120.80,501.87L121.30,504.73L121.80,505.81L122.30,507.02L122.80,505.97L123.30,504.41L123.80,504.51L124.30,503.06L124.80,503.09L125.30,504.28L125.80,506.78L126.30,506.25L126.80,504.03L127.30,505.17L127.80,502.41L128.30,505.67L128.80,504.49L129.30,502.49L129.80,505.83L130.30,503.37L130.80,505.02L131.30,505.64L131.80,503.88L132.30,504.98L132.80,502.56L133.30,501.31L133.80,501.82L134.00,502.85L134.30,503.14L134.80,500.57L135.30,500.97L135.80,500.40L136.30,500.48L136.80,499.92L137.30,501.48L137.80,503.78L138.30,504.65L138.80,509.75L139.30,502.12L139.80,502.43L140.30,504.81L140.80,502.06L141.30,505.50L141.80,502.60L142.30,510.71L142.80,502.18L143.30,510.71L143.80,502.71L144.30,503.34L144.80,505.04L145.30,503.76L145.80,502.44L146.30,502.31L146.80,501.73L147.30,503.80L147.80,503.09L148.30,500.48L148.80,500.55L149.30,504.03L149.80,500.45L150.30,504.66L150.80,501.60L151.30,504.16L151.80,501.80L152.30,501.58L152.80,503.02L153.30,509.67L153.80,503.63L154.30,502.59L154.80,501.05L155.30,501.23L155.80,507.67L156.30,500.27L156.80,490.51L157.30,490.69L157.80,490.62L158.30,490.55L158.80,490.60L159.00,490.80L159.30,490.76L159.80,502.70L160.30,503.40L160.80,501.93L161.30,503.67L161.80,506.99L162.30,506.16L162.80,507.78L163.30,505.18L163.80,505.04L164.30,506.61L164.80,508.62L165.30,504.71L165.80,507.75L166.30,508.07L166.80,508.17L167.30,511.24L167.80,505.29L168.30,504.78L168.80,504.55L169.30,509.13L169.80,504.83L170.30,506.28L170.80,504.95L171.30,511.08L171.80,509.75L172.30,507.38L172.80,505.89L173.30,511.24L173.80,504.07L174.30,507.76L174.80,507.82L175.30,505.88L175.80,501.75L176.00,502.10L176.30,501.82L176.80,502.22L177.30,504.85L177.80,506.72L178.30,507.85L178.80,507.15L179.30,511.24L179.80,506.23L180.30,504.71L180.80,505.05L181.30,504.98L181.80,504.03L182.30,507.38L182.80,511.24L183.30,511.24L183.80,505.05L184.30,503.11L184.80,511.24L185.30,502.41L185.80,506.09L186.00,502.87L186.30,507.00L186.80,504.50L187.30,503.63L187.80,505.17L188.30,508.70L188.80,506.52L189.30,502.96L189.80,507.34L190.30,502.41L190.80,506.05L191.30,504.97L191.80,506.24L192.30,504.57L192.80,506.52L193.30,506.84L193.80,505.64L194.30,502.90L194.80,506.05L195.30,507.87L195.80,506.91L196.30,504.59L196.80,506.45L197.30,503.43L197.80,504.32L198.30,511.24L198.80,505.68L199.30,502.89L199.80,502.75L200.30,503.01L200.80,505.69L201.30,502.58L201.80,507.47L202.30,503.57L202.80,505.49L203.30,503.27L203.80,508.81L204.30,509.15L204.80,509.64L205.30,504.87L205.80,508.41L206.30,506.06L206.80,508.07L207.30,509.48L207.80,508.90L208.30,510.18L208.80,507.31L209.30,510.27L209.80,510.37L210.30,507.21L210.80,508.23L211.30,504.56L211.80,511.24L212.30,506.93L212.80,508.15L213.30,508.03L213.80,504.08L214.30,505.38L214.80,502.14L215.30,504.95L215.80,505.16L216.30,503.77L216.80,503.43L217.30,503.67L217.80,501.10L218.30,500.90L218.80,501.47L219.30,499.24L219.80,498.76L220.00,504.31L220.30,497.29L220.80,497.63L221.30,497.03L221.80,496.84L222.30,495.93L222.80,494.87L223.30,493.86L223.80,492.78L224.00,492.27L224.30,492.33L224.80,491.60L225.30,490.19L225.80,489.97L226.30,489.78L226.80,489.58L227.30,489.51L227.80,489.51L228.30,489.51L228.80,489.51L229.30,489.51L229.80,489.51L230.30,489.51L230.80,489.51L230.80,489.51Z" fill="#f80e0e" fill-opacity="0.45"/>
<path d="M28.30,489.51L28.30,501.92L28.80,501.76L29.30,503.09L29.80,502.93L30.30,504.99L30.31,501.66L30.80,500.99L31.30,502.21L31.80,502.82L32.30,501.05L32.80,501.59L33.30,502.76L33.80,500.80L34.30,499.92L34.80,502.34L35.30,500.74L35.80,500.99L36.30,500.62L36.80,501.73L37.30,502.77L37.80,503.34L38.30,501.60L38.80,500.66L39.30,501.72L39.80,501.86L40.30,490.05L40.80,490.02L41.30,497.32L41.80,497.93L42.30,491.08L42.80,489.61L43.30,489.61L43.80,491.61L44.30,491.08L44.80,499.55L45.30,490.03L45.80,490.11L46.30,504.28L46.80,504.41L47.30,504.91L47.80,502.36L48.30,499.34L48.80,499.77L49.30,498.28L49.80,500.68L50.30,498.60L50.80,501.05L51.30,498.91L51.80,502.45L52.04,503.34L52.30,503.32L52.80,502.13L53.30,503.76L53.80,503.31L54.30,502.91L54.80,499.58L55.30,500.56L55.80,499.19L56.30,499.11L56.80,501.64L57.30,500.89L57.80,502.45L58.30,502.27L58.80,503.45L59.30,500.10L59.80,501.06L60.30,501.85L60.80,499.59L61.30,490.12L61.80,490.14L62.30,499.98L62.80,499.65L63.30,490.22L63.80,490.24L64.30,502.19L64.80,500.85L65.30,500.19L65.80,500.37L66.30,500.84L66.80,500.68L67.30,490.09L67.80,490.09L68.30,500.09L68.80,499.69L69.30,497.82L69.80,500.80L70.30,490.09L70.80,490.06L71.30,501.35L71.80,501.12L72.30,497.77L72.80,499.16L73.30,500.14L73.80,499.49L74.30,502.83L74.80,500.72L75.30,498.35L75.80,496.88L76.30,497.90L76.80,499.28L77.30,498.85L77.80,501.61L78.30,501.12L78.80,490.05L79.30,490.02L79.80,499.26L80.30,497.67L80.80,496.90L81.30,496.99L81.80,497.99L82.30,497.77L82.80,489.94L83.30,489.97L83.80,500.29L84.30,498.36L84.80,489.94L85.30,489.91L85.80,497.99L86.30,496.02L86.80,496.71L87.30,497.90L87.80,497.63L88.30,497.94L88.80,498.45L89.30,498.85L89.80,497.70L90.30,497.29L90.80,496.71L91.30,497.15L91.80,497.05L92.30,496.10L92.80,496.33L93.30,496.42L93.80,495.88L94.30,494.85L94.80,493.21L95.30,493.66L95.80,492.64L96.30,490.55L96.80,489.56L97.30,489.56L97.80,490.35L98.30,490.41L98.80,490.28L99.30,490.50L99.80,490.44L100.30,490.31L100.80,490.39L101.08,490.47L101.30,490.36L101.80,489.58L102.30,489.59L102.80,491.00L103.30,491.21L103.80,491.28L104.30,489.61L104.80,489.94L105.30,500.20L105.80,499.50L106.30,501.46L106.80,503.21L107.30,503.54L107.80,502.26L108.30,501.67L108.80,501.72L109.30,502.54L109.80,500.76L110.30,500.27L110.80,496.32L111.30,498.48L111.80,500.39L112.30,501.46L112.80,501.55L113.30,498.77L113.80,500.71L114.30,499.38L114.80,498.59L115.30,500.18L115.80,500.61L116.30,500.18L116.80,499.39L117.30,502.20L117.80,501.27L118.30,501.56L118.80,490.07L119.30,490.04L119.80,498.33L120.30,489.99L120.80,490.04L121.30,501.00L121.80,499.85L122.30,502.21L122.80,500.58L123.30,499.85L123.80,498.88L124.30,501.98L124.80,502.30L125.30,498.66L125.80,499.52L126.30,490.17L126.80,490.16L127.30,501.31L127.80,500.83L128.30,501.95L128.80,499.62L129.30,500.33L129.80,501.66L130.30,500.76L130.80,500.71L131.30,490.11L131.80,490.11L132.30,503.35L132.80,499.95L133.30,499.93L133.80,490.06L134.00,490.06L134.30,500.69L134.80,500.56L135.30,500.57L135.80,499.20L136.30,497.52L136.80,500.69L137.30,501.42L137.80,501.32L138.30,500.51L138.80,501.77L139.30,502.58L139.80,502.17L140.30,499.38L140.80,502.13L141.30,502.63L141.80,503.02L142.30,501.52L142.80,501.04L143.30,500.08L143.80,500.53L144.30,500.88L144.80,499.26L145.30,500.36L145.80,500.73L146.30,500.63L146.80,501.10L147.30,499.90L147.80,499.94L148.30,500.20L148.80,500.78L149.30,501.09L149.80,499.30L150.30,502.01L150.80,499.85L151.30,499.87L151.80,501.43L152.30,500.20L152.80,499.29L153.30,499.31L153.80,499.67L154.30,499.67L154.80,501.10L155.30,499.53L155.80,500.06L156.30,498.48L156.80,490.57L157.30,490.42L157.80,490.54L158.30,490.63L158.80,490.26L159.00,490.25L159.30,490.40L159.80,501.12L160.30,490.12L160.80,490.13L161.30,502.94L161.80,503.69L162.30,501.83L162.80,501.62L163.30,504.14L163.80,503.28L164.30,504.80L164.80,500.39L165.30,502.92L165.80,500.86L166.30,490.21L166.80,490.21L167.30,505.66L167.80,501.85L168.30,501.07L168.80,504.69L169.30,502.79L169.80,503.22L170.30,505.93L170.80,501.63L171.30,507.96L171.80,507.40L172.30,504.39L172.80,506.75L173.30,506.18L173.80,504.69L174.30,490.19L174.80,490.17L175.30,501.42L175.80,502.69L176.00,499.96L176.30,499.65L176.80,501.08L177.30,490.14L177.80,490.15L178.30,490.17L178.80,490.18L179.30,502.60L179.80,504.10L180.30,500.28L180.80,502.90L181.30,500.81L181.80,502.17L182.30,501.80L182.80,502.19L183.30,499.49L183.80,503.40L184.30,503.16L184.80,490.13L185.30,490.14L185.80,501.31L186.00,500.29L186.30,502.00L186.80,499.38L187.30,501.88L187.80,500.32L188.30,499.64L188.80,502.56L189.30,504.37L189.80,504.74L190.30,500.65L190.80,502.63L191.30,500.83L191.80,500.19L192.30,499.42L192.80,500.84L193.30,499.91L193.80,502.62L194.30,502.22L194.80,501.70L195.30,500.70L195.80,501.19L196.30,502.00L196.80,501.20L197.30,500.30L197.80,499.66L198.30,500.77L198.80,499.36L199.30,502.06L199.80,503.18L200.30,501.71L200.80,490.13L201.30,490.14L201.80,501.96L202.30,502.11L202.80,503.10L203.30,503.63L203.80,501.94L204.30,502.61L204.80,502.10L205.30,490.24L205.80,490.25L206.30,503.06L206.80,490.28L207.30,490.29L207.80,490.31L208.30,490.30L208.80,504.11L209.30,505.15L209.80,502.43L210.30,502.92L210.80,502.34L211.30,504.08L211.80,502.40L212.30,490.20L212.80,490.19L213.30,503.36L213.80,499.96L214.30,503.53L214.80,503.55L215.30,502.26L215.80,502.26L216.30,501.79L216.80,499.50L217.30,500.13L217.80,498.15L218.30,498.59L218.80,498.99L219.30,497.65L219.80,498.04L220.00,499.02L220.30,497.35L220.80,489.79L221.30,489.72L221.80,491.95L222.30,490.93L222.80,489.83L223.30,489.51L223.80,489.51L224.00,489.51L224.30,489.51L224.80,489.51L225.30,489.51L225.80,489.51L226.30,489.51L226.80,489.51L227.30,489.51L227.80,489.51L228.30,489.51L228.80,489.51L229.30,489.51L229.80,489.51L230.30,489.51L230.80,489.51L230.80,489.51Z" fill="#f80e0e"/>
<path d="M28.30,489.51L28.30,488.27L28.80,486.16L29.30,476.77L29.80,477.95L30.30,468.04L30.31,467.97L30.80,479.69L31.30,488.28L31.80,485.48L32.30,486.01L32.80,483.86L33.30,476.41L33.80,481.64L34.30,481.73L34.80,482.04L35.30,475.20L35.80,480.03L36.30,484.82L36.80,482.86L37.30,485.24L37.80,480.17L38.30,478.71L38.80,479.30L39.30,482.25L39.80,479.25L40.30,477.54L40.80,470.52L41.30,479.96L41.80,482.91L42.30,482.11L42.80,480.91L43.30,482.29L43.80,483.71L44.30,479.03L44.80,470.35L45.30,467.13L45.80,475.19L46.30,471.44L46.80,473.78L47.30,480.03L47.80,478.43L48.30,478.01L48.80,480.70L49.30,476.31L49.80,477.16L50.30,473.68L50.80,474.47L51.30,484.53L51.80,476.16L52.04,470.13L52.30,468.31L52.80,484.07L53.30,480.74L53.80,483.16L54.30,482.23L54.80,482.74L55.30,486.57L55.80,484.00L56.30,484.33L56.80,485.35L57.30,483.10L57.80,485.95L58.30,487.01L58.80,487.38L59.30,485.67L59.80,486.41L60.30,482.86L60.80,485.49L61.30,487.17L61.80,487.00L62.30,484.74L62.80,483.73L63.30,480.42L63.80,481.68L64.30,486.06L64.80,486.33L65.30,481.76L65.80,473.74L66.30,484.98L66.80,484.58L67.30,482.27L67.80,482.60L68.30,485.65L68.80,483.92L69.30,480.27L69.80,486.58L70.30,486.41L70.80,487.21L71.30,485.62L71.80,485.60L72.30,487.49L72.80,487.22L73.30,487.71L73.80,487.53L74.30,488.43L74.80,487.81L75.30,487.93L75.80,486.33L76.30,487.48L76.80,487.06L77.30,487.46L77.80,488.80L78.30,487.53L78.80,487.54L79.30,488.46L79.80,487.49L80.30,488.10L80.80,488.29L81.30,486.84L81.80,487.12L82.30,488.77L82.80,487.61L83.30,484.40L83.80,486.40L84.30,487.73L84.80,485.38L85.30,487.75L85.80,486.66L86.30,486.74L86.80,487.70L87.30,487.36L87.80,485.41L88.30,485.28L88.80,482.57L89.30,485.75L89.80,483.78L90.30,483.59L90.80,483.34L91.30,479.63L91.80,478.06L92.30,477.41L92.80,480.98L93.30,480.85L93.80,468.31L94.30,481.13L94.80,480.89L95.30,478.64L95.80,479.49L96.30,470.69L96.80,475.20L97.30,468.31L97.80,468.64L98.30,474.33L98.80,477.22L99.30,479.95L99.80,481.41L100.30,473.88L100.80,480.50L101.08,465.82L101.30,472.46L101.80,481.01L102.30,475.38L102.80,478.39L103.30,478.51L103.80,473.83L104.30,469.51L104.80,476.46L105.30,477.22L105.80,467.99L106.30,480.44L106.80,478.03L107.30,475.67L107.80,469.49L108.30,475.36L108.80,475.13L109.30,483.46L109.80,472.65L110.30,476.44L110.80,477.21L111.30,484.49L111.80,485.21L112.30,484.15L112.80,483.40L113.30,482.62L113.80,483.52L114.30,484.75L114.80,482.92L115.30,483.80L115.80,486.69L116.30,485.93L116.80,487.95L117.30,485.11L117.80,483.65L118.30,484.94L118.80,485.18L119.30,483.22L119.80,485.85L120.30,485.82L120.80,486.22L121.30,481.04L121.80,487.69L122.30,486.79L122.80,485.28L123.30,485.41L123.80,487.76L124.30,487.47L124.80,486.59L125.30,485.14L125.80,486.33L126.30,484.42L126.80,488.11L127.30,486.16L127.80,487.82L128.30,486.45L128.80,487.48L129.30,487.53L129.80,484.87L130.30,482.39L130.80,487.55L131.30,482.45L131.80,480.80L132.30,486.07L132.80,479.95L133.30,475.26L133.80,482.18L134.00,473.83L134.30,477.72L134.80,478.51L135.30,482.49L135.80,484.27L136.30,487.86L136.80,485.53L137.30,486.17L137.80,485.76L138.30,487.38L138.80,487.27L139.30,486.99L139.80,485.49L140.30,488.17L140.80,487.52L141.30,486.19L141.80,486.69L142.30,484.61L142.80,484.25L143.30,483.69L143.80,486.83L144.30,484.42L144.80,485.56L145.30,484.55L145.80,480.33L146.30,485.63L146.80,486.63L147.30,487.13L147.80,487.17L148.30,485.16L148.80,486.99L149.30,488.05L149.80,485.83L150.30,486.22L150.80,487.25L151.30,486.74L151.80,487.42L152.30,487.55L152.80,486.89L153.30,486.09L153.80,487.81L154.30,484.65L154.80,486.81L155.30,487.09L155.80,487.63L156.30,487.58L156.80,487.27L157.30,486.73L157.80,486.24L158.30,486.72L158.80,483.04L159.00,482.79L159.30,483.90L159.80,487.51L160.30,488.72L160.80,487.38L161.30,488.37L161.80,488.32L162.30,487.25L162.80,488.14L163.30,488.57L163.80,487.30L164.30,488.50L164.80,487.71L165.30,487.87L165.80,487.10L166.30,487.60L166.80,486.60L167.30,486.32L167.80,487.47L168.30,487.47L168.80,487.89L169.30,486.13L169.80,487.69L170.30,486.89L170.80,485.34L171.30,487.32L171.80,486.91L172.30,486.20L172.80,486.51L173.30,483.29L173.80,484.24L174.30,486.84L174.80,486.30L175.30,478.42L175.80,481.88L176.00,476.07L176.30,478.00L176.80,484.67L177.30,486.66L177.80,482.76L178.30,483.28L178.80,486.34L179.30,483.05L179.80,479.08L180.30,480.46L180.80,479.31L181.30,479.64L181.80,484.49L182.30,482.64L182.80,480.95L183.30,486.95L183.80,483.94L184.30,482.19L184.80,481.11L185.30,484.78L185.80,480.40L186.00,473.83L186.30,469.88L186.80,475.78L187.30,483.27L187.80,481.65L188.30,481.68L188.80,483.48L189.30,484.02L189.80,485.35L190.30,485.23L190.80,487.89L191.30,486.97L191.80,486.85L192.30,488.51L192.80,487.13L193.30,488.11L193.80,488.42L194.30,488.50L194.80,487.64L195.30,487.27L195.80,488.15L196.30,488.10L196.80,486.56L197.30,483.48L197.80,485.89L198.30,487.45L198.80,485.20L199.30,486.78L199.80,486.80L200.30,485.79L200.80,485.91L201.30,486.18L201.80,487.76L202.30,484.42L202.80,487.30L203.30,486.06L203.80,488.19L204.30,487.99L204.80,487.47L205.30,487.58L205.80,486.79L206.30,482.29L206.80,483.94L207.30,480.66L207.80,482.81L208.30,483.11L208.80,477.27L209.30,483.52L209.80,482.98L210.30,485.22L210.80,476.08L211.30,480.16L211.80,479.24L212.30,483.63L212.80,485.92L213.30,479.18L213.80,481.06L214.30,482.50L214.80,482.74L215.30,483.57L215.80,484.45L216.30,487.49L216.80,486.00L217.30,486.16L217.80,483.25L218.30,486.21L218.80,485.07L219.30,485.22L219.80,482.79L220.00,480.55L220.30,483.02L220.80,487.16L221.30,485.62L221.80,487.60L222.30,488.86L222.80,489.18L223.30,489.51L223.80,489.51L224.00,489.51L224.30,489.51L224.80,489.51L225.30,489.51L225.80,489.51L226.30,489.51L226.80,489.51L227.30,489.51L227.80,489.51L228.30,489.51L228.80,489.51L229.30,489.51L229.80,489.51L230.30,489.51L230.80,489.51L230.80,489.51Z" fill="#1a1acc"/>
<line x1="28.30" y1="489.51" x2="236.60" y2="489.51" stroke="#333" stroke-width="0.8"/>
<line x1="236.60" y1="469.51" x2="236.60" y2="508.11" stroke="#333" stroke-width="0.6"/>
<path d="M235.70,471.11 L236.60,469.21 L237.50,471.11 Z" fill="#222"/>
<path d="M235.70,506.51 L236.60,508.41 L237.50,506.51 Z" fill="#222"/>
<text transform="translate(241.00,489.81) rotate(-90)" font-size="6.15" font-weight="normal" text-anchor="middle" dominant-baseline="central" fill="#111" >H3K27 H3K4</text>
<text transform="translate(248.40,490.81) rotate(-90)" font-size="6.5" font-weight="normal" text-anchor="middle" dominant-baseline="central" fill="#111" >AML5</text>
<text transform="translate(26.20,469.81) rotate(-90)" font-size="5.4" text-anchor="middle" dominant-baseline="central" fill="#222">4</text>
<text transform="translate(26.20,478.91) rotate(-90)" font-size="5.4" text-anchor="middle" dominant-baseline="central" fill="#222">2</text>
<text transform="translate(26.20,489.51) rotate(-90)" font-size="5.4" text-anchor="middle" dominant-baseline="central" fill="#222">0</text>
<text transform="translate(26.20,500.11) rotate(-90)" font-size="5.4" text-anchor="middle" dominant-baseline="central" fill="#222">2</text>
<text transform="translate(26.20,508.91) rotate(-90)" font-size="5.4" text-anchor="middle" dominant-baseline="central" fill="#222">4</text>
<path d="M28.30,532.88L28.30,550.29L28.80,548.49L29.30,547.65L29.80,548.85L30.30,548.63L30.31,544.99L30.80,546.51L31.30,547.40L31.80,549.10L32.30,546.37L32.80,554.61L33.30,545.99L33.77,545.52L33.80,548.79L34.30,545.03L34.80,548.49L35.30,544.47L35.80,548.21L36.30,548.86L36.80,545.82L37.30,553.34L37.80,553.34L38.30,547.23L38.80,548.95L39.30,546.59L39.80,548.15L40.30,553.34L40.80,547.90L41.30,545.13L41.80,543.29L42.30,534.07L42.80,533.91L43.30,534.21L43.80,534.19L44.30,533.93L44.80,546.29L45.30,547.25L45.80,547.89L46.30,550.86L46.80,552.95L47.30,553.81L47.80,552.86L48.30,552.82L48.80,547.02L49.30,551.69L49.80,551.41L50.30,550.40L50.80,551.84L51.30,552.88L51.80,550.30L52.04,548.74L52.30,545.83L52.80,547.44L53.30,546.41L53.80,548.59L54.30,552.25L54.80,551.36L55.30,553.89L55.80,549.32L56.30,551.26L56.80,547.49L57.30,549.58L57.80,548.54L58.30,554.61L58.80,550.43L59.30,549.55L59.80,549.60L60.30,552.29L60.80,552.70L61.30,549.41L61.80,549.57L62.30,547.21L62.80,551.04L63.30,551.56L63.80,548.67L64.30,550.87L64.80,550.34L65.30,552.00L65.80,554.41L66.30,553.03L66.80,552.02L67.30,555.73L67.80,553.61L68.30,552.59L68.80,548.86L69.30,548.63L69.80,552.31L70.30,554.61L70.80,554.61L71.30,551.75L71.80,551.37L72.30,556.93L72.80,554.61L73.30,551.42L73.80,550.91L74.30,549.88L74.80,551.73L75.30,547.33L75.80,547.94L76.30,546.97L76.80,551.33L77.30,550.76L77.80,549.07L78.30,548.40L78.80,546.82L79.30,548.34L79.80,547.30L80.30,547.07L80.80,550.14L81.30,549.11L81.80,551.41L82.30,547.25L82.80,551.13L83.30,548.13L83.80,549.88L84.30,554.61L84.80,548.46L85.30,551.36L85.80,549.34L86.30,549.33L86.80,548.10L87.30,548.57L87.80,549.56L88.30,552.93L88.80,555.99L89.30,551.63L89.80,551.98L90.30,550.08L90.80,549.60L91.30,551.18L91.80,547.95L92.30,552.11L92.80,550.50L93.30,553.60L93.80,549.15L94.30,548.66L94.80,550.12L95.30,553.37L95.80,551.50L96.27,535.25L96.30,534.83L96.80,535.22L97.30,535.28L97.80,534.68L98.30,534.58L98.80,534.37L99.30,534.16L99.80,534.40L100.30,534.61L100.80,534.69L101.08,537.96L101.30,535.32L101.80,534.89L102.30,536.98L102.80,534.06L103.30,533.90L103.80,534.06L104.30,533.97L104.80,548.23L105.30,551.42L105.80,547.29L106.30,550.22L106.80,551.34L107.30,549.97L107.80,549.39L108.30,546.54L108.80,546.47L109.30,548.93L109.80,548.49L110.30,550.01L110.80,546.86L111.30,547.90L111.80,551.30L112.30,553.71L112.80,548.89L113.30,548.14L113.80,552.18L114.30,547.07L114.80,547.19L115.30,547.57L115.80,549.26L116.30,548.32L116.80,551.91L117.30,548.59L117.80,549.14L118.30,550.83L118.80,550.13L119.30,545.88L119.80,545.43L120.30,546.49L120.80,550.04L121.30,548.56L121.80,550.02L122.30,551.37L122.80,549.96L123.30,549.48L123.80,547.68L124.30,554.61L124.80,550.01L125.30,553.03L125.80,553.36L126.30,551.09L126.80,550.27L127.30,549.49L127.80,552.88L128.30,554.61L128.80,551.95L129.30,548.93L129.80,552.67L130.30,552.34L130.80,548.57L131.30,551.41L131.80,550.29L132.30,552.32L132.80,547.78L133.30,551.66L133.80,550.06L134.00,553.00L134.30,548.92L134.80,549.40L135.30,549.44L135.80,548.98L136.30,552.22L136.80,549.25L137.30,551.27L137.80,552.53L138.30,549.32L138.80,553.00L139.30,549.50L139.80,554.61L140.30,551.41L140.80,548.71L141.30,548.32L141.80,553.69L142.30,552.84L142.80,548.29L143.30,550.51L143.80,549.92L144.30,550.42L144.80,552.96L145.30,554.61L145.80,554.61L146.30,550.20L146.80,551.00L147.30,551.41L147.80,552.07L148.30,547.92L148.80,554.61L149.30,550.06L149.80,548.38L150.30,550.51L150.80,549.01L151.30,552.53L151.80,554.00L152.30,554.07L152.80,551.94L153.30,552.46L153.80,551.43L154.30,548.08L154.80,549.16L155.30,552.59L155.80,548.84L156.30,546.64L156.80,545.40L157.30,542.56L157.80,542.06L158.30,541.04L158.80,545.07L159.00,545.83L159.30,545.72L159.80,549.42L160.30,550.92L160.80,551.02L161.30,554.38L161.80,554.34L162.30,556.68L162.80,552.32L163.30,552.76L163.80,555.43L164.30,554.61L164.80,556.92L165.30,555.99L165.80,552.91L166.30,554.89L166.80,555.83L167.30,552.47L167.80,551.50L168.30,550.29L168.80,549.26L169.30,549.88L169.80,549.41L170.30,551.22L170.80,554.61L171.30,554.61L171.80,548.10L172.30,548.04L172.80,551.61L173.30,554.61L173.80,548.72L174.30,554.43L174.80,552.46L175.30,552.31L175.80,555.31L176.30,556.31L176.80,554.61L177.30,550.46L177.80,548.88L178.30,552.83L178.80,547.08L179.30,549.88L179.80,546.93L180.30,549.10L180.80,550.70L181.30,550.55L181.80,549.22L182.30,547.19L182.80,550.34L183.30,551.98L183.80,551.76L184.30,554.40L184.80,554.05L185.30,548.37L185.80,553.48L186.00,551.82L186.30,550.46L186.80,550.09L187.30,547.94L187.80,549.83L188.30,552.25L188.80,552.29L189.30,553.38L189.80,554.61L190.30,555.16L190.80,552.24L191.30,552.03L191.80,553.74L192.30,552.01L192.80,552.52L193.30,551.63L193.80,554.61L194.30,554.16L194.80,551.66L195.30,550.70L195.80,551.45L196.30,554.46L196.80,549.55L197.30,551.25L197.80,553.58L198.30,548.25L198.80,552.52L199.30,550.97L199.80,550.17L200.30,547.34L200.80,552.86L201.30,548.37L201.80,554.59L202.30,551.14L202.80,551.03L203.30,557.00L203.80,551.12L204.30,556.01L204.80,553.96L205.30,553.41L205.80,554.60L206.30,551.55L206.80,555.05L207.30,550.53L207.80,554.64L208.00,551.59L208.30,552.71L208.80,553.56L209.30,550.10L209.80,552.26L210.30,549.52L210.80,551.57L211.30,554.61L211.80,552.60L212.30,549.55L212.80,549.44L213.30,549.33L213.80,552.55L214.00,551.20L214.30,549.54L214.80,553.67L215.30,552.33L215.80,550.79L216.30,554.69L216.80,552.27L217.30,549.79L217.80,551.29L218.30,553.16L218.80,547.92L219.30,550.09L219.80,551.22L220.30,550.61L220.80,548.50L221.30,543.88L221.80,544.32L222.30,542.77L222.80,539.26L223.30,538.71L223.80,537.24L224.00,537.40L224.30,536.81L224.80,535.57L225.30,534.59L225.80,534.28L226.30,533.55L226.80,533.06L227.30,532.88L227.80,532.88L228.30,532.88L228.80,532.88L229.30,532.88L229.80,532.88L230.30,532.88L230.80,532.88L230.80,532.88Z" fill="#f80e0e" fill-opacity="0.45"/>
<path d="M28.30,532.88L28.30,533.54L28.80,533.51L29.30,544.81L29.80,544.93L30.30,542.35L30.31,542.86L30.80,533.50L31.30,533.53L31.80,548.11L32.30,546.25L32.80,546.04L33.30,542.32L33.77,544.01L33.80,543.62L34.30,545.43L34.80,533.46L35.30,533.46L35.80,533.46L36.30,533.46L36.80,545.42L37.30,545.99L37.80,543.03L38.30,541.05L38.80,544.24L39.30,533.46L39.80,533.46L40.30,546.15L40.80,545.30L41.30,545.73L41.80,543.01L42.30,533.59L42.80,533.61L43.30,533.67L43.80,533.65L44.30,533.84L44.80,541.81L45.30,543.68L45.80,543.12L46.30,533.56L46.80,533.61L47.30,544.04L47.80,546.19L48.30,545.74L48.80,547.52L49.30,548.73L49.80,547.28L50.30,547.03L50.80,546.34L51.30,544.93L51.80,544.17L52.04,545.96L52.30,543.73L52.80,543.52L53.30,545.15L53.80,545.38L54.30,546.99L54.80,547.28L55.30,547.47L55.80,546.47L56.30,548.10L56.80,546.17L57.30,546.99L57.80,533.55L58.30,533.55L58.80,543.43L59.30,543.90L59.80,546.55L60.30,547.12L60.80,546.75L61.30,545.71L61.80,544.58L62.30,545.46L62.80,545.05L63.30,546.16L63.80,545.72L64.30,547.65L64.80,548.53L65.30,546.35L65.80,549.95L66.30,550.20L66.80,549.76L67.30,551.29L67.80,550.09L68.30,551.19L68.80,546.98L69.30,547.84L69.80,544.46L70.30,543.99L70.80,548.50L71.30,545.41L71.80,547.83L72.30,546.56L72.80,549.43L73.30,533.69L73.80,533.67L74.30,547.32L74.80,545.52L75.30,548.47L75.80,545.90L76.30,533.55L76.80,533.55L77.30,546.45L77.80,533.55L78.30,533.54L78.80,545.23L79.30,543.18L79.80,533.46L80.30,533.48L80.80,545.83L81.30,543.04L81.80,545.50L82.30,548.70L82.80,546.12L83.30,548.71L83.80,548.26L84.30,549.33L84.80,546.42L85.30,543.33L85.80,543.10L86.30,546.75L86.80,545.11L87.30,547.06L87.80,544.13L88.30,548.15L88.80,548.98L89.30,549.69L89.80,546.55L90.30,546.86L90.80,546.40L91.30,548.00L91.80,548.82L92.30,533.60L92.80,533.62L93.30,545.87L93.80,544.31L94.30,533.56L94.80,533.51L95.30,541.73L95.80,543.21L96.27,532.98L96.30,532.98L96.80,535.12L97.30,535.16L97.80,534.52L98.30,534.21L98.80,533.97L99.30,533.93L99.80,534.12L100.30,534.40L100.80,532.97L101.08,532.98L101.30,532.97L101.80,532.96L102.30,533.95L102.80,533.77L103.30,533.78L103.80,533.60L104.30,533.61L104.80,542.30L105.30,544.08L105.80,546.93L106.30,546.10L106.80,546.89L107.30,547.68L107.80,547.39L108.30,545.80L108.80,543.18L109.30,546.17L109.80,545.76L110.30,544.89L110.80,546.67L111.30,545.82L111.80,533.61L112.30,533.63L112.80,550.97L113.30,548.43L113.80,549.39L114.30,545.34L114.80,545.96L115.30,549.18L115.80,550.35L116.30,546.08L116.80,548.50L117.30,547.51L117.80,544.07L118.30,545.49L118.80,543.96L119.30,544.74L119.80,545.59L120.30,541.66L120.80,543.41L121.30,546.68L121.80,546.46L122.30,544.89L122.80,547.13L123.30,545.65L123.80,546.20L124.30,544.62L124.80,545.93L125.30,546.33L125.80,544.71L126.30,547.58L126.80,547.20L127.30,548.70L127.80,547.40L128.30,547.87L128.80,549.69L129.30,548.74L129.80,546.21L130.30,547.84L130.80,547.83L131.30,547.59L131.80,546.18L132.30,548.85L132.80,546.73L133.30,545.79L133.80,545.37L134.00,546.20L134.30,547.59L134.80,548.80L135.30,547.18L135.80,551.37L136.30,546.34L136.80,545.14L137.30,548.11L137.80,546.17L138.30,548.67L138.80,533.61L139.30,533.60L139.80,545.11L140.30,544.51L140.80,548.12L141.30,547.36L141.80,550.26L142.30,544.54L142.80,547.43L143.30,545.31L143.80,544.77L144.30,546.80L144.80,546.69L145.30,545.56L145.80,546.31L146.30,533.62L146.80,533.61L147.30,546.87L147.80,546.49L148.30,546.87L148.80,543.77L149.30,550.71L149.80,546.71L150.30,548.09L150.80,549.67L151.30,548.10L151.80,550.48L152.30,549.45L152.80,546.41L153.30,547.17L153.80,545.47L154.30,533.62L154.80,533.61L155.30,546.40L155.80,545.15L156.30,533.52L156.80,533.42L157.30,533.32L157.80,533.22L158.30,540.48L158.80,541.35L159.00,544.99L159.30,546.52L159.80,533.63L160.30,533.69L160.80,545.85L161.30,545.39L161.80,548.71L162.30,545.42L162.80,550.14L163.30,548.74L163.80,550.74L164.30,551.51L164.80,551.98L165.30,546.90L165.80,547.78L166.30,551.09L166.80,550.58L167.30,548.36L167.80,547.57L168.30,547.52L168.80,547.71L169.30,550.60L169.80,545.94L170.30,549.76L170.80,547.92L171.30,533.60L171.80,533.59L172.30,543.70L172.80,544.83L173.30,546.83L173.80,547.54L174.30,547.17L174.80,547.89L175.30,550.04L175.80,550.79L176.30,545.54L176.80,545.08L177.30,544.71L177.80,533.64L178.30,533.61L178.80,547.39L179.30,533.53L179.80,533.50L180.30,544.70L180.80,533.52L181.30,533.54L181.80,544.48L182.30,547.27L182.80,545.63L183.30,545.16L183.80,546.18L184.30,548.27L184.80,547.79L185.30,545.18L185.80,547.95L186.00,545.88L186.30,545.08L186.80,547.47L187.30,543.36L187.80,545.66L188.30,546.94L188.80,547.26L189.30,545.37L189.80,546.25L190.30,550.38L190.80,547.34L191.30,545.62L191.80,549.02L192.30,548.58L192.80,550.75L193.30,547.06L193.80,551.09L194.30,551.15L194.80,548.01L195.30,533.70L195.80,533.68L196.30,547.36L196.80,533.66L197.30,533.65L197.80,545.41L198.30,545.39L198.80,546.01L199.30,546.45L199.80,546.71L200.30,544.44L200.80,546.09L201.30,545.05L201.80,548.14L202.30,545.70L202.80,547.93L203.30,550.59L203.80,547.61L204.30,533.77L204.80,533.76L205.30,550.29L205.80,549.63L206.30,547.64L206.80,546.65L207.30,547.91L207.80,548.45L208.00,546.48L208.30,545.82L208.80,547.38L209.30,547.48L209.80,544.82L210.30,533.62L210.80,533.61L211.30,547.59L211.80,548.55L212.30,549.22L212.80,546.34L213.30,548.43L213.80,549.18L214.00,549.02L214.30,550.69L214.80,550.87L215.30,548.63L215.80,550.36L216.30,551.52L216.80,547.43L217.30,548.33L217.80,549.54L218.30,549.12L218.80,548.07L219.30,546.65L219.80,545.98L220.30,543.36L220.80,533.35L221.30,533.22L221.80,538.13L222.30,535.20L222.80,533.48L223.30,532.88L223.80,532.88L224.00,532.88L224.30,532.88L224.80,532.88L225.30,532.88L225.80,532.88L226.30,532.88L226.80,532.88L227.30,532.88L227.80,532.88L228.30,532.88L228.80,532.88L229.30,532.88L229.80,532.88L230.30,532.88L230.80,532.88L230.80,532.88Z" fill="#f80e0e"/>
<path d="M28.30,532.88L28.30,531.54L28.80,530.42L29.30,524.92L29.80,524.79L30.30,517.85L30.31,517.80L30.80,523.59L31.30,529.74L31.80,530.41L32.30,527.78L32.80,530.43L33.30,529.01L33.77,526.42L33.80,525.73L34.30,526.87L34.80,524.59L35.30,527.86L35.80,528.14L36.30,528.77L36.80,528.21L37.30,528.20L37.80,525.07L38.30,530.06L38.80,530.23L39.30,529.93L39.80,528.06L40.30,528.34L40.80,526.30L41.30,528.19L41.80,526.16L42.30,526.69L42.80,528.08L43.30,530.00L43.80,527.68L44.30,528.28L44.80,523.40L45.30,526.11L45.80,523.94L46.30,524.48L46.80,527.62L47.30,529.22L47.80,530.20L48.30,531.10L48.80,531.39L49.30,531.53L49.80,532.09L50.30,531.63L50.80,532.22L51.30,530.34L51.80,526.84L52.04,524.26L52.30,525.32L52.80,530.35L53.30,530.07L53.80,528.22L54.30,526.70L54.80,530.22L55.30,528.69L55.80,521.40L56.30,528.32L56.80,525.32L57.30,524.08L57.80,523.84L58.30,528.55L58.80,521.46L59.30,529.95L59.80,528.77L60.30,528.96L60.80,531.11L61.30,531.29L61.80,531.17L62.30,532.02L62.80,532.36L63.30,532.05L63.80,532.62L64.30,531.89L64.80,532.60L65.30,532.48L65.80,531.93L66.30,532.28L66.80,531.71L67.30,532.02L67.80,531.73L68.30,532.13L68.80,531.94L69.30,530.63L69.80,532.26L70.30,532.27L70.80,531.88L71.30,532.08L71.80,531.70L72.30,532.35L72.80,531.65L73.30,531.71L73.80,532.60L74.30,532.46L74.80,531.76L75.30,531.73L75.80,532.08L76.30,531.95L76.80,531.95L77.30,531.73L77.80,531.69L78.30,531.69L78.80,531.87L79.30,532.03L79.80,532.12L80.30,530.36L80.80,531.87L81.30,531.93L81.80,531.96L82.30,532.38L82.80,532.37L83.30,531.81L83.80,531.78L84.30,530.96L84.80,531.53L85.30,530.91L85.80,531.67L86.30,531.96L86.80,531.41L87.30,531.62L87.80,530.95L88.30,529.55L88.80,531.03L89.30,529.48L89.80,529.55L90.30,524.35L90.80,531.15L91.30,526.59L91.80,526.94L92.30,526.23L92.80,527.67L93.30,530.07L93.80,527.00L94.30,524.81L94.80,528.33L95.30,527.49L95.80,513.40L96.27,511.34L96.30,520.71L96.80,516.42L97.30,526.75L97.80,526.61L98.30,520.89L98.80,524.60L99.30,529.85L99.80,523.70L100.30,516.68L100.80,522.90L101.08,511.34L101.30,519.92L101.80,515.19L102.30,527.31L102.80,526.84L103.30,524.54L103.80,520.12L104.30,528.75L104.80,511.68L105.30,511.41L105.80,519.88L106.30,523.05L106.80,518.84L107.30,519.94L107.80,525.41L108.30,521.20L108.80,529.30L109.30,531.00L109.80,530.03L110.30,528.23L110.80,531.15L111.30,529.20L111.80,531.63L112.30,530.92L112.80,531.30L113.30,531.17L113.80,532.20L114.30,532.20L114.80,531.69L115.30,531.84L115.80,531.34L116.30,530.88L116.80,528.94L117.30,529.24L117.80,527.49L118.30,524.86L118.80,527.50L119.30,527.57L119.80,530.46L120.30,522.90L120.80,530.13L121.30,525.13L121.80,525.36L122.30,525.73L122.80,526.29L123.30,527.65L123.80,526.86L124.30,529.87L124.80,531.58L125.30,529.87L125.80,530.98L126.30,525.39L126.80,531.66L127.30,530.96L127.80,530.74L128.30,531.55L128.80,529.19L129.30,531.03L129.80,527.42L130.30,528.00L130.80,527.15L131.30,529.05L131.80,529.15L132.30,530.11L132.80,525.23L133.30,526.36L133.80,525.04L134.00,523.92L134.30,525.84L134.80,526.28L135.30,528.03L135.80,531.02L136.30,530.16L136.80,530.94L137.30,530.83L137.80,529.71L138.30,532.36L138.80,532.02L139.30,532.10L139.80,530.23L140.30,531.83L140.80,531.70L141.30,530.21L141.80,531.69L142.30,531.70L142.80,532.30L143.30,532.10L143.80,532.48L144.30,532.17L144.80,532.01L145.30,532.13L145.80,532.18L146.30,532.28L146.80,531.91L147.30,532.19L147.80,532.53L148.30,530.19L148.80,531.95L149.30,531.63L149.80,532.31L150.30,531.79L150.80,532.41L151.30,531.66L151.80,532.26L152.30,531.68L152.80,531.83L153.30,531.70L153.80,532.09L154.30,532.02L154.80,532.16L155.30,530.21L155.80,532.58L156.30,532.39L156.80,531.93L157.30,531.84L157.80,532.02L158.30,527.04L158.80,523.16L159.00,514.96L159.30,524.26L159.80,529.73L160.30,530.45L160.80,531.18L161.30,524.97L161.80,531.06L162.30,528.12L162.80,527.94L163.30,526.40L163.80,530.01L164.30,528.41L164.80,528.56L165.30,528.78L165.80,529.91L166.30,530.17L166.80,529.68L167.30,530.96L167.80,531.92L168.30,530.55L168.80,530.35L169.30,531.37L169.80,529.22L170.30,530.97L170.80,526.55L171.30,529.59L171.80,523.35L172.30,526.92L172.80,520.77L173.30,520.25L173.80,524.26L174.30,524.01L174.80,523.67L175.30,527.51L175.80,528.03L176.30,525.73L176.80,520.42L177.30,527.11L177.80,521.32L178.30,523.12L178.80,516.19L179.30,522.78L179.80,518.55L180.30,524.91L180.80,521.43L181.30,527.80L181.80,526.85L182.30,528.82L182.80,530.37L183.30,528.55L183.80,526.37L184.30,524.94L184.80,525.54L185.30,524.43L185.80,521.29L186.00,517.20L186.30,523.41L186.80,524.05L187.30,520.61L187.80,524.42L188.30,522.30L188.80,527.69L189.30,528.31L189.80,528.62L190.30,529.87L190.80,531.12L191.30,530.39L191.80,530.95L192.30,530.37L192.80,530.78L193.30,531.98L193.80,529.95L194.30,531.95L194.80,529.67L195.30,530.83L195.80,529.50L196.30,527.36L196.80,528.71L197.30,527.54L197.80,524.82L198.30,524.92L198.80,518.35L199.30,522.23L199.80,518.03L200.30,521.14L200.80,524.62L201.30,523.50L201.80,520.87L202.30,524.21L202.80,524.61L203.30,529.46L203.80,530.49L204.30,528.13L204.80,525.77L205.30,522.82L205.80,523.97L206.30,526.11L206.80,519.76L207.30,518.76L207.80,514.05L208.00,514.96L208.30,522.56L208.80,521.80L209.30,522.11L209.80,511.68L210.30,520.34L210.80,523.62L211.30,527.80L211.80,521.87L212.30,526.65L212.80,520.32L213.30,518.75L213.80,523.64L214.00,512.72L214.30,525.74L214.80,523.01L215.30,521.85L215.80,528.14L216.30,522.95L216.80,529.04L217.30,519.39L217.80,526.73L218.30,526.95L218.80,517.21L219.30,515.82L219.80,526.81L220.30,520.82L220.80,524.38L221.30,528.70L221.80,528.19L222.30,529.93L222.80,531.88L223.30,532.88L223.80,532.88L224.00,532.88L224.30,532.88L224.80,532.88L225.30,532.88L225.80,532.88L226.30,532.88L226.80,532.88L227.30,532.88L227.80,532.88L228.30,532.88L228.80,532.88L229.30,532.88L229.80,532.88L230.30,532.88L230.80,532.88L230.80,532.88Z" fill="#1a1acc"/>
<line x1="28.30" y1="532.88" x2="236.60" y2="532.88" stroke="#333" stroke-width="0.8"/>
<line x1="236.60" y1="512.88" x2="236.60" y2="551.48" stroke="#333" stroke-width="0.6"/>
<path d="M235.70,514.48 L236.60,512.58 L237.50,514.48 Z" fill="#222"/>
<path d="M235.70,549.88 L236.60,551.78 L237.50,549.88 Z" fill="#222"/>
<text transform="translate(241.00,533.18) rotate(-90)" font-size="6.15" font-weight="normal" text-anchor="middle" dominant-baseline="central" fill="#111" >H3K27 H3K4</text>
<text transform="translate(248.40,534.18) rotate(-90)" font-size="6.5" font-weight="normal" text-anchor="middle" dominant-baseline="central" fill="#111" >AML6</text>
<text transform="translate(26.20,513.18) rotate(-90)" font-size="5.4" text-anchor="middle" dominant-baseline="central" fill="#222">4</text>
<text transform="translate(26.20,522.28) rotate(-90)" font-size="5.4" text-anchor="middle" dominant-baseline="central" fill="#222">2</text>
<text transform="translate(26.20,532.88) rotate(-90)" font-size="5.4" text-anchor="middle" dominant-baseline="central" fill="#222">0</text>
<text transform="translate(26.20,543.48) rotate(-90)" font-size="5.4" text-anchor="middle" dominant-baseline="central" fill="#222">2</text>
<text transform="translate(26.20,552.28) rotate(-90)" font-size="5.4" text-anchor="middle" dominant-baseline="central" fill="#222">4</text>
<path d="M28.30,576.25L28.30,589.67L28.80,590.50L29.30,591.79L29.80,594.28L30.30,594.79L30.31,595.78L30.80,596.23L31.30,595.39L31.80,599.82L32.30,597.98L32.80,593.99L33.30,595.09L33.80,596.90L34.30,594.32L34.80,592.90L35.30,596.16L35.80,594.05L36.30,598.65L36.80,596.00L37.30,598.39L37.80,600.39L38.30,595.38L38.80,596.39L39.30,596.50L39.80,597.98L40.30,594.03L40.80,595.91L41.30,597.73L41.46,594.92L41.80,594.76L42.30,577.39L42.80,577.28L43.30,577.34L43.80,577.26L44.30,577.39L44.80,592.86L45.30,593.03L45.80,597.98L46.30,593.73L46.80,599.94L47.30,598.62L47.80,599.02L48.30,595.40L48.80,597.01L49.30,595.76L49.80,593.70L50.30,597.98L50.80,596.73L51.30,595.37L51.80,596.16L52.30,599.51L52.80,597.65L53.30,595.52L53.80,594.69L54.30,596.73L54.80,594.87L55.30,592.69L55.80,595.45L56.30,596.12L56.80,596.90L57.30,597.41L57.80,596.13L58.30,597.94L58.80,595.87L59.30,593.79L59.80,600.10L60.30,593.91L60.80,597.22L61.30,598.15L61.80,594.60L62.30,593.52L62.80,594.56L63.30,598.27L63.80,592.83L64.30,599.44L64.80,598.31L65.30,596.44L65.80,596.87L66.30,592.24L66.80,596.34L67.30,597.46L67.80,596.62L68.30,595.06L68.80,594.46L69.30,598.16L69.80,597.98L70.30,592.19L70.80,594.20L71.30,593.73L71.80,595.23L72.30,597.98L72.80,595.64L73.30,597.98L73.80,592.72L74.30,597.70L74.80,597.26L75.30,593.07L75.80,596.11L76.30,597.98L76.80,597.93L77.30,596.99L77.80,595.13L78.30,598.88L78.80,597.03L78.96,594.64L79.30,595.43L79.80,596.49L80.30,596.56L80.80,594.46L81.30,593.11L81.80,591.75L82.30,595.67L82.80,592.70L83.30,595.34L83.80,597.55L84.30,592.87L84.80,594.99L85.30,593.27L85.80,600.01L86.30,597.84L86.80,595.89L87.30,594.38L87.80,594.26L88.30,595.31L88.80,597.90L89.30,597.98L89.80,594.62L90.30,596.95L90.80,596.98L91.30,592.21L91.80,597.98L92.30,597.01L92.80,596.67L93.30,599.06L93.80,598.03L94.30,594.60L94.80,595.60L95.30,594.25L95.80,593.23L96.30,589.06L96.80,586.39L97.30,582.08L97.80,583.36L98.30,578.71L98.80,578.27L99.30,578.62L99.80,578.37L100.30,578.53L100.80,580.60L101.08,580.87L101.30,580.31L101.80,578.70L102.30,578.50L102.80,578.67L103.30,578.71L103.80,578.56L104.30,578.20L104.80,596.98L105.30,598.04L105.80,598.70L106.30,599.39L106.80,598.28L107.30,596.60L107.80,598.29L108.30,592.97L108.80,595.06L109.30,595.27L109.80,594.34L110.30,595.82L110.80,600.15L111.30,596.79L111.80,596.11L112.30,595.53L112.80,600.19L113.30,593.28L113.80,598.12L114.30,592.78L114.80,593.44L115.30,595.08L115.80,597.60L116.30,595.17L116.80,599.72L117.30,597.98L117.80,596.62L118.30,593.02L118.80,593.34L119.30,596.91L119.80,595.29L120.30,596.21L120.31,595.21L120.80,597.07L121.30,597.90L121.80,596.97L122.30,597.35L122.80,594.81L123.30,595.16L123.80,597.80L124.30,598.05L124.80,599.81L125.30,594.18L125.80,600.19L126.30,596.13L126.80,597.98L127.30,593.65L127.80,592.77L128.30,593.10L128.80,594.15L129.30,598.31L129.80,595.67L130.30,596.88L130.80,595.06L131.30,597.98L131.80,592.29L132.30,593.22L132.80,595.38L133.30,599.21L133.80,593.51L134.00,600.00L134.30,599.64L134.80,595.96L135.30,596.09L135.80,597.98L136.30,597.02L136.80,594.06L137.30,596.92L137.80,595.27L138.30,596.13L138.80,596.97L139.30,596.09L139.80,597.31L140.30,593.82L140.80,594.97L141.30,592.96L141.80,597.98L142.30,594.29L142.80,594.15L143.30,594.39L143.80,595.68L144.30,597.98L144.80,591.92L145.30,597.63L145.80,595.43L146.30,593.72L146.80,598.40L147.30,598.46L147.80,600.54L148.30,598.74L148.80,597.10L149.30,595.69L149.80,595.05L150.30,596.00L150.80,597.98L151.30,597.98L151.80,595.89L152.30,594.93L152.80,596.59L153.30,595.96L153.80,593.33L154.30,599.11L154.80,596.54L155.30,597.63L155.80,599.21L156.30,594.72L156.80,578.66L157.30,578.93L157.80,578.33L158.00,578.41L158.30,581.45L158.80,578.64L159.30,578.79L159.80,598.09L160.30,599.30L160.80,600.53L161.30,600.48L161.80,595.20L162.30,597.93L162.80,597.98L163.30,595.15L163.80,594.63L164.30,597.98L164.80,592.74L165.30,597.51L165.80,596.80L166.00,596.02L166.30,596.14L166.80,597.88L167.30,596.85L167.80,595.24L168.30,595.16L168.80,595.84L169.30,600.40L169.80,599.22L170.30,594.51L170.80,599.06L171.30,593.61L171.80,594.75L172.30,598.34L172.80,598.19L173.30,597.02L173.80,597.50L174.30,594.62L174.80,593.80L175.30,599.84L175.80,594.56L176.00,599.20L176.30,595.91L176.80,597.98L177.30,594.78L177.80,597.98L178.30,596.65L178.80,594.89L179.30,596.55L179.80,592.58L180.30,595.30L180.80,598.24L181.00,595.00L181.30,597.98L181.80,596.33L182.30,599.92L182.80,594.05L183.30,595.89L183.80,597.88L184.30,597.05L184.80,593.80L185.30,595.59L185.80,595.70L186.00,594.24L186.30,596.87L186.80,595.35L187.30,595.13L187.80,593.50L188.30,595.88L188.80,595.68L189.30,594.13L189.80,596.77L190.30,593.86L190.80,594.12L191.30,596.35L191.80,595.49L192.30,598.26L192.80,598.94L193.30,598.77L193.80,597.98L194.30,597.25L194.80,597.56L195.30,595.00L195.80,595.70L196.30,597.17L196.80,600.46L197.30,598.19L197.80,593.84L198.30,595.10L198.80,596.97L199.30,595.32L199.80,597.98L200.30,597.35L200.80,592.78L201.30,594.51L201.80,597.44L202.30,597.89L202.80,594.37L203.30,599.48L203.80,596.54L204.30,597.62L204.80,595.12L205.30,598.70L205.80,599.92L206.30,593.21L206.80,595.16L207.30,596.78L207.80,598.03L208.30,596.07L208.80,598.17L209.30,597.14L209.80,596.22L210.30,597.53L210.80,597.32L211.30,595.74L211.80,598.99L212.30,594.55L212.80,598.97L213.30,594.25L213.80,595.84L214.30,599.78L214.80,595.69L215.30,597.98L215.80,597.88L216.30,596.33L216.80,595.34L217.30,595.02L217.80,594.87L218.30,590.46L218.80,591.38L219.30,597.98L219.80,592.18L220.00,590.55L220.30,588.66L220.80,587.16L221.30,588.17L221.80,586.07L222.30,583.19L222.80,582.36L223.30,581.26L223.80,580.38L224.30,579.77L224.80,579.30L225.30,578.40L225.80,577.50L226.30,577.01L226.80,576.45L227.30,576.25L227.80,576.25L228.30,576.25L228.80,576.25L229.30,576.25L229.80,576.25L230.30,576.25L230.80,576.25L230.80,576.25Z" fill="#f80e0e" fill-opacity="0.45"/>
<path d="M28.30,576.25L28.30,586.88L28.80,586.80L29.30,590.30L29.80,590.29L30.30,589.96L30.31,591.84L30.80,588.99L31.30,590.85L31.80,594.07L32.30,589.57L32.80,591.81L33.30,577.04L33.80,577.02L34.30,591.35L34.80,594.12L35.30,592.05L35.80,577.12L36.30,577.12L36.80,595.11L37.30,590.96L37.80,592.96L38.30,594.07L38.80,592.92L39.30,594.68L39.80,593.37L40.30,594.78L40.80,590.62L41.30,589.67L41.46,590.02L41.80,588.38L42.30,577.01L42.80,577.23L43.30,577.25L43.80,576.30L44.30,576.30L44.80,591.04L45.30,587.54L45.80,593.34L46.30,592.17L46.80,592.51L47.30,591.46L47.80,594.28L48.30,589.98L48.80,591.33L49.30,594.20L49.80,594.17L50.30,593.18L50.80,594.48L51.30,593.06L51.80,589.17L52.30,591.61L52.80,589.04L53.30,589.16L53.80,589.60L54.30,593.35L54.80,592.54L55.30,590.31L55.80,591.66L56.30,595.81L56.80,593.02L57.30,591.67L57.80,593.66L58.30,593.40L58.80,589.66L59.30,594.39L59.80,594.29L60.30,591.12L60.80,577.11L61.30,577.09L61.80,591.10L62.30,594.82L62.80,587.96L63.30,592.23L63.80,591.79L64.30,592.29L64.80,577.10L65.30,577.08L65.80,589.90L66.30,590.25L66.80,577.04L67.30,577.06L67.80,577.09L68.30,577.11L68.80,592.72L69.30,590.60L69.80,591.57L70.30,589.93L70.80,592.92L71.30,592.99L71.80,594.52L72.30,590.92L72.80,577.09L73.30,577.06L73.80,592.85L74.30,593.00L74.80,593.13L75.30,592.66L75.80,591.91L76.30,594.33L76.80,593.45L77.30,595.33L77.80,595.33L78.30,590.60L78.80,593.17L78.96,594.14L79.30,590.80L79.80,590.24L80.30,587.66L80.80,590.49L81.30,589.28L81.80,576.93L82.30,576.95L82.80,576.97L83.30,577.00L83.80,577.02L84.30,577.05L84.80,591.39L85.30,590.19L85.80,577.11L86.30,577.09L86.80,593.35L87.30,590.36L87.80,592.80L88.30,593.45L88.80,592.91L89.30,593.55L89.80,592.42L90.30,591.93L90.80,593.21L91.30,593.13L91.80,590.11L92.30,577.06L92.80,577.09L93.30,594.20L93.80,591.99L94.30,577.07L94.80,577.04L95.30,588.04L95.80,587.10L96.30,584.61L96.80,582.30L97.30,580.85L97.80,580.88L98.30,578.26L98.80,578.26L99.30,577.70L99.80,578.38L100.30,577.93L100.80,579.78L101.08,579.44L101.30,579.69L101.80,576.35L102.30,576.35L102.80,578.41L103.30,577.63L103.80,578.10L104.30,578.39L104.80,577.03L105.30,577.12L105.80,588.78L106.30,577.12L106.80,577.12L107.30,592.05L107.80,593.44L108.30,593.88L108.80,590.24L109.30,591.28L109.80,595.42L110.30,590.84L110.80,592.19L111.30,591.20L111.80,593.35L112.30,577.12L112.80,577.11L113.30,589.99L113.80,591.22L114.30,593.53L114.80,592.30L115.30,593.81L115.80,589.91L116.30,593.77L116.80,591.20L117.30,592.73L117.80,588.17L118.30,577.02L118.80,577.04L119.30,593.65L119.80,592.03L120.30,592.22L120.31,593.12L120.80,593.86L121.30,590.69L121.80,591.13L122.30,593.95L122.80,592.12L123.30,593.86L123.80,591.79L124.30,592.28L124.80,594.54L125.30,594.33L125.80,593.13L126.30,592.77L126.80,595.41L127.30,590.75L127.80,591.96L128.30,592.26L128.80,589.55L129.30,590.16L129.80,590.24L130.30,592.12L130.80,588.59L131.30,590.36L131.80,595.09L132.30,591.23L132.80,595.86L133.30,594.36L133.80,591.83L134.00,590.54L134.30,592.91L134.80,596.27L135.30,577.13L135.80,577.14L136.30,596.32L136.80,577.13L137.30,577.12L137.80,591.36L138.30,589.88L138.80,591.85L139.30,594.86L139.80,589.01L140.30,591.16L140.80,589.71L141.30,591.99L141.80,589.53L142.30,588.55L142.80,592.20L143.30,592.15L143.80,589.92L144.30,587.38L144.80,589.48L145.30,590.38L145.80,592.04L146.30,593.11L146.80,590.97L147.30,592.14L147.80,591.79L148.30,593.66L148.80,593.40L149.30,594.36L149.80,589.29L150.30,577.09L150.80,577.08L151.30,591.37L151.80,591.80L152.30,577.06L152.80,577.07L153.30,592.20L153.80,594.94L154.30,592.84L154.80,577.12L155.30,577.13L155.80,592.13L156.30,577.06L156.80,576.35L157.30,578.12L157.80,576.35L158.00,576.35L158.30,577.85L158.80,576.35L159.30,576.35L159.80,594.41L160.30,577.14L160.80,577.13L161.30,593.12L161.80,591.60L162.30,594.61L162.80,590.53L163.30,590.61L163.80,577.05L164.30,577.06L164.80,589.25L165.30,577.08L165.80,577.10L166.00,593.56L166.30,590.44L166.80,589.75L167.30,593.10L167.80,597.51L168.30,595.09L168.80,594.56L169.30,592.19L169.80,596.74L170.30,577.09L170.80,577.08L171.30,589.83L171.80,591.08L172.30,589.48L172.80,577.07L173.30,577.08L173.80,591.15L174.30,593.21L174.80,593.99L175.30,592.86L175.80,589.63L176.00,591.08L176.30,588.80L176.80,592.96L177.30,589.93L177.80,592.36L178.30,577.09L178.80,577.08L179.30,593.52L179.80,593.87L180.30,594.72L180.80,594.14L181.00,591.20L181.30,591.60L181.80,592.72L182.30,590.59L182.80,591.47L183.30,577.13L183.80,577.14L184.30,592.24L184.80,594.28L185.30,590.88L185.80,577.06L186.00,577.05L186.30,593.00L186.80,587.90L187.30,590.54L187.80,576.96L188.30,576.96L188.80,589.82L189.30,593.27L189.80,593.34L190.30,590.58L190.80,591.75L191.30,593.14L191.80,591.94L192.30,594.63L192.80,590.42L193.30,592.08L193.80,593.34L194.30,590.04L194.80,590.32L195.30,592.62L195.80,593.87L196.30,591.01L196.80,577.13L197.30,577.12L197.80,596.68L198.30,593.39L198.80,593.82L199.30,577.07L199.80,577.05L200.30,591.61L200.80,592.67L201.30,596.71L201.80,593.97L202.30,590.80L202.80,588.48L203.30,589.87L203.80,589.38L204.30,591.65L204.80,590.64L205.30,591.30L205.80,593.09L206.30,591.76L206.80,592.29L207.30,589.25L207.80,590.78L208.30,589.64L208.80,590.83L209.30,594.62L209.80,594.78L210.30,593.22L210.80,590.66L211.30,589.31L211.80,592.19L212.30,591.29L212.80,591.00L213.30,593.54L213.80,577.11L214.30,577.09L214.80,590.44L215.30,592.06L215.80,590.48L216.30,591.29L216.80,577.01L217.30,576.99L217.80,588.43L218.30,576.93L218.80,576.91L219.30,588.88L219.80,586.30L220.00,586.76L220.30,586.49L220.80,582.85L221.30,582.74L221.80,580.22L222.30,578.76L222.80,576.85L223.30,576.25L223.80,576.25L224.30,576.25L224.80,576.25L225.30,576.25L225.80,576.25L226.30,576.25L226.80,576.25L227.30,576.25L227.80,576.25L228.30,576.25L228.80,576.25L229.30,576.25L229.80,576.25L230.30,576.25L230.80,576.25L230.80,576.25Z" fill="#f80e0e"/>
<path d="M28.30,576.25L28.30,574.92L28.80,572.20L29.30,572.79L29.80,572.78L30.30,554.78L30.31,554.71L30.80,568.53L31.30,572.49L31.80,575.59L32.30,575.75L32.80,575.71L33.30,575.69L33.80,575.51L34.30,575.05L34.80,573.57L35.30,572.99L35.80,573.23L36.30,574.63L36.80,572.31L37.30,572.14L37.80,574.28L38.30,570.19L38.80,570.89L39.30,567.80L39.80,570.19L40.30,570.60L40.80,570.38L41.30,563.11L41.46,565.48L41.80,568.74L42.30,573.08L42.80,572.68L43.30,570.70L43.80,572.71L44.30,574.51L44.80,573.95L45.30,574.09L45.80,573.43L46.30,574.34L46.80,572.89L47.30,575.59L47.80,575.88L48.30,575.24L48.80,575.54L49.30,575.24L49.80,575.61L50.30,575.71L50.80,575.62L51.30,575.47L51.80,575.04L52.30,574.88L52.80,574.33L53.30,574.47L53.80,573.22L54.30,574.29L54.80,572.43L55.30,573.19L55.80,572.31L56.30,574.27L56.80,574.78L57.30,574.44L57.80,575.07L58.30,571.87L58.80,574.45L59.30,574.66L59.80,574.55L60.30,574.50L60.80,574.61L61.30,574.66L61.80,575.10L62.30,575.62L62.80,575.59L63.30,575.06L63.80,574.92L64.30,574.42L64.80,575.30L65.30,571.24L65.80,573.08L66.30,574.02L66.80,572.82L67.30,574.36L67.80,572.83L68.30,575.88L68.80,575.75L69.30,575.33L69.80,575.21L70.30,575.77L70.80,575.63L71.30,574.93L71.80,575.11L72.30,574.69L72.80,574.37L73.30,574.39L73.80,572.22L74.30,574.41L74.80,573.49L75.30,573.09L75.80,573.30L76.30,574.99L76.80,571.17L77.30,571.35L77.80,570.36L78.30,569.00L78.80,571.65L78.96,567.63L79.30,573.28L79.80,574.44L80.30,574.85L80.80,575.10L81.30,575.09L81.80,573.93L82.30,575.14L82.80,574.86L83.30,574.66L83.80,573.17L84.30,574.99L84.80,575.01L85.30,574.28L85.80,575.16L86.30,573.79L86.80,571.83L87.30,571.45L87.80,568.59L88.30,573.61L88.80,570.62L89.30,570.54L89.80,569.42L90.30,569.54L90.80,569.35L91.30,568.54L91.80,571.82L92.30,572.25L92.80,569.97L93.30,565.21L93.80,569.52L94.30,559.97L94.80,564.50L95.30,563.55L95.80,565.46L96.30,567.39L96.80,569.41L97.30,572.74L97.80,564.59L98.30,563.33L98.80,569.06L99.30,568.89L99.80,565.86L100.30,567.24L100.80,561.96L101.08,554.71L101.30,561.92L101.80,563.90L102.30,564.85L102.80,570.06L103.30,570.66L103.80,565.89L104.30,555.05L104.80,556.71L105.30,564.91L105.80,561.48L106.30,568.22L106.80,555.05L107.30,564.19L107.80,570.99L108.30,573.42L108.80,569.59L109.30,573.57L109.80,574.64L110.30,573.91L110.80,574.92L111.30,575.19L111.80,575.82L112.30,575.48L112.80,575.34L113.30,573.30L113.80,575.60L114.30,573.22L114.80,572.67L115.30,575.37L115.80,574.72L116.30,574.25L116.80,574.55L117.30,573.80L117.80,575.12L118.30,568.76L118.80,574.09L119.30,572.68L119.80,569.64L120.30,567.65L120.31,567.63L120.80,569.48L121.30,571.01L121.80,572.14L122.30,571.77L122.80,573.02L123.30,571.02L123.80,573.67L124.30,571.79L124.80,575.19L125.30,570.08L125.80,574.70L126.30,572.39L126.80,573.35L127.30,574.48L127.80,575.19L128.30,575.22L128.80,575.66L129.30,575.58L129.80,575.61L130.30,575.72L130.80,575.11L131.30,575.03L131.80,575.23L132.30,574.96L132.80,573.06L133.30,568.31L133.80,573.04L134.00,569.53L134.30,572.23L134.80,573.22L135.30,572.94L135.80,575.23L136.30,575.37L136.80,575.20L137.30,574.90L137.80,574.87L138.30,575.32L138.80,574.12L139.30,574.16L139.80,574.36L140.30,575.19L140.80,574.08L141.30,571.50L141.80,573.22L142.30,572.84L142.80,574.59L143.30,572.77L143.80,568.67L144.30,571.97L144.80,572.15L145.30,571.76L145.80,571.44L146.30,566.86L146.80,574.15L147.30,571.65L147.80,570.91L148.30,574.65L148.80,571.99L149.30,572.36L149.80,575.18L150.30,573.05L150.80,571.12L151.30,574.27L151.80,573.59L152.30,574.66L152.80,575.15L153.30,571.59L153.80,574.65L154.30,573.30L154.80,572.67L155.30,574.68L155.80,574.50L156.30,573.56L156.80,572.71L157.30,570.01L157.80,573.43L158.00,569.53L158.30,569.77L158.80,571.95L159.30,574.07L159.80,572.76L160.30,573.25L160.80,574.99L161.30,575.20L161.80,573.86L162.30,574.40L162.80,573.67L163.30,570.52L163.80,573.67L164.30,567.27L164.80,570.31L165.30,569.70L165.80,572.29L166.00,567.29L166.30,570.79L166.80,568.07L167.30,572.09L167.80,569.82L168.30,570.53L168.80,570.45L169.30,572.96L169.80,571.56L170.30,574.06L170.80,573.88L171.30,574.71L171.80,574.31L172.30,573.17L172.80,572.42L173.30,573.05L173.80,571.04L174.30,567.99L174.80,569.73L175.30,563.51L175.80,558.11L176.00,560.57L176.30,570.22L176.80,572.03L177.30,569.17L177.80,570.35L178.30,567.07L178.80,573.27L179.30,572.20L179.80,570.46L180.30,571.79L180.80,557.14L181.00,556.09L181.30,558.20L181.80,563.33L182.30,567.45L182.80,558.67L183.30,572.11L183.80,573.10L184.30,572.60L184.80,573.44L185.30,571.93L185.80,564.77L186.00,565.05L186.30,566.90L186.80,572.64L187.30,572.22L187.80,573.00L188.30,574.02L188.80,574.73L189.30,573.20L189.80,572.93L190.30,573.71L190.80,573.25L191.30,571.86L191.80,573.76L192.30,572.37L192.80,574.15L193.30,574.44L193.80,573.98L194.30,573.07L194.80,574.12L195.30,574.90L195.80,574.91L196.30,574.86L196.80,571.64L197.30,573.97L197.80,569.47L198.30,568.86L198.80,573.58L199.30,574.43L199.80,572.99L200.30,574.97L200.80,573.81L201.30,574.03L201.80,574.34L202.30,573.60L202.80,570.38L203.30,573.62L203.80,574.10L204.30,569.17L204.80,572.71L205.30,571.56L205.80,571.52L206.30,571.48L206.80,571.83L207.30,571.43L207.80,570.05L208.30,574.16L208.80,569.90L209.30,572.77L209.80,570.46L210.30,569.97L210.80,569.50L211.30,570.37L211.80,573.24L212.30,569.32L212.80,569.92L213.30,572.48L213.80,574.36L214.30,572.67L214.80,572.45L215.30,571.63L215.80,571.14L216.30,571.01L216.80,571.66L217.30,573.18L217.80,572.20L218.30,571.87L218.80,572.35L219.30,573.32L219.80,573.08L220.00,569.53L220.30,574.46L220.80,572.30L221.30,574.83L221.80,574.37L222.30,574.83L222.80,576.04L223.30,576.25L223.80,576.25L224.30,576.25L224.80,576.25L225.30,576.25L225.80,576.25L226.30,576.25L226.80,576.25L227.30,576.25L227.80,576.25L228.30,576.25L228.80,576.25L229.30,576.25L229.80,576.25L230.30,576.25L230.80,576.25L230.80,576.25Z" fill="#1a1acc"/>
<line x1="28.30" y1="576.25" x2="236.60" y2="576.25" stroke="#333" stroke-width="0.8"/>
<line x1="236.60" y1="556.25" x2="236.60" y2="594.85" stroke="#333" stroke-width="0.6"/>
<path d="M235.70,557.85 L236.60,555.95 L237.50,557.85 Z" fill="#222"/>
<path d="M235.70,593.25 L236.60,595.15 L237.50,593.25 Z" fill="#222"/>
<text transform="translate(241.00,576.55) rotate(-90)" font-size="6.15" font-weight="normal" text-anchor="middle" dominant-baseline="central" fill="#111" >H3K27 H3K4</text>
<text transform="translate(248.40,577.55) rotate(-90)" font-size="6.5" font-weight="normal" text-anchor="middle" dominant-baseline="central" fill="#111" >AML7</text>
<text transform="translate(26.20,556.55) rotate(-90)" font-size="5.4" text-anchor="middle" dominant-baseline="central" fill="#222">4</text>
<text transform="translate(26.20,565.65) rotate(-90)" font-size="5.4" text-anchor="middle" dominant-baseline="central" fill="#222">2</text>
<text transform="translate(26.20,576.25) rotate(-90)" font-size="5.4" text-anchor="middle" dominant-baseline="central" fill="#222">0</text>
<text transform="translate(26.20,586.85) rotate(-90)" font-size="5.4" text-anchor="middle" dominant-baseline="central" fill="#222">2</text>
<text transform="translate(26.20,595.65) rotate(-90)" font-size="5.4" text-anchor="middle" dominant-baseline="central" fill="#222">4</text>
<path d="M28.30,619.62L28.30,622.16L28.80,621.76L29.30,624.70L29.80,623.93L30.30,626.25L30.80,630.73L30.88,632.59L31.30,635.20L31.80,635.42L32.30,637.22L32.80,642.41L33.30,641.22L33.80,637.16L34.30,641.54L34.73,639.23L34.80,637.72L35.30,640.58L35.80,640.04L36.30,637.54L36.80,641.35L37.30,643.65L37.80,638.46L38.30,642.58L38.80,641.21L39.30,641.67L39.80,640.01L40.30,642.64L40.80,641.64L41.30,639.26L41.80,641.35L42.30,622.18L42.80,621.67L43.30,622.10L43.80,622.18L44.30,622.20L44.80,622.15L45.30,621.87L45.80,622.23L46.30,622.27L46.80,635.60L47.30,641.85L47.80,639.77L48.30,641.35L48.80,641.35L49.30,638.27L49.80,639.99L50.30,636.28L50.80,635.78L51.30,641.35L51.80,640.64L52.30,636.68L52.80,642.52L53.30,636.13L53.80,635.88L54.30,631.00L54.80,625.50L55.30,627.30L55.80,629.94L56.30,636.18L56.80,640.23L57.30,639.39L57.80,637.07L58.30,639.05L58.80,640.15L59.30,643.34L59.80,639.99L60.30,640.53L60.80,640.71L61.30,643.82L61.80,638.99L62.30,644.59L62.80,642.67L63.30,641.86L63.80,639.20L64.30,640.90L64.80,638.88L65.30,639.43L65.80,637.77L66.30,643.02L66.80,642.82L67.30,643.50L67.80,640.88L68.30,638.81L68.80,643.60L69.30,639.62L69.80,639.04L70.30,639.23L70.80,640.22L71.30,638.06L71.80,645.81L72.30,640.15L72.80,639.69L73.30,642.89L73.80,638.93L74.30,637.22L74.80,641.35L75.30,639.11L75.80,642.61L76.30,639.77L76.80,637.66L77.30,638.74L77.80,640.05L78.30,638.36L78.80,641.13L79.30,645.61L79.80,644.45L80.30,638.33L80.80,639.15L81.30,640.45L81.80,635.34L82.30,636.60L82.80,641.35L83.30,637.64L83.80,641.57L84.30,641.84L84.80,638.61L85.30,637.65L85.80,638.46L86.30,636.34L86.80,636.39L87.30,641.13L87.80,635.69L88.30,637.39L88.80,642.25L89.30,638.85L89.80,638.73L90.30,642.67L90.80,641.29L91.30,646.04L91.80,638.83L92.30,639.14L92.80,638.04L93.30,643.66L93.80,641.35L94.30,639.22L94.80,638.50L95.30,644.48L95.80,644.59L96.27,638.95L96.30,642.67L96.80,639.38L97.30,642.26L97.80,634.16L98.30,630.58L98.80,628.21L99.30,624.04L99.80,621.63L100.30,621.78L100.80,622.07L101.08,624.70L101.30,621.91L101.80,621.80L102.30,621.62L102.80,621.99L103.30,621.95L103.80,622.08L104.30,622.30L104.80,640.72L105.30,639.38L105.80,641.65L106.30,644.57L106.80,641.60L107.30,641.40L107.80,641.66L108.30,646.01L108.80,646.33L109.30,642.43L109.80,638.81L110.30,637.90L110.80,638.30L111.30,640.34L111.80,637.22L112.30,639.75L112.80,639.45L113.30,637.84L113.80,635.88L114.30,636.43L114.80,638.31L115.30,640.65L115.80,637.61L116.30,643.50L116.80,642.57L117.30,644.14L117.80,643.92L118.30,641.98L118.80,641.35L119.30,644.40L119.80,644.13L120.30,638.75L120.80,640.05L121.30,640.64L121.80,637.51L122.30,641.00L122.80,638.36L123.30,641.17L123.80,642.01L124.30,639.26L124.80,641.48L125.30,644.64L125.80,645.28L126.30,639.00L126.80,642.20L127.30,640.38L127.80,641.35L128.30,641.68L128.80,635.72L129.30,638.39L129.80,639.64L130.30,637.58L130.80,637.93L131.30,640.26L131.80,635.80L132.30,638.03L132.80,635.54L133.30,636.70L133.80,636.27L134.30,636.49L134.80,638.81L135.00,637.09L135.30,634.83L135.80,637.31L136.30,638.51L136.80,637.44L137.30,636.15L137.80,640.00L138.30,640.41L138.80,639.74L139.30,641.35L139.80,635.95L140.30,641.57L140.80,640.21L141.30,642.13L141.80,641.79L142.30,639.65L142.80,638.71L143.30,640.26L143.80,640.63L144.30,643.31L144.80,642.22L145.30,640.57L145.80,637.81L146.30,639.20L146.80,641.90L147.30,639.60L147.80,639.20L148.30,639.05L148.80,637.23L149.30,641.35L149.80,642.60L150.30,640.70L150.80,641.90L151.30,643.89L151.80,637.68L152.30,644.45L152.80,637.40L153.30,642.67L153.80,639.13L154.30,636.78L154.80,637.25L155.30,638.39L155.80,641.46L156.30,634.60L156.80,622.23L157.30,622.02L157.80,621.69L158.30,621.68L158.80,621.86L159.00,622.12L159.30,622.08L159.80,635.14L160.30,636.87L160.80,639.87L161.30,641.35L161.80,641.30L162.30,637.70L162.80,637.95L163.30,639.97L163.80,641.37L164.30,643.86L164.80,640.87L165.30,638.81L165.80,638.55L166.30,643.59L166.80,639.92L167.30,644.86L167.80,639.73L168.30,644.40L168.80,646.24L169.30,643.96L169.80,644.20L170.30,638.68L170.80,621.77L171.30,622.35L171.80,624.82L172.30,621.74L172.80,621.88L173.30,621.90L173.80,642.49L174.30,645.99L174.80,643.60L175.30,641.02L175.80,644.09L176.30,641.35L176.80,622.30L177.30,621.67L177.80,621.67L178.30,622.07L178.80,621.94L179.30,622.19L179.80,642.48L180.30,643.10L180.80,645.46L181.30,638.58L181.80,641.44L182.30,640.16L182.80,633.71L183.30,628.59L183.80,626.91L184.30,627.62L184.80,634.07L185.30,637.54L185.80,638.46L186.30,642.98L186.80,645.68L187.30,639.28L187.80,640.56L188.30,638.03L188.80,641.50L189.30,641.76L189.80,645.75L190.30,645.53L190.80,645.82L191.30,642.97L191.80,646.11L192.30,644.54L192.80,640.79L193.30,643.47L193.80,641.67L194.30,640.39L194.80,639.89L195.30,639.79L195.80,637.54L196.30,640.86L196.80,639.53L197.30,638.85L197.80,641.25L198.30,643.94L198.80,644.05L199.30,642.46L199.80,643.45L200.30,643.92L200.80,640.15L201.30,644.36L201.80,645.50L202.30,640.74L202.80,643.77L203.30,643.13L203.80,641.59L204.30,643.37L204.80,642.39L205.30,642.76L205.80,638.70L206.30,643.78L206.80,643.09L207.30,646.18L207.80,645.10L208.30,646.62L208.80,645.44L209.30,641.35L209.80,643.66L210.30,641.43L210.80,645.65L211.30,640.91L211.80,641.74L212.30,639.26L212.80,640.99L213.30,642.52L213.80,644.53L214.30,641.35L214.80,639.26L215.30,646.20L215.80,647.43L216.30,639.52L216.80,640.26L217.30,642.55L217.80,639.50L218.30,644.69L218.80,641.95L219.30,642.15L219.80,644.21L220.30,641.67L220.80,638.90L221.30,633.65L221.80,633.33L222.30,629.73L222.80,629.09L223.30,625.10L223.80,624.22L224.30,622.65L224.80,622.27L225.30,621.51L225.80,620.71L226.30,620.32L226.80,619.81L227.30,619.62L227.80,619.62L228.30,619.62L228.80,619.62L229.30,619.62L229.80,619.62L230.30,619.62L230.80,619.62L230.80,619.62Z" fill="#f80e0e" fill-opacity="0.45"/>
<path d="M28.30,619.62L28.30,621.79L28.80,621.71L29.30,621.51L29.80,623.13L30.30,625.59L30.80,629.74L30.88,629.21L31.30,629.71L31.80,635.71L32.30,633.97L32.80,631.43L33.30,634.65L33.80,634.37L34.30,632.51L34.73,620.49L34.80,620.49L35.30,639.92L35.80,620.49L36.30,620.49L36.80,640.01L37.30,620.49L37.80,620.49L38.30,637.14L38.80,620.49L39.30,620.49L39.80,635.34L40.30,637.67L40.80,633.73L41.30,633.39L41.80,632.77L42.30,621.52L42.80,621.28L43.30,621.54L43.80,621.28L44.30,621.31L44.80,621.43L45.30,621.38L45.80,621.27L46.30,621.53L46.80,635.27L47.30,637.22L47.80,620.49L48.30,620.49L48.80,635.28L49.30,636.17L49.80,635.98L50.30,634.41L50.80,632.68L51.30,634.20L51.80,633.61L52.30,633.80L52.80,620.48L53.30,620.38L53.80,632.23L54.30,628.72L54.80,624.01L55.30,625.93L55.80,626.77L56.30,631.24L56.80,635.42L57.30,634.40L57.80,637.11L58.30,637.56L58.80,638.95L59.30,639.23L59.80,620.53L60.30,620.50L60.80,633.44L61.30,634.44L61.80,636.72L62.30,620.57L62.80,620.57L63.30,637.92L63.80,633.02L64.30,637.66L64.80,636.83L65.30,635.61L65.80,638.44L66.30,633.84L66.80,636.17L67.30,635.08L67.80,620.49L68.30,620.49L68.80,633.89L69.30,637.15L69.80,639.53L70.30,635.96L70.80,635.37L71.30,638.53L71.80,635.77L72.30,637.43L72.80,639.60L73.30,639.79L73.80,635.28L74.30,632.41L74.80,634.27L75.30,634.83L75.80,634.46L76.30,638.80L76.80,637.67L77.30,634.58L77.80,637.29L78.30,638.08L78.80,635.70L79.30,638.18L79.80,640.52L80.30,637.11L80.80,637.95L81.30,634.64L81.80,631.59L82.30,633.99L82.80,637.87L83.30,637.79L83.80,639.00L84.30,639.94L84.80,636.83L85.30,633.83L85.80,633.93L86.30,635.82L86.80,633.77L87.30,637.21L87.80,633.34L88.30,636.82L88.80,637.15L89.30,638.12L89.80,636.49L90.30,636.36L90.80,640.23L91.30,641.96L91.80,639.35L92.30,638.73L92.80,638.91L93.30,640.12L93.80,641.27L94.30,637.97L94.80,639.90L95.30,638.07L95.80,634.32L96.27,640.13L96.30,636.74L96.80,638.43L97.30,637.26L97.80,634.25L98.30,629.28L98.80,626.49L99.30,622.79L99.80,621.30L100.30,621.33L100.80,621.20L101.08,621.31L101.30,619.72L101.80,619.72L102.30,621.41L102.80,619.72L103.30,619.72L103.80,621.05L104.30,619.72L104.80,620.40L105.30,636.61L105.80,637.42L106.30,620.55L106.80,620.58L107.30,620.60L107.80,620.63L108.30,634.53L108.80,636.79L109.30,635.79L109.80,638.01L110.30,636.90L110.80,638.58L111.30,638.68L111.80,638.86L112.30,638.51L112.80,637.59L113.30,635.46L113.80,636.84L114.30,633.84L114.80,632.44L115.30,635.86L115.80,620.45L116.30,620.48L116.80,634.19L117.30,620.53L117.80,620.55L118.30,640.97L118.80,637.69L119.30,634.52L119.80,633.05L120.30,633.58L120.80,637.05L121.30,636.07L121.80,632.73L122.30,634.41L122.80,633.87L123.30,632.67L123.80,633.36L124.30,635.70L124.80,640.94L125.30,641.14L125.80,633.53L126.30,636.51L126.80,637.46L127.30,634.40L127.80,636.84L128.30,634.29L128.80,632.97L129.30,635.23L129.80,635.64L130.30,636.89L130.80,637.28L131.30,638.11L131.80,636.97L132.30,634.97L132.80,620.40L133.30,620.39L133.80,635.36L134.30,631.07L134.80,630.79L135.00,630.73L135.30,631.77L135.80,632.56L136.30,632.73L136.80,620.34L137.30,620.35L137.80,635.46L138.30,634.02L138.80,635.14L139.30,633.51L139.80,634.57L140.30,635.52L140.80,637.20L141.30,634.58L141.80,637.26L142.30,639.06L142.80,620.49L143.30,620.50L143.80,620.51L144.30,620.51L144.80,636.41L145.30,636.92L145.80,634.50L146.30,635.17L146.80,632.11L147.30,633.57L147.80,637.00L148.30,635.27L148.80,635.17L149.30,638.06L149.80,632.31L150.30,633.24L150.80,632.18L151.30,635.14L151.80,620.51L152.30,620.51L152.80,638.09L153.30,639.83L153.80,635.22L154.30,633.64L154.80,633.20L155.30,634.75L155.80,635.01L156.30,632.30L156.80,621.47L157.30,621.23L157.80,619.72L158.30,619.72L158.80,621.75L159.00,621.72L159.30,621.34L159.80,632.36L160.30,636.38L160.80,635.59L161.30,639.08L161.80,620.46L162.30,620.48L162.80,635.91L163.30,620.50L163.80,620.51L164.30,637.41L164.80,637.73L165.30,637.49L165.80,640.74L166.30,639.49L166.80,637.09L167.30,641.14L167.80,641.91L168.30,641.60L168.80,639.91L169.30,639.55L169.80,637.54L170.30,635.56L170.80,621.54L171.30,621.49L171.80,619.72L172.30,619.72L172.80,621.54L173.30,621.51L173.80,635.35L174.30,637.49L174.80,635.04L175.30,634.58L175.80,634.60L176.30,634.03L176.80,621.55L177.30,619.72L177.80,619.72L178.30,621.30L178.80,621.26L179.30,621.11L179.80,635.64L180.30,636.05L180.80,638.58L181.30,639.09L181.80,638.02L182.30,633.54L182.80,632.32L183.30,629.20L183.80,625.15L184.30,625.66L184.80,630.50L185.30,635.59L185.80,639.44L186.30,642.17L186.80,638.35L187.30,640.07L187.80,638.10L188.30,640.50L188.80,640.71L189.30,638.79L189.80,640.99L190.30,637.90L190.80,637.88L191.30,641.11L191.80,635.67L192.30,638.94L192.80,639.09L193.30,635.29L193.80,635.60L194.30,636.47L194.80,638.00L195.30,638.14L195.80,635.67L196.30,637.49L196.80,636.40L197.30,620.48L197.80,620.51L198.30,636.95L198.80,635.16L199.30,641.20L199.80,641.73L200.30,640.48L200.80,641.02L201.30,639.34L201.80,634.66L202.30,640.42L202.80,640.83L203.30,638.81L203.80,636.46L204.30,640.31L204.80,637.32L205.30,620.55L205.80,620.56L206.30,638.91L206.80,639.63L207.30,636.71L207.80,635.66L208.30,639.31L208.80,636.31L209.30,635.66L209.80,636.54L210.30,620.56L210.80,620.55L211.30,638.12L211.80,636.75L212.30,638.07L212.80,638.36L213.30,638.16L213.80,633.93L214.30,637.37L214.80,634.74L215.30,620.60L215.80,620.61L216.30,642.28L216.80,641.18L217.30,620.59L217.80,620.57L218.30,638.26L218.80,636.43L219.30,636.61L219.80,639.27L220.30,638.11L220.80,627.94L221.30,626.65L221.80,624.35L222.30,622.99L222.80,620.39L223.30,619.62L223.80,619.62L224.30,619.62L224.80,619.62L225.30,619.62L225.80,619.62L226.30,619.62L226.80,619.62L227.30,619.62L227.80,619.62L228.30,619.62L228.80,619.62L229.30,619.62L229.80,619.62L230.30,619.62L230.80,619.62L230.80,619.62Z" fill="#f80e0e"/>
<path d="M28.30,619.62L28.30,613.56L28.80,613.68L29.30,609.83L29.80,610.79L30.30,600.61L30.80,596.42L30.88,597.00L31.30,610.58L31.80,617.45L32.30,614.78L32.80,617.16L33.30,614.03L33.80,617.33L34.30,615.02L34.73,611.00L34.80,612.20L35.30,614.15L35.80,615.23L36.30,615.52L36.80,615.85L37.30,616.45L37.80,618.08L38.30,615.93L38.80,616.90L39.30,616.38L39.80,616.04L40.30,616.31L40.80,616.72L41.30,614.89L41.80,613.84L42.30,615.11L42.80,613.65L43.30,617.26L43.80,613.83L44.30,612.34L44.80,612.76L45.30,615.04L45.80,616.56L46.30,612.98L46.80,613.32L47.30,616.26L47.80,616.59L48.30,616.60L48.80,614.70L49.30,618.13L49.80,617.98L50.30,617.56L50.80,618.14L51.30,618.26L51.80,618.82L52.30,618.91L52.80,617.58L53.30,613.87L53.80,618.56L54.30,618.42L54.80,615.90L55.30,616.62L55.80,615.02L56.30,614.02L56.80,615.84L57.30,614.19L57.80,615.86L58.30,615.55L58.80,618.11L59.30,617.39L59.80,616.59L60.30,618.31L60.80,617.63L61.30,618.36L61.80,618.65L62.30,618.86L62.80,618.79L63.30,617.27L63.80,618.88L64.30,619.27L64.80,618.87L65.30,618.74L65.80,618.67L66.30,618.41L66.80,618.72L67.30,618.92L67.80,619.07L68.30,617.89L68.80,618.24L69.30,617.97L69.80,617.68L70.30,618.32L70.80,617.58L71.30,615.75L71.80,617.75L72.30,616.74L72.80,617.80L73.30,617.18L73.80,617.67L74.30,616.41L74.80,614.56L75.30,617.29L75.80,616.26L76.30,617.07L76.80,616.64L77.30,617.41L77.80,618.82L78.30,618.63L78.80,616.77L79.30,616.98L79.80,618.71L80.30,617.10L80.80,619.08L81.30,617.76L81.80,618.64L82.30,618.73L82.80,617.96L83.30,617.39L83.80,617.64L84.30,617.09L84.80,616.78L85.30,616.87L85.80,618.45L86.30,618.00L86.80,617.12L87.30,616.64L87.80,616.59L88.30,614.43L88.80,613.58L89.30,615.32L89.80,615.09L90.30,613.77L90.80,617.42L91.30,616.30L91.80,615.38L92.30,612.71L92.80,614.05L93.30,610.35L93.80,613.40L94.30,610.30L94.80,615.49L95.30,609.30L95.80,605.20L96.27,602.39L96.30,604.40L96.80,616.56L97.30,612.69L97.80,608.10L98.30,613.98L98.80,604.86L99.30,599.65L99.80,605.95L100.30,604.51L100.80,614.40L101.08,595.93L101.30,600.71L101.80,608.07L102.30,610.02L102.80,608.03L103.30,613.43L103.80,616.49L104.30,609.46L104.80,599.42L105.30,598.42L105.80,598.42L106.30,607.76L106.80,607.17L107.30,601.14L107.80,604.90L108.30,609.14L108.80,613.42L109.30,608.77L109.80,611.44L110.30,615.94L110.80,616.19L111.30,616.16L111.80,616.74L112.30,617.47L112.80,618.90L113.30,616.41L113.80,618.55L114.30,618.63L114.80,618.27L115.30,616.83L115.80,618.02L116.30,618.88L116.80,617.42L117.30,614.85L117.80,615.28L118.30,617.95L118.80,618.44L119.30,616.17L119.80,614.64L120.30,617.97L120.80,614.75L121.30,611.25L121.80,616.47L122.30,615.74L122.80,615.81L123.30,614.71L123.80,617.23L124.30,618.19L124.80,617.72L125.30,618.41L125.80,617.57L126.30,617.74L126.80,618.66L127.30,616.62L127.80,616.90L128.30,618.86L128.80,618.42L129.30,618.56L129.80,618.15L130.30,617.78L130.80,618.66L131.30,617.79L131.80,617.61L132.30,618.38L132.80,617.70L133.30,617.46L133.80,617.08L134.30,617.48L134.80,611.65L135.00,610.66L135.30,611.69L135.80,614.59L136.30,617.37L136.80,616.44L137.30,618.61L137.80,617.93L138.30,615.69L138.80,618.78L139.30,618.64L139.80,618.67L140.30,618.86L140.80,619.10L141.30,618.95L141.80,618.51L142.30,618.73L142.80,618.56L143.30,618.58L143.80,618.59L144.30,619.18L144.80,618.44L145.30,618.70L145.80,618.01L146.30,617.80L146.80,618.20L147.30,618.44L147.80,619.01L148.30,617.64L148.80,617.58L149.30,617.37L149.80,618.18L150.30,617.56L150.80,618.68L151.30,617.98L151.80,617.23L152.30,617.33L152.80,617.54L153.30,617.50L153.80,617.99L154.30,618.09L154.80,617.48L155.30,615.56L155.80,617.91L156.30,617.72L156.80,616.61L157.30,614.82L157.80,616.84L158.30,614.15L158.80,614.45L159.00,607.30L159.30,614.93L159.80,615.69L160.30,617.68L160.80,617.86L161.30,617.68L161.80,617.69L162.30,617.99L162.80,619.15L163.30,618.46L163.80,617.82L164.30,617.99L164.80,618.03L165.30,616.93L165.80,618.21L166.30,617.06L166.80,618.01L167.30,617.25L167.80,618.62L168.30,618.29L168.80,617.95L169.30,618.07L169.80,618.34L170.30,617.01L170.80,616.28L171.30,612.76L171.80,616.35L172.30,614.87L172.80,616.48L173.30,614.81L173.80,615.48L174.30,617.36L174.80,612.33L175.30,604.93L175.80,610.81L176.30,612.10L176.80,609.81L177.30,609.58L177.80,607.26L178.30,616.85L178.80,611.76L179.30,608.04L179.80,609.19L180.30,612.61L180.80,616.42L181.30,608.79L181.80,616.22L182.30,612.23L182.80,611.65L183.30,611.79L183.80,613.39L184.30,612.66L184.80,616.01L185.30,612.05L185.80,613.81L186.30,608.36L186.80,608.06L187.30,609.26L187.80,613.07L188.30,613.30L188.80,612.25L189.30,614.84L189.80,617.54L190.30,616.51L190.80,617.21L191.30,616.64L191.80,617.00L192.30,617.41L192.80,617.73L193.30,618.84L193.80,617.67L194.30,617.59L194.80,618.09L195.30,618.42L195.80,617.67L196.30,616.97L196.80,616.40L197.30,616.50L197.80,617.68L198.30,617.26L198.80,617.65L199.30,614.27L199.80,617.89L200.30,617.23L200.80,614.57L201.30,617.11L201.80,616.93L202.30,615.80L202.80,615.45L203.30,617.14L203.80,616.48L204.30,616.45L204.80,611.52L205.30,616.66L205.80,611.92L206.30,616.80L206.80,615.52L207.30,616.55L207.80,614.35L208.30,617.03L208.80,616.22L209.30,613.24L209.80,615.03L210.30,615.99L210.80,613.96L211.30,616.77L211.80,615.83L212.30,617.22L212.80,615.26L213.30,614.78L213.80,613.68L214.30,615.53L214.80,611.05L215.30,617.07L215.80,617.10L216.30,615.26L216.80,615.18L217.30,614.95L217.80,617.19L218.30,615.67L218.80,616.18L219.30,615.54L219.80,615.86L220.30,617.20L220.80,616.61L221.30,618.01L221.80,618.19L222.30,618.33L222.80,619.39L223.30,619.62L223.80,619.62L224.30,619.62L224.80,619.62L225.30,619.62L225.80,619.62L226.30,619.62L226.80,619.62L227.30,619.62L227.80,619.62L228.30,619.62L228.80,619.62L229.30,619.62L229.80,619.62L230.30,619.62L230.80,619.62L230.80,619.62Z" fill="#1a1acc"/>
<line x1="28.30" y1="619.62" x2="236.60" y2="619.62" stroke="#333" stroke-width="0.8"/>
<line x1="236.60" y1="599.62" x2="236.60" y2="638.22" stroke="#333" stroke-width="0.6"/>
<path d="M235.70,601.22 L236.60,599.32 L237.50,601.22 Z" fill="#222"/>
<path d="M235.70,636.62 L236.60,638.52 L237.50,636.62 Z" fill="#222"/>
<text transform="translate(241.00,619.92) rotate(-90)" font-size="6.15" font-weight="normal" text-anchor="middle" dominant-baseline="central" fill="#111" >H3K27 H3K4</text>
<text transform="translate(248.40,620.92) rotate(-90)" font-size="6.5" font-weight="normal" text-anchor="middle" dominant-baseline="central" fill="#111" >AML8</text>
<text transform="translate(26.20,599.92) rotate(-90)" font-size="5.4" text-anchor="middle" dominant-baseline="central" fill="#222">4</text>
<text transform="translate(26.20,609.02) rotate(-90)" font-size="5.4" text-anchor="middle" dominant-baseline="central" fill="#222">2</text>
<text transform="translate(26.20,619.62) rotate(-90)" font-size="5.4" text-anchor="middle" dominant-baseline="central" fill="#222">0</text>
<text transform="translate(26.20,630.22) rotate(-90)" font-size="5.4" text-anchor="middle" dominant-baseline="central" fill="#222">2</text>
<text transform="translate(26.20,639.02) rotate(-90)" font-size="5.4" text-anchor="middle" dominant-baseline="central" fill="#222">4</text>
<text transform="translate(14.40,490.80) rotate(-90)" font-size="7.2" font-weight="normal" text-anchor="middle" dominant-baseline="central" fill="#111" >Log2 Enrichment</text>
<rect x="28" y="641.5" width="205" height="8.2" fill="#0a0a0a"/>
<rect x="34.05" y="641.5" width="0.7" height="8.2" fill="#555"/>
<rect x="39.75" y="641.5" width="0.7" height="8.2" fill="#555"/>
<rect x="46.05" y="641.5" width="0.7" height="8.2" fill="#555"/>
<rect x="60.25" y="641.5" width="0.7" height="8.2" fill="#555"/>
<rect x="66.55" y="641.5" width="0.7" height="8.2" fill="#555"/>
<rect x="74.65" y="641.5" width="0.7" height="8.2" fill="#555"/>
<rect x="82.05" y="641.5" width="0.7" height="8.2" fill="#555"/>
<rect x="83.45" y="641.5" width="0.7" height="8.2" fill="#555"/>
<rect x="89.85" y="641.5" width="0.7" height="8.2" fill="#555"/>
<rect x="96.15" y="641.5" width="0.7" height="8.2" fill="#555"/>
<rect x="105.25" y="641.5" width="0.7" height="8.2" fill="#555"/>
<rect x="111.65" y="641.5" width="0.7" height="8.2" fill="#555"/>
<rect x="117.95" y="641.5" width="0.7" height="8.2" fill="#555"/>
<rect x="125.35" y="641.5" width="0.7" height="8.2" fill="#555"/>
<rect x="132.35" y="641.5" width="0.7" height="8.2" fill="#555"/>
<rect x="139.05" y="641.5" width="0.7" height="8.2" fill="#555"/>
<rect x="146.75" y="641.5" width="0.7" height="8.2" fill="#555"/>
<rect x="162.25" y="641.5" width="0.7" height="8.2" fill="#555"/>
<rect x="170.05" y="641.5" width="0.7" height="8.2" fill="#555"/>
<rect x="172.85" y="641.5" width="0.7" height="8.2" fill="#555"/>
<rect x="179.95" y="641.5" width="0.7" height="8.2" fill="#555"/>
<rect x="187.65" y="641.5" width="0.7" height="8.2" fill="#555"/>
<rect x="195.45" y="641.5" width="0.7" height="8.2" fill="#555"/>
<rect x="203.15" y="641.5" width="0.7" height="8.2" fill="#555"/>
<rect x="207.65" y="641.5" width="0.7" height="8.2" fill="#555"/>
<rect x="216.45" y="641.5" width="0.7" height="8.2" fill="#555"/>
<rect x="220.25" y="641.5" width="0.7" height="8.2" fill="#555"/>
<rect x="225.35" y="641.5" width="0.7" height="8.2" fill="#555"/>
<rect x="226.85" y="641.5" width="0.7" height="8.2" fill="#555"/>
<rect x="229.75" y="641.5" width="0.7" height="8.2" fill="#555"/>
<rect x="52.20" y="641.5" width="1.2" height="8.2" fill="#ddd"/>
<rect x="158.70" y="641.5" width="1.2" height="8.2" fill="#ddd"/>
<text transform="translate(240.60,651.20) rotate(-90)" font-size="6.3" font-weight="normal" text-anchor="middle" dominant-baseline="central" fill="#111" >Probes</text>
<line x1="27.8" y1="655" x2="233" y2="655" stroke="#333" stroke-width="0.7"/>
<line x1="27.8" y1="653.3" x2="27.8" y2="657" stroke="#333" stroke-width="0.7"/>
<line x1="233" y1="653.3" x2="233" y2="657" stroke="#333" stroke-width="0.7"/>
<rect x="127.5" y="651" width="21.5" height="8" fill="#fff"/>
<text x="138.3" y="657.8" font-size="6.8" text-anchor="middle" fill="#222">50 Kb</text>
<rect x="42.5" y="666.7" width="3.8" height="9.5" fill="#d9a21b"/>
<rect x="55" y="666.5" width="14.5" height="9.7" fill="#d9a21b"/>
<path d="M46.3,667 L50.5,664.3 L55,667" fill="none" stroke="#444" stroke-width="0.6"/>
<path d="M43,666.7 V660.6 H49.5" fill="none" stroke="#222" stroke-width="0.7"/>
<path d="M48.8,659.1 L51.6,660.6 L48.8,662.1 Z" fill="#111"/>
<text x="53.6" y="684.6" font-size="7" text-anchor="middle" fill="#222">p15INK4b</text>
<rect x="103.7" y="666.6" width="12.5" height="9.3" fill="#6b9be8"/>
<path d="M104.2,666.6 V660.6 H109.5" fill="none" stroke="#222" stroke-width="0.7"/>
<path d="M108.8,659.1 L111.6,660.6 L108.8,662.1 Z" fill="#111"/>
<path d="M116.2,666.6 L120.5,663.2 L192,664.8 L198.3,666.4" fill="none" stroke="#444" stroke-width="0.6"/>
<text x="107.2" y="684.4" font-size="7" text-anchor="middle" fill="#222">p14ARF</text>
<rect x="183.8" y="677.5" width="2.4" height="9.8" fill="#93c832"/>
<path d="M183.4,677.5 V671.7 H189.5" fill="none" stroke="#222" stroke-width="0.7"/>
<path d="M188.8,670.2 L191.6,671.7 L188.8,673.2 Z" fill="#111"/>
<path d="M186.2,687.3 L191.9,689.5 L198.3,687.3" fill="none" stroke="#444" stroke-width="0.6"/>
<rect x="198.3" y="666" width="2.7" height="10.9" fill="#6b9be8"/>
<rect x="198.3" y="676.9" width="2.7" height="10.4" fill="#93c832"/>
<path d="M201,666 L204.2,663.9 L207.5,666 M201,687.3 L204.2,689.5 L207.5,687.3" fill="none" stroke="#444" stroke-width="0.6"/>
<rect x="207.5" y="666" width="2.9" height="10.9" fill="#6b9be8"/>
<rect x="207.5" y="676.9" width="2.9" height="10.4" fill="#93c832"/>
<text x="165.2" y="683.8" font-size="7" text-anchor="middle" fill="#222">p16INK4a</text>
<text x="264.2" y="335.2" font-size="10.5" font-weight="bold">E</text>
<line x1="284.00" y1="377.40" x2="496.00" y2="377.40" stroke="#dedede" stroke-width="0.6"/>
<line x1="284.00" y1="371.90" x2="496.00" y2="371.90" stroke="#dedede" stroke-width="0.6"/>
<line x1="284.00" y1="366.40" x2="496.00" y2="366.40" stroke="#dedede" stroke-width="0.6"/>
<line x1="284.00" y1="360.90" x2="496.00" y2="360.90" stroke="#dedede" stroke-width="0.6"/>
<line x1="284.00" y1="349.90" x2="496.00" y2="349.90" stroke="#dedede" stroke-width="0.6"/>
<line x1="284.00" y1="344.40" x2="496.00" y2="344.40" stroke="#dedede" stroke-width="0.6"/>
<line x1="284.00" y1="338.90" x2="496.00" y2="338.90" stroke="#dedede" stroke-width="0.6"/>
<line x1="284.00" y1="333.40" x2="496.00" y2="333.40" stroke="#dedede" stroke-width="0.6"/>
<line x1="284.00" y1="422.48" x2="496.00" y2="422.48" stroke="#dedede" stroke-width="0.6"/>
<line x1="284.00" y1="416.98" x2="496.00" y2="416.98" stroke="#dedede" stroke-width="0.6"/>
<line x1="284.00" y1="411.48" x2="496.00" y2="411.48" stroke="#dedede" stroke-width="0.6"/>
<line x1="284.00" y1="405.98" x2="496.00" y2="405.98" stroke="#dedede" stroke-width="0.6"/>
<line x1="284.00" y1="394.98" x2="496.00" y2="394.98" stroke="#dedede" stroke-width="0.6"/>
<line x1="284.00" y1="389.48" x2="496.00" y2="389.48" stroke="#dedede" stroke-width="0.6"/>
<line x1="284.00" y1="383.98" x2="496.00" y2="383.98" stroke="#dedede" stroke-width="0.6"/>
<line x1="284.00" y1="378.48" x2="496.00" y2="378.48" stroke="#dedede" stroke-width="0.6"/>
<line x1="284.00" y1="467.56" x2="496.00" y2="467.56" stroke="#dedede" stroke-width="0.6"/>
<line x1="284.00" y1="462.06" x2="496.00" y2="462.06" stroke="#dedede" stroke-width="0.6"/>
<line x1="284.00" y1="456.56" x2="496.00" y2="456.56" stroke="#dedede" stroke-width="0.6"/>
<line x1="284.00" y1="451.06" x2="496.00" y2="451.06" stroke="#dedede" stroke-width="0.6"/>
<line x1="284.00" y1="440.06" x2="496.00" y2="440.06" stroke="#dedede" stroke-width="0.6"/>
<line x1="284.00" y1="434.56" x2="496.00" y2="434.56" stroke="#dedede" stroke-width="0.6"/>
<line x1="284.00" y1="429.06" x2="496.00" y2="429.06" stroke="#dedede" stroke-width="0.6"/>
<line x1="284.00" y1="423.56" x2="496.00" y2="423.56" stroke="#dedede" stroke-width="0.6"/>
<line x1="284.00" y1="512.64" x2="496.00" y2="512.64" stroke="#dedede" stroke-width="0.6"/>
<line x1="284.00" y1="507.14" x2="496.00" y2="507.14" stroke="#dedede" stroke-width="0.6"/>
<line x1="284.00" y1="501.64" x2="496.00" y2="501.64" stroke="#dedede" stroke-width="0.6"/>
<line x1="284.00" y1="496.14" x2="496.00" y2="496.14" stroke="#dedede" stroke-width="0.6"/>
<line x1="284.00" y1="485.14" x2="496.00" y2="485.14" stroke="#dedede" stroke-width="0.6"/>
<line x1="284.00" y1="479.64" x2="496.00" y2="479.64" stroke="#dedede" stroke-width="0.6"/>
<line x1="284.00" y1="474.14" x2="496.00" y2="474.14" stroke="#dedede" stroke-width="0.6"/>
<line x1="284.00" y1="468.64" x2="496.00" y2="468.64" stroke="#dedede" stroke-width="0.6"/>
<line x1="284.00" y1="557.72" x2="496.00" y2="557.72" stroke="#dedede" stroke-width="0.6"/>
<line x1="284.00" y1="552.22" x2="496.00" y2="552.22" stroke="#dedede" stroke-width="0.6"/>
<line x1="284.00" y1="546.72" x2="496.00" y2="546.72" stroke="#dedede" stroke-width="0.6"/>
<line x1="284.00" y1="541.22" x2="496.00" y2="541.22" stroke="#dedede" stroke-width="0.6"/>
<line x1="284.00" y1="530.22" x2="496.00" y2="530.22" stroke="#dedede" stroke-width="0.6"/>
<line x1="284.00" y1="524.72" x2="496.00" y2="524.72" stroke="#dedede" stroke-width="0.6"/>
<line x1="284.00" y1="519.22" x2="496.00" y2="519.22" stroke="#dedede" stroke-width="0.6"/>
<line x1="284.00" y1="513.72" x2="496.00" y2="513.72" stroke="#dedede" stroke-width="0.6"/>
<line x1="284.00" y1="602.80" x2="496.00" y2="602.80" stroke="#dedede" stroke-width="0.6"/>
<line x1="284.00" y1="597.30" x2="496.00" y2="597.30" stroke="#dedede" stroke-width="0.6"/>
<line x1="284.00" y1="591.80" x2="496.00" y2="591.80" stroke="#dedede" stroke-width="0.6"/>
<line x1="284.00" y1="586.30" x2="496.00" y2="586.30" stroke="#dedede" stroke-width="0.6"/>
<line x1="284.00" y1="575.30" x2="496.00" y2="575.30" stroke="#dedede" stroke-width="0.6"/>
<line x1="284.00" y1="569.80" x2="496.00" y2="569.80" stroke="#dedede" stroke-width="0.6"/>
<line x1="284.00" y1="564.30" x2="496.00" y2="564.30" stroke="#dedede" stroke-width="0.6"/>
<line x1="284.00" y1="558.80" x2="496.00" y2="558.80" stroke="#dedede" stroke-width="0.6"/>
<line x1="284.00" y1="647.88" x2="496.00" y2="647.88" stroke="#dedede" stroke-width="0.6"/>
<line x1="284.00" y1="642.38" x2="496.00" y2="642.38" stroke="#dedede" stroke-width="0.6"/>
<line x1="284.00" y1="636.88" x2="496.00" y2="636.88" stroke="#dedede" stroke-width="0.6"/>
<line x1="284.00" y1="631.38" x2="496.00" y2="631.38" stroke="#dedede" stroke-width="0.6"/>
<line x1="284.00" y1="620.38" x2="496.00" y2="620.38" stroke="#dedede" stroke-width="0.6"/>
<line x1="284.00" y1="614.88" x2="496.00" y2="614.88" stroke="#dedede" stroke-width="0.6"/>
<line x1="284.00" y1="609.38" x2="496.00" y2="609.38" stroke="#dedede" stroke-width="0.6"/>
<line x1="284.00" y1="603.88" x2="496.00" y2="603.88" stroke="#dedede" stroke-width="0.6"/>
<line x1="496.00" y1="332.90" x2="496.00" y2="648.38" stroke="#9a9a9a" stroke-width="0.9"/>
<path d="M284.00,355.40L284.00,359.00L284.50,356.76L285.00,357.08L285.50,357.21L286.00,357.63L286.50,357.81L287.00,357.41L287.50,360.93L288.00,361.49L288.50,364.06L289.00,364.32L289.50,364.64L290.00,365.96L290.50,366.53L291.00,368.51L291.50,367.37L292.00,368.70L292.50,366.31L293.00,357.52L293.50,357.73L294.00,357.87L294.50,357.27L295.00,357.27L295.50,356.92L296.00,356.54L296.50,356.86L297.00,357.13L297.50,357.48L298.00,357.77L298.50,357.85L299.00,357.68L299.50,361.08L300.00,361.21L300.50,362.25L301.00,362.45L301.50,364.70L302.00,364.61L302.50,364.17L303.00,363.02L303.50,362.21L304.00,362.81L304.50,361.54L305.00,360.97L305.50,360.01L306.00,359.98L306.50,359.76L307.00,356.58L307.50,356.57L308.00,356.49L308.50,356.47L309.00,359.00L309.50,377.56L310.00,377.56L310.50,372.33L311.00,372.32L311.50,375.68L312.00,373.93L312.50,375.59L313.00,374.47L313.50,372.13L314.00,370.01L314.50,370.13L315.00,371.49L315.50,369.83L316.00,369.74L316.50,371.93L317.00,371.77L317.50,376.27L318.00,378.03L318.50,375.85L319.00,375.72L319.50,372.71L320.00,374.27L320.50,371.51L321.00,369.50L321.50,370.83L322.00,368.34L322.50,366.53L323.00,373.40L323.50,365.07L324.00,364.61L324.50,365.76L325.00,371.80L325.50,366.27L326.00,367.13L326.50,367.93L327.00,366.58L327.50,369.33L328.00,367.65L328.50,368.76L329.00,370.93L329.50,371.35L330.00,370.92L330.50,370.02L331.00,373.95L331.50,373.24L332.00,374.57L332.50,373.84L333.00,372.80L333.50,370.74L334.00,369.48L334.50,368.30L335.00,367.29L335.50,366.03L336.00,365.76L336.50,374.20L337.00,369.11L337.50,369.55L338.00,368.91L338.50,366.02L339.00,366.32L339.50,363.29L340.00,362.52L340.50,362.01L341.00,356.54L341.50,356.63L342.00,356.41L342.50,356.56L343.00,356.58L343.50,356.64L344.00,356.61L344.50,356.63L345.00,356.53L345.50,356.53L346.00,356.46L346.50,356.52L347.00,356.59L347.50,356.64L348.00,356.41L348.50,356.93L349.00,357.25L349.50,357.29L350.00,357.42L350.50,357.16L351.00,356.96L351.50,356.79L352.00,356.63L352.50,356.47L353.00,359.00L353.50,356.52L354.00,356.64L354.50,356.47L355.00,356.52L355.50,364.96L356.00,371.80L356.50,368.15L357.00,368.58L357.50,369.29L358.00,370.35L358.50,372.12L359.00,370.47L359.50,373.03L360.00,374.19L360.50,377.95L361.00,379.11L361.50,379.38L362.00,378.95L362.50,377.81L363.00,373.98L363.50,375.41L364.00,375.20L364.50,373.39L365.00,370.07L365.50,371.58L366.00,368.02L366.50,367.98L367.00,369.00L367.50,369.64L368.00,370.06L368.50,372.54L369.00,371.42L369.50,374.20L370.00,373.08L370.50,371.67L371.00,371.45L371.50,370.38L372.00,368.67L372.50,369.57L373.00,371.01L373.50,372.92L374.00,375.07L374.50,372.30L375.00,370.59L375.50,371.42L376.00,376.60L376.50,367.14L377.00,357.48L377.50,357.70L378.00,357.44L378.50,360.20L379.00,357.02L379.50,359.40L380.00,356.62L380.50,356.60L381.00,356.62L381.50,373.60L382.00,374.34L382.50,374.19L383.00,375.83L383.50,373.63L384.00,372.12L384.50,371.95L385.00,370.83L385.50,369.93L386.00,370.29L386.50,367.00L387.00,367.15L387.50,366.68L388.00,365.69L388.50,371.37L389.00,369.23L389.50,371.24L390.00,372.43L390.50,368.98L391.00,367.76L391.50,365.16L392.00,363.43L392.50,362.14L393.00,357.54L393.50,357.98L394.00,360.73L394.50,357.40L395.00,357.28L395.50,357.19L396.00,356.61L396.50,356.67L397.00,356.54L397.50,359.06L398.00,356.67L398.50,356.45L399.00,356.60L399.50,356.63L400.00,359.80L400.50,359.81L401.00,362.76L401.50,364.89L402.00,366.76L402.50,370.02L403.00,369.46L403.50,370.42L404.00,369.83L404.50,371.80L405.00,372.51L405.50,371.32L406.00,368.62L406.50,368.50L407.00,366.91L407.50,369.31L408.00,377.95L408.50,371.32L409.00,371.64L409.50,371.14L410.00,371.52L410.50,370.76L411.00,368.47L411.50,375.34L412.00,367.12L412.50,365.69L413.00,365.78L413.50,366.84L414.00,366.50L414.50,366.88L415.00,369.81L415.50,370.03L416.00,371.61L416.50,371.94L417.00,372.10L417.50,377.95L418.00,372.22L418.50,371.01L419.00,368.61L419.50,369.31L420.00,370.83L420.50,371.26L421.00,371.65L421.50,373.30L422.00,371.67L422.50,370.34L423.00,369.85L423.50,368.82L424.00,371.81L424.50,372.01L425.00,371.78L425.50,371.96L426.00,377.95L426.50,371.63L427.00,373.94L427.50,372.81L428.00,373.64L428.50,370.36L429.00,368.44L429.50,365.56L430.00,364.59L430.50,363.05L431.00,361.26L431.50,360.07L432.00,361.66L432.50,368.09L433.00,364.21L433.50,372.89L434.00,367.28L434.50,366.91L435.00,369.03L435.50,368.73L436.00,369.38L436.50,369.31L436.86,369.48L437.00,368.37L437.50,367.08L438.00,366.15L438.50,367.81L439.00,368.98L439.50,370.13L440.00,377.40L440.50,368.57L441.00,371.72L441.50,371.86L442.00,372.24L442.50,371.40L443.00,372.08L443.50,368.83L444.00,368.24L444.50,370.03L445.00,371.77L445.50,372.79L446.00,373.37L446.50,375.11L447.00,373.45L447.50,377.95L448.00,374.14L448.50,376.25L449.00,372.26L449.50,370.89L450.00,372.18L450.50,368.97L451.00,368.38L451.50,373.74L452.00,365.42L452.50,363.98L453.00,365.95L453.50,366.20L454.00,365.69L454.50,368.22L455.00,366.22L455.50,365.02L456.00,364.38L456.50,363.90L457.00,364.02L457.50,364.26L458.00,363.29L458.50,363.12L459.00,363.93L459.50,364.43L460.00,366.11L460.50,367.05L461.00,368.00L461.50,369.22L462.00,368.39L462.50,369.40L463.00,368.81L463.50,368.78L464.00,372.12L464.50,370.39L465.00,370.76L465.50,371.04L466.00,369.41L466.50,370.60L467.00,370.00L467.50,369.32L468.00,368.01L468.50,366.89L469.00,368.25L469.50,366.83L470.00,366.08L470.50,364.99L471.00,364.39L471.50,364.15L472.00,372.05L472.50,365.99L473.00,367.89L473.50,367.41L474.00,367.12L474.50,366.09L475.00,365.64L475.50,364.32L476.00,366.51L476.50,366.86L477.00,366.58L477.50,367.10L478.00,367.58L478.50,365.84L479.00,364.98L479.50,364.66L480.00,363.30L480.50,364.44L481.00,363.35L481.50,362.30L482.00,363.39L482.50,363.32L483.00,364.26L483.50,364.91L484.00,364.95L484.50,366.24L485.00,367.31L485.50,366.05L486.00,365.82L486.50,366.76L487.00,366.78L487.50,365.79L488.00,370.37L488.50,363.60L489.00,362.78L489.50,367.97L490.00,361.88L490.50,361.36L491.00,360.66L491.50,360.76L492.00,360.17L492.50,360.44L493.00,359.79L493.50,360.44L494.00,360.38L494.50,359.29L495.00,357.54L495.00,355.40Z" fill="#f80e0e" fill-opacity="0.45"/>
<path d="M284.00,355.40L284.00,356.37L284.50,356.74L285.00,356.67L285.50,357.10L286.00,357.34L286.50,357.25L287.00,357.16L287.50,355.67L288.00,355.67L288.50,361.54L289.00,362.83L289.50,355.85L290.00,355.90L290.50,364.91L291.00,364.48L291.50,365.74L292.00,366.65L292.50,365.60L293.00,357.44L293.50,357.37L294.00,357.28L294.50,357.24L295.00,357.01L295.50,356.70L296.00,356.41L296.50,356.64L297.00,356.83L297.50,357.31L298.00,357.52L298.50,357.31L299.00,357.23L299.50,360.31L300.00,361.02L300.50,361.63L301.00,362.85L301.50,362.42L302.00,362.59L302.50,362.48L303.00,361.55L303.50,361.88L304.00,361.87L304.50,355.67L305.00,355.65L305.50,355.62L306.00,355.60L306.50,359.33L307.00,356.43L307.50,356.37L308.00,356.28L308.50,356.30L309.00,356.24L309.50,367.11L310.00,368.50L310.50,370.77L311.00,372.89L311.50,372.08L312.00,375.13L312.50,371.17L313.00,371.12L313.50,368.70L314.00,368.95L314.50,367.59L315.00,367.18L315.50,367.30L316.00,366.29L316.50,367.94L317.00,369.72L317.50,372.61L318.00,375.70L318.50,372.14L319.00,370.60L319.50,373.32L320.00,373.60L320.50,371.59L321.00,370.46L321.50,367.29L322.00,368.27L322.50,366.96L323.00,366.11L323.50,365.51L324.00,362.73L324.50,363.25L325.00,363.47L325.50,364.02L326.00,364.65L326.50,364.64L327.00,364.54L327.50,364.94L328.00,356.00L328.50,356.02L329.00,366.66L329.50,356.07L330.00,356.10L330.50,371.13L331.00,370.64L331.50,370.62L332.00,356.20L332.50,356.15L333.00,370.98L333.50,368.12L334.00,367.35L334.50,367.69L335.00,364.91L335.50,365.75L336.00,365.70L336.50,365.84L337.00,367.34L337.50,355.97L338.00,356.00L338.50,366.03L339.00,355.85L339.50,355.77L340.00,361.35L340.50,360.13L341.00,356.33L341.50,355.45L342.00,355.45L342.50,356.31L343.00,356.37L343.50,356.28L344.00,356.38L344.50,356.34L345.00,356.38L345.50,356.48L346.00,356.42L346.50,356.39L347.00,356.45L347.50,356.29L348.00,356.53L348.50,356.83L349.00,356.97L349.50,357.40L350.00,357.26L350.50,357.04L351.00,356.87L351.50,356.60L352.00,356.32L352.50,356.34L353.00,356.41L353.50,356.44L354.00,356.44L354.50,356.36L355.00,356.32L355.50,364.73L356.00,365.11L356.50,364.85L357.00,367.32L357.50,366.42L358.00,367.39L358.50,366.95L359.00,370.44L359.50,371.69L360.00,373.42L360.50,373.16L361.00,375.69L361.50,356.38L362.00,356.40L362.50,374.27L363.00,373.22L363.50,371.22L364.00,369.55L364.50,367.99L365.00,368.91L365.50,356.05L366.00,356.00L366.50,368.07L367.00,369.51L367.50,367.98L368.00,368.37L368.50,368.05L369.00,370.57L369.50,371.71L370.00,371.05L370.50,371.51L371.00,370.24L371.50,368.34L372.00,367.59L372.50,356.07L373.00,356.15L373.50,372.36L374.00,373.49L374.50,372.25L375.00,371.27L375.50,368.91L376.00,366.21L376.50,364.57L377.00,357.32L377.50,357.23L378.00,357.26L378.50,357.22L379.00,357.02L379.50,356.67L380.00,356.50L380.50,356.35L381.00,356.32L381.50,373.68L382.00,373.23L382.50,371.93L383.00,371.40L383.50,369.36L384.00,369.47L384.50,367.15L385.00,366.84L385.50,365.72L386.00,367.46L386.50,366.86L387.00,364.39L387.50,365.43L388.00,364.79L388.50,368.03L389.00,370.45L389.50,369.64L390.00,371.59L390.50,368.00L391.00,366.57L391.50,365.22L392.00,363.00L392.50,360.89L393.00,357.21L393.50,357.23L394.00,357.47L394.50,357.40L395.00,357.04L395.50,357.02L396.00,356.76L396.50,356.46L397.00,356.42L397.50,356.28L398.00,356.28L398.50,356.33L399.00,356.43L399.50,356.34L400.00,359.45L400.50,359.68L401.00,362.08L401.50,363.86L402.00,366.53L402.50,367.85L403.00,367.73L403.50,368.52L404.00,369.37L404.50,370.73L405.00,370.64L405.50,369.18L406.00,368.14L406.50,366.40L407.00,365.15L407.50,366.60L408.00,367.73L408.50,371.52L409.00,356.21L409.50,356.16L410.00,368.00L410.50,368.53L411.00,356.01L411.50,355.96L412.00,366.76L412.50,365.89L413.00,363.67L413.50,364.02L414.00,364.90L414.50,367.20L415.00,367.83L415.50,369.04L416.00,368.38L416.50,368.75L417.00,356.12L417.50,356.11L418.00,369.80L418.50,369.44L419.00,368.84L419.50,368.26L420.00,369.42L420.50,368.01L421.00,369.51L421.50,369.73L422.00,367.89L422.50,367.43L423.00,368.79L423.50,368.46L424.00,356.06L424.50,356.08L425.00,369.65L425.50,370.03L426.00,370.59L426.50,371.89L427.00,372.24L427.50,373.95L428.00,369.67L428.50,367.32L429.00,364.85L429.50,363.39L430.00,361.72L430.50,361.58L431.00,360.71L431.50,359.61L432.00,360.85L432.50,362.38L433.00,362.89L433.50,355.88L434.00,355.93L434.50,365.99L435.00,367.15L435.50,366.73L436.00,367.38L436.50,367.45L436.86,366.96L437.00,365.15L437.50,366.07L438.00,366.28L438.50,366.61L439.00,366.85L439.50,367.56L440.00,366.63L440.50,356.05L441.00,356.07L441.50,367.66L442.00,367.66L442.50,368.75L443.00,369.12L443.50,367.12L444.00,367.61L444.50,366.94L445.00,368.49L445.50,369.54L446.00,372.09L446.50,373.21L447.00,371.24L447.50,370.84L448.00,356.32L448.50,356.30L449.00,371.29L449.50,369.16L450.00,367.15L450.50,366.29L451.00,367.61L451.50,366.79L452.00,365.43L452.50,363.58L453.00,364.57L453.50,365.47L454.00,365.75L454.50,365.24L455.00,365.54L455.50,364.76L456.00,364.55L456.50,364.14L457.00,363.86L457.50,362.80L458.00,362.08L458.50,361.59L459.00,362.01L459.50,364.12L460.00,365.09L460.50,365.76L461.00,365.53L461.50,367.40L462.00,365.50L462.50,356.01L463.00,356.03L463.50,356.06L464.00,356.08L464.50,369.93L465.00,370.36L465.50,370.13L466.00,369.04L466.50,367.17L467.00,367.92L467.50,366.84L468.00,367.35L468.50,366.06L469.00,365.68L469.50,365.24L470.00,365.22L470.50,363.98L471.00,364.22L471.50,363.63L472.00,364.07L472.50,363.50L473.00,363.67L473.50,364.75L474.00,365.25L474.50,364.66L475.00,363.43L475.50,364.09L476.00,365.21L476.50,364.93L477.00,365.78L477.50,365.19L478.00,363.90L478.50,364.31L479.00,363.87L479.50,363.80L480.00,363.44L480.50,362.30L481.00,361.90L481.50,361.36L482.00,355.73L482.50,355.76L483.00,363.37L483.50,363.66L484.00,364.44L484.50,363.97L485.00,364.76L485.50,364.80L486.00,365.84L486.50,364.85L487.00,364.35L487.50,364.84L488.00,362.89L488.50,363.29L489.00,361.99L489.50,361.82L490.00,361.82L490.50,361.60L491.00,360.96L491.50,359.91L492.00,359.26L492.50,359.69L493.00,355.61L493.50,355.61L494.00,359.54L494.50,359.13L495.00,357.50L495.00,355.40Z" fill="#f80e0e"/>
<path d="M284.00,355.40L284.00,355.40L284.50,355.40L285.00,355.40L285.50,355.40L286.00,355.40L286.50,355.40L287.00,354.40L287.50,355.40L288.00,355.40L288.50,355.14L289.00,353.67L289.50,354.61L290.00,354.65L290.50,354.59L291.00,353.93L291.50,354.02L292.00,354.27L292.50,353.91L293.00,352.50L293.50,353.06L294.00,352.54L294.50,350.77L295.00,345.69L295.50,338.98L296.00,335.29L296.50,336.98L297.00,333.57L297.50,344.12L298.00,353.43L298.50,353.84L299.00,354.13L299.50,354.08L300.00,354.58L300.50,354.34L301.00,351.48L301.50,353.44L302.00,352.25L302.50,352.06L303.00,349.43L303.50,350.39L304.00,352.40L304.50,352.19L305.00,353.77L305.50,353.56L306.00,354.54L306.50,354.48L307.00,354.58L307.50,354.67L308.00,354.43L308.50,354.48L309.00,354.52L309.50,354.67L310.00,354.57L310.50,352.86L311.00,350.80L311.50,351.37L312.00,348.16L312.50,346.22L313.00,345.95L313.50,348.67L314.00,351.61L314.50,351.53L315.00,350.97L315.50,349.76L316.00,350.04L316.50,350.41L317.00,350.50L317.50,350.67L318.00,349.12L318.50,350.20L319.00,348.16L319.50,345.98L320.00,346.52L320.50,348.30L321.00,349.27L321.50,346.73L322.00,347.78L322.50,349.99L323.00,348.88L323.50,349.62L324.00,349.93L324.50,349.06L325.00,344.97L325.50,349.66L326.00,350.74L326.50,348.18L327.00,350.03L327.50,349.41L328.00,349.87L328.50,346.57L329.00,347.91L329.50,349.83L330.00,348.06L330.50,349.31L331.00,345.40L331.50,348.27L332.00,347.33L332.50,347.21L333.00,347.08L333.50,347.74L334.00,340.10L334.50,346.47L335.00,342.94L335.50,347.49L336.00,346.24L336.50,347.05L337.00,342.92L337.50,343.36L338.00,343.99L338.50,347.01L339.00,344.85L339.50,343.88L340.00,341.70L340.50,345.13L341.00,345.08L341.50,344.01L342.00,346.84L342.50,345.62L343.00,347.07L343.50,346.44L344.00,347.80L344.50,347.16L345.00,344.70L345.50,345.25L346.00,343.83L346.50,343.30L347.00,345.51L347.50,342.76L348.00,342.95L348.50,342.21L349.00,342.16L349.50,341.86L350.00,344.60L350.50,347.99L351.00,344.78L351.50,345.56L352.00,346.18L352.50,342.59L353.00,347.45L353.50,340.65L354.00,341.87L354.50,344.27L355.00,339.84L355.50,343.80L356.00,341.87L356.50,340.02L357.00,342.59L357.50,342.04L358.00,338.36L358.50,337.48L359.00,338.57L359.50,338.43L360.00,339.70L360.50,339.16L361.00,338.81L361.50,339.54L362.00,338.48L362.50,342.57L363.00,340.48L363.50,345.12L364.00,345.01L364.50,345.90L365.00,349.83L365.50,352.20L366.00,354.67L366.50,354.64L367.00,354.60L367.50,354.39L368.00,354.44L368.50,352.47L369.00,353.80L369.50,354.20L370.00,353.29L370.50,353.30L371.00,353.82L371.50,353.99L372.00,354.12L372.50,353.02L373.00,352.42L373.50,351.87L374.00,351.73L374.50,352.96L375.00,351.17L375.50,354.15L376.00,354.39L376.50,354.62L377.00,354.48L377.50,354.51L378.00,354.49L378.50,354.03L379.00,353.94L379.50,353.80L380.00,353.78L380.50,353.63L381.00,353.75L381.50,352.92L382.00,350.23L382.50,353.25L383.00,353.37L383.50,354.43L384.00,354.70L384.50,354.39L385.00,354.35L385.50,354.59L386.00,354.38L386.50,354.66L387.00,352.89L387.50,354.35L388.00,354.32L388.50,354.50L389.00,354.14L389.50,353.88L390.00,353.92L390.50,353.46L391.00,352.31L391.50,352.17L392.00,351.02L392.50,352.62L393.00,352.22L393.50,351.13L394.00,347.33L394.50,350.70L395.00,348.35L395.50,350.81L396.00,344.30L396.50,348.99L397.00,348.27L397.50,349.76L398.00,348.87L398.50,348.56L399.00,349.15L399.50,350.70L400.00,345.31L400.50,350.77L401.00,346.03L401.50,351.75L402.00,350.75L402.50,352.05L403.00,352.87L403.50,350.97L404.00,350.94L404.50,350.37L405.00,351.15L405.50,349.11L406.00,345.32L406.50,346.84L407.00,347.31L407.50,345.29L408.00,348.38L408.50,349.44L409.00,351.76L409.50,352.32L410.00,352.36L410.50,353.28L411.00,353.20L411.50,352.70L412.00,352.64L412.50,352.42L413.00,352.01L413.50,352.71L414.00,352.66L414.50,352.45L415.00,352.48L415.50,353.07L416.00,353.39L416.50,353.18L417.00,353.99L417.50,353.58L418.00,353.92L418.50,353.42L419.00,353.83L419.50,354.02L420.00,353.53L420.50,353.96L421.00,353.20L421.50,353.22L422.00,353.60L422.50,353.77L423.00,353.20L423.50,353.32L424.00,353.96L424.50,353.44L425.00,353.97L425.50,353.68L426.00,352.72L426.50,350.26L427.00,352.86L427.50,351.72L428.00,351.92L428.50,352.59L429.00,353.56L429.50,354.27L430.00,354.50L430.50,354.48L431.00,354.45L431.50,354.31L432.00,354.30L432.50,354.37L433.00,354.54L433.50,352.93L434.00,353.99L434.50,353.28L435.00,352.02L435.50,350.58L436.00,349.50L436.50,348.51L436.86,346.04L437.00,347.49L437.50,351.46L438.00,353.99L438.50,353.01L439.00,353.40L439.50,349.85L440.00,351.58L440.50,352.04L441.00,350.81L441.50,350.26L442.00,350.21L442.50,352.27L443.00,349.55L443.50,353.89L444.00,354.28L444.50,354.61L445.00,354.37L445.50,354.57L446.00,352.56L446.50,354.34L447.00,352.54L447.50,353.99L448.00,354.26L448.50,353.64L449.00,353.91L449.50,353.99L450.00,353.99L450.50,353.77L451.00,353.78L451.50,353.95L452.00,354.28L452.50,354.34L453.00,354.64L453.50,354.65L454.00,354.49L454.50,354.51L455.00,354.51L455.50,354.65L456.00,354.70L456.50,354.38L457.00,354.62L457.50,354.42L458.00,354.61L458.50,354.76L459.00,354.11L459.50,353.72L460.00,352.32L460.50,352.64L461.00,351.26L461.50,352.67L462.00,353.55L462.50,353.35L463.00,353.12L463.50,352.79L464.00,352.81L464.50,351.20L465.00,350.04L465.50,347.42L466.00,351.11L466.50,349.83L467.00,351.37L467.50,348.83L468.00,350.08L468.50,349.51L469.00,348.33L469.50,348.95L470.00,349.34L470.50,350.99L471.00,352.09L471.50,352.47L472.00,352.03L472.50,353.02L473.00,351.65L473.50,351.79L474.00,353.73L474.50,352.85L475.00,352.76L475.50,352.67L476.00,352.53L476.50,353.25L477.00,353.71L477.50,353.34L478.00,353.85L478.50,353.96L479.00,354.24L479.50,354.68L480.00,354.43L480.50,354.40L481.00,352.99L481.50,354.30L482.00,354.38L482.50,354.43L483.00,354.54L483.50,354.53L484.00,352.82L484.50,353.00L485.00,352.80L485.50,354.42L486.00,354.49L486.50,354.43L487.00,354.56L487.50,354.35L488.00,354.66L488.50,354.57L489.00,354.85L489.50,354.81L490.00,354.96L490.50,355.14L491.00,355.14L491.50,355.28L492.00,355.40L492.50,355.40L493.00,355.40L493.50,355.40L494.00,355.40L494.50,355.40L495.00,355.40L495.00,355.40Z" fill="#1a1acc"/>
<line x1="284.00" y1="355.40" x2="500.10" y2="355.40" stroke="#333" stroke-width="0.8"/>
<line x1="500.10" y1="335.80" x2="500.10" y2="374.40" stroke="#333" stroke-width="0.6"/>
<path d="M499.20,337.40 L500.10,335.50 L501.00,337.40 Z" fill="#222"/>
<path d="M499.20,372.80 L500.10,374.70 L501.00,372.80 Z" fill="#222"/>
<text transform="translate(505.80,355.70) rotate(-90)" font-size="6.5" font-weight="normal" text-anchor="middle" dominant-baseline="central" fill="#111" >H3K27 H3K4</text>
<text transform="translate(514.40,356.70) rotate(-90)" font-size="6.5" font-weight="normal" text-anchor="middle" dominant-baseline="central" fill="#111" >AML1</text>
<text transform="translate(280.60,334.90) rotate(-90)" font-size="5.4" text-anchor="middle" dominant-baseline="central" fill="#222">4</text>
<text transform="translate(280.60,344.40) rotate(-90)" font-size="5.4" text-anchor="middle" dominant-baseline="central" fill="#222">2</text>
<text transform="translate(280.60,355.40) rotate(-90)" font-size="5.4" text-anchor="middle" dominant-baseline="central" fill="#222">0</text>
<text transform="translate(280.60,366.40) rotate(-90)" font-size="5.4" text-anchor="middle" dominant-baseline="central" fill="#222">2</text>
<text transform="translate(280.60,375.60) rotate(-90)" font-size="5.4" text-anchor="middle" dominant-baseline="central" fill="#222">4</text>
<path d="M284.00,400.48L284.00,404.95L284.50,405.58L285.00,406.31L285.50,407.05L286.00,406.76L286.50,406.68L287.00,406.44L287.50,409.68L288.00,405.35L288.50,404.18L289.00,402.65L289.50,402.60L290.00,402.75L290.50,402.53L291.00,402.25L291.50,401.95L292.00,404.08L292.50,402.00L293.00,402.11L293.50,402.45L294.00,402.77L294.50,402.55L295.00,402.12L295.50,401.80L296.00,401.66L296.50,401.61L297.00,401.70L297.00,401.60L297.50,406.09L298.00,406.37L298.50,407.93L299.00,407.88L299.50,408.01L300.00,409.72L300.50,408.74L301.00,408.45L301.50,407.41L302.00,406.75L302.50,407.79L303.00,408.85L303.50,409.68L304.00,409.28L304.50,409.22L305.00,407.22L305.50,406.05L306.00,405.16L306.50,404.67L307.00,402.52L307.50,402.50L308.00,402.68L308.50,402.89L309.00,402.61L309.50,411.38L310.00,409.76L310.50,412.65L311.00,414.16L311.50,420.88L312.00,413.22L312.50,412.48L313.00,412.99L313.50,412.70L314.00,412.08L314.50,411.90L315.00,416.88L315.00,409.54L315.50,410.62L316.00,408.87L316.50,416.08L317.00,409.95L317.50,411.44L318.00,411.25L318.50,412.80L319.00,414.11L319.50,412.12L320.00,414.83L320.50,413.78L321.00,415.18L321.50,416.21L322.00,416.68L322.50,414.58L323.00,416.22L323.50,414.36L324.00,414.61L324.50,412.16L325.00,414.09L325.50,412.89L326.00,411.57L326.50,413.32L327.00,414.89L327.50,416.65L328.00,417.75L328.50,418.15L329.00,418.21L329.50,418.57L330.00,419.77L330.50,421.04L331.00,417.54L331.50,417.22L332.00,417.32L332.50,414.54L333.00,414.18L333.50,413.21L334.00,415.23L334.50,415.30L335.00,415.36L335.50,415.71L336.00,419.62L336.50,423.03L337.00,416.63L337.50,415.09L338.00,413.72L338.50,412.89L339.00,411.74L339.50,410.68L340.00,409.47L340.50,408.33L341.00,408.14L341.50,408.18L342.00,407.44L342.50,406.47L343.00,405.55L343.50,405.93L344.00,404.58L344.50,404.44L345.00,404.23L345.50,404.31L346.00,404.01L346.50,403.38L347.00,402.68L347.50,402.69L348.00,402.84L348.50,402.89L349.00,402.71L349.50,403.32L350.00,403.26L350.50,404.31L351.00,404.29L351.50,404.95L352.00,408.88L352.50,406.84L353.00,409.84L353.50,412.60L354.00,413.09L354.50,417.12L355.00,419.12L355.50,419.35L356.00,421.66L356.50,421.67L357.00,419.70L357.50,422.15L358.00,424.46L358.50,425.27L359.00,426.38L359.50,423.73L360.00,427.56L360.50,423.99L361.00,426.42L361.50,421.64L362.00,423.41L362.50,423.23L363.00,420.90L363.50,419.65L364.00,420.85L364.50,418.21L365.00,418.39L365.50,416.14L366.00,414.52L366.50,414.73L367.00,415.63L367.50,414.08L368.00,412.96L368.50,414.27L369.00,414.78L369.50,413.93L370.00,421.68L370.50,413.45L371.00,412.13L371.50,412.76L372.00,411.97L372.50,410.47L373.00,409.50L373.50,410.31L374.00,410.44L374.00,409.26L374.50,409.23L375.00,402.52L375.50,402.61L376.00,402.48L376.50,402.47L377.00,402.15L377.50,402.00L378.00,401.67L378.50,404.48L379.00,402.09L379.50,402.35L380.00,402.83L380.50,402.63L381.00,402.91L381.50,418.20L382.00,415.02L382.50,419.77L383.00,418.70L383.50,416.97L384.00,417.22L384.50,414.45L385.00,415.08L385.50,413.34L386.00,415.08L386.50,412.80L387.00,411.27L387.50,408.32L388.00,408.20L388.50,411.10L389.00,409.94L389.50,411.28L390.00,409.37L390.50,410.41L391.00,408.80L391.50,410.04L392.00,409.16L392.50,409.40L393.00,408.17L393.50,408.88L394.00,407.11L394.50,413.72L395.00,410.54L395.50,411.23L396.00,413.59L396.50,413.78L397.00,413.94L397.50,411.64L398.00,411.61L398.50,410.88L399.00,412.03L399.50,413.48L400.00,416.73L400.50,418.70L401.00,417.07L401.50,416.56L402.00,420.30L402.50,421.03L403.00,420.22L403.50,418.26L404.00,417.74L404.50,415.38L405.00,417.63L405.50,416.63L406.00,416.07L406.50,422.78L407.00,415.94L407.50,416.21L408.00,417.58L408.50,416.99L409.00,417.45L409.50,417.50L410.00,417.22L410.50,416.05L411.00,415.57L411.50,415.62L412.00,415.34L412.50,416.88L413.00,417.07L413.50,416.07L414.00,413.91L414.50,414.12L415.00,411.62L415.50,412.66L416.00,413.96L416.50,412.78L417.00,413.83L417.50,415.77L418.00,415.28L418.50,415.91L419.00,416.31L419.50,416.19L420.00,417.26L420.50,416.63L421.00,413.45L421.50,416.18L422.00,415.78L422.50,417.67L423.00,423.03L423.50,418.55L424.00,420.75L424.50,418.31L425.00,421.76L425.50,421.56L426.00,420.82L426.50,419.57L427.00,414.51L427.50,415.04L428.00,411.78L428.50,401.65L429.00,401.54L429.50,401.71L430.00,401.72L430.50,401.70L431.00,401.54L431.50,401.62L432.00,401.66L432.50,401.70L433.00,401.54L433.50,416.49L434.00,416.06L434.50,417.20L435.00,416.38L435.50,420.61L436.00,420.77L436.50,420.13L437.00,418.48L437.50,417.12L438.00,417.35L438.50,419.07L439.00,420.19L439.50,418.31L440.00,423.03L440.50,420.54L441.00,419.46L441.50,418.93L442.00,416.48L442.50,416.86L443.00,414.43L443.50,416.23L444.00,413.09L444.50,416.56L445.00,415.97L445.50,419.42L446.00,419.78L446.50,418.19L447.00,421.05L447.50,421.55L448.00,423.47L448.50,422.99L449.00,420.34L449.50,419.04L450.00,417.19L450.50,415.39L451.00,414.64L451.50,416.87L452.00,416.28L452.50,413.22L453.00,414.15L453.50,413.43L454.00,412.53L454.50,411.54L455.00,413.57L455.50,412.12L456.00,415.16L456.50,413.37L457.00,413.22L457.50,411.32L458.00,412.08L458.50,410.73L459.00,410.13L459.50,410.67L459.73,411.41L460.00,411.10L460.50,411.54L461.00,413.56L461.50,420.29L462.00,413.76L462.50,413.55L463.00,414.52L463.50,414.30L464.00,418.74L464.50,410.92L465.00,410.83L465.50,409.59L466.00,410.04L466.50,412.37L467.00,411.78L467.50,412.83L468.00,411.46L468.50,411.26L469.00,409.16L469.50,411.17L470.00,409.95L470.50,410.89L471.00,411.20L471.50,411.41L472.00,412.06L472.50,413.36L473.00,415.24L473.50,413.00L474.00,412.27L474.50,413.34L475.00,412.32L475.50,411.73L476.00,410.82L476.50,410.77L477.00,410.78L477.50,410.89L478.00,412.34L478.50,413.69L479.00,415.76L479.50,418.37L480.00,416.90L480.50,419.39L481.00,421.61L481.50,423.03L482.00,421.57L482.50,418.65L483.00,413.95L483.50,419.97L484.00,410.84L484.50,411.90L485.00,411.48L485.50,409.67L486.00,409.89L486.50,411.85L487.00,410.36L487.50,411.62L488.00,411.45L488.50,411.38L489.00,409.79L489.50,409.58L490.00,409.76L490.50,408.75L491.00,409.18L491.50,407.22L492.00,408.19L492.50,407.79L493.00,406.58L493.50,406.03L494.00,405.72L494.50,410.42L495.00,405.97L495.00,400.48Z" fill="#f80e0e" fill-opacity="0.45"/>
<path d="M284.00,400.48L284.00,404.57L284.50,404.93L285.00,400.73L285.50,400.75L286.00,406.78L286.50,406.21L287.00,405.06L287.50,405.19L288.00,404.37L288.50,403.76L289.00,402.57L289.50,402.31L290.00,402.73L290.50,400.57L291.00,400.55L291.50,401.60L292.00,401.37L292.50,401.53L293.00,401.83L293.50,401.92L294.00,402.19L294.50,401.90L295.00,401.95L295.50,401.68L296.00,401.61L296.50,401.51L297.00,401.52L297.00,401.43L297.50,405.79L298.00,405.73L298.50,406.75L299.00,407.26L299.50,407.33L300.00,400.88L300.50,400.85L301.00,406.35L301.50,405.83L302.00,405.59L302.50,406.06L303.00,407.16L303.50,407.86L304.00,400.88L304.50,400.83L305.00,405.92L305.50,405.89L306.00,404.66L306.50,400.66L307.00,400.58L307.50,402.35L308.00,402.35L308.50,402.23L309.00,402.50L309.50,409.42L310.00,409.87L310.50,410.59L311.00,401.03L311.50,401.05L312.00,412.17L312.50,411.98L313.00,410.54L313.50,409.57L314.00,410.66L314.50,409.25L315.00,409.25L315.00,408.75L315.50,409.52L316.00,408.08L316.50,408.83L317.00,409.60L317.50,410.41L318.00,409.80L318.50,410.04L319.00,411.59L319.50,412.94L320.00,412.33L320.50,412.09L321.00,413.96L321.50,413.21L322.00,413.78L322.50,414.12L323.00,414.06L323.50,413.96L324.00,413.13L324.50,410.93L325.00,410.72L325.50,411.29L326.00,411.45L326.50,410.83L327.00,401.08L327.50,401.13L328.00,413.61L328.50,414.55L329.00,416.05L329.50,417.61L330.00,417.16L330.50,416.27L331.00,415.34L331.50,414.18L332.00,413.71L332.50,415.57L333.00,412.90L333.50,412.03L334.00,412.36L334.50,414.46L335.00,413.28L335.50,415.84L336.00,417.52L336.50,415.59L337.00,414.61L337.50,413.06L338.00,411.83L338.50,410.78L339.00,410.96L339.50,410.00L340.00,408.24L340.50,408.38L341.00,407.17L341.50,407.19L342.00,405.96L342.50,405.91L343.00,405.07L343.50,400.70L344.00,400.68L344.50,404.39L345.00,403.76L345.50,403.53L346.00,403.47L346.50,403.24L347.00,402.42L347.50,400.58L348.00,400.58L348.50,402.49L349.00,402.17L349.50,402.95L350.00,402.89L350.50,403.13L351.00,404.12L351.50,403.97L352.00,404.10L352.50,406.78L353.00,408.34L353.50,410.40L354.00,410.67L354.50,413.21L355.00,415.50L355.50,415.65L356.00,416.32L356.50,419.96L357.00,417.45L357.50,418.19L358.00,418.56L358.50,421.03L359.00,423.34L359.50,423.20L360.00,424.04L360.50,419.49L361.00,401.53L361.50,401.50L362.00,419.29L362.50,419.48L363.00,419.05L363.50,418.43L364.00,416.83L364.50,419.14L365.00,417.93L365.50,417.49L366.00,414.93L366.50,413.55L367.00,414.07L367.50,413.33L368.00,412.87L368.50,412.62L369.00,412.07L369.50,413.63L370.00,413.00L370.50,413.47L371.00,411.86L371.50,412.31L372.00,410.62L372.50,410.30L373.00,410.07L373.50,408.49L374.00,407.54L374.00,409.00L374.50,408.14L375.00,402.55L375.50,402.39L376.00,402.25L376.50,402.36L377.00,402.07L377.50,401.74L378.00,400.53L378.50,400.54L379.00,401.81L379.50,402.12L380.00,402.41L380.50,402.34L381.00,402.61L381.50,414.75L382.00,413.54L382.50,415.77L383.00,414.68L383.50,413.84L384.00,412.87L384.50,414.63L385.00,411.97L385.50,411.54L386.00,412.75L386.50,409.90L387.00,408.62L387.50,407.30L388.00,406.99L388.50,409.31L389.00,410.13L389.50,408.78L390.00,409.35L390.50,407.79L391.00,408.95L391.50,409.76L392.00,408.32L392.50,409.37L393.00,407.50L393.50,407.68L394.00,400.80L394.50,400.83L395.00,407.78L395.50,410.44L396.00,410.16L396.50,411.13L397.00,410.22L397.50,409.11L398.00,408.52L398.50,408.81L399.00,409.87L399.50,412.49L400.00,412.03L400.50,414.49L401.00,416.14L401.50,417.80L402.00,417.25L402.50,415.37L403.00,417.08L403.50,416.76L404.00,416.18L404.50,415.41L405.00,415.43L405.50,413.47L406.00,413.51L406.50,412.71L407.00,413.09L407.50,415.70L408.00,414.94L408.50,415.62L409.00,415.69L409.50,415.94L410.00,413.04L410.50,413.90L411.00,412.39L411.50,412.99L412.00,415.27L412.50,415.39L413.00,415.81L413.50,413.02L414.00,412.38L414.50,412.11L415.00,410.53L415.50,412.06L416.00,412.80L416.50,412.94L417.00,411.91L417.50,414.87L418.00,413.80L418.50,413.42L419.00,401.20L419.50,401.19L420.00,414.85L420.50,413.04L421.00,413.49L421.50,414.06L422.00,415.43L422.50,401.23L423.00,401.28L423.50,416.84L424.00,417.86L424.50,418.39L425.00,420.22L425.50,420.37L426.00,416.76L426.50,415.09L427.00,413.16L427.50,411.31L428.00,410.03L428.50,401.46L429.00,401.53L429.50,401.50L430.00,401.51L430.50,401.39L431.00,400.53L431.50,400.53L432.00,401.46L432.50,401.44L433.00,401.50L433.50,413.74L434.00,416.86L434.50,417.18L435.00,401.27L435.50,401.30L436.00,418.15L436.50,416.73L437.00,401.25L437.50,401.23L438.00,416.79L438.50,417.92L439.00,416.85L439.50,420.46L440.00,418.26L440.50,420.37L441.00,417.57L441.50,417.36L442.00,413.30L442.50,413.74L443.00,413.51L443.50,413.93L444.00,414.14L444.50,412.47L445.00,413.68L445.50,416.13L446.00,401.29L446.50,401.33L447.00,417.74L447.50,416.49L448.00,418.62L448.50,417.60L449.00,415.72L449.50,417.23L450.00,416.60L450.50,415.58L451.00,414.92L451.50,413.50L452.00,413.93L452.50,411.86L453.00,412.55L453.50,410.53L454.00,411.39L454.50,401.00L455.00,401.02L455.50,411.98L456.00,411.25L456.50,411.92L457.00,412.97L457.50,411.97L458.00,408.48L458.50,408.46L459.00,408.44L459.50,409.14L459.73,408.96L460.00,410.06L460.50,409.29L461.00,410.17L461.50,411.04L462.00,411.51L462.50,412.46L463.00,413.95L463.50,411.93L464.00,411.69L464.50,410.55L465.00,408.22L465.50,408.93L466.00,409.83L466.50,410.22L467.00,411.39L467.50,410.69L468.00,409.66L468.50,409.54L469.00,409.08L469.50,408.08L470.00,409.39L470.50,409.02L471.00,409.63L471.50,411.27L472.00,411.63L472.50,411.29L473.00,401.09L473.50,401.09L474.00,401.07L474.50,401.04L475.00,412.34L475.50,411.79L476.00,410.32L476.50,410.14L477.00,409.18L477.50,400.91L478.00,400.99L478.50,412.31L479.00,412.63L479.50,413.87L480.00,414.44L480.50,416.19L481.00,418.28L481.50,421.67L482.00,416.95L482.50,417.48L483.00,412.06L483.50,412.26L484.00,409.60L484.50,409.96L485.00,410.20L485.50,407.77L486.00,407.63L486.50,408.92L487.00,408.76L487.50,411.46L488.00,410.48L488.50,410.26L489.00,409.93L489.50,408.99L490.00,408.23L490.50,408.05L491.00,407.20L491.50,406.00L492.00,406.32L492.50,400.78L493.00,400.77L493.50,406.11L494.00,406.16L494.50,405.57L495.00,405.14L495.00,400.48Z" fill="#f80e0e"/>
<path d="M284.00,400.48L284.00,399.40L284.50,399.73L285.00,399.46L285.50,399.42L286.00,399.54L286.50,398.16L287.00,399.55L287.50,398.18L288.00,398.24L288.50,399.37L289.00,399.06L289.50,398.58L290.00,398.74L290.50,398.16L291.00,398.34L291.50,398.38L292.00,396.33L292.50,396.08L293.00,396.64L293.50,394.60L294.00,394.26L294.50,394.53L295.00,392.49L295.50,389.66L296.00,385.26L296.50,382.26L297.00,378.48L297.00,378.48L297.50,390.96L298.00,399.13L298.50,396.77L299.00,399.24L299.50,399.29L300.00,399.47L300.50,397.21L301.00,397.88L301.50,398.16L302.00,396.62L302.50,395.88L303.00,395.18L303.50,397.71L304.00,398.41L304.50,399.00L305.00,398.93L305.50,397.57L306.00,399.60L306.50,399.38L307.00,399.02L307.50,398.70L308.00,398.31L308.50,398.63L309.00,399.17L309.50,399.33L310.00,399.58L310.50,398.82L311.00,398.66L311.50,398.06L312.00,397.02L312.50,396.53L313.00,394.65L313.50,393.90L314.00,393.50L314.50,391.64L315.00,389.48L315.00,389.48L315.50,391.48L316.00,391.45L316.50,397.13L317.00,391.77L317.50,396.51L318.00,397.24L318.50,396.29L319.00,397.57L319.50,395.23L320.00,394.25L320.50,395.81L321.00,393.94L321.50,392.53L322.00,393.22L322.50,393.66L323.00,392.19L323.50,392.92L324.00,393.52L324.50,394.05L325.00,393.73L325.50,391.98L326.00,394.04L326.50,386.59L327.00,390.39L327.50,391.92L328.00,389.09L328.50,391.97L329.00,392.13L329.50,391.36L330.00,388.55L330.50,389.11L331.00,391.22L331.50,387.11L332.00,390.63L332.50,379.79L333.00,387.46L333.50,388.24L334.00,388.36L334.50,386.23L335.00,387.14L335.50,389.45L336.00,390.40L336.50,385.36L337.00,387.23L337.50,386.72L338.00,384.82L338.50,383.62L339.00,385.05L339.50,381.22L340.00,387.17L340.50,386.91L341.00,387.49L341.50,385.94L342.00,385.78L342.50,384.77L343.00,383.87L343.50,385.29L344.00,385.50L344.50,390.46L345.00,384.50L345.50,388.12L346.00,383.82L346.50,389.18L347.00,378.48L347.50,388.29L348.00,386.06L348.50,391.09L349.00,388.22L349.50,389.80L350.00,386.15L350.50,378.48L351.00,378.48L351.50,383.27L352.00,382.48L352.50,385.04L353.00,378.48L353.50,378.48L354.00,380.46L354.50,385.64L355.00,386.44L355.50,384.02L356.00,378.68L356.50,384.36L357.00,378.48L357.50,379.40L358.00,385.54L358.50,382.83L359.00,381.77L359.50,378.48L360.00,385.68L360.50,387.53L361.00,390.18L361.50,380.76L362.00,389.38L362.50,391.56L363.00,387.85L363.50,389.60L364.00,392.78L364.50,391.68L365.00,392.25L365.50,392.62L366.00,393.61L366.50,393.17L367.00,394.00L367.50,396.55L368.00,396.14L368.50,397.38L369.00,397.40L369.50,398.62L370.00,398.54L370.50,398.78L371.00,398.26L371.50,397.50L372.00,396.87L372.50,397.09L373.00,394.87L373.50,396.34L374.00,393.48L374.00,393.48L374.50,391.45L375.00,397.15L375.50,395.44L376.00,398.49L376.50,398.84L377.00,399.51L377.50,399.39L378.00,399.60L378.50,399.52L379.00,399.63L379.50,399.54L380.00,399.88L380.50,399.42L381.00,398.92L381.50,399.07L382.00,399.17L382.50,398.43L383.00,397.75L383.50,397.19L384.00,396.81L384.50,396.56L385.00,397.31L385.50,397.45L386.00,398.20L386.50,398.50L387.00,398.39L387.50,398.18L388.00,398.42L388.50,398.84L389.00,398.45L389.50,397.31L390.00,397.63L390.50,395.89L391.00,394.13L391.50,395.67L392.00,392.81L392.50,393.51L393.00,394.17L393.50,393.05L394.00,389.76L394.50,391.70L395.00,393.26L395.50,394.33L396.00,385.57L396.50,390.92L397.00,394.25L397.50,384.31L398.00,391.88L398.50,388.78L399.00,387.92L399.50,388.80L400.00,388.78L400.50,389.52L401.00,393.33L401.50,392.94L402.00,394.05L402.50,395.19L403.00,391.96L403.50,391.47L404.00,392.27L404.50,390.52L405.00,391.99L405.50,393.59L406.00,391.37L406.50,388.45L407.00,390.98L407.50,391.84L408.00,391.88L408.50,390.00L409.00,391.95L409.50,386.69L410.00,393.92L410.50,392.03L411.00,391.35L411.50,393.95L412.00,391.71L412.50,389.98L413.00,393.09L413.50,390.34L414.00,391.91L414.50,391.72L415.00,393.51L415.50,392.99L416.00,392.72L416.50,392.16L417.00,390.64L417.50,393.53L418.00,393.48L418.50,394.44L419.00,394.83L419.50,395.08L420.00,397.47L420.50,397.72L421.00,399.26L421.50,399.48L422.00,399.60L422.50,399.39L423.00,399.51L423.50,399.48L424.00,399.75L424.50,399.50L425.00,399.56L425.50,399.63L426.00,398.21L426.50,399.58L427.00,398.27L427.50,399.42L428.00,399.81L428.50,399.50L429.00,399.57L429.50,399.43L430.00,399.54L430.50,397.76L431.00,399.25L431.50,397.56L432.00,399.47L432.50,399.46L433.00,399.29L433.50,398.78L434.00,398.24L434.50,398.86L435.00,398.44L435.50,398.68L436.00,397.86L436.50,398.41L437.00,398.63L437.50,398.65L438.00,397.91L438.50,397.96L439.00,395.24L439.50,398.66L440.00,398.33L440.50,398.36L441.00,398.07L441.50,398.83L442.00,398.53L442.50,398.97L443.00,398.99L443.50,399.31L444.00,399.44L444.50,399.48L445.00,399.69L445.50,399.71L446.00,399.71L446.50,399.58L447.00,399.62L447.50,399.77L448.00,399.73L448.50,399.56L449.00,399.49L449.50,398.08L450.00,399.50L450.50,399.57L451.00,399.36L451.50,399.35L452.00,399.41L452.50,399.42L453.00,399.69L453.50,399.71L454.00,399.57L454.50,399.67L455.00,399.54L455.50,399.74L456.00,399.61L456.50,399.39L457.00,399.70L457.50,399.48L458.00,399.47L458.50,399.49L459.00,397.81L459.50,395.17L459.73,394.24L460.00,395.52L460.50,396.71L461.00,399.35L461.50,399.41L462.00,399.47L462.50,399.66L463.00,399.76L463.50,399.77L464.00,399.48L464.50,399.38L465.00,399.44L465.50,399.55L466.00,399.80L466.50,399.65L467.00,399.63L467.50,399.67L468.00,399.48L468.50,399.84L469.00,399.58L469.50,399.59L470.00,399.69L470.50,399.51L471.00,399.67L471.50,399.33L472.00,399.53L472.50,399.29L473.00,399.10L473.50,399.30L474.00,399.11L474.50,399.09L475.00,398.75L475.50,396.63L476.00,398.44L476.50,398.62L477.00,398.76L477.50,399.08L478.00,399.07L478.50,399.37L479.00,399.70L479.50,399.43L480.00,399.29L480.50,399.57L481.00,397.31L481.50,399.03L482.00,399.26L482.50,398.56L483.00,399.25L483.50,398.71L484.00,398.36L484.50,398.73L485.00,397.76L485.50,398.44L486.00,395.32L486.50,396.99L487.00,397.62L487.50,396.39L488.00,397.31L488.50,397.87L489.00,398.96L489.50,399.22L490.00,399.37L490.50,399.65L491.00,399.63L491.50,399.61L492.00,398.16L492.50,399.37L493.00,399.37L493.50,399.35L494.00,399.61L494.50,399.50L495.00,399.58L495.00,400.48Z" fill="#1a1acc"/>
<line x1="284.00" y1="400.48" x2="500.10" y2="400.48" stroke="#333" stroke-width="0.8"/>
<line x1="500.10" y1="380.88" x2="500.10" y2="419.48" stroke="#333" stroke-width="0.6"/>
<path d="M499.20,382.48 L500.10,380.58 L501.00,382.48 Z" fill="#222"/>
<path d="M499.20,417.88 L500.10,419.78 L501.00,417.88 Z" fill="#222"/>
<text transform="translate(505.80,400.78) rotate(-90)" font-size="6.5" font-weight="normal" text-anchor="middle" dominant-baseline="central" fill="#111" >H3K27 H3K4</text>
<text transform="translate(514.40,401.78) rotate(-90)" font-size="6.5" font-weight="normal" text-anchor="middle" dominant-baseline="central" fill="#111" >AML2</text>
<text transform="translate(280.60,379.98) rotate(-90)" font-size="5.4" text-anchor="middle" dominant-baseline="central" fill="#222">4</text>
<text transform="translate(280.60,389.48) rotate(-90)" font-size="5.4" text-anchor="middle" dominant-baseline="central" fill="#222">2</text>
<text transform="translate(280.60,400.48) rotate(-90)" font-size="5.4" text-anchor="middle" dominant-baseline="central" fill="#222">0</text>
<text transform="translate(280.60,411.48) rotate(-90)" font-size="5.4" text-anchor="middle" dominant-baseline="central" fill="#222">2</text>
<text transform="translate(280.60,420.68) rotate(-90)" font-size="5.4" text-anchor="middle" dominant-baseline="central" fill="#222">4</text>
<path d="M284.00,445.56L284.00,453.01L284.50,454.06L285.00,454.07L285.50,454.96L286.00,456.04L286.50,457.56L287.00,459.23L287.50,459.82L288.00,458.60L288.50,458.35L289.00,455.65L289.50,455.92L290.00,454.57L290.50,453.76L291.00,453.53L291.50,453.49L292.00,452.07L292.50,452.38L293.00,452.81L293.50,454.13L294.00,454.89L294.50,454.24L295.00,454.18L295.00,453.92L295.50,452.66L296.00,457.16L296.50,453.78L297.00,455.00L297.00,453.95L297.50,456.45L298.00,457.95L298.50,457.31L299.00,465.16L299.50,457.37L300.00,459.68L300.50,461.01L301.00,460.61L301.50,461.27L302.00,460.90L302.50,459.16L303.00,458.94L303.50,459.05L304.00,457.61L304.50,458.89L305.00,455.83L305.50,456.51L306.00,455.26L306.50,454.27L307.00,446.67L307.50,446.63L308.00,446.67L308.50,446.75L309.00,446.61L309.50,455.18L310.00,455.50L310.50,456.69L311.00,459.87L311.00,459.10L311.50,460.85L312.00,462.12L312.50,460.34L313.00,461.05L313.50,467.56L314.00,460.44L314.50,459.83L315.00,457.26L315.50,458.24L316.00,456.37L316.50,456.78L317.00,458.05L317.50,459.72L318.00,460.09L318.50,458.52L319.00,459.31L319.50,461.47L320.00,460.90L320.50,460.43L321.00,458.81L321.50,459.77L322.00,457.86L322.50,459.62L323.00,458.94L323.50,457.46L324.00,457.92L324.50,457.32L325.00,466.76L325.50,461.14L326.00,461.06L326.50,460.00L327.00,459.41L327.50,458.79L328.00,460.18L328.50,457.49L329.00,456.71L329.50,456.04L330.00,455.16L330.50,456.22L331.00,458.53L331.50,459.27L332.00,462.74L332.50,459.08L333.00,461.50L333.50,460.16L334.00,458.35L334.50,458.98L335.00,457.79L335.50,456.27L336.00,457.47L336.50,456.85L337.00,459.31L337.50,460.49L338.00,461.89L338.50,460.32L339.00,458.24L339.50,457.02L340.00,454.42L340.50,453.10L341.00,446.69L341.50,446.62L342.00,446.59L342.50,449.16L343.00,446.81L343.50,446.70L344.00,446.70L344.50,446.57L345.00,446.61L345.50,446.73L346.00,446.80L346.50,446.57L347.00,446.68L347.50,446.65L348.00,446.64L348.50,446.80L349.00,446.74L349.50,446.70L350.00,446.73L350.50,449.16L351.00,446.76L351.50,446.72L352.00,446.78L352.50,446.78L353.00,446.56L353.50,451.53L354.00,451.96L354.50,453.43L355.00,453.18L355.50,453.74L356.00,453.80L356.50,454.73L357.00,455.83L357.50,456.66L358.00,457.90L358.50,457.79L359.00,457.85L359.50,459.75L360.00,458.19L360.50,457.37L361.00,457.08L361.50,458.13L362.00,457.76L362.50,456.96L363.00,458.68L363.50,459.59L364.00,460.04L364.50,458.46L365.00,458.92L365.50,456.89L366.00,457.68L366.50,456.03L367.00,456.58L367.50,454.07L368.00,455.35L368.50,454.64L369.00,454.79L369.50,455.26L370.00,456.27L370.50,458.65L371.00,457.24L371.50,459.77L372.00,458.41L372.50,459.46L373.00,458.36L373.50,458.45L374.00,458.05L374.50,455.29L375.00,447.58L375.50,447.79L376.00,447.85L376.50,447.34L377.00,447.07L377.50,447.07L378.00,446.70L378.50,446.78L379.00,446.64L379.50,446.67L380.00,446.59L380.50,446.79L381.00,446.56L381.50,453.06L382.00,453.84L382.00,453.20L382.50,455.47L383.00,455.77L383.50,455.53L384.00,456.23L384.50,455.13L385.00,455.17L385.50,455.14L386.00,453.70L386.50,454.81L387.00,458.76L387.50,453.23L388.00,452.04L388.50,458.49L389.00,459.34L389.50,458.53L390.00,458.20L390.50,457.63L391.00,456.99L391.50,455.71L392.00,452.99L392.50,451.44L393.00,449.22L393.50,446.63L394.00,446.69L394.50,446.66L395.00,446.85L395.50,446.84L396.00,449.22L396.50,446.73L397.00,446.61L397.50,446.63L398.00,446.61L398.50,446.85L399.00,446.68L399.50,446.65L400.00,452.18L400.50,452.44L401.00,454.71L401.50,456.61L402.00,457.45L402.50,460.04L403.00,459.22L403.50,460.49L404.00,460.82L404.50,461.11L405.00,462.16L405.50,461.11L406.00,460.07L406.50,461.25L407.00,459.90L407.50,459.03L408.00,461.60L408.50,460.88L409.00,460.38L409.50,461.12L410.00,463.81L410.50,464.20L411.00,462.73L411.50,461.72L412.00,460.24L412.50,462.23L412.95,460.46L413.00,460.66L413.50,458.64L414.00,459.48L414.50,461.21L415.00,463.04L415.50,461.90L416.00,461.64L416.50,458.77L417.00,460.45L417.50,461.07L418.00,461.86L418.50,462.04L419.00,460.45L419.50,461.69L420.00,462.13L420.50,461.58L421.00,461.13L421.50,459.69L422.00,459.92L422.50,461.97L423.00,460.97L423.50,460.72L424.00,460.66L424.50,459.88L425.00,460.27L425.50,461.03L426.00,461.85L426.50,460.63L427.00,462.53L427.50,463.57L428.00,461.61L428.50,447.86L429.00,447.97L429.50,447.86L430.00,447.98L430.50,448.01L431.00,448.13L431.50,447.95L432.00,447.97L432.50,447.79L433.00,447.68L433.50,458.10L434.00,458.88L434.50,458.79L435.00,456.32L435.50,456.03L436.00,455.20L436.50,456.52L437.00,456.95L437.50,457.59L438.00,457.96L438.50,458.91L439.00,457.40L439.50,460.39L440.00,460.35L440.50,457.52L441.00,457.11L441.50,458.36L442.00,456.90L442.50,457.75L443.00,457.77L443.50,458.51L444.00,458.43L444.50,459.50L445.00,459.21L445.50,458.25L446.00,457.94L446.50,455.75L447.00,456.87L447.50,454.82L448.00,454.58L448.50,461.20L449.00,462.00L449.50,457.05L450.00,456.35L450.50,456.35L451.00,456.56L451.50,462.38L452.00,455.28L452.50,455.57L453.00,456.30L453.50,456.63L454.00,457.55L454.50,456.45L455.00,457.13L455.50,456.88L456.00,455.87L456.50,461.04L457.00,455.94L457.50,456.47L458.00,455.29L458.50,456.16L459.00,457.75L459.50,456.43L460.00,455.99L460.50,454.73L461.00,455.42L461.50,455.86L462.00,456.56L462.50,457.96L463.00,457.64L463.50,459.33L464.00,458.51L464.50,460.04L465.00,458.41L465.50,459.72L466.00,457.96L466.50,457.80L467.00,456.31L467.50,456.31L468.00,456.43L468.50,456.08L469.00,454.65L469.50,456.32L470.00,462.34L470.50,456.02L471.00,456.99L471.50,456.71L472.00,462.85L472.50,456.73L473.00,455.57L473.50,454.36L474.00,455.24L474.50,457.11L475.00,455.81L475.50,456.32L476.00,456.53L476.50,455.18L477.00,455.16L477.50,454.76L478.00,455.39L478.50,456.88L479.00,455.99L479.50,457.54L480.00,457.52L480.50,457.07L481.00,455.25L481.50,454.73L482.00,454.42L482.50,456.01L483.00,456.03L483.50,458.36L484.00,458.95L484.50,459.15L485.00,459.78L485.50,458.04L486.00,458.07L486.50,459.67L487.00,458.68L487.50,457.02L488.00,457.05L488.50,457.15L489.00,456.82L489.50,455.36L490.00,455.64L490.50,454.90L491.00,455.86L491.50,457.94L492.00,464.11L492.50,455.81L493.00,456.98L493.50,454.70L494.00,454.92L494.50,454.05L495.00,454.55L495.00,445.56Z" fill="#f80e0e" fill-opacity="0.45"/>
<path d="M284.00,445.56L284.00,451.06L284.50,452.38L285.00,453.36L285.50,454.46L286.00,456.48L286.50,455.81L287.00,457.26L287.50,458.41L288.00,455.50L288.50,454.80L289.00,454.05L289.50,454.00L290.00,453.49L290.50,452.45L291.00,451.83L291.50,452.01L292.00,451.06L292.50,451.76L293.00,452.61L293.50,451.82L294.00,453.97L294.50,452.86L295.00,452.45L295.00,452.49L295.50,451.46L296.00,450.80L296.50,452.51L297.00,452.83L297.00,453.06L297.50,454.60L298.00,454.59L298.50,455.43L299.00,456.65L299.50,456.46L300.00,457.12L300.50,458.22L301.00,458.02L301.50,458.27L302.00,461.28L302.50,458.29L303.00,458.88L303.50,458.10L304.00,458.76L304.50,455.71L305.00,454.08L305.50,453.84L306.00,453.06L306.50,452.42L307.00,446.48L307.50,446.56L308.00,446.45L308.50,446.44L309.00,446.41L309.50,453.89L310.00,454.56L310.50,456.22L311.00,457.33L311.00,456.02L311.50,457.85L312.00,459.50L312.50,457.29L313.00,458.76L313.50,446.18L314.00,446.16L314.50,456.96L315.00,456.50L315.50,455.74L316.00,454.94L316.50,456.96L317.00,457.54L317.50,455.21L318.00,456.65L318.50,456.01L319.00,458.74L319.50,458.62L320.00,457.27L320.50,457.45L321.00,457.36L321.50,446.18L322.00,446.16L322.50,456.93L323.00,454.99L323.50,455.89L324.00,454.54L324.50,456.24L325.00,457.12L325.50,457.37L326.00,459.36L326.50,458.48L327.00,457.68L327.50,446.18L328.00,446.16L328.50,446.11L329.00,446.06L329.50,453.81L330.00,453.18L330.50,454.22L331.00,455.00L331.50,457.82L332.00,459.09L332.50,458.46L333.00,460.19L333.50,456.03L334.00,455.59L334.50,457.14L335.00,455.49L335.50,454.72L336.00,454.03L336.50,455.35L337.00,456.10L337.50,458.36L338.00,458.79L338.50,456.50L339.00,454.89L339.50,453.34L340.00,452.76L340.50,452.48L341.00,446.48L341.50,446.56L342.00,446.50L342.50,446.45L343.00,446.54L343.50,446.59L344.00,446.62L344.50,446.61L345.00,446.55L345.50,446.53L346.00,446.51L346.50,445.61L347.00,445.61L347.50,446.67L348.00,446.54L348.50,446.50L349.00,446.48L349.50,446.64L350.00,446.61L350.50,446.54L351.00,446.52L351.50,446.63L352.00,446.54L352.50,446.49L353.00,446.51L353.50,451.08L354.00,450.30L354.50,451.98L355.00,452.56L355.50,452.98L356.00,452.80L356.50,454.56L357.00,455.08L357.50,455.60L358.00,454.44L358.50,455.59L359.00,455.87L359.50,457.60L360.00,458.14L360.50,457.01L361.00,456.12L361.50,455.65L362.00,455.50L362.50,456.36L363.00,457.19L363.50,457.76L364.00,456.98L364.50,456.53L365.00,456.14L365.50,454.95L366.00,455.86L366.50,455.90L367.00,453.87L367.50,453.51L368.00,453.13L368.50,453.83L369.00,446.01L369.50,446.03L370.00,455.24L370.50,454.97L371.00,456.54L371.50,457.26L372.00,458.35L372.50,456.31L373.00,456.84L373.50,456.85L374.00,454.63L374.50,454.46L375.00,447.32L375.50,447.54L376.00,447.28L376.50,445.65L377.00,445.63L377.50,446.75L378.00,446.56L378.50,446.46L379.00,446.47L379.50,446.56L380.00,446.49L380.50,446.67L381.00,446.65L381.50,451.99L382.00,452.54L382.00,445.92L382.50,445.98L383.00,453.56L383.50,455.20L384.00,454.85L384.50,446.03L385.00,446.01L385.50,453.86L386.00,453.56L386.50,445.93L387.00,445.91L387.50,451.88L388.00,451.21L388.50,455.48L389.00,457.64L389.50,456.85L390.00,457.18L390.50,456.58L391.00,455.53L391.50,453.55L392.00,452.01L392.50,450.76L393.00,446.47L393.50,446.62L394.00,446.57L394.50,446.67L395.00,445.61L395.50,445.61L396.00,446.56L396.50,446.55L397.00,446.51L397.50,446.49L398.00,446.57L398.50,446.49L399.00,446.55L399.50,446.52L400.00,451.18L400.50,451.84L401.00,453.72L401.50,453.99L402.00,456.49L402.50,457.90L403.00,458.30L403.50,457.92L404.00,457.44L404.50,460.26L405.00,457.79L405.50,457.21L406.00,458.40L406.50,458.31L407.00,457.48L407.50,459.09L408.00,459.10L408.50,461.13L409.00,460.34L409.50,459.50L410.00,462.33L410.50,460.90L411.00,461.80L411.50,461.03L412.00,459.76L412.50,458.13L412.95,456.67L413.00,457.42L413.50,457.00L414.00,457.96L414.50,446.26L415.00,446.29L415.50,460.41L416.00,457.31L416.50,458.90L417.00,457.40L417.50,456.58L418.00,458.09L418.50,459.90L419.00,459.61L419.50,458.04L420.00,457.40L420.50,458.65L421.00,457.84L421.50,458.37L422.00,458.35L422.50,458.71L423.00,460.87L423.50,459.71L424.00,458.99L424.50,459.91L425.00,459.69L425.50,459.48L426.00,460.10L426.50,459.98L427.00,458.87L427.50,458.35L428.00,457.28L428.50,447.49L429.00,447.30L429.50,447.64L430.00,447.75L430.50,447.49L431.00,447.30L431.50,447.47L432.00,447.35L432.50,447.61L433.00,447.38L433.50,454.91L434.00,455.56L434.50,455.05L435.00,455.76L435.50,453.42L436.00,453.22L436.50,453.21L437.00,453.55L437.50,455.37L438.00,455.01L438.50,456.64L439.00,456.86L439.50,455.23L440.00,456.49L440.50,456.67L441.00,456.74L441.50,455.60L442.00,446.08L442.50,446.10L443.00,454.80L443.50,456.55L444.00,457.58L444.50,455.58L445.00,455.10L445.50,456.14L446.00,455.90L446.50,455.19L447.00,454.29L447.50,455.31L448.00,454.75L448.50,445.99L449.00,446.01L449.50,455.03L450.00,455.47L450.50,455.78L451.00,454.87L451.50,454.66L452.00,453.91L452.50,454.84L453.00,454.51L453.50,455.42L454.00,455.25L454.50,455.55L455.00,455.69L455.50,455.73L456.00,455.32L456.50,454.11L457.00,454.44L457.50,454.77L458.00,456.01L458.50,455.07L459.00,454.68L459.50,455.24L460.00,454.01L460.50,454.00L461.00,453.04L461.50,454.28L462.00,454.66L462.50,455.20L463.00,446.09L463.50,446.11L464.00,455.97L464.50,457.93L465.00,457.41L465.50,456.87L466.00,457.04L466.50,457.52L467.00,455.15L467.50,455.47L468.00,456.06L468.50,454.29L469.00,453.41L469.50,446.00L470.00,446.02L470.50,454.82L471.00,454.65L471.50,454.71L472.00,453.74L472.50,453.46L473.00,445.99L473.50,445.99L474.00,454.98L474.50,454.85L475.00,456.44L475.50,455.05L476.00,455.81L476.50,454.97L477.00,453.36L477.50,453.71L478.00,453.81L478.50,446.03L479.00,446.06L479.50,454.00L480.00,453.82L480.50,454.30L481.00,453.03L481.50,452.66L482.00,453.86L482.50,446.02L483.00,446.05L483.50,455.76L484.00,456.05L484.50,455.34L485.00,456.74L485.50,457.91L486.00,458.02L486.50,457.61L487.00,457.04L487.50,455.48L488.00,455.74L488.50,455.35L489.00,454.57L489.50,455.11L490.00,445.98L490.50,446.01L491.00,455.73L491.50,456.44L492.00,455.41L492.50,455.32L493.00,454.59L493.50,454.38L494.00,452.62L494.50,454.04L495.00,452.66L495.00,445.56Z" fill="#f80e0e"/>
<path d="M284.00,445.56L284.00,445.56L284.50,445.56L285.00,445.56L285.50,445.56L286.00,445.56L286.50,443.95L287.00,444.71L287.50,444.00L288.00,444.19L288.50,443.63L289.00,442.94L289.50,443.25L290.00,440.61L290.50,443.22L291.00,443.54L291.50,443.76L292.00,441.79L292.50,443.82L293.00,443.78L293.50,442.72L294.00,442.52L294.50,439.56L295.00,435.56L295.00,435.56L295.50,440.19L296.00,441.68L296.50,437.19L297.00,423.56L297.00,423.56L297.50,431.40L298.00,442.42L298.50,441.91L299.00,442.51L299.50,440.77L300.00,443.88L300.50,443.34L301.00,443.74L301.50,443.94L302.00,443.04L302.50,443.70L303.00,442.97L303.50,444.01L304.00,443.51L304.50,444.06L305.00,443.72L305.50,443.86L306.00,441.62L306.50,444.05L307.00,444.34L307.50,444.27L308.00,444.76L308.50,444.52L309.00,444.60L309.50,444.79L310.00,444.87L310.50,440.85L311.00,433.56L311.00,433.56L311.50,436.21L312.00,441.27L312.50,441.87L313.00,440.63L313.50,441.37L314.00,442.04L314.50,441.77L315.00,441.85L315.50,442.87L316.00,442.61L316.50,442.64L317.00,441.79L317.50,441.76L318.00,442.62L318.50,441.40L319.00,438.25L319.50,441.01L320.00,439.45L320.50,440.39L321.00,438.78L321.50,442.82L322.00,442.72L322.50,443.26L323.00,443.54L323.50,443.25L324.00,444.40L324.50,443.17L325.00,441.84L325.50,440.39L326.00,441.73L326.50,439.65L327.00,440.87L327.50,438.41L328.00,438.60L328.50,438.31L329.00,439.61L329.50,431.90L330.00,434.76L330.50,437.50L331.00,434.32L331.50,434.44L332.00,438.73L332.50,434.24L333.00,434.45L333.50,434.55L334.00,436.23L334.50,437.91L335.00,433.37L335.50,434.70L336.00,431.24L336.50,433.59L337.00,432.74L337.50,434.10L338.00,434.17L338.50,433.73L339.00,438.33L339.50,438.71L340.00,438.32L340.50,438.81L341.00,441.38L341.50,441.31L342.00,442.42L342.50,443.34L343.00,443.29L343.50,443.56L344.00,443.53L344.50,443.15L345.00,443.50L345.50,442.84L346.00,443.47L346.50,443.11L347.00,442.33L347.50,442.30L348.00,442.17L348.50,440.83L349.00,441.12L349.50,442.72L350.00,444.20L350.50,443.44L351.00,443.75L351.50,442.76L352.00,443.37L352.50,441.32L353.00,438.69L353.50,436.43L354.00,433.22L354.50,435.78L355.00,433.57L355.50,434.83L356.00,436.04L356.50,435.24L357.00,432.83L357.50,435.49L358.00,431.19L358.50,431.20L359.00,432.13L359.50,431.71L360.00,432.57L360.50,435.48L361.00,434.46L361.50,436.08L362.00,436.17L362.50,433.82L363.00,436.74L363.50,435.09L364.00,436.30L364.50,436.17L365.00,436.27L365.50,439.93L366.00,439.97L366.50,441.39L367.00,441.37L367.50,440.55L368.00,441.92L368.50,442.56L369.00,442.60L369.50,443.16L370.00,443.24L370.50,442.41L371.00,442.12L371.50,443.35L372.00,442.98L372.50,438.79L373.00,441.85L373.50,442.69L374.00,442.32L374.50,441.58L375.00,443.17L375.50,443.69L376.00,444.74L376.50,444.60L377.00,444.84L377.50,444.62L378.00,443.03L378.50,444.85L379.00,444.76L379.50,444.68L380.00,444.65L380.50,443.48L381.00,440.87L381.50,438.94L382.00,437.56L382.00,437.56L382.50,441.08L383.00,444.21L383.50,444.48L384.00,444.77L384.50,444.85L385.00,444.61L385.50,444.80L386.00,444.95L386.50,444.94L387.00,444.85L387.50,444.86L388.00,444.54L388.50,444.41L389.00,444.24L389.50,443.94L390.00,443.37L390.50,443.95L391.00,444.04L391.50,444.35L392.00,444.71L392.50,444.25L393.00,443.37L393.50,442.93L394.00,440.76L394.50,441.50L395.00,441.86L395.50,439.50L396.00,441.08L396.50,442.91L397.00,442.80L397.50,442.96L398.00,443.99L398.50,443.52L399.00,443.99L399.50,444.13L400.00,443.43L400.50,443.66L401.00,443.23L401.50,442.27L402.00,441.51L402.50,440.80L403.00,440.61L403.50,437.84L404.00,441.34L404.50,441.35L405.00,441.38L405.50,442.78L406.00,441.50L406.50,442.47L407.00,441.81L407.50,441.60L408.00,441.77L408.50,441.26L409.00,436.56L409.50,441.36L410.00,440.00L410.50,437.47L411.00,440.58L411.50,439.27L412.00,432.74L412.50,435.74L412.95,433.09L413.00,434.52L413.50,435.89L414.00,440.65L414.50,441.98L415.00,441.65L415.50,442.61L416.00,442.91L416.50,441.98L417.00,442.27L417.50,442.50L418.00,442.88L418.50,443.09L419.00,443.83L419.50,444.14L420.00,441.58L420.50,443.61L421.00,443.50L421.50,443.82L422.00,443.88L422.50,444.47L423.00,444.61L423.50,444.76L424.00,444.75L424.50,444.76L425.00,444.93L425.50,444.54L426.00,444.70L426.50,444.71L427.00,442.96L427.50,444.49L428.00,444.62L428.50,444.81L429.00,444.77L429.50,444.51L430.00,444.52L430.50,443.34L431.00,444.78L431.50,444.92L432.00,444.77L432.50,444.60L433.00,444.49L433.50,444.69L434.00,444.65L434.50,444.73L435.00,444.70L435.50,444.80L436.00,444.72L436.50,444.77L437.00,444.93L437.50,444.50L438.00,444.45L438.50,444.55L439.00,444.55L439.50,444.46L440.00,444.62L440.50,444.71L441.00,444.82L441.50,444.93L442.00,444.81L442.50,444.88L443.00,444.66L443.50,444.54L444.00,444.80L444.50,444.92L445.00,444.94L445.50,444.63L446.00,444.94L446.50,444.79L447.00,444.61L447.50,444.84L448.00,444.48L448.50,444.80L449.00,444.81L449.50,444.59L450.00,443.20L450.50,444.57L451.00,444.31L451.50,444.13L452.00,444.56L452.50,443.91L453.00,442.10L453.50,443.60L454.00,443.29L454.50,444.11L455.00,443.53L455.50,443.36L456.00,443.48L456.50,443.36L457.00,443.32L457.50,442.51L458.00,442.35L458.50,441.53L459.00,442.48L459.50,441.59L460.00,443.14L460.50,443.94L461.00,444.88L461.50,443.08L462.00,444.89L462.50,444.64L463.00,444.51L463.50,444.57L464.00,444.69L464.50,444.61L465.00,444.63L465.50,444.42L466.00,444.50L466.50,444.47L467.00,444.71L467.50,444.80L468.00,444.78L468.50,443.31L469.00,444.85L469.50,444.69L470.00,444.75L470.50,444.96L471.00,444.83L471.50,444.44L472.00,444.48L472.50,444.40L473.00,444.55L473.50,444.65L474.00,444.33L474.50,444.55L475.00,444.65L475.50,444.37L476.00,444.19L476.50,444.44L477.00,444.52L477.50,444.18L478.00,443.89L478.50,444.09L479.00,442.39L479.50,443.83L480.00,443.93L480.50,444.35L481.00,443.78L481.50,443.56L482.00,442.03L482.50,443.47L483.00,443.92L483.50,443.70L484.00,443.40L484.50,442.73L485.00,444.00L485.50,444.08L486.00,444.59L486.50,444.64L487.00,444.61L487.50,444.60L488.00,444.54L488.50,444.46L489.00,444.47L489.50,444.61L490.00,444.98L490.50,444.96L491.00,444.86L491.50,444.61L492.00,444.98L492.50,444.98L493.00,444.46L493.50,444.77L494.00,444.47L494.50,444.64L495.00,444.53L495.00,445.56Z" fill="#1a1acc"/>
<line x1="284.00" y1="445.56" x2="500.10" y2="445.56" stroke="#333" stroke-width="0.8"/>
<line x1="500.10" y1="425.96" x2="500.10" y2="464.56" stroke="#333" stroke-width="0.6"/>
<path d="M499.20,427.56 L500.10,425.66 L501.00,427.56 Z" fill="#222"/>
<path d="M499.20,462.96 L500.10,464.86 L501.00,462.96 Z" fill="#222"/>
<text transform="translate(505.80,445.86) rotate(-90)" font-size="6.5" font-weight="normal" text-anchor="middle" dominant-baseline="central" fill="#111" >H3K27 H3K4</text>
<text transform="translate(514.40,446.86) rotate(-90)" font-size="6.5" font-weight="normal" text-anchor="middle" dominant-baseline="central" fill="#111" >AML3</text>
<text transform="translate(280.60,425.06) rotate(-90)" font-size="5.4" text-anchor="middle" dominant-baseline="central" fill="#222">4</text>
<text transform="translate(280.60,434.56) rotate(-90)" font-size="5.4" text-anchor="middle" dominant-baseline="central" fill="#222">2</text>
<text transform="translate(280.60,445.56) rotate(-90)" font-size="5.4" text-anchor="middle" dominant-baseline="central" fill="#222">0</text>
<text transform="translate(280.60,456.56) rotate(-90)" font-size="5.4" text-anchor="middle" dominant-baseline="central" fill="#222">2</text>
<text transform="translate(280.60,465.76) rotate(-90)" font-size="5.4" text-anchor="middle" dominant-baseline="central" fill="#222">4</text>
<path d="M284.00,490.64L284.00,499.83L284.50,499.39L285.00,500.98L285.50,502.20L286.00,508.64L286.50,502.46L287.00,504.24L287.50,503.82L288.00,504.09L288.50,503.49L289.00,500.84L289.50,500.61L290.00,499.38L290.50,501.09L291.00,501.08L291.50,502.36L292.00,508.64L292.50,503.67L293.00,502.47L293.50,503.43L294.00,504.07L294.50,501.49L295.00,499.94L295.00,501.87L295.50,498.62L296.00,498.07L296.50,499.92L297.00,500.43L297.00,499.99L297.50,503.05L298.00,505.23L298.50,505.58L299.00,505.15L299.50,504.58L300.00,507.25L300.50,513.19L301.00,502.96L301.50,502.50L302.00,500.93L302.50,503.30L303.00,510.24L303.50,503.25L304.00,502.73L304.50,503.12L305.00,500.92L305.50,499.69L306.00,497.52L306.50,497.16L307.00,492.70L307.50,492.70L308.00,492.79L308.50,493.14L309.00,492.72L309.50,505.48L310.00,503.96L310.50,507.24L311.00,513.19L311.00,508.74L311.50,509.43L312.00,509.05L312.50,506.99L313.00,508.67L313.50,506.97L314.00,507.55L314.50,505.25L315.00,503.82L315.50,503.67L316.00,504.80L316.50,503.76L317.00,506.27L317.50,506.36L318.00,513.19L318.50,505.54L319.00,508.97L319.50,509.47L320.00,506.64L320.00,509.37L320.50,506.09L321.00,506.29L321.50,513.19L322.00,505.59L322.50,504.07L323.00,504.14L323.50,506.17L324.00,507.78L324.50,506.05L325.00,503.87L325.50,504.72L326.00,504.40L326.50,505.40L327.00,504.38L327.50,506.47L328.00,505.15L328.00,507.76L328.50,506.16L329.00,510.35L329.50,510.34L330.00,511.56L330.50,509.75L331.00,513.19L331.50,508.79L332.00,506.87L332.50,504.74L333.00,504.53L333.50,506.22L334.00,504.69L334.50,504.87L335.00,506.14L335.50,504.22L336.00,505.71L336.50,505.27L337.00,504.69L337.50,504.21L338.00,501.43L338.50,501.33L339.00,500.33L339.50,498.54L340.00,497.19L340.50,501.28L341.00,491.82L341.50,491.74L342.00,491.84L342.50,491.77L343.00,491.68L343.50,491.75L344.00,491.78L344.50,491.64L345.00,491.81L345.50,491.69L346.00,491.76L346.50,491.84L347.00,491.76L347.50,491.64L348.00,491.79L348.50,491.81L349.00,491.73L349.00,491.81L349.50,491.69L350.00,491.69L350.50,492.09L351.00,492.33L351.50,492.55L352.00,495.84L352.50,492.98L353.00,492.74L353.50,498.67L354.00,497.93L354.50,500.82L355.00,501.31L355.50,501.60L356.00,502.17L356.50,502.89L357.00,502.62L357.50,504.21L358.00,505.56L358.50,504.85L359.00,506.50L359.50,505.53L360.00,507.69L360.50,504.73L361.00,506.25L361.50,506.10L362.00,504.25L362.50,504.63L363.00,513.19L363.50,506.88L364.00,506.46L364.50,506.93L365.00,504.60L365.50,504.54L366.00,504.94L366.50,502.50L367.00,504.33L367.50,502.58L368.00,501.68L368.50,503.00L369.00,501.90L369.50,503.77L370.00,503.66L370.50,503.78L371.00,506.21L371.50,505.21L372.00,507.67L372.50,505.68L373.00,505.07L373.50,504.79L374.00,502.82L374.50,502.84L375.00,493.12L375.50,493.07L376.00,492.84L376.50,492.41L377.00,492.44L377.50,492.20L378.00,494.24L378.50,491.94L379.00,495.04L379.50,492.57L380.00,493.08L380.50,492.83L381.00,492.88L381.50,503.94L382.00,504.12L382.00,503.20L382.50,505.66L383.00,504.62L383.50,504.87L384.00,513.19L384.50,505.63L385.00,504.55L385.50,503.94L386.00,501.31L386.50,501.23L387.00,500.02L387.50,500.16L388.00,500.60L388.50,502.97L389.00,503.89L389.04,504.46L389.50,502.27L390.00,503.66L390.50,508.60L391.00,501.42L391.50,501.01L392.00,500.05L392.50,498.83L393.00,491.79L393.50,491.69L394.00,491.80L394.50,491.89L395.00,491.87L395.50,491.76L396.00,491.93L396.50,491.75L397.00,491.80L397.50,491.74L398.00,491.83L398.50,494.30L399.00,491.93L399.50,491.74L400.00,500.27L400.50,502.55L401.00,504.28L401.50,505.48L402.00,507.19L402.50,508.67L403.00,504.97L403.50,504.69L404.00,506.78L404.50,505.45L405.00,504.31L405.50,506.02L406.00,513.19L406.50,505.56L407.00,513.19L407.50,509.57L408.00,507.60L408.50,508.97L409.00,509.70L409.50,513.19L410.00,513.19L410.50,504.98L411.00,505.75L411.50,505.36L412.00,504.89L412.50,504.80L413.00,507.65L413.50,504.68L414.00,506.44L414.50,505.26L415.00,504.91L415.50,503.94L416.00,506.07L416.50,504.95L417.00,505.87L417.50,506.59L418.00,504.76L418.50,505.23L419.00,505.11L419.50,506.58L420.00,507.18L420.50,506.41L421.00,508.06L421.50,505.98L422.00,507.71L422.50,509.18L423.00,506.95L423.50,509.53L424.00,513.19L424.50,508.30L425.00,509.02L425.50,507.90L426.00,509.14L426.50,507.09L427.00,507.70L427.50,509.56L428.00,508.24L428.50,492.92L429.00,492.76L429.50,492.81L430.00,493.06L430.50,493.16L431.00,495.97L431.50,495.97L432.00,493.01L432.50,493.06L433.00,492.75L433.50,505.28L434.00,509.08L434.50,506.14L435.00,509.66L435.50,509.65L436.00,508.92L436.50,509.77L437.00,512.83L437.50,511.85L437.90,514.58L438.00,515.25L438.50,510.83L439.00,511.21L439.50,507.72L440.00,507.21L440.50,506.19L441.00,506.82L441.50,505.23L442.00,506.16L442.50,503.60L443.00,504.78L443.50,503.52L444.00,502.46L444.50,502.20L445.00,502.11L445.50,504.77L446.00,504.78L446.50,504.04L447.00,506.75L447.50,506.27L448.00,505.08L448.29,506.88L448.50,506.93L449.00,507.00L449.50,504.23L450.00,504.74L450.50,504.20L451.00,502.55L451.50,504.66L452.00,502.40L452.50,502.77L453.00,502.00L453.50,504.02L454.00,505.26L454.50,503.70L455.00,504.08L455.50,502.95L456.00,502.64L456.50,509.44L457.00,502.84L457.50,502.99L458.00,505.23L458.50,504.66L459.00,505.92L459.50,506.91L460.00,507.29L460.50,505.03L461.00,506.95L461.50,507.71L462.00,505.49L462.50,506.65L463.00,504.98L463.50,502.96L464.00,503.57L464.50,502.84L465.00,501.35L465.50,501.79L466.00,503.91L466.50,504.42L467.00,504.34L467.50,504.74L468.00,504.30L468.50,505.42L469.00,508.45L469.50,507.60L470.00,504.70L470.50,505.47L471.00,504.44L471.50,504.72L472.00,502.94L472.50,510.45L473.00,503.18L473.50,509.69L474.00,503.44L474.50,504.28L475.00,512.09L475.50,504.41L476.00,503.46L476.50,502.70L477.00,503.90L477.50,501.30L478.00,501.65L478.50,504.83L479.00,504.13L479.50,504.36L480.00,503.46L480.50,503.30L481.00,503.85L481.50,503.26L482.00,501.89L482.50,503.34L483.00,503.44L483.50,505.70L484.00,503.31L484.50,504.15L485.00,502.26L485.50,502.43L486.00,501.40L486.50,504.39L487.00,502.39L487.50,504.50L488.00,504.36L488.50,504.79L489.00,506.61L489.50,506.69L490.00,505.51L490.50,506.04L491.00,506.96L491.50,505.16L492.00,504.56L492.50,505.52L493.00,503.38L493.50,503.41L494.00,503.42L494.50,500.77L495.00,500.65L495.00,490.64Z" fill="#f80e0e" fill-opacity="0.45"/>
<path d="M284.00,490.64L284.00,498.00L284.50,498.27L285.00,499.24L285.50,499.45L286.00,499.38L286.50,491.16L287.00,491.19L287.50,502.83L288.00,491.24L288.50,491.19L289.00,501.30L289.50,500.19L290.00,498.37L290.50,498.87L291.00,499.26L291.50,500.90L292.00,500.24L292.50,500.93L293.00,501.82L293.50,503.07L294.00,502.19L294.50,499.92L295.00,499.79L295.00,498.73L295.50,497.90L296.00,496.12L296.50,497.22L297.00,498.76L297.00,498.84L297.50,500.63L298.00,503.97L298.50,503.74L299.00,503.68L299.50,504.98L300.00,504.10L300.50,504.43L301.00,502.33L301.50,502.11L302.00,500.06L302.50,500.96L303.00,502.39L303.50,500.68L304.00,500.72L304.50,500.43L305.00,498.29L305.50,497.04L306.00,490.94L306.50,490.91L307.00,492.59L307.50,492.62L308.00,492.41L308.50,492.63L309.00,492.45L309.50,501.59L310.00,502.10L310.50,505.02L311.00,505.60L311.00,491.39L311.50,491.41L312.00,506.48L312.50,503.90L313.00,503.34L313.50,505.57L314.00,506.12L314.50,505.51L315.00,503.17L315.50,504.38L316.00,502.63L316.50,504.48L317.00,504.30L317.50,504.64L318.00,504.40L318.50,505.91L319.00,506.37L319.50,507.39L320.00,506.49L320.00,505.93L320.50,505.09L321.00,505.93L321.50,503.16L322.00,503.75L322.50,501.89L323.00,502.38L323.50,503.30L324.00,504.66L324.50,503.88L325.00,502.07L325.50,501.74L326.00,502.38L326.50,502.14L327.00,503.24L327.50,502.40L328.00,503.33L328.00,502.31L328.50,504.24L329.00,507.26L329.50,508.20L330.00,508.63L330.50,507.78L331.00,507.04L331.50,491.39L332.00,491.34L332.50,503.84L333.00,502.84L333.50,500.88L334.00,500.76L334.50,501.18L335.00,504.27L335.50,502.90L336.00,502.90L336.50,501.44L337.00,500.84L337.50,500.97L338.00,501.85L338.50,500.64L339.00,498.84L339.50,497.56L340.00,497.03L340.50,496.18L341.00,490.69L341.50,490.69L342.00,491.73L342.50,491.58L343.00,491.68L343.50,491.56L344.00,491.58L344.50,491.63L345.00,491.51L345.50,491.64L346.00,491.57L346.50,491.68L347.00,491.57L347.50,491.67L348.00,491.70L348.50,491.65L349.00,491.55L349.00,491.70L349.50,491.62L350.00,491.51L350.50,491.71L351.00,490.71L351.50,490.73L352.00,492.42L352.50,492.27L353.00,492.50L353.50,496.88L354.00,497.27L354.50,499.40L355.00,500.42L355.50,500.93L356.00,500.90L356.50,491.16L357.00,491.19L357.50,502.60L358.00,502.13L358.50,502.70L359.00,502.21L359.50,501.89L360.00,503.09L360.50,501.94L361.00,503.34L361.50,502.91L362.00,502.81L362.50,503.19L363.00,502.34L363.50,503.66L364.00,504.44L364.50,503.65L365.00,502.77L365.50,503.96L366.00,502.24L366.50,502.12L367.00,501.32L367.50,501.87L368.00,500.60L368.50,500.84L369.00,502.28L369.50,502.56L370.00,502.48L370.50,501.38L371.00,503.64L371.50,502.32L372.00,502.84L372.50,502.91L373.00,502.19L373.50,502.05L374.00,502.24L374.50,501.05L375.00,492.84L375.50,492.58L376.00,492.72L376.50,492.38L377.00,492.22L377.50,491.93L378.00,491.58L378.50,491.92L379.00,490.71L379.50,490.73L380.00,492.56L380.50,490.74L381.00,490.74L381.50,501.65L382.00,501.24L382.00,500.59L382.50,502.54L383.00,502.16L383.50,503.79L384.00,504.72L384.50,501.87L385.00,503.14L385.50,501.46L386.00,500.30L386.50,501.13L387.00,491.09L387.50,491.06L388.00,498.64L388.50,503.74L389.00,503.01L389.04,501.85L389.50,501.87L390.00,500.21L390.50,499.87L391.00,500.01L391.50,498.25L392.00,498.93L392.50,497.03L393.00,491.68L393.50,491.51L394.00,491.57L394.50,491.61L395.00,491.70L395.50,491.67L396.00,491.71L396.50,491.56L397.00,491.52L397.50,491.64L398.00,491.69L398.50,491.62L399.00,491.61L399.50,491.58L400.00,498.78L400.50,501.63L401.00,501.00L401.50,491.26L402.00,491.31L402.50,505.56L403.00,503.28L403.50,503.82L404.00,501.99L404.50,503.59L405.00,504.37L405.50,505.46L406.00,506.03L406.50,506.01L407.00,507.49L407.50,504.26L408.00,506.37L408.50,491.46L409.00,491.45L409.50,504.72L410.00,505.60L410.50,503.14L411.00,502.47L411.50,504.45L412.00,503.64L412.50,504.83L413.00,505.59L413.50,503.12L414.00,504.25L414.50,502.93L415.00,503.72L415.50,503.02L416.00,503.55L416.50,505.35L417.00,503.70L417.50,491.35L418.00,491.32L418.50,501.74L419.00,501.89L419.50,502.17L420.00,502.81L420.50,502.77L421.00,504.66L421.50,506.29L422.00,505.18L422.50,505.04L423.00,504.96L423.50,506.35L424.00,504.08L424.50,504.35L425.00,504.77L425.50,505.58L426.00,507.29L426.50,506.26L427.00,507.46L427.50,506.03L428.00,506.45L428.50,492.50L429.00,492.55L429.50,492.52L430.00,492.45L430.50,490.74L431.00,490.74L431.50,492.80L432.00,492.66L432.50,492.46L433.00,492.59L433.50,503.99L434.00,504.98L434.50,491.41L435.00,491.43L435.50,505.21L436.00,507.12L436.50,506.49L437.00,509.40L437.50,511.00L437.90,508.44L438.00,510.90L438.50,508.97L439.00,507.92L439.50,506.36L440.00,491.37L440.50,491.34L441.00,505.66L441.50,502.00L442.00,503.00L442.50,502.44L443.00,502.65L443.50,501.23L444.00,500.51L444.50,501.06L445.00,502.08L445.50,502.29L446.00,502.74L446.50,503.36L447.00,502.95L447.50,504.71L448.00,505.62L448.29,503.98L448.50,504.27L449.00,504.34L449.50,504.04L450.00,503.90L450.50,502.01L451.00,502.08L451.50,491.21L452.00,491.18L452.50,500.52L453.00,491.19L453.50,491.21L454.00,501.54L454.50,502.80L455.00,503.82L455.50,502.12L456.00,500.95L456.50,499.42L457.00,500.76L457.50,500.02L458.00,491.23L458.50,491.25L459.00,503.80L459.50,505.33L460.00,504.04L460.50,505.99L461.00,504.47L461.50,504.93L462.00,503.72L462.50,503.26L463.00,503.02L463.50,501.98L464.00,503.07L464.50,501.15L465.00,500.71L465.50,501.17L466.00,499.92L466.50,502.22L467.00,502.15L467.50,502.87L468.00,503.67L468.50,503.10L469.00,504.68L469.50,505.08L470.00,505.26L470.50,504.82L471.00,502.63L471.50,502.61L472.00,502.07L472.50,500.87L473.00,499.26L473.50,501.17L474.00,501.72L474.50,502.79L475.00,503.41L475.50,503.20L476.00,502.67L476.50,501.96L477.00,501.06L477.50,501.73L478.00,502.08L478.50,502.17L479.00,503.79L479.50,502.89L480.00,503.25L480.50,501.79L481.00,500.07L481.50,501.38L482.00,501.80L482.50,491.21L483.00,491.23L483.50,503.73L484.00,503.29L484.50,502.77L485.00,501.36L485.50,501.58L486.00,501.07L486.50,491.20L487.00,491.22L487.50,504.34L488.00,504.70L488.50,503.89L489.00,504.81L489.50,506.11L490.00,504.67L490.50,503.76L491.00,503.01L491.50,503.26L492.00,503.69L492.50,501.83L493.00,501.62L493.50,500.80L494.00,500.79L494.50,500.50L495.00,500.36L495.00,490.64Z" fill="#f80e0e"/>
<path d="M284.00,490.64L284.00,490.64L284.50,490.64L285.00,490.64L285.50,490.64L286.00,490.64L286.50,489.64L287.00,490.64L287.50,490.64L288.00,490.64L288.50,490.47L289.00,490.18L289.50,490.17L290.00,489.75L290.50,489.85L291.00,489.23L291.50,488.84L292.00,489.10L292.50,488.45L293.00,487.76L293.50,487.81L294.00,484.23L294.50,485.34L295.00,482.64L295.00,482.64L295.50,486.10L296.00,485.30L296.50,480.96L297.00,470.64L297.00,470.64L297.50,481.50L298.00,486.47L298.50,487.21L299.00,487.97L299.50,488.03L300.00,489.08L300.50,488.97L301.00,488.11L301.50,487.86L302.00,488.66L302.50,487.47L303.00,487.40L303.50,487.82L304.00,487.03L304.50,487.14L305.00,488.42L305.50,488.38L306.00,488.47L306.50,488.99L307.00,487.87L307.50,489.30L308.00,489.95L308.50,489.96L309.00,490.03L309.50,489.61L310.00,489.94L310.50,483.77L311.00,478.64L311.00,478.64L311.50,481.59L312.00,484.51L312.50,487.27L313.00,482.93L313.50,487.72L314.00,486.66L314.50,487.53L315.00,486.28L315.50,486.76L316.00,486.95L316.50,485.03L317.00,485.87L317.50,484.56L318.00,483.68L318.50,482.67L319.00,480.61L319.50,483.47L320.00,478.64L320.00,478.64L320.50,485.09L321.00,486.04L321.50,485.99L322.00,486.50L322.50,486.73L323.00,486.36L323.50,484.86L324.00,484.28L324.50,484.83L325.00,485.42L325.50,485.12L326.00,483.01L326.50,484.58L327.00,483.72L327.50,485.63L328.00,482.64L328.00,482.64L328.50,483.86L329.00,486.09L329.50,485.77L330.00,485.96L330.50,485.12L331.00,482.99L331.50,480.91L332.00,480.50L332.50,479.15L333.00,482.42L333.50,481.93L334.00,482.28L334.50,480.48L335.00,479.01L335.50,477.88L336.00,476.58L336.50,477.69L337.00,480.05L337.50,479.05L338.00,479.32L338.50,481.54L339.00,483.40L339.50,486.17L340.00,486.18L340.50,482.39L341.00,486.65L341.50,487.63L342.00,488.77L342.50,489.34L343.00,489.42L343.50,489.16L344.00,488.63L344.50,488.77L345.00,489.09L345.50,488.89L346.00,488.32L346.50,487.20L347.00,486.27L347.50,485.57L348.00,485.05L348.50,481.33L349.00,478.64L349.00,478.64L349.50,483.82L350.00,487.97L350.50,486.59L351.00,487.88L351.50,488.16L352.00,486.68L352.50,483.40L353.00,481.44L353.50,475.55L354.00,477.41L354.50,476.67L355.00,475.59L355.50,475.25L356.00,469.73L356.50,470.62L357.00,473.05L357.50,469.91L358.00,470.19L358.50,474.68L359.00,472.96L359.50,476.63L360.00,477.10L360.50,475.17L361.00,474.38L361.50,478.33L362.00,475.23L362.50,475.20L363.00,475.60L363.50,478.69L364.00,472.68L364.50,472.24L365.00,474.20L365.50,474.97L366.00,479.16L366.50,476.83L367.00,473.49L367.50,478.07L368.00,473.01L368.50,479.74L369.00,478.90L369.50,475.44L370.00,479.75L370.50,475.06L371.00,478.09L371.50,479.21L372.00,482.40L372.50,481.15L373.00,479.21L373.50,481.86L374.00,476.42L374.50,480.46L375.00,476.38L375.50,484.16L376.00,489.04L376.50,488.79L377.00,487.63L377.50,489.64L378.00,489.64L378.50,489.59L379.00,489.13L379.50,486.97L380.00,488.74L380.50,485.74L381.00,483.87L381.50,478.21L382.00,472.64L382.00,472.64L382.50,478.64L383.00,484.75L383.50,487.27L384.00,486.42L384.50,485.04L385.00,487.62L385.50,487.43L386.00,487.40L386.50,487.88L387.00,488.14L387.50,488.34L388.00,488.42L388.50,484.70L389.00,482.14L389.04,480.24L389.50,479.72L390.00,485.89L390.50,486.44L391.00,486.63L391.50,487.62L392.00,487.92L392.50,487.88L393.00,488.38L393.50,488.24L394.00,488.38L394.50,489.18L395.00,488.60L395.50,488.89L396.00,488.96L396.50,488.42L397.00,489.14L397.50,488.06L398.00,488.75L398.50,487.84L399.00,488.65L399.50,488.29L400.00,488.57L400.50,488.50L401.00,489.02L401.50,488.70L402.00,487.49L402.50,487.66L403.00,487.06L403.50,488.32L404.00,487.05L404.50,488.24L405.00,487.78L405.50,488.06L406.00,486.23L406.50,488.50L407.00,489.03L407.50,488.59L408.00,486.58L408.50,486.83L409.00,488.59L409.50,489.02L410.00,489.25L410.50,489.61L411.00,489.76L411.50,488.56L412.00,487.91L412.50,487.53L413.00,487.11L413.50,486.93L414.00,482.90L414.50,483.86L415.00,485.27L415.50,485.43L416.00,487.42L416.50,486.56L417.00,487.43L417.50,487.66L418.00,487.33L418.50,488.03L419.00,488.29L419.50,488.41L420.00,488.24L420.50,486.85L421.00,489.47L421.50,488.07L422.00,489.65L422.50,489.30L423.00,489.38L423.50,489.03L424.00,489.17L424.50,487.39L425.00,488.76L425.50,488.50L426.00,488.58L426.50,488.34L427.00,487.87L427.50,487.19L428.00,487.18L428.50,487.96L429.00,489.27L429.50,489.67L430.00,489.70L430.50,489.67L431.00,489.91L431.50,489.98L432.00,489.72L432.50,489.85L433.00,488.15L433.50,490.00L434.00,489.64L434.50,489.60L435.00,489.00L435.50,488.79L436.00,488.02L436.50,486.52L437.00,484.28L437.50,481.46L437.90,480.24L438.00,480.31L438.50,481.13L439.00,483.01L439.50,484.34L440.00,484.80L440.50,486.06L441.00,487.54L441.50,488.04L442.00,488.69L442.50,488.67L443.00,488.92L443.50,489.18L444.00,489.55L444.50,486.47L445.00,488.20L445.50,486.41L446.00,484.58L446.50,482.96L447.00,481.98L447.50,483.02L448.00,473.66L448.29,478.17L448.50,480.97L449.00,485.05L449.50,489.13L450.00,489.38L450.50,489.75L451.00,489.57L451.50,489.92L452.00,488.21L452.50,489.82L453.00,489.53L453.50,489.54L454.00,489.94L454.50,489.64L455.00,489.87L455.50,489.92L456.00,489.62L456.50,489.67L457.00,489.60L457.50,489.59L458.00,489.87L458.50,489.61L459.00,489.95L459.50,489.81L460.00,489.27L460.50,489.45L461.00,488.93L461.50,487.23L462.00,489.25L462.50,489.07L463.00,489.37L463.50,489.65L464.00,489.61L464.50,489.40L465.00,489.76L465.50,489.70L466.00,489.19L466.50,489.12L467.00,488.45L467.50,489.37L468.00,489.53L468.50,487.88L469.00,489.72L469.50,488.29L470.00,489.62L470.50,489.92L471.00,489.56L471.50,489.91L472.00,488.05L472.50,489.70L473.00,489.73L473.50,489.62L474.00,489.94L474.50,488.08L475.00,489.71L475.50,489.86L476.00,489.90L476.50,489.56L477.00,488.07L477.50,489.65L478.00,489.70L478.50,489.68L479.00,489.53L479.50,489.74L480.00,489.70L480.50,489.69L481.00,489.44L481.50,489.06L482.00,489.22L482.50,489.34L483.00,488.74L483.50,489.36L484.00,489.04L484.50,488.74L485.00,489.02L485.50,488.40L486.00,488.18L486.50,488.18L487.00,488.02L487.50,485.92L488.00,487.69L488.50,488.33L489.00,487.43L489.50,488.37L490.00,487.76L490.50,487.98L491.00,488.74L491.50,488.36L492.00,487.73L492.50,488.61L493.00,488.13L493.50,488.53L494.00,488.50L494.50,488.30L495.00,486.44L495.00,490.64Z" fill="#1a1acc"/>
<line x1="284.00" y1="490.64" x2="500.10" y2="490.64" stroke="#333" stroke-width="0.8"/>
<line x1="500.10" y1="471.04" x2="500.10" y2="509.64" stroke="#333" stroke-width="0.6"/>
<path d="M499.20,472.64 L500.10,470.74 L501.00,472.64 Z" fill="#222"/>
<path d="M499.20,508.04 L500.10,509.94 L501.00,508.04 Z" fill="#222"/>
<text transform="translate(505.80,490.94) rotate(-90)" font-size="6.5" font-weight="normal" text-anchor="middle" dominant-baseline="central" fill="#111" >H3K27 H3K4</text>
<text transform="translate(514.40,491.94) rotate(-90)" font-size="6.5" font-weight="normal" text-anchor="middle" dominant-baseline="central" fill="#111" >AML5</text>
<text transform="translate(280.60,470.14) rotate(-90)" font-size="5.4" text-anchor="middle" dominant-baseline="central" fill="#222">4</text>
<text transform="translate(280.60,479.64) rotate(-90)" font-size="5.4" text-anchor="middle" dominant-baseline="central" fill="#222">2</text>
<text transform="translate(280.60,490.64) rotate(-90)" font-size="5.4" text-anchor="middle" dominant-baseline="central" fill="#222">0</text>
<text transform="translate(280.60,501.64) rotate(-90)" font-size="5.4" text-anchor="middle" dominant-baseline="central" fill="#222">2</text>
<text transform="translate(280.60,510.84) rotate(-90)" font-size="5.4" text-anchor="middle" dominant-baseline="central" fill="#222">4</text>
<path d="M284.00,535.72L284.00,544.04L284.50,545.06L285.00,547.81L285.50,549.20L286.00,550.28L286.50,548.26L287.00,548.20L287.50,548.15L288.00,547.04L288.50,545.98L289.00,544.53L289.50,543.80L290.00,542.41L290.50,544.41L291.00,545.88L291.50,547.48L292.00,549.24L292.50,547.45L293.00,549.11L293.50,547.94L294.00,547.08L294.50,545.74L295.00,543.93L295.50,543.03L296.00,543.09L296.50,544.29L297.00,545.28L297.00,545.44L297.50,546.75L298.00,549.98L298.50,550.91L299.00,548.76L299.50,551.25L300.00,551.87L300.50,549.64L301.00,551.11L301.50,549.34L302.00,547.94L302.50,547.57L303.00,549.26L303.50,548.15L304.00,546.28L304.50,548.05L305.00,549.10L305.50,547.75L306.00,549.71L306.50,546.84L307.00,539.32L307.50,536.92L308.00,536.96L308.50,536.74L309.00,539.32L309.50,536.93L310.00,536.83L310.50,536.83L311.00,536.95L311.50,549.54L312.00,550.36L312.50,558.27L313.00,551.29L313.50,552.32L314.00,552.41L314.50,554.65L315.00,554.06L315.50,551.56L316.00,551.13L316.50,549.41L317.00,549.47L317.50,549.53L318.00,549.87L318.50,548.24L319.00,550.71L319.50,550.21L320.00,550.40L320.50,552.76L321.00,550.78L321.50,552.91L322.00,555.47L322.50,551.24L323.00,551.94L323.50,550.11L324.00,556.92L324.50,550.62L325.00,550.30L325.50,550.36L326.00,552.73L326.50,551.83L327.00,550.54L327.50,550.67L328.00,549.76L328.50,549.65L329.00,552.82L329.50,552.17L330.00,554.16L330.50,552.74L331.00,558.04L331.50,555.20L332.00,559.58L332.50,558.16L333.00,553.84L333.50,554.30L334.00,551.49L334.50,550.15L335.00,558.27L335.50,549.46L336.00,556.92L336.50,548.70L337.00,549.17L337.50,548.54L338.00,546.61L338.50,546.20L339.00,545.60L339.50,543.52L340.00,542.06L340.50,541.90L341.00,536.95L341.50,536.89L342.00,536.74L342.50,536.83L343.00,536.82L343.50,536.75L344.00,536.96L344.50,536.80L345.00,536.72L345.50,536.93L346.00,536.78L346.50,536.84L347.00,536.94L347.50,536.75L348.00,536.73L348.50,536.81L349.00,536.77L349.50,536.86L350.00,536.87L350.50,539.32L351.00,536.84L351.50,536.81L352.00,536.81L352.50,536.76L353.00,536.90L353.50,547.96L354.00,548.68L354.50,549.89L355.00,550.82L355.50,550.59L356.00,558.27L356.50,551.95L357.00,550.05L357.50,548.28L358.00,547.95L358.50,549.76L359.00,550.85L359.50,553.86L360.00,555.49L360.50,553.41L361.00,553.09L361.50,552.65L362.00,553.11L362.50,558.27L363.00,551.76L363.50,549.44L364.00,549.13L364.50,549.34L365.00,549.86L365.50,552.40L366.00,550.56L366.50,552.73L367.00,553.06L367.50,551.83L368.00,553.36L368.50,551.48L369.00,552.59L369.50,551.84L370.00,549.94L370.50,554.41L371.00,554.02L371.50,554.12L372.00,557.44L372.50,555.82L373.00,551.73L373.50,550.86L374.00,552.47L374.50,551.31L375.00,538.11L375.50,538.01L376.00,537.98L376.50,537.75L377.00,537.45L377.50,537.07L378.00,536.85L378.50,536.76L379.00,536.92L379.50,536.81L380.00,536.77L380.50,536.85L381.00,536.85L381.50,552.98L382.00,553.74L382.00,553.94L382.50,555.80L383.00,554.58L383.50,556.00L384.00,555.15L384.50,553.58L385.00,557.32L385.50,558.27L386.00,558.27L386.50,558.39L387.00,556.73L387.50,552.35L388.00,552.11L388.50,556.09L389.00,556.27L389.50,555.88L390.00,554.93L390.50,553.71L391.00,551.24L391.50,550.41L392.00,548.79L392.50,550.03L393.00,546.91L393.50,553.38L394.00,546.17L394.50,544.01L395.00,538.28L395.50,538.01L396.00,541.05L396.50,537.94L397.00,537.51L397.50,537.52L398.00,536.99L398.50,536.95L399.00,537.01L399.50,536.86L400.00,547.90L400.50,549.75L401.00,548.99L401.50,549.48L402.00,550.92L402.50,553.20L403.00,550.73L403.50,553.79L404.00,554.96L404.50,553.91L405.00,552.69L405.50,552.37L406.00,553.28L406.50,552.99L407.00,552.73L407.50,551.10L408.00,552.18L408.50,551.26L409.00,549.89L409.50,549.46L410.00,551.50L410.50,558.27L411.00,551.17L411.50,554.53L412.00,551.49L412.50,554.41L413.00,553.38L413.50,554.48L413.99,554.83L414.00,551.50L414.50,552.73L415.00,551.39L415.50,552.57L416.00,552.34L416.50,551.55L417.00,549.82L417.50,550.47L418.00,549.77L418.50,552.25L419.00,551.28L419.50,552.54L420.00,551.64L420.50,550.33L421.00,558.10L421.50,550.49L422.00,551.13L422.50,550.21L423.00,552.64L423.50,550.58L424.00,551.23L424.50,549.64L425.00,549.93L425.50,551.21L426.00,551.29L426.50,550.67L427.00,552.06L427.50,552.44L428.00,550.39L428.50,537.99L429.00,537.85L429.50,538.25L430.00,538.09L430.50,537.86L431.00,537.95L431.50,537.96L432.00,538.04L432.50,538.26L433.00,538.10L433.50,545.62L434.00,546.44L434.50,547.70L435.00,549.95L435.50,557.17L436.00,549.17L436.50,552.83L437.00,552.54L437.50,554.84L438.00,557.00L438.50,555.56L439.00,555.73L439.50,557.52L440.00,560.29L440.50,556.87L441.00,556.45L441.50,556.05L442.00,553.24L442.50,552.13L443.00,554.41L443.50,553.13L444.00,552.60L444.50,553.14L445.00,558.27L445.50,558.27L446.00,550.68L446.50,558.14L447.00,551.49L447.50,552.38L448.00,553.04L448.50,550.71L449.00,549.59L449.50,558.27L450.00,551.71L450.50,549.68L451.00,549.21L451.50,552.44L452.00,552.34L452.50,550.29L453.00,550.87L453.50,551.97L454.00,551.27L454.50,550.60L455.00,558.27L455.50,549.31L456.00,550.76L456.50,550.89L457.00,550.04L457.50,549.74L458.00,550.48L458.50,551.50L459.00,549.27L459.50,558.27L460.00,550.17L460.50,551.70L461.00,551.98L461.50,552.70L462.00,550.07L462.50,549.36L463.00,549.45L463.50,552.48L464.00,550.95L464.50,554.54L465.00,558.27L465.50,554.04L466.00,555.36L466.50,557.66L467.00,554.76L467.50,554.40L468.00,553.81L468.50,553.88L469.00,552.06L469.50,552.66L470.00,551.58L470.50,549.94L471.00,550.62L471.50,549.66L472.00,551.22L472.50,550.80L473.00,552.01L473.50,558.27L474.00,552.37L474.50,549.30L475.00,549.22L475.50,550.39L476.00,549.63L476.50,549.44L477.00,551.91L477.50,550.63L478.00,551.78L478.50,552.00L479.00,551.64L479.50,557.72L480.00,549.55L480.50,549.60L481.00,552.26L481.50,558.27L482.00,551.47L482.50,553.64L483.00,554.40L483.50,552.81L484.00,553.40L484.50,554.24L485.00,550.13L485.50,550.11L486.00,549.84L486.50,551.51L487.00,551.15L487.50,552.46L488.00,554.15L488.50,553.48L489.00,552.34L489.50,553.76L490.00,552.24L490.50,553.30L491.00,553.52L491.50,549.24L492.00,549.70L492.50,550.19L493.00,549.52L493.50,546.75L494.00,547.68L494.50,546.94L495.00,547.17L495.00,535.72Z" fill="#f80e0e" fill-opacity="0.45"/>
<path d="M284.00,535.72L284.00,543.74L284.50,545.40L285.00,545.44L285.50,546.68L286.00,548.57L286.50,547.06L287.00,545.87L287.50,546.19L288.00,546.24L288.50,544.19L289.00,543.44L289.50,543.17L290.00,541.52L290.50,543.68L291.00,544.90L291.50,546.80L292.00,546.88L292.50,547.66L293.00,546.62L293.50,547.38L294.00,545.39L294.50,544.28L295.00,543.71L295.50,542.72L296.00,541.04L296.50,543.02L297.00,543.95L297.00,544.09L297.50,545.16L298.00,547.56L298.50,546.32L299.00,547.16L299.50,548.29L300.00,548.08L300.50,549.32L301.00,547.92L301.50,547.20L302.00,547.57L302.50,546.20L303.00,547.12L303.50,544.61L304.00,546.56L304.50,536.25L305.00,536.27L305.50,547.06L306.00,548.02L306.50,546.83L307.00,536.77L307.50,536.57L308.00,536.64L308.50,536.72L309.00,536.78L309.50,536.64L310.00,536.59L310.50,536.73L311.00,536.68L311.50,536.35L312.00,536.35L312.50,550.67L313.00,552.44L313.50,551.52L314.00,552.60L314.50,551.52L315.00,551.50L315.50,551.03L316.00,548.28L316.50,536.39L317.00,536.37L317.50,546.71L318.00,546.32L318.50,548.37L319.00,548.00L319.50,547.38L320.00,550.43L320.50,549.70L321.00,550.18L321.50,550.86L322.00,536.52L322.50,536.47L323.00,549.23L323.50,548.03L324.00,546.79L324.50,547.26L325.00,548.28L325.50,547.06L326.00,547.41L326.50,547.25L327.00,548.32L327.50,547.81L328.00,547.45L328.50,548.63L329.00,548.59L329.50,551.61L330.00,551.23L330.50,552.82L331.00,552.38L331.50,555.13L332.00,555.45L332.50,551.76L333.00,551.23L333.50,551.15L334.00,548.51L334.50,549.13L335.00,548.10L335.50,536.35L336.00,536.32L336.50,545.73L337.00,546.04L337.50,545.26L338.00,544.43L338.50,544.21L339.00,543.28L339.50,536.07L340.00,536.02L340.50,540.71L341.00,536.71L341.50,536.62L342.00,536.62L342.50,536.69L343.00,536.64L343.50,536.70L344.00,536.64L344.50,536.66L345.00,536.72L345.50,536.73L346.00,535.77L346.50,535.77L347.00,536.77L347.50,536.78L348.00,536.65L348.50,536.69L349.00,536.76L349.50,536.77L350.00,536.71L350.50,536.75L351.00,536.85L351.50,536.67L352.00,536.60L352.50,536.54L353.00,536.64L353.50,545.45L354.00,546.03L354.50,546.09L355.00,547.00L355.50,547.39L356.00,548.56L356.50,548.01L357.00,548.16L357.50,546.64L358.00,546.97L358.50,547.02L359.00,548.91L359.50,550.96L360.00,554.27L360.50,552.08L361.00,551.64L361.50,551.55L362.00,548.52L362.50,548.32L363.00,547.83L363.50,547.04L364.00,548.02L364.50,547.87L365.00,548.06L365.50,536.39L366.00,536.42L366.50,548.40L367.00,549.32L367.50,550.45L368.00,551.31L368.50,548.72L369.00,536.47L369.50,536.45L370.00,550.47L370.50,551.39L371.00,553.06L371.50,554.22L372.00,555.61L372.50,552.46L373.00,551.29L373.50,549.85L374.00,550.01L374.50,546.99L375.00,537.83L375.50,537.63L376.00,537.69L376.50,537.56L377.00,537.20L377.50,536.94L378.00,536.63L378.50,536.69L379.00,536.66L379.50,536.76L380.00,536.68L380.50,536.68L381.00,536.70L381.50,550.73L382.00,550.72L382.00,552.75L382.50,553.52L383.00,550.86L383.50,549.52L384.00,551.77L384.50,553.01L385.00,554.55L385.50,555.14L386.00,553.83L386.50,553.44L387.00,553.09L387.50,550.21L388.00,548.51L388.50,553.87L389.00,550.73L389.50,551.48L390.00,552.14L390.50,551.73L391.00,550.35L391.50,547.87L392.00,547.95L392.50,546.41L393.00,546.56L393.50,544.41L394.00,543.47L394.50,542.76L395.00,535.82L395.50,535.82L396.00,537.70L396.50,537.43L397.00,537.38L397.50,537.05L398.00,536.94L398.50,536.67L399.00,536.66L399.50,536.61L400.00,545.75L400.50,547.85L401.00,547.59L401.50,547.97L402.00,548.99L402.50,550.19L403.00,551.82L403.50,550.95L404.00,550.37L404.50,550.76L405.00,551.43L405.50,550.27L406.00,550.28L406.50,536.46L407.00,536.43L407.50,536.41L408.00,536.38L408.50,536.36L409.00,536.35L409.50,549.38L410.00,549.15L410.50,549.38L411.00,552.24L411.50,550.49L412.00,549.85L412.50,553.35L413.00,553.58L413.50,552.76L413.99,551.59L414.00,550.88L414.50,550.69L415.00,550.50L415.50,549.07L416.00,549.58L416.50,549.70L417.00,547.77L417.50,548.18L418.00,548.65L418.50,550.49L419.00,549.67L419.50,550.02L420.00,547.31L420.50,548.83L421.00,548.57L421.50,548.20L422.00,546.88L422.50,549.56L423.00,549.52L423.50,551.55L424.00,548.78L424.50,549.59L425.00,548.95L425.50,548.12L426.00,548.68L426.50,548.33L427.00,549.29L427.50,551.64L428.00,549.95L428.50,537.78L429.00,538.00L429.50,537.94L430.00,537.60L430.50,537.79L431.00,537.83L431.50,537.70L432.00,538.04L432.50,537.81L433.00,537.97L433.50,544.32L434.00,545.35L434.50,545.20L435.00,547.07L435.50,547.15L436.00,547.72L436.50,549.60L437.00,550.45L437.50,555.14L438.00,551.59L438.50,536.69L439.00,536.71L439.50,536.74L440.00,536.76L440.50,552.41L441.00,554.23L441.50,550.24L442.00,551.38L442.50,551.86L443.00,549.10L443.50,549.50L444.00,552.23L444.50,549.03L445.00,549.39L445.50,548.70L446.00,549.73L446.50,548.20L447.00,550.25L447.50,550.70L448.00,550.30L448.50,551.16L449.00,550.37L449.50,548.38L450.00,548.68L450.50,546.45L451.00,548.76L451.50,547.17L452.00,548.26L452.50,548.80L453.00,549.78L453.50,547.82L454.00,548.62L454.50,547.09L455.00,547.26L455.50,548.29L456.00,548.11L456.50,550.90L457.00,549.12L457.50,550.17L458.00,549.33L458.50,549.21L459.00,548.93L459.50,549.68L460.00,548.45L460.50,549.46L461.00,549.75L461.50,549.56L462.00,548.23L462.50,547.19L463.00,547.61L463.50,548.10L464.00,550.50L464.50,551.33L465.00,550.20L465.50,550.60L466.00,552.78L466.50,553.91L467.00,554.37L467.50,553.49L468.00,552.77L468.50,551.52L469.00,551.00L469.50,550.38L470.00,536.40L470.50,536.38L471.00,549.08L471.50,549.98L472.00,549.98L472.50,550.33L473.00,536.44L473.50,536.43L474.00,549.49L474.50,547.49L475.00,547.87L475.50,547.28L476.00,547.02L476.50,549.51L477.00,550.07L477.50,550.11L478.00,549.25L478.50,547.81L479.00,547.06L479.50,547.75L480.00,547.93L480.50,547.65L481.00,548.48L481.50,548.33L482.00,548.79L482.50,549.75L483.00,550.24L483.50,536.54L484.00,536.52L484.50,551.35L485.00,549.34L485.50,547.50L486.00,549.06L486.50,549.43L487.00,550.84L487.50,550.11L488.00,550.47L488.50,551.38L489.00,550.96L489.50,550.84L490.00,552.35L490.50,536.49L491.00,536.44L491.50,550.02L492.00,547.44L492.50,547.44L493.00,545.59L493.50,547.46L494.00,547.11L494.50,544.99L495.00,546.24L495.00,535.72Z" fill="#f80e0e"/>
<path d="M284.00,535.72L284.00,534.82L284.50,534.69L285.00,534.72L285.50,535.02L286.00,535.08L286.50,534.64L287.00,534.70L287.50,534.58L288.00,533.87L288.50,533.85L289.00,533.71L289.50,533.31L290.00,533.44L290.50,533.27L291.00,532.88L291.50,531.66L292.00,530.50L292.50,530.70L293.00,530.52L293.50,531.03L294.00,526.49L294.50,529.51L295.00,528.93L295.50,527.98L296.00,527.04L296.50,526.33L297.00,520.72L297.00,520.72L297.50,524.22L298.00,529.15L298.50,529.24L299.00,531.97L299.50,531.69L300.00,532.35L300.50,532.72L301.00,528.26L301.50,531.20L302.00,530.49L302.50,531.89L303.00,532.74L303.50,531.77L304.00,532.91L304.50,532.65L305.00,532.65L305.50,532.40L306.00,533.12L306.50,533.24L307.00,533.96L307.50,534.30L308.00,534.98L308.50,534.68L309.00,534.82L309.50,534.66L310.00,534.78L310.50,534.18L311.00,533.24L311.50,533.00L312.00,532.76L312.50,531.99L313.00,530.51L313.50,531.98L314.00,531.22L314.50,531.98L315.00,531.67L315.50,532.43L316.00,532.84L316.50,529.17L317.00,532.23L317.50,530.90L318.00,531.71L318.50,528.41L319.00,531.80L319.50,531.32L320.00,531.88L320.50,530.27L321.00,532.22L321.50,532.75L322.00,533.19L322.50,530.93L323.00,532.88L323.50,532.89L324.00,532.66L324.50,531.30L325.00,532.27L325.50,527.78L326.00,531.45L326.50,531.86L327.00,531.39L327.50,532.27L328.00,532.44L328.50,532.30L329.00,531.78L329.50,532.99L330.00,532.74L330.50,530.46L331.00,529.94L331.50,530.68L332.00,530.09L332.50,531.66L333.00,530.70L333.50,530.81L334.00,532.24L334.50,530.98L335.00,530.66L335.50,529.52L336.00,530.74L336.50,530.48L337.00,530.73L337.50,531.12L338.00,529.94L338.50,531.68L339.00,530.81L339.50,531.14L340.00,532.37L340.50,531.46L341.00,531.48L341.50,532.11L342.00,532.58L342.50,532.64L343.00,531.61L343.50,529.94L344.00,533.22L344.50,532.84L345.00,533.53L345.50,532.27L346.00,528.56L346.50,531.42L347.00,531.33L347.50,532.75L348.00,531.52L348.50,531.58L349.00,531.77L349.50,531.21L350.00,532.10L350.50,531.29L351.00,531.80L351.50,532.09L352.00,530.66L352.50,529.75L353.00,528.90L353.50,530.85L354.00,527.56L354.50,528.93L355.00,528.43L355.50,526.85L356.00,522.66L356.50,526.16L357.00,529.81L357.50,529.06L358.00,526.05L358.50,529.65L359.00,531.10L359.50,529.64L360.00,528.04L360.50,529.37L361.00,529.82L361.50,530.53L362.00,530.32L362.50,531.76L363.00,530.93L363.50,531.49L364.00,533.41L364.50,533.54L365.00,534.05L365.50,531.18L366.00,534.00L366.50,532.67L367.00,534.56L367.50,534.67L368.00,534.72L368.50,534.80L369.00,534.64L369.50,534.69L370.00,534.89L370.50,534.86L371.00,534.90L371.50,535.01L372.00,534.76L372.50,534.80L373.00,534.98L373.50,534.92L374.00,534.74L374.50,534.76L375.00,534.64L375.50,534.73L376.00,535.00L376.50,535.00L377.00,533.38L377.50,534.73L378.00,533.44L378.50,534.66L379.00,534.82L379.50,534.87L380.00,534.82L380.50,533.91L381.00,531.39L381.50,529.82L382.00,528.72L382.00,528.72L382.50,531.20L383.00,531.48L383.50,533.03L384.00,532.28L384.50,533.69L385.00,534.43L385.50,534.68L386.00,532.47L386.50,534.73L387.00,534.88L387.50,534.55L388.00,535.00L388.50,534.27L389.00,534.03L389.50,533.69L390.00,534.20L390.50,534.25L391.00,534.09L391.50,533.69L392.00,532.43L392.50,533.50L393.00,533.35L393.50,531.70L394.00,531.97L394.50,529.63L395.00,533.62L395.50,532.46L396.00,532.92L396.50,532.88L397.00,533.45L397.50,533.69L398.00,533.81L398.50,533.67L399.00,530.87L399.50,533.69L400.00,532.58L400.50,531.64L401.00,531.63L401.50,531.57L402.00,531.60L402.50,530.68L403.00,528.82L403.50,529.81L404.00,529.05L404.50,528.79L405.00,528.16L405.50,527.50L406.00,527.53L406.50,527.20L407.00,527.35L407.50,529.16L408.00,523.29L408.50,529.42L409.00,529.24L409.50,525.28L410.00,526.52L410.50,529.49L411.00,528.72L411.50,530.58L412.00,530.74L412.50,531.24L413.00,532.33L413.50,530.96L413.99,529.48L414.00,531.77L414.50,530.90L415.00,533.35L415.50,533.47L416.00,533.21L416.50,533.96L417.00,533.61L417.50,533.59L418.00,534.13L418.50,534.21L419.00,534.02L419.50,532.32L420.00,534.28L420.50,534.59L421.00,534.61L421.50,534.94L422.00,534.93L422.50,534.73L423.00,533.13L423.50,534.60L424.00,534.99L424.50,535.02L425.00,533.18L425.50,534.87L426.00,535.03L426.50,535.12L427.00,535.08L427.50,535.29L428.00,535.42L428.50,535.43L429.00,535.61L429.50,535.70L430.00,535.67L430.50,535.62L431.00,535.55L431.50,535.55L432.00,535.44L432.50,535.36L433.00,534.12L433.50,535.32L434.00,535.27L434.50,535.26L435.00,533.75L435.50,534.98L436.00,534.88L436.50,535.06L437.00,534.93L437.50,535.01L438.00,534.64L438.50,534.64L439.00,535.09L439.50,535.00L440.00,534.81L440.50,534.63L441.00,534.77L441.50,534.91L442.00,534.79L442.50,534.71L443.00,534.80L443.50,534.92L444.00,535.11L444.50,535.05L445.00,534.66L445.50,534.73L446.00,534.78L446.50,535.04L447.00,534.68L447.50,534.77L448.00,534.92L448.50,534.64L449.00,534.97L449.50,534.78L450.00,534.91L450.50,534.98L451.00,534.71L451.50,534.96L452.00,534.81L452.50,534.79L453.00,534.38L453.50,534.24L454.00,534.64L454.50,534.63L455.00,534.50L455.50,532.54L456.00,534.15L456.50,534.60L457.00,534.08L457.50,534.31L458.00,534.33L458.50,534.04L459.00,533.67L459.50,534.18L460.00,534.63L460.50,534.07L461.00,535.72L461.50,535.72L462.00,535.72L462.50,535.72L463.00,535.72L463.50,535.72L464.00,535.72L464.50,535.72L465.00,535.72L465.50,535.72L466.00,535.72L466.50,535.72L467.00,535.72L467.50,535.72L468.00,535.72L468.50,535.72L469.00,535.72L469.50,535.72L470.00,535.72L470.50,535.72L471.00,535.72L471.50,535.67L472.00,535.59L472.50,535.48L473.00,535.38L473.50,535.42L474.00,535.24L474.50,535.38L475.00,535.07L475.50,535.27L476.00,534.99L476.50,535.12L477.00,534.79L477.50,534.85L478.00,534.73L478.50,534.65L479.00,534.83L479.50,534.65L480.00,533.33L480.50,534.67L481.00,534.60L481.50,534.61L482.00,534.93L482.50,535.02L483.00,534.97L483.50,534.63L484.00,534.84L484.50,534.70L485.00,534.74L485.50,534.78L486.00,534.66L486.50,534.82L487.00,534.90L487.50,534.89L488.00,535.11L488.50,534.85L489.00,534.79L489.50,534.90L490.00,534.93L490.50,535.08L491.00,535.26L491.50,535.19L492.00,535.20L492.50,535.27L493.00,535.34L493.50,534.26L494.00,535.48L494.50,535.55L495.00,535.59L495.00,535.72Z" fill="#1a1acc"/>
<line x1="284.00" y1="535.72" x2="500.10" y2="535.72" stroke="#333" stroke-width="0.8"/>
<line x1="500.10" y1="516.12" x2="500.10" y2="554.72" stroke="#333" stroke-width="0.6"/>
<path d="M499.20,517.72 L500.10,515.82 L501.00,517.72 Z" fill="#222"/>
<path d="M499.20,553.12 L500.10,555.02 L501.00,553.12 Z" fill="#222"/>
<text transform="translate(505.80,536.02) rotate(-90)" font-size="6.5" font-weight="normal" text-anchor="middle" dominant-baseline="central" fill="#111" >H3K27 H3K4</text>
<text transform="translate(514.40,537.02) rotate(-90)" font-size="6.5" font-weight="normal" text-anchor="middle" dominant-baseline="central" fill="#111" >AML6</text>
<text transform="translate(280.60,515.22) rotate(-90)" font-size="5.4" text-anchor="middle" dominant-baseline="central" fill="#222">4</text>
<text transform="translate(280.60,524.72) rotate(-90)" font-size="5.4" text-anchor="middle" dominant-baseline="central" fill="#222">2</text>
<text transform="translate(280.60,535.72) rotate(-90)" font-size="5.4" text-anchor="middle" dominant-baseline="central" fill="#222">0</text>
<text transform="translate(280.60,546.72) rotate(-90)" font-size="5.4" text-anchor="middle" dominant-baseline="central" fill="#222">2</text>
<text transform="translate(280.60,555.92) rotate(-90)" font-size="5.4" text-anchor="middle" dominant-baseline="central" fill="#222">4</text>
<path d="M284.00,580.80L284.00,593.48L284.50,593.93L285.00,595.77L285.50,595.53L286.00,595.52L286.50,596.42L287.00,595.12L287.50,592.83L288.00,593.26L288.50,590.15L289.00,588.23L289.50,587.12L290.00,584.87L290.50,587.02L291.00,588.61L291.50,590.01L292.00,598.80L292.50,592.24L293.00,593.09L293.50,594.76L294.00,602.00L294.50,594.28L295.00,581.81L295.50,581.91L296.00,581.91L296.50,581.92L297.00,582.02L297.00,581.85L297.50,594.12L298.00,596.15L298.50,595.43L299.00,596.21L299.50,593.98L300.00,593.52L300.50,593.89L301.00,594.14L301.50,594.33L302.00,595.99L302.50,603.35L303.00,599.33L303.50,598.20L304.00,600.01L304.50,599.03L305.00,596.85L305.50,595.55L306.00,593.17L306.50,593.97L307.00,582.99L307.50,583.15L308.00,582.89L308.50,582.83L309.00,582.36L309.50,582.24L310.00,582.04L310.50,581.94L311.00,581.86L311.50,599.72L312.00,599.77L312.50,602.20L313.00,602.57L313.50,600.77L314.00,604.59L314.50,604.82L315.00,600.35L315.50,600.94L316.00,599.30L316.50,599.73L317.00,603.35L317.50,600.83L318.00,601.12L318.50,602.76L319.00,602.04L319.50,599.88L320.00,602.19L320.50,600.31L321.00,602.83L321.50,601.87L322.00,603.81L322.50,604.49L323.00,602.70L323.50,602.48L324.00,603.90L324.50,603.44L325.00,602.32L325.50,601.41L326.00,601.32L326.50,603.63L327.00,601.43L327.50,603.12L328.00,602.17L328.00,604.04L328.50,604.20L329.00,602.82L329.50,605.43L330.00,606.28L330.50,607.65L331.00,607.03L331.50,606.42L332.00,603.85L332.50,600.42L333.00,604.37L333.50,599.32L334.00,603.20L334.50,603.11L335.00,602.95L335.50,602.59L336.00,601.29L336.50,601.29L337.00,600.56L337.50,599.76L338.00,599.34L338.50,599.17L339.00,597.35L339.50,594.79L340.00,595.20L340.50,593.42L341.00,581.95L341.50,582.00L342.00,581.89L342.50,581.84L343.00,581.96L343.50,581.98L344.00,581.95L344.50,582.04L345.00,581.99L345.50,581.87L346.00,582.04L346.50,581.93L347.00,581.93L347.50,581.87L348.00,581.92L348.50,581.99L349.00,590.31L349.50,581.93L350.00,582.05L350.50,581.93L351.00,582.00L351.50,581.87L352.00,581.94L352.50,581.88L353.00,581.90L353.50,597.58L354.00,595.66L354.50,600.53L355.00,600.40L355.50,602.26L356.00,599.86L356.50,603.90L357.00,603.81L357.50,604.34L358.00,605.54L358.50,604.58L359.00,602.65L359.50,603.79L360.00,602.96L360.50,603.76L361.00,601.24L361.50,604.24L362.00,601.31L362.50,603.35L363.00,601.84L363.50,601.62L364.00,599.86L364.50,602.85L365.00,601.08L365.50,603.35L366.00,602.21L366.50,601.75L367.00,603.35L367.50,602.58L368.00,602.25L368.50,600.47L369.00,602.03L369.50,602.95L370.00,605.59L370.50,600.93L371.00,604.40L371.50,599.66L372.00,602.83L372.50,603.35L373.00,604.51L373.50,600.94L374.00,603.62L374.50,604.17L375.00,602.30L375.50,600.83L376.00,597.88L376.50,596.15L377.00,581.93L377.50,581.87L378.00,581.95L378.50,582.05L379.00,581.81L379.50,582.02L380.00,581.84L380.50,581.86L381.00,584.40L381.50,599.76L382.00,598.60L382.50,599.53L383.00,601.68L383.50,603.57L384.00,604.38L384.50,604.42L385.00,603.16L385.50,603.52L386.00,603.23L386.50,600.74L387.00,599.92L387.50,598.57L388.00,598.62L388.50,602.10L389.00,604.35L389.50,601.31L390.00,601.62L390.50,600.60L391.00,601.83L391.50,599.80L392.00,598.16L392.50,595.66L393.00,581.98L393.50,582.04L394.00,581.85L394.50,581.85L395.00,581.95L395.50,582.02L396.00,581.92L396.50,581.91L397.00,581.94L397.50,582.06L398.00,584.46L398.50,581.90L399.00,581.95L399.50,582.03L400.00,592.42L400.50,593.59L401.00,596.08L401.50,595.75L402.00,599.60L402.50,598.31L403.00,603.35L403.50,601.13L404.00,600.08L404.50,600.68L405.00,599.19L405.50,602.85L406.00,602.33L406.50,599.36L407.00,597.93L407.50,598.61L408.00,596.65L408.50,597.19L409.00,595.92L409.50,599.18L410.00,599.69L410.50,602.35L411.00,602.42L411.50,600.95L412.00,600.79L412.50,597.93L413.00,603.35L413.50,602.24L414.00,602.43L414.50,603.35L415.00,600.92L415.50,601.54L416.00,600.68L416.50,602.17L417.00,599.53L417.50,598.00L418.00,601.22L418.50,599.21L419.00,599.38L419.50,600.84L420.00,599.81L420.50,598.83L421.00,600.10L421.50,603.35L422.00,601.98L422.50,602.68L423.00,603.35L423.50,601.66L424.00,599.53L424.50,600.80L425.00,599.24L425.50,598.11L426.00,599.29L426.50,598.32L427.00,603.35L427.50,597.33L428.00,594.61L428.50,582.07L429.00,581.95L429.50,582.06L430.00,582.27L430.50,582.41L431.00,582.93L431.50,582.85L432.00,583.30L432.50,583.18L433.00,586.13L433.50,596.63L434.00,598.68L434.50,599.67L435.00,599.40L435.50,601.86L436.00,602.51L436.50,599.82L437.00,600.08L437.50,598.91L438.00,597.55L438.50,599.89L439.00,599.30L439.50,602.45L440.00,602.47L440.50,601.86L441.00,603.35L441.50,598.86L442.00,597.93L442.50,601.26L443.00,600.29L443.50,602.36L444.00,603.03L444.50,599.85L445.00,600.65L445.50,599.43L446.00,601.42L446.50,600.39L447.00,602.71L447.50,600.08L448.00,604.04L448.50,604.39L449.00,601.94L449.50,600.94L450.00,598.42L450.50,599.26L451.00,601.08L451.50,599.95L452.00,602.17L452.50,600.61L453.00,602.81L453.50,600.49L454.00,598.37L454.50,598.93L455.00,597.51L455.50,598.88L456.00,599.67L456.50,603.35L457.00,596.78L457.50,600.05L458.00,597.65L458.50,597.85L459.00,599.36L459.50,600.11L460.00,599.86L460.50,598.77L461.00,595.98L461.50,599.69L462.00,598.11L462.50,600.95L463.00,599.37L463.50,599.03L464.00,603.35L464.50,599.08L465.00,598.69L465.50,598.42L466.00,600.09L466.50,597.11L467.00,598.80L467.50,599.80L468.00,602.45L468.50,600.96L469.00,603.67L469.50,599.52L470.00,601.86L470.50,602.10L471.00,600.83L471.50,599.96L472.00,599.75L472.50,596.31L473.00,599.02L473.50,596.49L474.00,598.96L474.50,597.84L475.00,603.35L475.50,599.07L476.00,603.35L476.50,600.94L477.00,601.90L477.50,602.56L478.00,600.61L478.50,602.54L479.00,598.99L479.50,598.45L480.00,600.71L480.50,602.72L481.00,600.19L481.50,600.24L482.00,600.07L482.50,600.44L483.00,600.90L483.50,599.67L484.00,598.79L484.50,602.50L485.00,600.35L485.50,603.18L486.00,603.47L486.50,599.72L486.75,603.35L487.00,601.31L487.50,599.07L488.00,600.31L488.50,603.35L489.00,603.35L489.50,596.98L490.00,598.87L490.50,595.99L491.00,603.35L491.50,599.42L492.00,598.62L492.50,597.13L493.00,599.97L493.50,596.69L494.00,603.35L494.50,595.62L495.00,595.17L495.00,580.80Z" fill="#f80e0e" fill-opacity="0.45"/>
<path d="M284.00,580.80L284.00,592.49L284.50,594.13L285.00,592.11L285.50,594.41L286.00,592.49L286.50,592.31L287.00,590.80L287.50,591.11L288.00,589.32L288.50,588.61L289.00,588.18L289.50,586.05L290.00,584.68L290.50,586.61L291.00,587.62L291.50,588.68L292.00,592.19L292.50,592.23L293.00,592.63L293.50,593.02L294.00,594.41L294.50,591.83L295.00,581.82L295.50,581.88L296.00,581.83L296.50,581.79L297.00,581.78L297.00,581.80L297.50,594.44L298.00,594.21L298.50,593.36L299.00,594.28L299.50,592.99L300.00,593.29L300.50,594.04L301.00,593.41L301.50,581.47L302.00,581.50L302.50,595.97L303.00,595.56L303.50,596.94L304.00,597.09L304.50,595.14L305.00,593.44L305.50,591.97L306.00,591.92L306.50,591.25L307.00,582.66L307.50,582.74L308.00,582.66L308.50,582.44L309.00,582.18L309.50,582.11L310.00,581.73L310.50,581.62L311.00,581.75L311.50,594.24L312.00,581.61L312.50,581.72L313.00,601.15L313.50,601.56L314.00,599.29L314.50,599.12L315.00,599.47L315.50,599.04L316.00,597.53L316.50,598.95L317.00,598.39L317.50,599.05L318.00,602.11L318.50,601.04L319.00,600.15L319.50,598.07L320.00,598.20L320.50,598.45L321.00,599.98L321.50,598.07L322.00,598.71L322.50,602.70L323.00,601.87L323.50,599.81L324.00,598.73L324.50,601.34L325.00,598.05L325.50,598.66L326.00,600.94L326.50,599.29L327.00,601.66L327.50,599.51L328.00,602.63L328.00,602.09L328.50,603.52L329.00,601.21L329.50,603.19L330.00,581.90L330.50,581.88L331.00,600.73L331.50,600.67L332.00,581.80L332.50,581.77L333.00,598.37L333.50,597.39L334.00,598.44L334.50,597.56L335.00,597.21L335.50,600.68L336.00,598.81L336.50,581.77L337.00,581.75L337.50,598.06L338.00,598.51L338.50,595.86L339.00,594.02L339.50,593.53L340.00,593.33L340.50,591.73L341.00,581.84L341.50,581.74L342.00,581.73L342.50,581.81L343.00,581.68L343.50,581.81L344.00,581.75L344.50,581.70L345.00,581.78L345.50,581.76L346.00,581.85L346.50,581.77L347.00,581.75L347.50,580.85L348.00,580.85L348.50,581.85L349.00,589.38L349.50,581.83L350.00,581.86L350.50,581.73L351.00,581.74L351.50,581.79L352.00,581.67L352.50,581.76L353.00,581.85L353.50,595.77L354.00,595.97L354.50,595.51L355.00,596.80L355.50,597.81L356.00,597.87L356.50,597.99L357.00,596.88L357.50,597.54L358.00,599.72L358.50,598.85L359.00,598.13L359.50,600.29L360.00,598.55L360.50,600.75L361.00,598.99L361.50,600.65L362.00,597.97L362.50,599.57L363.00,581.75L363.50,581.72L364.00,599.20L364.50,596.01L365.00,598.91L365.50,599.56L366.00,599.63L366.50,600.35L367.00,599.55L367.50,597.57L368.00,597.48L368.50,597.76L369.00,596.30L369.50,598.83L370.00,581.80L370.50,581.77L371.00,597.70L371.50,598.45L372.00,597.81L372.50,599.52L373.00,601.57L373.50,599.90L374.00,601.52L374.50,599.23L375.00,600.79L375.50,597.30L376.00,596.76L376.50,595.39L377.00,581.75L377.50,581.69L378.00,581.73L378.50,581.81L379.00,581.90L379.50,581.86L380.00,581.82L380.50,581.92L381.00,581.92L381.50,599.03L382.00,593.96L382.50,596.71L383.00,599.67L383.50,598.72L384.00,599.18L384.50,600.02L385.00,581.75L385.50,581.72L386.00,597.70L386.50,597.50L387.00,598.29L387.50,598.52L388.00,597.63L388.50,597.82L389.00,600.09L389.50,599.16L390.00,601.27L390.50,597.59L391.00,596.02L391.50,595.73L392.00,596.94L392.50,592.03L393.00,581.83L393.50,581.77L394.00,581.77L394.50,581.84L395.00,581.72L395.50,581.71L396.00,581.76L396.50,581.82L397.00,581.65L397.50,581.86L398.00,581.74L398.50,581.74L399.00,581.93L399.50,581.75L400.00,592.15L400.50,593.84L401.00,593.99L401.50,594.29L402.00,595.76L402.50,599.02L403.00,599.17L403.50,597.21L404.00,597.42L404.50,581.73L405.00,581.72L405.50,599.11L406.00,596.31L406.50,598.34L407.00,581.62L407.50,581.59L408.00,595.93L408.50,595.63L409.00,593.32L409.50,596.00L410.00,595.63L410.50,597.33L411.00,597.89L411.50,600.03L412.00,597.74L412.50,597.21L413.00,596.26L413.50,598.04L414.00,597.45L414.50,596.96L415.00,600.09L415.50,596.52L416.00,597.34L416.50,581.66L417.00,581.64L417.50,598.34L418.00,598.94L418.50,600.24L419.00,601.24L419.50,598.45L420.00,597.48L420.50,597.56L421.00,595.48L421.50,581.64L422.00,581.67L422.50,598.69L423.00,581.72L423.50,581.73L424.00,597.43L424.50,597.06L425.00,597.20L425.50,597.08L426.00,598.65L426.50,596.61L427.00,581.55L427.50,581.53L428.00,594.90L428.50,581.87L429.00,581.80L429.50,581.86L430.00,582.13L430.50,582.12L431.00,582.30L431.50,582.56L432.00,582.71L432.50,583.09L433.00,583.08L433.50,597.25L434.00,598.36L434.50,599.20L435.00,581.69L435.50,581.72L436.00,597.44L436.50,581.70L437.00,581.68L437.50,597.09L438.00,595.60L438.50,595.40L439.00,598.14L439.50,597.15L440.00,599.75L440.50,598.38L441.00,600.45L441.50,598.44L442.00,597.67L442.50,597.08L443.00,598.68L443.50,581.70L444.00,581.73L444.50,600.65L445.00,599.77L445.50,597.73L446.00,599.94L446.50,599.12L447.00,601.68L447.50,599.44L448.00,599.04L448.50,581.82L449.00,581.77L449.50,581.72L450.00,581.67L450.50,596.89L451.00,598.34L451.50,598.63L452.00,600.38L452.50,597.64L453.00,598.66L453.50,597.18L454.00,596.77L454.50,595.48L455.00,596.90L455.50,596.50L456.00,594.79L456.50,595.45L457.00,593.08L457.50,596.19L458.00,595.52L458.50,598.73L459.00,595.91L459.50,596.74L460.00,595.75L460.50,596.34L461.00,594.73L461.50,594.07L462.00,596.80L462.50,595.21L463.00,594.67L463.50,596.22L464.00,596.18L464.50,595.53L465.00,592.68L465.50,595.41L466.00,596.61L466.50,596.15L467.00,597.07L467.50,600.07L468.00,599.53L468.50,600.23L469.00,597.94L469.50,597.17L470.00,596.74L470.50,598.00L471.00,595.03L471.50,595.34L472.00,581.59L472.50,581.56L473.00,594.64L473.50,594.13L474.00,595.21L474.50,594.08L475.00,594.89L475.50,594.73L476.00,599.04L476.50,598.03L477.00,598.13L477.50,599.55L478.00,597.53L478.50,599.53L479.00,595.95L479.50,597.72L480.00,596.96L480.50,597.82L481.00,598.61L481.50,596.62L482.00,598.60L482.50,597.58L483.00,595.98L483.50,596.93L484.00,598.01L484.50,598.89L485.00,599.99L485.50,598.79L486.00,581.72L486.50,581.70L486.75,598.62L487.00,598.54L487.50,595.67L488.00,597.98L488.50,594.11L489.00,594.15L489.50,592.93L490.00,592.84L490.50,593.82L491.00,594.81L491.50,581.61L492.00,581.63L492.50,594.59L493.00,595.43L493.50,595.11L494.00,594.98L494.50,593.92L495.00,594.76L495.00,580.80Z" fill="#f80e0e"/>
<path d="M284.00,580.80L284.00,579.91L284.50,580.03L285.00,580.47L285.50,580.60L286.00,580.80L286.50,580.80L287.00,580.80L287.50,580.80L288.00,580.80L288.50,580.80L289.00,580.80L289.50,580.80L290.00,579.80L290.50,580.62L291.00,580.32L291.50,580.03L292.00,580.07L292.50,579.89L293.00,579.82L293.50,579.77L294.00,579.78L294.50,579.16L295.00,578.84L295.50,578.18L296.00,576.48L296.50,568.71L297.00,558.80L297.00,558.80L297.50,571.70L298.00,578.13L298.50,575.99L299.00,579.00L299.50,579.82L300.00,579.96L300.50,579.82L301.00,579.79L301.50,580.03L302.00,579.93L302.50,580.10L303.00,578.26L303.50,579.88L304.00,578.56L304.50,579.83L305.00,580.14L305.50,579.78L306.00,578.63L306.50,578.59L307.00,580.08L307.50,578.50L308.00,580.02L308.50,580.19L309.00,578.28L309.50,579.99L310.00,580.11L310.50,579.40L311.00,578.75L311.50,577.26L312.00,574.79L312.50,575.54L313.00,573.71L313.50,577.60L314.00,578.60L314.50,577.67L315.00,577.84L315.50,577.05L316.00,577.66L316.50,576.88L317.00,578.23L317.50,576.50L318.00,576.37L318.50,575.52L319.00,574.95L319.50,575.45L320.00,571.66L320.50,576.18L321.00,577.15L321.50,576.34L322.00,577.08L322.50,577.28L323.00,577.33L323.50,575.73L324.00,576.61L324.50,575.98L325.00,577.20L325.50,577.34L326.00,578.05L326.50,576.89L327.00,577.28L327.50,576.72L328.00,572.80L328.00,572.80L328.50,574.44L329.00,574.58L329.50,576.16L330.00,578.04L330.50,577.10L331.00,576.07L331.50,577.06L332.00,576.40L332.50,574.08L333.00,573.76L333.50,576.35L334.00,575.36L334.50,572.07L335.00,572.02L335.50,572.13L336.00,572.79L336.50,564.31L337.00,572.08L337.50,573.37L338.00,571.69L338.50,571.85L339.00,575.78L339.50,576.91L340.00,577.90L340.50,578.16L341.00,578.36L341.50,579.34L342.00,580.06L342.50,579.82L343.00,579.81L343.50,579.95L344.00,578.58L344.50,579.43L345.00,579.26L345.50,575.21L346.00,578.15L346.50,577.87L347.00,577.72L347.50,578.93L348.00,579.27L348.50,579.05L349.00,579.03L349.50,578.17L350.00,577.05L350.50,577.84L351.00,578.18L351.50,578.91L352.00,579.87L352.50,578.91L353.00,578.45L353.50,577.62L354.00,576.58L354.50,575.99L355.00,573.91L355.50,573.05L356.00,576.04L356.50,575.18L357.00,575.62L357.50,577.16L358.00,579.12L358.50,579.67L359.00,579.31L359.50,579.59L360.00,579.76L360.50,580.06L361.00,578.69L361.50,580.32L362.00,580.42L362.50,580.54L363.00,580.55L363.50,580.67L364.00,580.80L364.50,580.80L365.00,580.80L365.50,580.80L366.00,580.80L366.50,580.80L367.00,580.80L367.50,580.80L368.00,579.80L368.50,580.80L369.00,580.80L369.50,580.80L370.00,580.80L370.50,580.80L371.00,579.80L371.50,580.80L372.00,580.80L372.50,580.80L373.00,580.80L373.50,580.80L374.00,580.80L374.50,580.80L375.00,580.80L375.50,580.80L376.00,580.80L376.50,580.80L377.00,580.80L377.50,580.80L378.00,580.80L378.50,580.80L379.00,580.80L379.50,580.80L380.00,580.80L380.50,580.55L381.00,580.46L381.50,580.02L382.00,579.80L382.50,579.80L383.00,579.84L383.50,579.95L384.00,579.85L384.50,579.97L385.00,579.75L385.50,579.80L386.00,579.89L386.50,578.36L387.00,579.99L387.50,579.81L388.00,578.51L388.50,579.83L389.00,579.79L389.50,579.80L390.00,578.36L390.50,579.90L391.00,579.99L391.50,579.68L392.00,579.84L392.50,578.08L393.00,579.37L393.50,577.15L394.00,579.19L394.50,579.24L395.00,579.15L395.50,579.81L396.00,579.99L396.50,579.65L397.00,579.57L397.50,579.78L398.00,579.20L398.50,579.61L399.00,579.06L399.50,579.41L400.00,579.93L400.50,579.80L401.00,579.60L401.50,578.87L402.00,578.32L402.50,577.75L403.00,577.89L403.50,578.28L404.00,578.35L404.50,576.90L405.00,578.39L405.50,578.25L406.00,579.01L406.50,578.29L407.00,578.15L407.50,578.80L408.00,578.20L408.50,578.59L409.00,579.28L409.50,579.24L410.00,577.93L410.50,579.89L411.00,579.79L411.50,579.53L412.00,579.31L412.50,578.00L413.00,578.77L413.50,578.16L414.00,577.65L414.50,578.51L415.00,580.09L415.50,580.31L416.00,580.29L416.50,580.58L417.00,580.74L417.50,580.80L418.00,579.80L418.50,580.80L419.00,580.80L419.50,580.80L420.00,580.80L420.50,580.80L421.00,580.80L421.50,579.80L422.00,580.80L422.50,580.80L423.00,580.80L423.50,579.80L424.00,580.80L424.50,580.80L425.00,580.80L425.50,580.80L426.00,580.80L426.50,580.80L427.00,580.80L427.50,580.80L428.00,580.80L428.50,580.80L429.00,580.80L429.50,580.80L430.00,579.34L430.50,580.13L431.00,579.79L431.50,579.74L432.00,579.07L432.50,576.47L433.00,578.75L433.50,578.92L434.00,577.84L434.50,577.39L435.00,577.97L435.50,579.43L436.00,579.82L436.50,579.94L437.00,579.85L437.50,579.97L438.00,580.13L438.50,579.74L439.00,579.83L439.50,578.55L440.00,579.68L440.50,579.78L441.00,579.89L441.50,578.57L442.00,579.95L442.50,579.87L443.00,580.07L443.50,579.76L444.00,579.97L444.50,578.22L445.00,580.18L445.50,579.84L446.00,579.75L446.50,579.82L447.00,579.90L447.50,580.11L448.00,579.88L448.50,579.97L449.00,578.44L449.50,579.92L450.00,580.07L450.50,579.83L451.00,579.67L451.50,579.43L452.00,579.08L452.50,578.66L453.00,579.33L453.50,579.86L454.00,580.30L454.50,580.78L455.00,580.80L455.50,580.80L456.00,580.80L456.50,580.80L457.00,580.80L457.50,580.80L458.00,580.80L458.50,580.80L459.00,580.57L459.50,580.04L460.00,579.52L460.50,579.29L461.00,579.36L461.50,579.52L462.00,579.96L462.50,580.52L463.00,580.78L463.50,579.69L464.00,580.66L464.50,580.59L465.00,580.59L465.50,580.54L466.00,580.51L466.50,579.15L467.00,580.35L467.50,580.26L468.00,580.14L468.50,580.08L469.00,580.27L469.50,578.84L470.00,580.16L470.50,579.96L471.00,579.97L471.50,579.81L472.00,579.86L472.50,579.85L473.00,579.49L473.50,579.50L474.00,579.70L474.50,577.63L475.00,579.73L475.50,579.31L476.00,579.42L476.50,579.03L477.00,579.12L477.50,579.05L478.00,578.87L478.50,579.29L479.00,579.40L479.50,578.90L480.00,578.13L480.50,577.11L481.00,578.56L481.50,579.06L482.00,579.51L482.50,579.37L483.00,579.71L483.50,579.80L484.00,579.59L484.50,578.78L485.00,578.75L485.50,576.82L486.00,575.59L486.50,574.18L486.75,573.52L487.00,574.98L487.50,577.93L488.00,579.19L488.50,578.58L489.00,578.91L489.50,578.11L490.00,578.26L490.50,578.71L491.00,576.83L491.50,579.75L492.00,579.70L492.50,580.06L493.00,580.01L493.50,580.19L494.00,579.97L494.50,579.71L495.00,579.99L495.00,580.80Z" fill="#1a1acc"/>
<line x1="284.00" y1="580.80" x2="500.10" y2="580.80" stroke="#333" stroke-width="0.8"/>
<line x1="500.10" y1="561.20" x2="500.10" y2="599.80" stroke="#333" stroke-width="0.6"/>
<path d="M499.20,562.80 L500.10,560.90 L501.00,562.80 Z" fill="#222"/>
<path d="M499.20,598.20 L500.10,600.10 L501.00,598.20 Z" fill="#222"/>
<text transform="translate(505.80,581.10) rotate(-90)" font-size="6.5" font-weight="normal" text-anchor="middle" dominant-baseline="central" fill="#111" >H3K27 H3K4</text>
<text transform="translate(514.40,582.10) rotate(-90)" font-size="6.5" font-weight="normal" text-anchor="middle" dominant-baseline="central" fill="#111" >AML7</text>
<text transform="translate(280.60,560.30) rotate(-90)" font-size="5.4" text-anchor="middle" dominant-baseline="central" fill="#222">4</text>
<text transform="translate(280.60,569.80) rotate(-90)" font-size="5.4" text-anchor="middle" dominant-baseline="central" fill="#222">2</text>
<text transform="translate(280.60,580.80) rotate(-90)" font-size="5.4" text-anchor="middle" dominant-baseline="central" fill="#222">0</text>
<text transform="translate(280.60,591.80) rotate(-90)" font-size="5.4" text-anchor="middle" dominant-baseline="central" fill="#222">2</text>
<text transform="translate(280.60,601.00) rotate(-90)" font-size="5.4" text-anchor="middle" dominant-baseline="central" fill="#222">4</text>
<path d="M284.00,625.88L284.00,627.97L284.50,628.03L285.00,628.23L285.50,629.54L286.00,633.64L286.50,633.88L287.00,630.06L287.50,629.45L288.00,629.06L288.50,628.74L289.00,631.08L289.50,631.08L290.00,628.31L290.50,628.03L291.00,627.67L291.50,627.30L292.00,629.48L292.50,627.19L293.00,627.50L293.50,630.68L294.00,628.20L294.50,627.82L295.00,627.46L295.50,627.14L296.00,626.91L296.50,627.06L297.00,626.95L297.00,629.48L297.50,627.01L298.00,626.93L298.50,627.04L299.00,627.04L299.50,634.49L300.00,633.85L300.50,635.42L301.00,636.95L301.50,635.56L302.00,643.88L302.50,636.60L303.00,642.28L303.50,641.48L304.00,640.68L304.50,634.86L305.00,634.21L305.50,633.14L306.00,632.87L306.50,632.59L307.00,628.13L307.50,628.27L308.00,628.34L308.50,627.83L309.00,627.45L309.50,627.36L310.00,626.89L310.50,627.05L311.00,627.03L311.50,641.80L312.00,643.15L312.50,645.13L313.00,644.43L313.00,641.62L313.50,641.77L314.00,642.28L314.50,641.51L315.00,640.74L315.50,640.28L316.00,638.97L316.50,639.14L317.00,640.99L317.50,641.73L318.00,644.99L318.50,648.43L319.00,648.43L319.50,642.44L320.00,641.43L320.50,640.89L321.00,639.34L321.50,639.03L322.00,639.34L322.50,639.27L323.00,640.16L323.50,641.25L324.00,642.24L324.50,643.15L325.00,648.43L325.50,642.72L326.00,645.04L326.50,643.82L327.00,640.15L327.50,640.08L328.00,639.57L328.50,639.97L329.00,644.49L329.50,643.77L330.00,646.46L330.50,644.56L331.00,644.12L331.50,643.51L332.00,642.41L332.50,641.49L333.00,641.02L333.50,642.08L334.00,640.67L334.50,642.82L335.00,648.43L335.50,641.38L336.00,643.67L336.50,643.52L337.00,640.90L337.50,641.06L338.00,638.24L338.50,638.90L339.00,640.57L339.50,648.43L340.00,642.77L340.50,640.67L341.00,628.18L341.50,628.18L342.00,628.24L342.50,628.02L343.00,627.50L343.50,627.18L344.00,626.98L344.50,626.93L345.00,627.09L345.50,626.98L346.00,627.02L346.50,629.48L347.00,627.10L347.50,626.92L348.00,626.92L348.50,627.05L349.00,626.90L349.50,627.12L350.00,626.91L350.50,627.02L351.00,627.01L351.50,627.12L352.00,626.90L352.50,626.98L353.00,627.03L353.50,641.08L354.00,641.08L354.50,645.70L355.00,645.03L355.50,645.20L356.00,647.37L356.50,647.29L357.00,648.43L357.50,642.41L358.00,642.52L358.50,645.53L359.00,647.86L359.50,648.51L360.00,650.24L360.50,648.49L361.00,648.27L361.50,648.97L362.00,646.34L362.50,644.71L363.00,646.83L363.50,645.02L364.00,642.73L364.50,648.43L365.00,643.55L365.50,642.71L366.00,641.78L366.50,648.43L367.00,642.67L367.50,643.35L368.00,648.43L368.50,645.97L369.00,645.41L369.50,645.94L370.00,644.18L370.50,643.97L371.00,643.46L371.50,643.47L372.00,642.16L372.50,640.50L373.00,644.55L373.50,642.44L374.00,642.54L374.50,643.75L375.00,641.95L375.50,643.30L376.00,643.32L376.50,639.85L377.00,627.09L377.50,629.48L378.00,627.00L378.50,629.48L379.00,626.95L379.50,626.96L380.00,626.98L380.50,627.07L381.00,627.09L381.50,640.39L382.00,641.66L382.50,643.77L383.00,644.60L383.50,645.95L384.00,648.20L384.50,644.17L385.00,646.83L385.50,645.76L386.00,642.86L386.50,642.74L387.00,641.41L387.50,639.66L388.00,641.28L388.50,643.69L389.00,642.55L389.50,644.85L390.00,643.35L390.50,642.17L391.00,642.13L391.50,640.18L392.00,638.67L392.50,637.38L393.00,627.15L393.50,627.11L394.00,627.01L394.50,626.96L395.00,626.99L395.50,627.05L396.00,629.54L396.50,627.12L397.00,627.00L397.50,627.14L398.00,627.18L398.50,627.06L399.00,627.02L399.50,629.54L400.00,639.08L400.50,642.28L401.00,642.67L401.50,644.47L402.00,645.91L402.50,643.19L403.00,648.43L403.50,644.81L404.00,648.19L404.50,646.45L405.00,644.27L405.50,644.60L406.00,646.21L406.50,644.14L407.00,645.69L407.50,643.58L408.00,641.88L408.50,641.39L409.00,641.35L409.50,644.33L410.00,646.57L410.50,644.13L411.00,647.65L411.50,646.88L412.00,643.52L412.50,643.20L413.00,643.85L413.50,645.29L414.00,643.80L414.50,641.96L415.00,643.57L415.50,643.33L416.00,643.50L416.50,642.72L417.00,644.14L417.50,643.24L418.00,643.00L418.50,641.33L419.00,642.29L419.50,648.43L420.00,644.95L420.50,645.26L421.00,644.54L421.50,645.29L422.00,644.66L422.50,644.37L423.00,642.49L423.50,641.11L424.00,642.54L424.50,642.09L425.00,643.27L425.50,642.57L426.00,641.59L426.50,648.43L427.00,641.24L427.50,639.94L428.00,639.76L428.50,628.41L429.00,628.44L429.50,628.08L430.00,628.28L430.50,631.21L431.00,628.05L431.50,628.40L432.00,628.38L432.50,628.43L433.00,628.24L433.50,641.41L434.00,643.75L434.50,643.68L435.00,641.80L435.50,644.97L436.00,644.59L436.50,646.36L437.00,646.50L437.50,644.88L438.00,647.45L438.50,647.59L439.00,644.94L439.50,643.13L440.00,644.07L440.50,644.56L441.00,641.90L441.50,642.44L442.00,646.11L442.50,644.51L443.00,642.43L443.50,642.52L444.00,641.44L444.50,642.49L445.00,645.12L445.50,644.77L446.00,646.09L446.50,645.03L447.00,643.11L447.50,642.86L448.00,641.77L448.50,643.25L449.00,644.52L449.50,642.90L450.00,644.82L450.50,643.82L451.00,643.76L451.50,644.63L452.00,648.43L452.50,642.09L453.00,642.90L453.50,641.46L454.00,640.37L454.50,639.67L455.00,641.31L455.50,642.00L456.00,640.91L456.50,643.02L457.00,648.43L457.50,639.64L458.00,639.83L458.50,640.41L459.00,640.24L459.50,639.26L460.00,639.95L460.50,643.65L461.00,643.73L461.50,648.43L462.00,641.99L462.50,640.71L463.00,639.13L463.50,640.84L464.00,641.17L464.50,648.43L465.00,642.53L465.50,641.85L466.00,641.74L466.50,640.82L467.00,640.16L467.50,639.29L468.00,641.24L468.50,640.33L469.00,642.79L469.50,641.55L470.00,640.22L470.50,642.14L471.00,641.40L471.50,641.79L472.00,642.32L472.50,641.45L473.00,642.29L473.50,641.96L474.00,640.43L474.50,641.64L475.00,639.18L475.50,638.74L476.00,642.05L476.50,639.92L477.00,642.86L477.50,642.68L478.00,641.59L478.50,640.61L479.00,648.43L479.50,638.56L480.00,640.77L480.50,648.43L481.00,642.65L481.50,642.99L482.00,643.41L482.50,640.82L483.00,641.22L483.50,648.05L484.00,641.26L484.50,640.62L485.00,639.82L485.50,642.77L486.00,643.56L486.50,641.07L487.00,639.69L487.50,640.05L488.00,639.94L488.50,640.82L489.00,641.52L489.50,641.45L490.00,643.83L490.50,640.21L491.00,642.01L491.50,641.77L492.00,639.36L492.50,640.32L493.00,638.87L493.50,638.93L494.00,638.03L494.50,636.40L495.00,642.96L495.00,625.88Z" fill="#f80e0e" fill-opacity="0.45"/>
<path d="M284.00,625.88L284.00,627.98L284.50,627.90L285.00,627.90L285.50,629.48L286.00,628.91L286.50,629.36L287.00,629.64L287.50,629.36L288.00,628.84L288.50,628.66L289.00,627.79L289.50,627.99L290.00,627.82L290.50,627.71L291.00,627.34L291.50,627.16L292.00,625.93L292.50,625.94L293.00,625.96L293.50,625.97L294.00,627.99L294.50,627.60L295.00,627.31L295.50,627.08L296.00,626.85L296.50,625.93L297.00,625.93L297.00,625.93L297.50,625.93L298.00,626.86L298.50,626.79L299.00,626.80L299.50,632.77L300.00,633.45L300.50,634.21L301.00,634.51L301.50,635.66L302.00,635.92L302.50,636.63L303.00,634.69L303.50,633.87L304.00,633.87L304.50,633.76L305.00,632.51L305.50,631.92L306.00,631.84L306.50,630.83L307.00,627.60L307.50,627.56L308.00,627.73L308.50,627.51L309.00,627.38L309.50,627.10L310.00,626.90L310.50,626.96L311.00,625.93L311.50,626.60L312.00,640.84L312.50,641.76L313.00,639.50L313.00,626.63L313.50,626.61L314.00,640.18L314.50,637.99L315.00,637.47L315.50,637.15L316.00,636.82L316.50,637.48L317.00,639.18L317.50,638.60L318.00,626.68L318.50,626.65L319.00,640.61L319.50,640.14L320.00,638.58L320.50,638.22L321.00,638.62L321.50,638.56L322.00,637.63L322.50,639.05L323.00,639.28L323.50,638.46L324.00,640.83L324.50,640.45L325.00,642.32L325.50,643.18L326.00,642.23L326.50,642.57L327.00,640.46L327.50,638.69L328.00,637.98L328.50,640.71L329.00,641.43L329.50,640.91L330.00,643.33L330.50,642.86L331.00,642.85L331.50,642.35L332.00,642.49L332.50,641.65L333.00,640.84L333.50,639.93L334.00,640.42L334.50,640.16L335.00,639.65L335.50,639.62L336.00,642.25L336.50,641.29L337.00,639.60L337.50,637.37L338.00,638.12L338.50,638.16L339.00,639.22L339.50,640.52L340.00,640.87L340.50,638.09L341.00,627.91L341.50,628.00L342.00,628.01L342.50,627.62L343.00,627.11L343.50,626.97L344.00,626.81L344.50,626.83L345.00,626.78L345.50,626.82L346.00,626.73L346.50,626.82L347.00,626.86L347.50,627.00L348.00,626.92L348.50,626.83L349.00,626.88L349.50,626.75L350.00,626.71L350.50,626.98L351.00,626.84L351.50,626.85L352.00,626.85L352.50,626.88L353.00,626.87L353.50,641.09L354.00,641.26L354.50,643.72L355.00,626.73L355.50,626.75L356.00,644.95L356.50,644.21L357.00,643.91L357.50,641.63L358.00,640.26L358.50,644.14L359.00,641.60L359.50,644.55L360.00,644.48L360.50,645.22L361.00,644.43L361.50,644.29L362.00,642.03L362.50,643.45L363.00,643.50L363.50,643.46L364.00,641.28L364.50,640.19L365.00,639.31L365.50,638.02L366.00,638.93L366.50,642.42L367.00,641.35L367.50,643.78L368.00,643.34L368.50,640.72L369.00,643.00L369.50,626.71L370.00,626.68L370.50,639.71L371.00,641.40L371.50,639.51L372.00,637.47L372.50,639.97L373.00,641.30L373.50,642.70L374.00,643.42L374.50,626.65L375.00,626.63L375.50,639.50L376.00,640.74L376.50,638.36L377.00,626.75L377.50,626.95L378.00,625.93L378.50,625.93L379.00,626.84L379.50,626.97L380.00,626.97L380.50,626.97L381.00,626.83L381.50,639.08L382.00,640.67L382.50,642.28L383.00,640.75L383.50,642.21L384.00,642.90L384.50,642.68L385.00,643.82L385.50,640.69L386.00,641.50L386.50,640.76L387.00,639.48L387.50,638.16L388.00,636.70L388.50,638.41L389.00,626.64L389.50,626.67L390.00,639.70L390.50,639.87L391.00,639.23L391.50,636.21L392.00,635.42L392.50,634.71L393.00,626.84L393.50,626.86L394.00,626.94L394.50,626.91L395.00,626.96L395.50,626.88L396.00,626.95L396.50,626.92L397.00,626.89L397.50,627.00L398.00,626.85L398.50,626.86L399.00,626.82L399.50,626.87L400.00,638.62L400.50,638.40L401.00,641.42L401.50,641.32L402.00,641.17L402.50,641.80L403.00,642.42L403.50,643.95L404.00,644.22L404.50,643.41L405.00,646.13L405.50,644.69L406.00,643.75L406.50,642.41L407.00,643.82L407.50,642.08L408.00,642.01L408.50,639.17L409.00,640.41L409.50,641.51L410.00,642.85L410.50,643.42L411.00,642.16L411.50,641.98L412.00,642.63L412.50,642.66L413.00,643.26L413.50,641.82L414.00,639.93L414.50,641.11L415.00,639.94L415.50,642.54L416.00,642.79L416.50,644.00L417.00,641.76L417.50,642.42L418.00,642.13L418.50,626.64L419.00,626.62L419.50,641.85L420.00,640.64L420.50,640.95L421.00,642.54L421.50,641.86L422.00,643.48L422.50,640.50L423.00,641.91L423.50,626.62L424.00,626.64L424.50,641.65L425.00,641.98L425.50,639.95L426.00,639.09L426.50,639.15L427.00,637.87L427.50,638.17L428.00,636.82L428.50,627.69L429.00,627.73L429.50,627.73L430.00,627.98L430.50,627.95L431.00,625.98L431.50,625.98L432.00,628.06L432.50,627.93L433.00,627.87L433.50,637.83L434.00,640.58L434.50,639.37L435.00,641.59L435.50,640.81L436.00,641.12L436.50,642.60L437.00,644.20L437.50,644.65L438.00,642.02L438.50,643.21L439.00,642.72L439.50,639.55L440.00,640.15L440.50,639.80L441.00,639.56L441.50,640.16L442.00,641.54L442.50,641.27L443.00,641.74L443.50,642.51L444.00,640.38L444.50,640.67L445.00,641.91L445.50,626.68L446.00,626.70L446.50,642.77L447.00,641.10L447.50,640.32L448.00,626.62L448.50,626.62L449.00,641.65L449.50,641.42L450.00,643.06L450.50,626.71L451.00,626.68L451.50,641.93L452.00,640.97L452.50,640.11L453.00,639.52L453.50,639.78L454.00,637.98L454.50,639.12L455.00,626.53L455.50,626.55L456.00,639.80L456.50,642.19L457.00,639.39L457.50,637.54L458.00,639.27L458.50,638.06L459.00,637.58L459.50,638.92L460.00,639.49L460.50,640.59L461.00,640.07L461.50,638.89L462.00,638.47L462.50,638.25L463.00,638.22L463.50,637.56L464.00,639.86L464.50,639.86L465.00,626.60L465.50,626.58L466.00,639.61L466.50,637.94L467.00,638.88L467.50,639.64L468.00,639.14L468.50,639.11L469.00,639.55L469.50,640.83L470.00,639.52L470.50,638.16L471.00,638.23L471.50,626.52L472.00,626.55L472.50,639.37L473.00,640.96L473.50,641.22L474.00,637.92L474.50,637.14L475.00,637.40L475.50,637.74L476.00,639.53L476.50,641.35L477.00,640.95L477.50,639.94L478.00,641.08L478.50,639.04L479.00,638.00L479.50,639.04L480.00,639.68L480.50,639.97L481.00,641.40L481.50,641.77L482.00,626.59L482.50,626.56L483.00,639.20L483.50,639.46L484.00,639.58L484.50,639.25L485.00,640.33L485.50,639.83L486.00,639.74L486.50,639.16L487.00,639.25L487.50,639.28L488.00,626.51L488.50,626.54L489.00,639.72L489.50,641.48L490.00,640.45L490.50,640.03L491.00,639.86L491.50,639.63L492.00,638.57L492.50,637.62L493.00,636.79L493.50,636.84L494.00,637.63L494.50,636.69L495.00,635.28L495.00,625.88Z" fill="#f80e0e"/>
<path d="M284.00,625.88L284.00,624.84L284.50,625.12L285.00,625.10L285.50,624.89L286.00,625.11L286.50,624.87L287.00,624.86L287.50,625.10L288.00,624.85L288.50,624.91L289.00,625.32L289.50,624.98L290.00,625.13L290.50,625.05L291.00,625.00L291.50,625.12L292.00,624.79L292.50,624.87L293.00,622.62L293.50,624.06L294.00,623.72L294.50,622.97L295.00,620.11L295.50,620.50L296.00,620.28L296.50,616.05L297.00,603.88L297.00,603.88L297.50,616.39L298.00,620.22L298.50,620.61L299.00,621.60L299.50,623.41L300.00,624.90L300.50,625.00L301.00,624.71L301.50,624.15L302.00,624.42L302.50,624.17L303.00,623.70L303.50,623.77L304.00,624.91L304.50,625.13L305.00,625.15L305.50,623.58L306.00,625.19L306.50,625.15L307.00,625.12L307.50,624.88L308.00,625.15L308.50,625.00L309.00,625.10L309.50,625.05L310.00,624.82L310.50,623.78L311.00,622.91L311.50,622.83L312.00,621.18L312.50,620.38L313.00,617.88L313.00,617.88L313.50,619.95L314.00,622.07L314.50,622.28L315.00,623.04L315.50,620.90L316.00,621.05L316.50,621.68L317.00,621.56L317.50,622.43L318.00,621.97L318.50,622.78L319.00,623.17L319.50,622.77L320.00,622.91L320.50,623.11L321.00,622.33L321.50,619.59L322.00,622.93L322.50,622.50L323.00,623.62L323.50,623.52L324.00,620.58L324.50,623.15L325.00,622.80L325.50,623.69L326.00,622.13L326.50,622.39L327.00,620.59L327.50,622.63L328.00,623.33L328.50,623.90L329.00,623.39L329.50,624.33L330.00,624.29L330.50,624.01L331.00,624.04L331.50,623.73L332.00,623.32L332.50,622.73L333.00,622.47L333.50,622.40L334.00,623.31L334.50,622.60L335.00,622.44L335.50,622.81L336.00,620.75L336.50,621.25L337.00,622.04L337.50,619.72L338.00,620.81L338.50,621.71L339.00,622.00L339.50,621.73L340.00,621.86L340.50,622.28L341.00,621.00L341.50,620.59L342.00,620.36L342.50,621.30L343.00,622.43L343.50,617.26L344.00,620.83L344.50,621.77L345.00,622.78L345.50,621.54L346.00,619.52L346.50,621.77L347.00,621.32L347.50,621.26L348.00,621.15L348.50,618.23L349.00,621.80L349.50,623.09L350.00,623.27L350.50,623.19L351.00,623.28L351.50,621.18L352.00,622.87L352.50,622.09L353.00,621.87L353.50,619.94L354.00,620.21L354.50,620.52L355.00,621.04L355.50,620.60L356.00,621.07L356.50,621.96L357.00,621.17L357.50,622.43L358.00,620.22L358.50,620.78L359.00,620.84L359.50,622.75L360.00,623.14L360.50,622.57L361.00,622.43L361.50,621.75L362.00,621.18L362.50,623.04L363.00,622.11L363.50,622.87L364.00,623.70L364.50,623.61L365.00,624.07L365.50,624.85L366.00,624.83L366.50,625.13L367.00,623.40L367.50,624.85L368.00,624.89L368.50,624.85L369.00,624.96L369.50,625.06L370.00,625.06L370.50,625.03L371.00,623.38L371.50,625.09L372.00,625.09L372.50,625.25L373.00,625.09L373.50,624.97L374.00,625.26L374.50,624.99L375.00,624.87L375.50,623.55L376.00,624.97L376.50,625.29L377.00,625.13L377.50,625.01L378.00,625.09L378.50,624.91L379.00,624.91L379.50,624.94L380.00,623.61L380.50,624.82L381.00,624.35L381.50,624.45L382.00,624.61L382.50,624.37L383.00,624.47L383.50,624.84L384.00,625.13L384.50,625.02L385.00,624.88L385.50,625.22L386.00,623.60L386.50,624.92L387.00,625.09L387.50,623.45L388.00,624.96L388.50,624.94L389.00,625.22L389.50,625.24L390.00,625.00L390.50,624.65L391.00,624.68L391.50,624.14L392.00,624.03L392.50,624.11L393.00,624.48L393.50,623.93L394.00,624.19L394.50,624.33L395.00,623.46L395.50,623.16L396.00,620.66L396.50,622.60L397.00,622.97L397.50,623.18L398.00,623.43L398.50,622.48L399.00,623.35L399.50,620.43L400.00,622.40L400.50,622.48L401.00,623.38L401.50,623.44L402.00,622.48L402.50,623.63L403.00,623.21L403.50,622.64L404.00,623.70L404.50,621.28L405.00,622.41L405.50,622.38L406.00,622.28L406.50,622.38L407.00,622.52L407.50,623.50L408.00,623.66L408.50,624.08L409.00,623.80L409.50,624.87L410.00,624.51L410.50,624.64L411.00,625.23L411.50,624.89L412.00,625.13L412.50,624.91L413.00,624.77L413.50,624.72L414.00,624.89L414.50,624.66L415.00,623.87L415.50,624.32L416.00,624.92L416.50,624.96L417.00,625.00L417.50,625.01L418.00,625.32L418.50,625.37L419.00,625.37L419.50,625.43L420.00,625.56L420.50,625.76L421.00,625.81L421.50,625.88L422.00,625.88L422.50,625.88L423.00,624.88L423.50,625.88L424.00,625.88L424.50,625.88L425.00,624.88L425.50,625.88L426.00,625.88L426.50,625.88L427.00,625.88L427.50,625.88L428.00,625.88L428.50,625.88L429.00,625.88L429.50,625.88L430.00,625.87L430.50,625.85L431.00,624.77L431.50,625.80L432.00,625.75L432.50,625.73L433.00,625.75L433.50,624.61L434.00,625.74L434.50,624.52L435.00,625.59L435.50,625.60L436.00,625.55L436.50,625.63L437.00,625.54L437.50,625.53L438.00,625.60L438.50,625.58L439.00,625.39L439.50,625.41L440.00,625.35L440.50,625.54L441.00,624.12L441.50,625.26L442.00,623.98L442.50,625.31L443.00,625.18L443.50,625.26L444.00,625.37L444.50,625.17L445.00,625.25L445.50,625.19L446.00,625.20L446.50,625.17L447.00,625.17L447.50,625.02L448.00,625.06L448.50,625.07L449.00,624.94L449.50,625.24L450.00,624.82L450.50,625.05L451.00,624.65L451.50,624.45L452.00,623.37L452.50,623.87L453.00,623.22L453.50,624.31L454.00,624.28L454.50,625.13L455.00,624.94L455.50,625.03L456.00,624.72L456.50,624.64L457.00,624.78L457.50,624.54L458.00,624.44L458.50,624.34L459.00,624.76L459.50,624.54L460.00,624.47L460.50,624.32L461.00,623.91L461.50,622.84L462.00,624.65L462.50,625.05L463.00,624.99L463.50,624.70L464.00,624.93L464.50,624.48L465.00,624.43L465.50,624.45L466.00,622.21L466.50,623.82L467.00,623.54L467.50,624.02L468.00,623.48L468.50,623.10L469.00,623.81L469.50,622.66L470.00,622.57L470.50,623.38L471.00,622.99L471.50,621.99L472.00,622.19L472.50,622.47L473.00,619.72L473.50,622.09L474.00,622.78L474.50,623.69L475.00,624.88L475.50,624.82L476.00,624.94L476.50,623.35L477.00,625.04L477.50,625.23L478.00,625.04L478.50,625.25L479.00,623.68L479.50,624.89L480.00,624.63L480.50,624.46L481.00,624.09L481.50,624.62L482.00,624.03L482.50,624.38L483.00,624.64L483.50,624.95L484.00,624.90L484.50,623.12L485.00,624.92L485.50,624.77L486.00,624.37L486.50,624.61L487.00,624.26L487.50,624.43L488.00,624.47L488.50,624.76L489.00,624.92L489.50,624.77L490.00,625.05L490.50,624.79L491.00,624.83L491.50,624.98L492.00,624.80L492.50,624.76L493.00,624.97L493.50,623.50L494.00,624.92L494.50,624.94L495.00,624.96L495.00,625.88Z" fill="#1a1acc"/>
<line x1="284.00" y1="625.88" x2="500.10" y2="625.88" stroke="#333" stroke-width="0.8"/>
<line x1="500.10" y1="606.28" x2="500.10" y2="644.88" stroke="#333" stroke-width="0.6"/>
<path d="M499.20,607.88 L500.10,605.98 L501.00,607.88 Z" fill="#222"/>
<path d="M499.20,643.28 L500.10,645.18 L501.00,643.28 Z" fill="#222"/>
<text transform="translate(505.80,626.18) rotate(-90)" font-size="6.5" font-weight="normal" text-anchor="middle" dominant-baseline="central" fill="#111" >H3K27 H3K4</text>
<text transform="translate(514.40,627.18) rotate(-90)" font-size="6.5" font-weight="normal" text-anchor="middle" dominant-baseline="central" fill="#111" >AML8</text>
<text transform="translate(280.60,605.38) rotate(-90)" font-size="5.4" text-anchor="middle" dominant-baseline="central" fill="#222">4</text>
<text transform="translate(280.60,614.88) rotate(-90)" font-size="5.4" text-anchor="middle" dominant-baseline="central" fill="#222">2</text>
<text transform="translate(280.60,625.88) rotate(-90)" font-size="5.4" text-anchor="middle" dominant-baseline="central" fill="#222">0</text>
<text transform="translate(280.60,636.88) rotate(-90)" font-size="5.4" text-anchor="middle" dominant-baseline="central" fill="#222">2</text>
<text transform="translate(280.60,646.08) rotate(-90)" font-size="5.4" text-anchor="middle" dominant-baseline="central" fill="#222">4</text>
<text transform="translate(271.80,491.80) rotate(-90)" font-size="7.3" font-weight="normal" text-anchor="middle" dominant-baseline="central" fill="#111" >Log2 Enrichment</text>
<rect x="284.4" y="649.7" width="212.3" height="7.8" fill="#0a0a0a"/>
<rect x="307.60" y="649.7" width="4.60" height="7.8" fill="#f6f6f6"/>
<rect x="376.60" y="649.7" width="4.80" height="7.8" fill="#f6f6f6"/>
<rect x="428.80" y="649.7" width="4.60" height="7.8" fill="#f6f6f6"/>
<rect x="482.5" y="649.7" width="3.3" height="7.8" fill="#444"/>
<text transform="translate(504.20,657.30) rotate(-90)" font-size="6.5" font-weight="normal" text-anchor="middle" dominant-baseline="central" fill="#111" >Probes</text>
<line x1="284.2" y1="663.6" x2="496.5" y2="663.6" stroke="#333" stroke-width="0.7"/>
<line x1="284.2" y1="661.8" x2="284.2" y2="665.4" stroke="#333" stroke-width="0.7"/>
<line x1="496.5" y1="661.8" x2="496.5" y2="665.4" stroke="#333" stroke-width="0.7"/>
<rect x="374" y="659.5" width="21.5" height="8" fill="#fff"/>
<text x="384.6" y="666.2" font-size="6.8" text-anchor="middle" fill="#222">13 Kb</text>
<rect x="343.8" y="678.2" width="19.3" height="10.3" fill="#d9a21b"/>
<rect x="400" y="678.3" width="56" height="10.3" fill="#d9a21b"/>
<path d="M363.1,678.2 L381,672.7 L400,678.6" fill="none" stroke="#333" stroke-width="0.7"/>
<path d="M344.4,678.2 V672.3 H351" fill="none" stroke="#222" stroke-width="0.8"/>
<path d="M350.2,670.6 L354,672.3 L350.2,674 Z" fill="#111"/>
<rect x="341.5" y="692.4" width="20.8" height="3.1" fill="#d8262e"/>
<text x="302" y="696.2" font-size="7" fill="#222">CpG Island</text>
<text x="365.6" y="696.4" font-size="7.2" fill="#222">p15INK4b</text>
</svg></body></html>
